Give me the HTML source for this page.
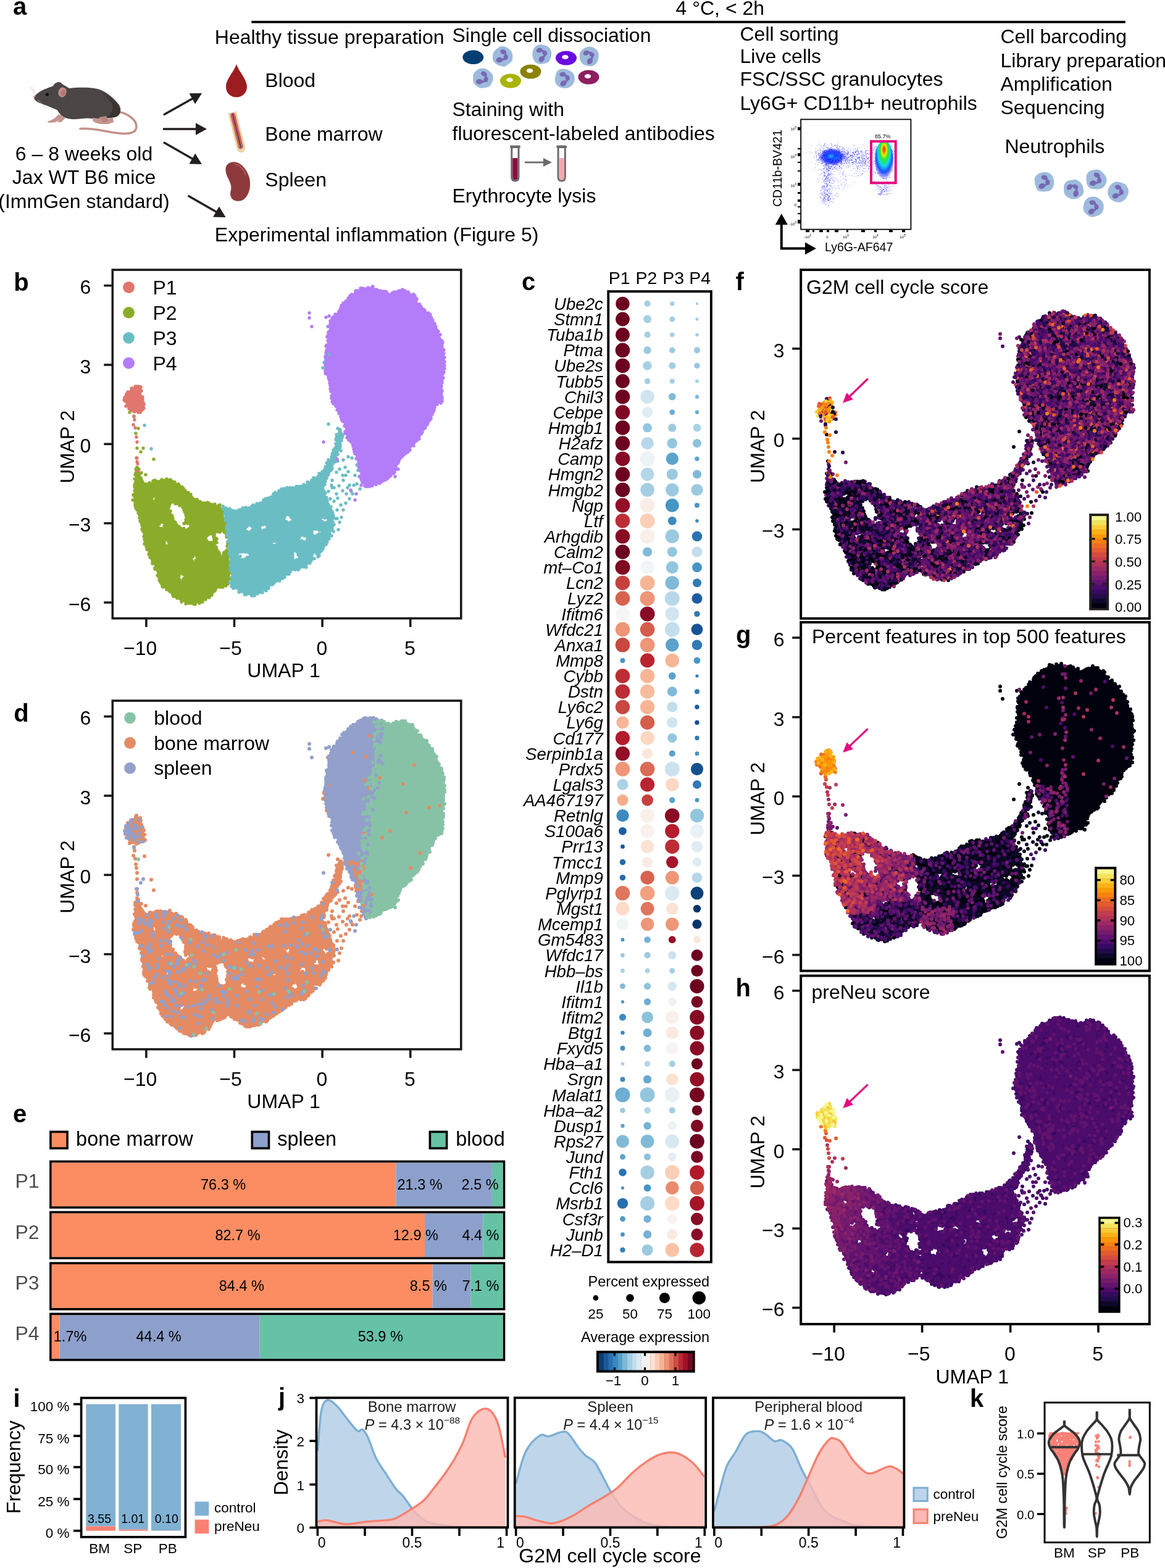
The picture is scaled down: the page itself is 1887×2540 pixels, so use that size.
<!DOCTYPE html><html><head><meta charset="utf-8"><title>Figure</title><style>html,body{margin:0;padding:0;background:#fff;width:1887px;height:2540px;overflow:hidden}svg{display:block}</style></head><body><svg xmlns="http://www.w3.org/2000/svg" width="1887" height="2540" viewBox="0 0 1887 2540" font-family="Liberation Sans, Helvetica, Arial, sans-serif"><rect width="1887" height="2540" fill="#fff"/><text x="21.0" y="23.6" font-size="40" font-weight="bold">a</text><path d="M407.3 35.7L1822.9 35.7" stroke="#000" stroke-width="3.8"/><text x="1094.5" y="23.6" font-size="32">4 °C, &lt; 2h</text><g><path d="M191 181 C205 183 221 193 221 205 C221 216 208 218 190 215.5 C170 213 150 207 130 208.5" stroke="#c4918b" stroke-width="3.6" fill="none" stroke-linecap="round"/><path d="M55.5 156.5 C60 150 70 145 80 141.5 L86 139.5 C88 134 95 132 99 135 L112 143 C125 141.5 145 141 158 144 C172 148 186 160 193 170 C197 177 196 185 189 189 C178 192 160 193 140 191.5 C128 192 118 195 108 191.5 C100 189 96 184 93 178.5 C84 174 72 170 62 166 C57 163 54 160 55.5 156.5Z" fill="#4b4545"/><path d="M165 150 C178 156 190 166 194 176 C196 184 192 188 186 190 C181 191 176 191.5 172 191 C180 186 184 178 182 170 C179 162 172 155 165 150Z" fill="#3a3332"/><path d="M89 137 C91 132 98 132 100 135 L98 141 L90 141Z" fill="#4b4545"/><ellipse cx="101" cy="149.5" rx="6.5" ry="8" fill="#c48e8a" transform="rotate(15 101 149.5)"/><ellipse cx="102.5" cy="150.5" rx="3.5" ry="5.5" fill="#b07872" transform="rotate(15 102.5 150.5)"/><circle cx="76.5" cy="153" r="2.6" fill="#111"/><circle cx="55.8" cy="156.5" r="1.8" fill="#c98c8c"/><path d="M95 185 L101 188 L97 194 L90 198 L80 199 L76 197 L82 195 L88 192Z" fill="#c69590"/><path d="M101 188 L106 191 L99 198 L93 198 L96 194Z" fill="#c69590"/><path d="M150 191 L160 192 L170 194 L183 190 L184 198 L175 201 L163 201 L155 199 L151 197Z" fill="#c69590"/><path d="M160 190 L172 188 L176 196 L168 199Z" fill="#b88580"/><path d="M56 152 L49 140 M57 151 L52 141 M60 161 L74 176 M62 162 L80 178" stroke="#b5b5b5" stroke-width="0.5" fill="none"/></g><text x="136.0" y="260.3" font-size="32" text-anchor="middle">6 – 8 weeks old</text><text x="136.0" y="297.8" font-size="32" text-anchor="middle">Jax WT B6 mice</text><text x="136.0" y="336.6" font-size="32" text-anchor="middle">(ImmGen standard)</text><path d="M265.0 186.0L313.1 158.9" stroke="#231f20" stroke-width="3.4"/><path d="M327.0 151.0L316.1 168.4L306.5 151.3Z" fill="#231f20"/><path d="M264.0 209.0L319.0 209.0" stroke="#231f20" stroke-width="3.4"/><path d="M335.0 209.0L317.0 218.8L317.0 199.2Z" fill="#231f20"/><path d="M265.0 230.5L313.1 258.0" stroke="#231f20" stroke-width="3.4"/><path d="M327.0 266.0L306.5 265.6L316.2 248.6Z" fill="#231f20"/><path d="M304.6 317.0L351.7 344.0" stroke="#231f20" stroke-width="3.4"/><path d="M365.6 352.0L345.1 351.5L354.9 334.5Z" fill="#231f20"/><text x="347.8" y="71.3" font-size="32">Healthy tissue preparation</text><path d="M383 103.5 C386 115 400 128 400 140.5 C400 150.5 392.5 157.5 383 157.5 C373.5 157.5 366 150.5 366 140.5 C366 128 380 115 383 103.5Z" fill="#9c1d20"/><text x="429.3" y="141.0" font-size="32">Blood</text><g transform="rotate(-14 384 214)"><rect x="377" y="181" width="14" height="67" rx="7" fill="#e8d6a7"/><rect x="377" y="181" width="14" height="4" fill="#e8d6a7"/><rect x="380" y="182" width="8" height="60" rx="4" fill="#d8604f"/><rect x="383.2" y="183" width="1.6" height="57" fill="#3d3a78"/></g><text x="429.3" y="227.7" font-size="32">Bone marrow</text><path d="M374 263 C385 259 398 270 403 285 C408 300 404 320 391 325 C380 328 370 322 374 308 C377 296 366 288 365.5 276 C365 269 368 265 374 263Z" fill="#8e3a3c"/><path d="M378 266 C386 265 395 273 398 284" stroke="#b86a6a" stroke-width="1.2" fill="none"/><text x="429.3" y="302.0" font-size="32">Spleen</text><text x="347.8" y="390.5" font-size="32">Experimental inflammation (Figure 5)</text><text x="732.5" y="67.7" font-size="32">Single cell dissociation</text><ellipse cx="766.3" cy="92.7" rx="16.9" ry="11.4" fill="#053e72"/><path d="M830.0 87.7Q830.5 91.4 830.2 95.2Q829.8 99.0 826.8 101.3Q823.8 103.7 820.8 106.1Q817.9 108.5 814.2 107.8Q810.4 107.1 807.1 105.6Q803.8 104.2 801.1 101.5Q798.5 98.9 798.1 95.1Q797.7 91.4 798.4 87.8Q799.0 84.2 801.7 81.8Q804.4 79.4 807.3 77.0Q810.2 74.7 813.9 75.0Q817.7 75.2 820.9 77.0Q824.0 78.8 826.8 81.4Q829.5 84.0 830.0 87.7Z" fill="#9dbadc"/><g transform="translate(814.0 91.4) rotate(10)" fill="#7769b3"><ellipse cx="0" cy="-7.5" rx="5.2" ry="3.8" transform="rotate(15 0 -7.5)"/><path d="M2 -6 Q7 -3 5 2 Q3 5 -1 6" stroke="#7769b3" stroke-width="3.2" fill="none" stroke-linecap="round"/><ellipse cx="5.2" cy="0.5" rx="3.6" ry="4.4"/><ellipse cx="-4" cy="6.5" rx="5.4" ry="4.3" transform="rotate(-20 -4 6.5)"/></g><path d="M893.1 84.3Q893.4 88.0 892.7 91.5Q891.9 95.0 890.1 98.2Q888.2 101.5 884.6 102.3Q881.0 103.2 877.4 103.7Q873.8 104.3 870.3 102.8Q866.9 101.3 865.1 98.1Q863.3 94.8 862.7 91.4Q862.0 88.0 862.6 84.5Q863.1 81.1 865.0 77.9Q867.0 74.8 870.4 73.3Q873.8 71.8 877.4 72.2Q881.0 72.7 884.3 74.0Q887.7 75.2 890.2 77.9Q892.7 80.7 893.1 84.3Z" fill="#9dbadc"/><g transform="translate(877.5 88.0) rotate(-30)" fill="#7769b3"><ellipse cx="0" cy="-7.5" rx="5.2" ry="3.8" transform="rotate(15 0 -7.5)"/><path d="M2 -6 Q7 -3 5 2 Q3 5 -1 6" stroke="#7769b3" stroke-width="3.2" fill="none" stroke-linecap="round"/><ellipse cx="5.2" cy="0.5" rx="3.6" ry="4.4"/><ellipse cx="-4" cy="6.5" rx="5.4" ry="4.3" transform="rotate(-20 -4 6.5)"/></g><ellipse cx="917" cy="94" rx="17" ry="11.5" fill="#6a0be0"/><ellipse cx="915.5" cy="92.5" rx="5.2" ry="3.6" fill="#fff"/><path d="M969.6 87.8Q969.8 91.4 969.2 94.8Q968.6 98.3 966.8 101.6Q965.0 104.8 961.5 106.3Q958.0 107.7 954.4 107.1Q950.8 106.6 947.5 105.4Q944.1 104.2 941.8 101.4Q939.5 98.5 939.0 95.0Q938.6 91.4 938.8 87.7Q938.9 84.0 941.8 81.6Q944.6 79.2 947.6 77.4Q950.7 75.6 954.3 75.4Q958.0 75.3 961.2 77.0Q964.5 78.6 966.9 81.4Q969.3 84.2 969.6 87.8Z" fill="#9dbadc"/><g transform="translate(954.3 91.4) rotate(-40)" fill="#7769b3"><ellipse cx="0" cy="-7.5" rx="5.2" ry="3.8" transform="rotate(15 0 -7.5)"/><path d="M2 -6 Q7 -3 5 2 Q3 5 -1 6" stroke="#7769b3" stroke-width="3.2" fill="none" stroke-linecap="round"/><ellipse cx="5.2" cy="0.5" rx="3.6" ry="4.4"/><ellipse cx="-4" cy="6.5" rx="5.4" ry="4.3" transform="rotate(-20 -4 6.5)"/></g><path d="M798.5 123.3Q799.5 127.0 798.2 130.6Q796.9 134.2 794.9 137.5Q793.0 140.8 789.2 141.5Q785.5 142.1 781.9 142.7Q778.3 143.3 775.1 141.5Q771.9 139.7 769.2 137.1Q766.5 134.5 766.4 130.7Q766.3 127.0 766.3 123.2Q766.4 119.5 769.0 116.7Q771.6 114.0 774.9 112.0Q778.1 110.0 781.9 110.5Q785.7 111.0 788.9 112.6Q792.2 114.2 794.8 116.9Q797.5 119.6 798.5 123.3Z" fill="#9dbadc"/><g transform="translate(782.0 127.0) rotate(15)" fill="#7769b3"><ellipse cx="0" cy="-7.5" rx="5.2" ry="3.8" transform="rotate(15 0 -7.5)"/><path d="M2 -6 Q7 -3 5 2 Q3 5 -1 6" stroke="#7769b3" stroke-width="3.2" fill="none" stroke-linecap="round"/><ellipse cx="5.2" cy="0.5" rx="3.6" ry="4.4"/><ellipse cx="-4" cy="6.5" rx="5.4" ry="4.3" transform="rotate(-20 -4 6.5)"/></g><ellipse cx="827" cy="131" rx="17" ry="11.5" fill="#a9b400"/><ellipse cx="825.5" cy="129.5" rx="5.2" ry="3.6" fill="#fff"/><ellipse cx="859.5" cy="116" rx="17" ry="11.5" fill="#8a8200"/><ellipse cx="858.0" cy="114.5" rx="5.2" ry="3.6" fill="#fff"/><path d="M930.5 123.8Q931.2 127.6 930.4 131.3Q929.5 135.1 926.9 137.8Q924.3 140.5 920.9 141.9Q917.6 143.2 914.1 142.9Q910.6 142.7 907.2 141.5Q903.9 140.3 901.6 137.5Q899.3 134.7 898.9 131.1Q898.6 127.6 899.3 124.2Q900.1 120.9 901.5 117.3Q903.0 113.8 906.6 112.5Q910.3 111.2 913.9 111.6Q917.5 112.1 920.9 113.5Q924.2 114.8 927.0 117.4Q929.9 120.0 930.5 123.8Z" fill="#9dbadc"/><g transform="translate(914.0 127.6) rotate(-20)" fill="#7769b3"><ellipse cx="0" cy="-7.5" rx="5.2" ry="3.8" transform="rotate(15 0 -7.5)"/><path d="M2 -6 Q7 -3 5 2 Q3 5 -1 6" stroke="#7769b3" stroke-width="3.2" fill="none" stroke-linecap="round"/><ellipse cx="5.2" cy="0.5" rx="3.6" ry="4.4"/><ellipse cx="-4" cy="6.5" rx="5.4" ry="4.3" transform="rotate(-20 -4 6.5)"/></g><ellipse cx="953.5" cy="125" rx="17" ry="11.5" fill="#8e1f5f"/><ellipse cx="952.0" cy="123.5" rx="5.2" ry="3.6" fill="#fff"/><text x="732.5" y="187.5" font-size="32">Staining with</text><text x="732.5" y="227.0" font-size="32">fluorescent-labeled antibodies</text><path d="M828.8 239 L828.8 287 Q828.8 293 834.4 293 Q840.0 293 840.0 287 L840.0 239" fill="#fff" stroke="#6b6b6b" stroke-width="3"/><path d="M830.3 256 L830.3 287 Q830.3 291.5 834.4 291.5 Q838.5 291.5 838.5 287 L838.5 256Z" fill="#8b0d42"/><rect x="825.9" y="235.5" width="17" height="4.5" rx="2" fill="#6b6b6b"/><path d="M904.1 239 L904.1 287 Q904.1 293 909.7 293 Q915.3 293 915.3 287 L915.3 239" fill="#fff" stroke="#6b6b6b" stroke-width="3"/><path d="M905.6 256 L905.6 287 Q905.6 291.5 909.7 291.5 Q913.8 291.5 913.8 287 L913.8 256Z" fill="#f6a7b4"/><rect x="901.2" y="235.5" width="17" height="4.5" rx="2" fill="#6b6b6b"/><path d="M850.0 263.0L882.0 263.0" stroke="#6b6b6b" stroke-width="2.8"/><path d="M894.0 263.0L880.0 270.0L880.0 256.0Z" fill="#6b6b6b"/><text x="732.5" y="327.8" font-size="32">Erythrocyte lysis</text><text x="1198.5" y="66.4" font-size="32">Cell sorting</text><text x="1198.5" y="101.5" font-size="32">Live cells</text><text x="1198.5" y="139.3" font-size="32">FSC/SSC granulocytes</text><text x="1198.5" y="178.3" font-size="32">Ly6G+ CD11b+ neutrophils</text><text x="1620.5" y="70.3" font-size="32">Cell barcoding</text><text x="1620.5" y="108.5" font-size="32">Library preparation</text><text x="1620.5" y="146.5" font-size="32">Amplification</text><text x="1620.5" y="184.5" font-size="32">Sequencing</text><text x="1627.5" y="248.4" font-size="32">Neutrophils</text><path d="M1706.9 291.5Q1707.5 295.0 1707.1 298.6Q1706.7 302.3 1704.5 305.3Q1702.2 308.3 1698.7 309.3Q1695.1 310.3 1691.6 310.4Q1688.0 310.6 1684.3 309.7Q1680.5 308.9 1678.9 305.4Q1677.4 301.9 1676.5 298.4Q1675.7 295.0 1675.6 291.1Q1675.5 287.3 1678.2 284.4Q1680.9 281.6 1684.4 280.3Q1687.9 278.9 1691.6 278.8Q1695.3 278.6 1698.8 280.1Q1702.3 281.6 1704.3 284.8Q1706.3 287.9 1706.9 291.5Z" fill="#9dbadc"/><g transform="translate(1691.6 295.0) rotate(0)" fill="#7769b3"><ellipse cx="0" cy="-7.5" rx="5.2" ry="3.8" transform="rotate(15 0 -7.5)"/><path d="M2 -6 Q7 -3 5 2 Q3 5 -1 6" stroke="#7769b3" stroke-width="3.2" fill="none" stroke-linecap="round"/><ellipse cx="5.2" cy="0.5" rx="3.6" ry="4.4"/><ellipse cx="-4" cy="6.5" rx="5.4" ry="4.3" transform="rotate(-20 -4 6.5)"/></g><path d="M1754.4 303.3Q1755.2 306.8 1755.1 310.7Q1755.1 314.5 1752.1 317.0Q1749.0 319.4 1745.8 320.9Q1742.6 322.4 1739.0 322.6Q1735.3 322.8 1732.1 321.1Q1728.9 319.4 1726.2 316.9Q1723.5 314.3 1723.3 310.5Q1723.1 306.8 1723.1 303.0Q1723.0 299.1 1725.5 296.1Q1728.0 293.0 1731.8 292.3Q1735.5 291.6 1739.1 290.9Q1742.8 290.3 1745.8 292.4Q1748.9 294.4 1751.3 297.1Q1753.6 299.8 1754.4 303.3Z" fill="#9dbadc"/><g transform="translate(1739.0 306.8) rotate(-60)" fill="#7769b3"><ellipse cx="0" cy="-7.5" rx="5.2" ry="3.8" transform="rotate(15 0 -7.5)"/><path d="M2 -6 Q7 -3 5 2 Q3 5 -1 6" stroke="#7769b3" stroke-width="3.2" fill="none" stroke-linecap="round"/><ellipse cx="5.2" cy="0.5" rx="3.6" ry="4.4"/><ellipse cx="-4" cy="6.5" rx="5.4" ry="4.3" transform="rotate(-20 -4 6.5)"/></g><path d="M1791.7 287.4Q1793.1 291.0 1792.2 294.8Q1791.3 298.7 1788.8 301.7Q1786.3 304.7 1782.7 305.8Q1779.0 306.8 1775.4 306.6Q1771.9 306.4 1768.1 305.7Q1764.3 305.0 1762.1 301.7Q1760.0 298.4 1759.9 294.7Q1759.8 291.0 1759.6 287.1Q1759.4 283.3 1761.8 280.1Q1764.2 277.0 1768.0 276.0Q1771.8 275.1 1775.5 274.5Q1779.3 273.9 1782.3 276.3Q1785.3 278.6 1787.8 281.2Q1790.4 283.8 1791.7 287.4Z" fill="#9dbadc"/><g transform="translate(1775.4 291.0) rotate(10)" fill="#7769b3"><ellipse cx="0" cy="-7.5" rx="5.2" ry="3.8" transform="rotate(15 0 -7.5)"/><path d="M2 -6 Q7 -3 5 2 Q3 5 -1 6" stroke="#7769b3" stroke-width="3.2" fill="none" stroke-linecap="round"/><ellipse cx="5.2" cy="0.5" rx="3.6" ry="4.4"/><ellipse cx="-4" cy="6.5" rx="5.4" ry="4.3" transform="rotate(-20 -4 6.5)"/></g><path d="M1827.6 307.0Q1828.6 310.8 1827.2 314.4Q1825.8 317.9 1823.8 321.1Q1821.8 324.3 1818.3 326.2Q1814.9 328.0 1811.1 327.8Q1807.2 327.5 1803.8 325.8Q1800.5 324.0 1797.9 321.2Q1795.3 318.4 1794.5 314.6Q1793.7 310.8 1794.8 307.2Q1795.9 303.5 1798.2 300.5Q1800.4 297.5 1803.8 295.7Q1807.1 293.9 1810.8 294.6Q1814.5 295.4 1818.1 296.4Q1821.7 297.4 1824.2 300.3Q1826.6 303.3 1827.6 307.0Z" fill="#9dbadc"/><g transform="translate(1811.0 310.8) rotate(0)" fill="#7769b3"><ellipse cx="0" cy="-7.5" rx="5.2" ry="3.8" transform="rotate(15 0 -7.5)"/><path d="M2 -6 Q7 -3 5 2 Q3 5 -1 6" stroke="#7769b3" stroke-width="3.2" fill="none" stroke-linecap="round"/><ellipse cx="5.2" cy="0.5" rx="3.6" ry="4.4"/><ellipse cx="-4" cy="6.5" rx="5.4" ry="4.3" transform="rotate(-20 -4 6.5)"/></g><path d="M1787.5 331.6Q1788.1 335.5 1787.3 339.3Q1786.6 343.1 1783.8 345.7Q1781.0 348.3 1777.7 349.6Q1774.3 350.8 1770.7 351.4Q1767.0 352.0 1763.9 350.0Q1760.8 348.0 1758.0 345.5Q1755.2 343.0 1754.8 339.3Q1754.4 335.5 1755.1 331.9Q1755.8 328.3 1757.7 324.9Q1759.6 321.5 1763.3 320.0Q1766.9 318.5 1770.8 318.4Q1774.7 318.3 1778.0 320.3Q1781.4 322.3 1784.1 325.0Q1786.9 327.8 1787.5 331.6Z" fill="#9dbadc"/><g transform="translate(1770.8 335.5) rotate(-10)" fill="#7769b3"><ellipse cx="0" cy="-7.5" rx="5.2" ry="3.8" transform="rotate(15 0 -7.5)"/><path d="M2 -6 Q7 -3 5 2 Q3 5 -1 6" stroke="#7769b3" stroke-width="3.2" fill="none" stroke-linecap="round"/><ellipse cx="5.2" cy="0.5" rx="3.6" ry="4.4"/><ellipse cx="-4" cy="6.5" rx="5.4" ry="4.3" transform="rotate(-20 -4 6.5)"/></g><rect x="1297.2" y="193.4" width="178.2" height="178.2" fill="#fff" stroke="#000" stroke-width="1.8"/><defs><radialGradient id="gL" cx="0.5" cy="0.5" r="0.5"><stop offset="0" stop-color="#1fd0ff"/><stop offset="0.35" stop-color="#1a8cff"/><stop offset="0.7" stop-color="#1c3cff" stop-opacity="0.8"/><stop offset="1" stop-color="#2020ff" stop-opacity="0"/></radialGradient><radialGradient id="gG" cx="0.5" cy="0.32" r="0.6" fx="0.5" fy="0.2"><stop offset="0" stop-color="#ff1a00"/><stop offset="0.12" stop-color="#ff7a00"/><stop offset="0.22" stop-color="#e8f000"/><stop offset="0.36" stop-color="#22e83a"/><stop offset="0.55" stop-color="#18d8e0"/><stop offset="0.75" stop-color="#1a50ff"/><stop offset="1" stop-color="#2020ff" stop-opacity="0"/></radialGradient></defs><ellipse cx="1348" cy="254" rx="22" ry="14" fill="url(#gL)"/><path transform="scale(0.5)" d="M2653 462h0m21 2h0m40 0h0m-23 1h0m-20 1h0m1 1h0m21 0h0m-23 1h0m25 0h0m18 1h0m83 0h0m-144 1h0m28 0h0m4 0h0m21 0h0m0 0h0m-77 1h0m41 0h0m2 0h0m24 0h0m9 0h0m6 0h0m54 0h0m4 0h0m-120 1h0m9 0h0m5 0h0m32 0h0m20 0h0m86 0h0m60 0h0m4 0h0m23 0h0m-220 1h0m38 0h0m132 0h0m10 0h0m0 0h0m7 0h0m0 0h0m5 0h0m5 0h0m1 0h0m5 0h0m3 0h0m3 0h0m8 0h0m5 0h0m-229 1h0m15 0h0m46 0h0m118 0h0m4 0h0m9 0h0m9 0h0m0 0h0m2 0h0m3 0h0m5 0h0m18 0h0m-190 1h0m15 0h0m7 0h0m91 0h0m27 0h0m7 0h0m1 0h0m4 0h0m5 0h0m6 0h0m1 0h0m3 0h0m4 0h0m4 0h0m2 0h0m6 0h0m18 0h0m-229 1h0m34 0h0m3 0h0m3 0h0m16 0h0m63 0h0m41 0h0m19 0h0m16 0h0m0 0h0m4 0h0m6 0h0m1 0h0m5 0h0m0 0h0m2 0h0m-218 1h0m10 0h0m8 0h0m10 0h0m142 0h0m15 0h0m12 0h0m2 0h0m2 0h0m0 0h0m0 0h0m7 0h0m6 0h0m-201 1h0m1 0h0m8 0h0m5 0h0m17 0h0m2 0h0m8 0h0m11 0h0m12 0h0m6 0h0m84 0h0m5 0h0m6 0h0m6 0h0m0 0h0m2 0h0m1 0h0m3 0h0m10 0h0m8 0h0m1 0h0m9 0h0m2 0h0m-222 1h0m26 0h0m42 0h0m47 0h0m60 0h0m3 0h0m2 0h0m1 0h0m5 0h0m14 0h0m1 0h0m3 0h0m8 0h0m0 0h0m3 0h0m-210 1h0m14 0h0m0 0h0m29 0h0m71 0h0m46 0h0m26 0h0m2 0h0m2 0h0m2 0h0m1 0h0m1 0h0m2 0h0m1 0h0m7 0h0m1 0h0m12 0h0m0 0h0m-228 1h0m30 0h0m28 0h0m15 0h0m40 0h0m6 0h0m66 0h0m0 0h0m12 0h0m0 0h0m3 0h0m2 0h0m6 0h0m5 0h0m3 0h0m2 0h0m6 0h0m-194 1h0m2 0h0m2 0h0m1 0h0m4 0h0m16 0h0m16 0h0m39 0h0m33 0h0m19 0h0m12 0h0m5 0h0m9 0h0m10 0h0m6 0h0m9 0h0m15 0h0m0 0h0m9 0h0m-253 1h0m39 0h0m5 0h0m0 0h0m1 0h0m7 0h0m8 0h0m4 0h0m10 0h0m0 0h0m3 0h0m3 0h0m13 0h0m13 0h0m7 0h0m83 0h0m7 0h0m12 0h0m1 0h0m3 0h0m4 0h0m3 0h0m3 0h0m1 0h0m3 0h0m1 0h0m-220 1h0m10 0h0m2 0h0m24 0h0m4 0h0m3 0h0m17 0h0m18 0h0m1 0h0m94 0h0m7 0h0m4 0h0m4 0h0m1 0h0m12 0h0m4 0h0m8 0h0m2 0h0m5 0h0m3 0h0m-221 1h0m17 0h0m4 0h0m4 0h0m0 0h0m4 0h0m3 0h0m2 0h0m2 0h0m0 0h0m1 0h0m7 0h0m4 0h0m15 0h0m6 0h0m50 0h0m63 0h0m19 0h0m2 0h0m1 0h0m3 0h0m1 0h0m1 0h0m3 0h0m1 0h0m3 0h0m-187 1h0m3 0h0m2 0h0m1 0h0m1 0h0m1 0h0m8 0h0m7 0h0m2 0h0m18 0h0m16 0h0m19 0h0m42 0h0m15 0h0m4 0h0m8 0h0m6 0h0m2 0h0m4 0h0m4 0h0m9 0h0m31 0h0m0 0h0m-237 1h0m4 0h0m4 0h0m13 0h0m2 0h0m10 0h0m3 0h0m5 0h0m7 0h0m12 0h0m5 0h0m1 0h0m4 0h0m20 0h0m30 0h0m6 0h0m26 0h0m6 0h0m18 0h0m0 0h0m18 0h0m0 0h0m12 0h0m2 0h0m2 0h0m5 0h0m1 0h0m1 0h0m1 0h0m-222 1h0m20 0h0m2 0h0m1 0h0m6 0h0m7 0h0m2 0h0m1 0h0m3 0h0m5 0h0m1 0h0m2 0h0m9 0h0m8 0h0m2 0h0m15 0h0m21 0h0m19 0h0m5 0h0m13 0h0m39 0h0m7 0h0m0 0h0m3 0h0m7 0h0m2 0h0m12 0h0m6 0h0m1 0h0m3 0h0m2 0h0m14 0h0m9 0h0m-252 1h0m24 0h0m2 0h0m2 0h0m5 0h0m2 0h0m3 0h0m0 0h0m0 0h0m3 0h0m13 0h0m5 0h0m6 0h0m9 0h0m11 0h0m18 0h0m7 0h0m38 0h0m13 0h0m4 0h0m35 0h0m8 0h0m4 0h0m2 0h0m2 0h0m2 0h0m5 0h0m2 0h0m2 0h0m1 0h0m7 0h0m4 0h0m7 0h0m1 0h0m-228 1h0m2 0h0m4 0h0m7 0h0m1 0h0m2 0h0m1 0h0m6 0h0m3 0h0m2 0h0m13 0h0m1 0h0m6 0h0m16 0h0m5 0h0m10 0h0m29 0h0m4 0h0m1 0h0m3 0h0m1 0h0m8 0h0m27 0h0m28 0h0m13 0h0m0 0h0m2 0h0m1 0h0m5 0h0m2 0h0m2 0h0m1 0h0m2 0h0m0 0h0m-248 1h0m41 0h0m1 0h0m6 0h0m2 0h0m11 0h0m1 0h0m4 0h0m1 0h0m7 0h0m1 0h0m1 0h0m1 0h0m5 0h0m1 0h0m0 0h0m2 0h0m1 0h0m1 0h0m4 0h0m1 0h0m2 0h0m2 0h0m2 0h0m6 0h0m1 0h0m7 0h0m1 0h0m11 0h0m26 0h0m15 0h0m1 0h0m15 0h0m32 0h0m4 0h0m4 0h0m7 0h0m24 0h0m3 0h0m4 0h0m0 0h0m5 0h0m3 0h0m1 0h0m6 0h0m-256 1h0m17 0h0m8 0h0m3 0h0m5 0h0m6 0h0m6 0h0m0 0h0m1 0h0m7 0h0m1 0h0m5 0h0m6 0h0m4 0h0m1 0h0m25 0h0m2 0h0m27 0h0m0 0h0m15 0h0m1 0h0m11 0h0m0 0h0m11 0h0m46 0h0m4 0h0m1 0h0m1 0h0m1 0h0m2 0h0m9 0h0m16 0h0m5 0h0m2 0h0m-247 1h0m2 0h0m12 0h0m1 0h0m10 0h0m3 0h0m4 0h0m5 0h0m0 0h0m12 0h0m4 0h0m1 0h0m5 0h0m3 0h0m4 0h0m4 0h0m3 0h0m3 0h0m3 0h0m10 0h0m3 0h0m0 0h0m13 0h0m0 0h0m23 0h0m1 0h0m1 0h0m21 0h0m8 0h0m24 0h0m20 0h0m6 0h0m6 0h0m3 0h0m2 0h0m6 0h0m5 0h0m10 0h0m-233 1h0m16 0h0m0 0h0m3 0h0m4 0h0m0 0h0m6 0h0m4 0h0m7 0h0m0 0h0m7 0h0m1 0h0m4 0h0m1 0h0m8 0h0m6 0h0m3 0h0m16 0h0m10 0h0m1 0h0m1 0h0m5 0h0m9 0h0m1 0h0m8 0h0m10 0h0m6 0h0m48 0h0m2 0h0m5 0h0m6 0h0m0 0h0m1 0h0m6 0h0m5 0h0m1 0h0m8 0h0m2 0h0m3 0h0m-251 1h0m7 0h0m39 0h0m0 0h0m2 0h0m2 0h0m0 0h0m2 0h0m1 0h0m4 0h0m3 0h0m1 0h0m1 0h0m2 0h0m3 0h0m1 0h0m8 0h0m1 0h0m1 0h0m2 0h0m3 0h0m2 0h0m0 0h0m2 0h0m3 0h0m0 0h0m3 0h0m0 0h0m1 0h0m3 0h0m0 0h0m18 0h0m5 0h0m17 0h0m3 0h0m6 0h0m2 0h0m22 0h0m11 0h0m22 0h0m13 0h0m15 0h0m1 0h0m5 0h0m5 0h0m8 0h0m18 0h0m21 0h0m-302 1h0m53 0h0m1 0h0m6 0h0m4 0h0m1 0h0m8 0h0m0 0h0m4 0h0m3 0h0m1 0h0m0 0h0m11 0h0m1 0h0m4 0h0m2 0h0m5 0h0m3 0h0m21 0h0m1 0h0m5 0h0m18 0h0m4 0h0m14 0h0m22 0h0m7 0h0m5 0h0m26 0h0m2 0h0m0 0h0m9 0h0m1 0h0m3 0h0m2 0h0m1 0h0m1 0h0m10 0h0m1 0h0m9 0h0m5 0h0m4 0h0m10 0h0m-247 1h0m4 0h0m8 0h0m2 0h0m16 0h0m0 0h0m6 0h0m5 0h0m0 0h0m5 0h0m32 0h0m5 0h0m6 0h0m0 0h0m3 0h0m4 0h0m16 0h0m46 0h0m24 0h0m5 0h0m16 0h0m3 0h0m5 0h0m4 0h0m0 0h0m2 0h0m2 0h0m14 0h0m9 0h0m-252 1h0m1 0h0m4 0h0m5 0h0m0 0h0m1 0h0m20 0h0m3 0h0m3 0h0m4 0h0m3 0h0m0 0h0m0 0h0m2 0h0m6 0h0m9 0h0m1 0h0m6 0h0m2 0h0m2 0h0m4 0h0m3 0h0m26 0h0m1 0h0m34 0h0m26 0h0m8 0h0m30 0h0m7 0h0m1 0h0m2 0h0m3 0h0m14 0h0m22 0h0m-239 1h0m25 0h0m2 0h0m5 0h0m3 0h0m2 0h0m3 0h0m4 0h0m1 0h0m5 0h0m3 0h0m1 0h0m4 0h0m0 0h0m2 0h0m8 0h0m8 0h0m5 0h0m7 0h0m1 0h0m4 0h0m17 0h0m9 0h0m3 0h0m3 0h0m1 0h0m1 0h0m1 0h0m12 0h0m6 0h0m9 0h0m31 0h0m1 0h0m12 0h0m4 0h0m3 0h0m3 0h0m24 0h0m-228 1h0m9 0h0m1 0h0m2 0h0m4 0h0m4 0h0m5 0h0m2 0h0m0 0h0m2 0h0m1 0h0m0 0h0m1 0h0m0 0h0m3 0h0m1 0h0m2 0h0m0 0h0m4 0h0m3 0h0m0 0h0m0 0h0m5 0h0m0 0h0m3 0h0m3 0h0m8 0h0m2 0h0m3 0h0m0 0h0m1 0h0m1 0h0m5 0h0m11 0h0m20 0h0m1 0h0m23 0h0m2 0h0m11 0h0m3 0h0m0 0h0m28 0h0m13 0h0m7 0h0m2 0h0m6 0h0m1 0h0m3 0h0m-216 1h0m1 0h0m16 0h0m1 0h0m2 0h0m1 0h0m2 0h0m4 0h0m2 0h0m1 0h0m5 0h0m4 0h0m3 0h0m1 0h0m9 0h0m4 0h0m0 0h0m1 0h0m3 0h0m2 0h0m2 0h0m1 0h0m1 0h0m12 0h0m8 0h0m7 0h0m1 0h0m9 0h0m7 0h0m6 0h0m3 0h0m5 0h0m4 0h0m36 0h0m25 0h0m7 0h0m4 0h0m6 0h0m21 0h0m13 0h0m-224 1h0m2 0h0m2 0h0m2 0h0m4 0h0m0 0h0m3 0h0m3 0h0m1 0h0m1 0h0m2 0h0m0 0h0m3 0h0m1 0h0m4 0h0m1 0h0m1 0h0m3 0h0m1 0h0m7 0h0m4 0h0m4 0h0m5 0h0m3 0h0m2 0h0m2 0h0m6 0h0m1 0h0m5 0h0m2 0h0m3 0h0m8 0h0m2 0h0m13 0h0m9 0h0m0 0h0m17 0h0m4 0h0m35 0h0m21 0h0m7 0h0m3 0h0m13 0h0m4 0h0m17 0h0m-241 1h0m9 0h0m4 0h0m1 0h0m2 0h0m2 0h0m1 0h0m0 0h0m3 0h0m0 0h0m3 0h0m9 0h0m2 0h0m1 0h0m1 0h0m0 0h0m2 0h0m4 0h0m2 0h0m1 0h0m4 0h0m1 0h0m5 0h0m5 0h0m4 0h0m17 0h0m5 0h0m13 0h0m1 0h0m1 0h0m2 0h0m1 0h0m34 0h0m49 0h0m1 0h0m19 0h0m28 0h0m-247 1h0m4 0h0m16 0h0m1 0h0m3 0h0m1 0h0m0 0h0m1 0h0m3 0h0m1 0h0m1 0h0m2 0h0m8 0h0m1 0h0m3 0h0m1 0h0m3 0h0m0 0h0m1 0h0m1 0h0m3 0h0m1 0h0m11 0h0m3 0h0m2 0h0m2 0h0m4 0h0m2 0h0m5 0h0m1 0h0m0 0h0m7 0h0m16 0h0m2 0h0m0 0h0m4 0h0m8 0h0m32 0h0m0 0h0m43 0h0m3 0h0m2 0h0m6 0h0m12 0h0m3 0h0m5 0h0m1 0h0m1 0h0m-232 1h0m8 0h0m2 0h0m7 0h0m4 0h0m1 0h0m4 0h0m8 0h0m3 0h0m1 0h0m3 0h0m3 0h0m3 0h0m0 0h0m1 0h0m1 0h0m5 0h0m6 0h0m4 0h0m0 0h0m4 0h0m0 0h0m0 0h0m6 0h0m3 0h0m1 0h0m0 0h0m3 0h0m0 0h0m1 0h0m0 0h0m1 0h0m3 0h0m0 0h0m23 0h0m24 0h0m9 0h0m3 0h0m1 0h0m12 0h0m50 0h0m2 0h0m12 0h0m1 0h0m16 0h0m-216 1h0m4 0h0m7 0h0m5 0h0m0 0h0m7 0h0m4 0h0m3 0h0m3 0h0m1 0h0m0 0h0m3 0h0m0 0h0m0 0h0m1 0h0m2 0h0m1 0h0m4 0h0m19 0h0m3 0h0m20 0h0m19 0h0m9 0h0m8 0h0m3 0h0m14 0h0m19 0h0m26 0h0m5 0h0m7 0h0m3 0h0m32 0h0m-243 1h0m4 0h0m19 0h0m6 0h0m0 0h0m10 0h0m0 0h0m0 0h0m3 0h0m0 0h0m2 0h0m2 0h0m3 0h0m1 0h0m3 0h0m3 0h0m1 0h0m3 0h0m0 0h0m2 0h0m5 0h0m2 0h0m3 0h0m2 0h0m4 0h0m1 0h0m4 0h0m11 0h0m2 0h0m5 0h0m4 0h0m1 0h0m2 0h0m7 0h0m25 0h0m10 0h0m18 0h0m15 0h0m8 0h0m3 0h0m4 0h0m6 0h0m3 0h0m3 0h0m3 0h0m1 0h0m3 0h0m12 0h0m-247 1h0m19 0h0m2 0h0m3 0h0m4 0h0m3 0h0m0 0h0m2 0h0m1 0h0m3 0h0m2 0h0m0 0h0m2 0h0m0 0h0m5 0h0m0 0h0m1 0h0m3 0h0m1 0h0m2 0h0m2 0h0m2 0h0m1 0h0m1 0h0m4 0h0m1 0h0m1 0h0m5 0h0m11 0h0m3 0h0m2 0h0m13 0h0m0 0h0m2 0h0m0 0h0m3 0h0m4 0h0m13 0h0m6 0h0m12 0h0m14 0h0m22 0h0m24 0h0m4 0h0m5 0h0m6 0h0m4 0h0m8 0h0m-220 1h0m27 0h0m1 0h0m0 0h0m6 0h0m2 0h0m7 0h0m3 0h0m3 0h0m0 0h0m0 0h0m1 0h0m3 0h0m1 0h0m2 0h0m5 0h0m0 0h0m2 0h0m1 0h0m1 0h0m12 0h0m11 0h0m1 0h0m4 0h0m4 0h0m6 0h0m1 0h0m9 0h0m4 0h0m0 0h0m18 0h0m5 0h0m14 0h0m6 0h0m1 0h0m27 0h0m11 0h0m7 0h0m13 0h0m2 0h0m7 0h0m1 0h0m5 0h0m-235 1h0m12 0h0m0 0h0m1 0h0m4 0h0m1 0h0m10 0h0m1 0h0m4 0h0m2 0h0m0 0h0m7 0h0m0 0h0m3 0h0m3 0h0m0 0h0m0 0h0m2 0h0m1 0h0m1 0h0m2 0h0m0 0h0m11 0h0m3 0h0m2 0h0m5 0h0m2 0h0m0 0h0m1 0h0m14 0h0m3 0h0m8 0h0m3 0h0m4 0h0m22 0h0m6 0h0m12 0h0m17 0h0m32 0h0m1 0h0m14 0h0m0 0h0m8 0h0m1 0h0m2 0h0m5 0h0m14 0h0m-252 1h0m17 0h0m3 0h0m7 0h0m1 0h0m9 0h0m1 0h0m11 0h0m0 0h0m9 0h0m1 0h0m0 0h0m7 0h0m4 0h0m7 0h0m1 0h0m3 0h0m4 0h0m2 0h0m1 0h0m1 0h0m3 0h0m8 0h0m7 0h0m5 0h0m12 0h0m19 0h0m4 0h0m1 0h0m1 0h0m0 0h0m6 0h0m2 0h0m20 0h0m2 0h0m34 0h0m10 0h0m13 0h0m3 0h0m-214 1h0m10 0h0m1 0h0m1 0h0m1 0h0m0 0h0m4 0h0m8 0h0m1 0h0m1 0h0m1 0h0m1 0h0m0 0h0m0 0h0m1 0h0m2 0h0m0 0h0m2 0h0m3 0h0m0 0h0m0 0h0m1 0h0m4 0h0m1 0h0m12 0h0m6 0h0m4 0h0m18 0h0m6 0h0m17 0h0m11 0h0m3 0h0m3 0h0m0 0h0m24 0h0m0 0h0m26 0h0m23 0h0m11 0h0m12 0h0m16 0h0m-244 1h0m3 0h0m7 0h0m6 0h0m3 0h0m3 0h0m5 0h0m1 0h0m5 0h0m6 0h0m2 0h0m0 0h0m4 0h0m2 0h0m2 0h0m0 0h0m0 0h0m2 0h0m1 0h0m15 0h0m1 0h0m3 0h0m1 0h0m0 0h0m1 0h0m7 0h0m1 0h0m2 0h0m3 0h0m4 0h0m2 0h0m1 0h0m12 0h0m10 0h0m12 0h0m4 0h0m1 0h0m9 0h0m4 0h0m1 0h0m1 0h0m2 0h0m12 0h0m30 0h0m4 0h0m11 0h0m4 0h0m12 0h0m6 0h0m-223 1h0m5 0h0m13 0h0m4 0h0m4 0h0m1 0h0m7 0h0m2 0h0m2 0h0m0 0h0m2 0h0m2 0h0m3 0h0m6 0h0m10 0h0m9 0h0m8 0h0m3 0h0m1 0h0m1 0h0m3 0h0m4 0h0m15 0h0m12 0h0m4 0h0m2 0h0m14 0h0m8 0h0m7 0h0m3 0h0m37 0h0m9 0h0m6 0h0m0 0h0m0 0h0m1 0h0m5 0h0m1 0h0m0 0h0m4 0h0m17 0h0m-236 1h0m8 0h0m2 0h0m1 0h0m11 0h0m4 0h0m5 0h0m1 0h0m3 0h0m1 0h0m3 0h0m11 0h0m1 0h0m2 0h0m2 0h0m2 0h0m0 0h0m1 0h0m11 0h0m4 0h0m25 0h0m17 0h0m1 0h0m29 0h0m9 0h0m46 0h0m20 0h0m0 0h0m-231 1h0m4 0h0m2 0h0m10 0h0m6 0h0m6 0h0m2 0h0m2 0h0m0 0h0m1 0h0m2 0h0m3 0h0m0 0h0m1 0h0m1 0h0m4 0h0m1 0h0m1 0h0m1 0h0m1 0h0m2 0h0m1 0h0m3 0h0m8 0h0m8 0h0m22 0h0m4 0h0m3 0h0m2 0h0m11 0h0m2 0h0m13 0h0m22 0h0m8 0h0m10 0h0m1 0h0m37 0h0m2 0h0m4 0h0m7 0h0m4 0h0m-200 1h0m4 0h0m1 0h0m1 0h0m1 0h0m1 0h0m6 0h0m0 0h0m1 0h0m1 0h0m0 0h0m1 0h0m3 0h0m0 0h0m1 0h0m2 0h0m8 0h0m6 0h0m8 0h0m1 0h0m0 0h0m12 0h0m0 0h0m2 0h0m17 0h0m7 0h0m9 0h0m10 0h0m13 0h0m1 0h0m11 0h0m53 0h0m12 0h0m3 0h0m1 0h0m3 0h0m10 0h0m6 0h0m-233 1h0m3 0h0m6 0h0m0 0h0m9 0h0m14 0h0m2 0h0m1 0h0m3 0h0m0 0h0m1 0h0m0 0h0m5 0h0m1 0h0m1 0h0m4 0h0m2 0h0m4 0h0m6 0h0m0 0h0m2 0h0m0 0h0m3 0h0m2 0h0m1 0h0m18 0h0m2 0h0m1 0h0m6 0h0m10 0h0m14 0h0m2 0h0m4 0h0m7 0h0m4 0h0m17 0h0m2 0h0m36 0h0m2 0h0m5 0h0m12 0h0m13 0h0m6 0h0m-234 1h0m5 0h0m3 0h0m16 0h0m6 0h0m2 0h0m3 0h0m8 0h0m0 0h0m1 0h0m6 0h0m0 0h0m2 0h0m6 0h0m1 0h0m3 0h0m0 0h0m1 0h0m2 0h0m3 0h0m10 0h0m5 0h0m3 0h0m10 0h0m9 0h0m1 0h0m4 0h0m2 0h0m2 0h0m13 0h0m11 0h0m8 0h0m4 0h0m1 0h0m3 0h0m7 0h0m46 0h0m4 0h0m4 0h0m5 0h0m-219 1h0m15 0h0m2 0h0m4 0h0m7 0h0m3 0h0m3 0h0m2 0h0m6 0h0m6 0h0m2 0h0m1 0h0m1 0h0m5 0h0m4 0h0m2 0h0m1 0h0m4 0h0m2 0h0m1 0h0m4 0h0m3 0h0m11 0h0m1 0h0m1 0h0m11 0h0m2 0h0m2 0h0m4 0h0m3 0h0m12 0h0m1 0h0m12 0h0m12 0h0m17 0h0m33 0h0m7 0h0m12 0h0m2 0h0m-197 1h0m3 0h0m1 0h0m1 0h0m1 0h0m1 0h0m4 0h0m6 0h0m6 0h0m2 0h0m1 0h0m3 0h0m1 0h0m1 0h0m4 0h0m7 0h0m1 0h0m4 0h0m0 0h0m1 0h0m20 0h0m6 0h0m44 0h0m14 0h0m12 0h0m28 0h0m1 0h0m3 0h0m9 0h0m0 0h0m4 0h0m0 0h0m2 0h0m1 0h0m6 0h0m3 0h0m3 0h0m3 0h0m3 0h0m-238 1h0m12 0h0m4 0h0m2 0h0m10 0h0m6 0h0m9 0h0m0 0h0m2 0h0m0 0h0m2 0h0m0 0h0m4 0h0m1 0h0m11 0h0m1 0h0m0 0h0m14 0h0m4 0h0m0 0h0m10 0h0m4 0h0m6 0h0m0 0h0m22 0h0m6 0h0m13 0h0m3 0h0m6 0h0m7 0h0m7 0h0m23 0h0m0 0h0m11 0h0m9 0h0m1 0h0m2 0h0m4 0h0m1 0h0m16 0h0m6 0h0m-212 1h0m9 0h0m3 0h0m1 0h0m1 0h0m2 0h0m1 0h0m6 0h0m1 0h0m1 0h0m1 0h0m3 0h0m4 0h0m2 0h0m1 0h0m0 0h0m0 0h0m10 0h0m3 0h0m4 0h0m2 0h0m8 0h0m13 0h0m18 0h0m5 0h0m11 0h0m13 0h0m10 0h0m0 0h0m10 0h0m39 0h0m3 0h0m24 0h0m1 0h0m7 0h0m4 0h0m-227 1h0m7 0h0m1 0h0m3 0h0m0 0h0m5 0h0m4 0h0m1 0h0m2 0h0m5 0h0m3 0h0m1 0h0m2 0h0m4 0h0m4 0h0m4 0h0m2 0h0m3 0h0m3 0h0m6 0h0m2 0h0m11 0h0m15 0h0m11 0h0m9 0h0m2 0h0m21 0h0m0 0h0m5 0h0m70 0h0m4 0h0m9 0h0m3 0h0m-237 1h0m6 0h0m13 0h0m4 0h0m0 0h0m3 0h0m3 0h0m2 0h0m0 0h0m10 0h0m0 0h0m1 0h0m1 0h0m1 0h0m0 0h0m1 0h0m0 0h0m3 0h0m4 0h0m2 0h0m4 0h0m0 0h0m2 0h0m3 0h0m6 0h0m5 0h0m17 0h0m21 0h0m3 0h0m5 0h0m2 0h0m22 0h0m4 0h0m16 0h0m32 0h0m7 0h0m7 0h0m29 0h0m-223 1h0m3 0h0m0 0h0m5 0h0m1 0h0m14 0h0m3 0h0m7 0h0m2 0h0m12 0h0m0 0h0m0 0h0m3 0h0m1 0h0m9 0h0m15 0h0m7 0h0m11 0h0m11 0h0m14 0h0m1 0h0m4 0h0m1 0h0m12 0h0m2 0h0m5 0h0m18 0h0m20 0h0m17 0h0m0 0h0m7 0h0m1 0h0m4 0h0m13 0h0m-259 1h0m24 0h0m8 0h0m3 0h0m19 0h0m3 0h0m6 0h0m1 0h0m1 0h0m0 0h0m9 0h0m5 0h0m2 0h0m0 0h0m11 0h0m3 0h0m0 0h0m5 0h0m8 0h0m22 0h0m1 0h0m2 0h0m11 0h0m5 0h0m25 0h0m9 0h0m31 0h0m4 0h0m8 0h0m14 0h0m41 0h0m-247 1h0m13 0h0m1 0h0m4 0h0m10 0h0m5 0h0m5 0h0m2 0h0m21 0h0m1 0h0m1 0h0m8 0h0m1 0h0m6 0h0m7 0h0m2 0h0m1 0h0m11 0h0m3 0h0m8 0h0m7 0h0m2 0h0m4 0h0m2 0h0m3 0h0m0 0h0m6 0h0m3 0h0m13 0h0m33 0h0m7 0h0m18 0h0m3 0h0m-214 1h0m2 0h0m25 0h0m3 0h0m0 0h0m2 0h0m4 0h0m0 0h0m3 0h0m5 0h0m5 0h0m6 0h0m7 0h0m20 0h0m20 0h0m22 0h0m11 0h0m5 0h0m3 0h0m40 0h0m20 0h0m2 0h0m8 0h0m2 0h0m2 0h0m0 0h0m7 0h0m-210 1h0m2 0h0m3 0h0m4 0h0m1 0h0m2 0h0m0 0h0m3 0h0m5 0h0m9 0h0m0 0h0m1 0h0m3 0h0m5 0h0m17 0h0m14 0h0m0 0h0m7 0h0m6 0h0m21 0h0m8 0h0m6 0h0m8 0h0m16 0h0m18 0h0m13 0h0m7 0h0m8 0h0m16 0h0m15 0h0m-252 1h0m18 0h0m3 0h0m6 0h0m0 0h0m5 0h0m4 0h0m2 0h0m1 0h0m3 0h0m5 0h0m12 0h0m2 0h0m0 0h0m1 0h0m6 0h0m14 0h0m4 0h0m4 0h0m4 0h0m32 0h0m11 0h0m17 0h0m8 0h0m5 0h0m27 0h0m28 0h0m7 0h0m5 0h0m24 0h0m-223 1h0m0 0h0m2 0h0m0 0h0m1 0h0m12 0h0m3 0h0m7 0h0m5 0h0m4 0h0m1 0h0m52 0h0m38 0h0m56 0h0m2 0h0m2 0h0m12 0h0m16 0h0m-240 1h0m22 0h0m5 0h0m8 0h0m14 0h0m4 0h0m4 0h0m0 0h0m3 0h0m4 0h0m12 0h0m38 0h0m9 0h0m16 0h0m17 0h0m23 0h0m19 0h0m15 0h0m8 0h0m4 0h0m-201 1h0m2 0h0m1 0h0m1 0h0m3 0h0m4 0h0m11 0h0m1 0h0m3 0h0m0 0h0m10 0h0m4 0h0m2 0h0m4 0h0m9 0h0m33 0h0m35 0h0m15 0h0m9 0h0m1 0h0m52 0h0m3 0h0m4 0h0m-197 1h0m21 0h0m4 0h0m1 0h0m7 0h0m8 0h0m8 0h0m20 0h0m49 0h0m7 0h0m38 0h0m12 0h0m13 0h0m4 0h0m-202 1h0m4 0h0m3 0h0m0 0h0m4 0h0m14 0h0m3 0h0m32 0h0m11 0h0m32 0h0m6 0h0m0 0h0m13 0h0m57 0h0m3 0h0m9 0h0m0 0h0m7 0h0m-205 1h0m2 0h0m6 0h0m12 0h0m0 0h0m26 0h0m7 0h0m54 0h0m14 0h0m2 0h0m4 0h0m5 0h0m14 0h0m4 0h0m27 0h0m7 0h0m5 0h0m5 0h0m1 0h0m0 0h0m20 0h0m-209 1h0m3 0h0m1 0h0m6 0h0m7 0h0m4 0h0m2 0h0m4 0h0m50 0h0m5 0h0m26 0h0m26 0h0m26 0h0m9 0h0m11 0h0m-183 1h0m12 0h0m4 0h0m1 0h0m4 0h0m5 0h0m12 0h0m12 0h0m1 0h0m28 0h0m14 0h0m28 0h0m25 0h0m24 0h0m27 0h0m-174 1h0m2 0h0m10 0h0m4 0h0m12 0h0m1 0h0m59 0h0m0 0h0m69 0h0m5 0h0m4 0h0m-181 1h0m6 0h0m12 0h0m0 0h0m9 0h0m90 0h0m12 0h0m8 0h0m34 0h0m3 0h0m12 0h0m-222 1h0m30 0h0m4 0h0m5 0h0m5 0h0m0 0h0m1 0h0m4 0h0m4 0h0m8 0h0m0 0h0m13 0h0m5 0h0m23 0h0m32 0h0m2 0h0m80 0h0m3 0h0m-176 1h0m20 0h0m5 0h0m16 0h0m23 0h0m38 0h0m57 0h0m4 0h0m34 0h0m-209 1h0m4 0h0m15 0h0m8 0h0m4 0h0m19 0h0m57 0h0m36 0h0m46 0h0m1 0h0m18 0h0m-212 1h0m18 0h0m1 0h0m1 0h0m2 0h0m1 0h0m0 0h0m35 0h0m4 0h0m35 0h0m17 0h0m15 0h0m3 0h0m0 0h0m53 0h0m-186 1h0m6 0h0m6 0h0m0 0h0m5 0h0m2 0h0m0 0h0m10 0h0m9 0h0m13 0h0m2 0h0m57 0h0m72 0h0m0 0h0m30 0h0m5 0h0m-213 1h0m6 0h0m8 0h0m13 0h0m12 0h0m1 0h0m1 0h0m57 0h0m36 0h0m8 0h0m0 0h0m1 0h0m40 0h0m3 0h0m10 0h0m1 0h0m8 0h0m-209 1h0m1 0h0m13 0h0m1 0h0m8 0h0m1 0h0m9 0h0m6 0h0m2 0h0m18 0h0m52 0h0m60 0h0m14 0h0m14 0h0m-229 1h0m18 0h0m23 0h0m2 0h0m15 0h0m3 0h0m81 0h0m6 0h0m64 0h0m8 0h0m5 0h0m4 0h0m12 0h0m-198 1h0m105 0h0m54 0h0m17 0h0m1 0h0m0 0h0m14 0h0m10 0h0m10 0h0m-239 1h0m8 0h0m2 0h0m13 0h0m1 0h0m7 0h0m2 0h0m28 0h0m4 0h0m138 0h0m27 0h0m12 0h0m-212 1h0m3 0h0m2 0h0m2 0h0m69 0h0m97 0h0m-192 1h0m20 0h0m113 0h0m52 0h0m7 0h0m12 0h0m6 0h0m5 0h0m11 0h0m-210 1h0m7 0h0m37 0h0m11 0h0m39 0h0m23 0h0m12 0h0m6 0h0m64 0h0m-209 1h0m14 0h0m18 0h0m77 0h0m79 0h0m27 0h0m-216 1h0m10 0h0m0 0h0m14 0h0m14 0h0m96 0h0m46 0h0m21 0h0m2 0h0m-139 1h0m53 0h0m51 0h0m28 0h0m15 0h0m-209 1h0m0 0h0m12 0h0m174 0h0m-186 1h0m0 0h0m4 0h0m47 0h0m113 0h0m1 0h0m34 0h0m0 0h0m-207 1h0m68 0h0m4 0h0m110 0h0m0 0h0m10 0h0m1 0h0m7 0h0m-196 1h0m5 0h0m19 0h0m85 0h0m62 0h0m7 0h0m4 0h0m8 0h0m2 0h0m2 0h0m-185 1h0m8 0h0m0 0h0m2 0h0m9 0h0m0 0h0m88 0h0m11 0h0m-105 1h0m41 0h0m40 0h0m27 0h0m29 0h0m24 0h0m-189 1h0m11 0h0m0 0h0m5 0h0m7 0h0m3 0h0m4 0h0m30 0h0m10 0h0m64 0h0m-112 1h0m5 0h0m4 0h0m7 0h0m92 0h0m0 0h0m38 0h0m46 0h0m-215 1h0m10 0h0m18 0h0m12 0h0m31 0h0m-50 1h0m1 0h0m5 0h0m1 0h0m6 0h0m44 0h0m-83 1h0m28 0h0m1 0h0m69 0h0m99 0h0m4 0h0m20 0h0m-206 1h0m2 0h0m3 0h0m7 0h0m4 0h0m75 0h0m20 0h0m7 0h0m82 0h0m4 0h0m-204 1h0m2 0h0m2 0h0m0 0h0m16 0h0m43 0h0m10 0h0m37 0h0m102 0h0m-205 1h0m24 0h0m157 0h0m-180 1h0m8 0h0m38 0h0m17 0h0m28 0h0m73 0h0m-164 1h0m1 0h0m0 0h0m3 0h0m-14 1h0m9 0h0m63 0h0m134 0h0m13 0h0m-207 1h0m7 0h0m10 0h0m186 0h0m-206 1h0m7 0h0m176 0h0m2 0h0m21 0h0m-228 1h0m20 0h0m31 0h0m-40 1h0m9 0h0m2 0h0m5 0h0m1 0h0m11 0h0m3 0h0m37 0h0m136 0h0m-193 1h0m2 0h0m0 0h0m4 0h0m8 0h0m172 0h0m0 0h0m2 0h0m8 0h0m-208 1h0m22 0h0m185 0h0m-198 1h0m2 0h0m2 0h0m4 0h0m19 0h0m10 0h0m29 0h0m-88 1h0m20 0h0m1 0h0m13 0h0m5 0h0m47 0h0m-50 1h0m1 0h0m28 0h0m27 0h0m111 0h0m18 0h0m-205 1h0m14 0h0m9 0h0m7 0h0m2 0h0m24 0h0m-53 1h0m8 0h0m2 0h0m23 0h0m-33 1h0m13 0h0m164 0h0m29 0h0m-206 1h0m17 0h0m3 0h0m21 0h0m-37 1h0m2 0h0m10 0h0m0 0h0m16 0h0m131 0h0m39 0h0m-210 1h0m11 0h0m7 0h0m57 0h0m-86 1h0m17 0h0m11 0h0m21 0h0m20 0h0m46 0h0m64 0h0m-143 1h0m0 0h0m3 0h0m-16 1h0m13 0h0m172 0h0m2 0h0m-183 1h0m16 0h0m160 0h0m-184 1h0m22 0h0m6 0h0m168 0h0m-193 1h0m1 0h0m4 0h0m1 0h0m6 0h0m14 0h0m42 0h0m91 0h0m9 0h0m13 0h0m15 0h0m5 0h0m-149 1h0m133 0h0m-180 1h0m1 0h0m1 1h0m3 0h0m43 0h0m112 0h0m0 0h0m23 0h0m-174 1h0m51 0h0m-60 1h0m1 0h0m1 0h0m56 0h0m105 0h0m3 0h0m21 0h0m2 0h0m4 0h0m8 0h0m-214 1h0m5 0h0m11 0h0m7 0h0m6 0h0m33 0h0m26 0h0m-83 1h0m20 0h0m26 0h0m1 0h0m-46 1h0m8 0h0m3 0h0m62 0h0m96 0h0m3 0h0m2 0h0m2 0h0m3 0h0m16 0h0m4 0h0m6 0h0m-214 1h0m4 0h0m2 0h0m2 0h0m8 0h0m1 0h0m12 0h0m192 0h0m6 0h0m9 0h0m-232 1h0m3 0h0m1 0h0m6 0h0m16 0h0m11 0h0m164 0h0m-202 1h0m4 0h0m11 0h0m54 0h0m117 0h0m3 0h0m-183 1h0m7 0h0m171 0h0m5 0h0m8 0h0m11 0h0m1 0h0m-214 1h0m4 0h0m7 0h0m27 0h0m168 0h0m0 0h0m9 0h0m5 0h0m-205 1h0m21 0h0m15 0h0m7 0h0m152 0h0m10 0h0m-217 1h0m2 0h0m24 0h0m5 0h0m41 0h0m107 0h0m9 0h0m5 0h0m11 0h0m3 0h0m-202 1h0m17 0h0m32 0h0m128 0h0m-176 1h0m8 0h0m30 0h0m149 0h0m2 0h0m4 0h0m12 0h0m-202 1h0m2 0h0m12 0h0m4 0h0m161 0h0m9 0h0m-197 1h0m5 0h0m6 0h0m7 0h0m3 0h0m45 0h0m106 0h0m15 0h0m13 0h0m2 0h0m5 0h0m1 0h0m17 0h0m-199 1h0m166 0h0m6 0h0m1 0h0m9 0h0m-175 1h0m166 0h0m10 0h0m12 0h0m-226 1h0m4 0h0m9 0h0m7 0h0m2 0h0m0 0h0m177 0h0m1 0h0m-187 1h0m0 0h0m4 0h0m4 0h0m8 0h0m163 0h0m9 0h0m8 0h0m14 0h0m-201 1h0m1 0h0m164 0h0m9 0h0m3 0h0m11 0h0m5 0h0m2 0h0m4 0h0m-219 1h0m34 0h0m169 0h0m3 0h0m4 0h0m-202 1h0m14 0h0m6 0h0m170 0h0m6 0h0m-194 1h0m7 0h0m177 0h0m5 0h0m6 0h0m-200 1h0m22 0h0m167 0h0m3 0h0m-186 1h0m187 0h0m14 0h0m-211 1h0m9 0h0m3 0h0m10 0h0m8 0h0m165 0h0m-196 1h0m13 0h0m24 0h0m13 0h0m135 0h0m8 0h0m1 0h0m1 0h0m21 0h0m5 0h0m-209 1h0m4 0h0m11 0h0m4 0h0m1 0h0m1 0h0m19 0h0m136 0h0m1 0h0m27 0h0m-214 1h0m3 0h0m4 0h0m7 0h0m9 0h0m168 0h0m27 0h0m7 0h0m-230 1h0m21 0h0m1 0h0m0 0h0m170 0h0m4 0h0m4 0h0m4 0h0m13 0h0m-210 1h0m9 0h0m8 0h0m164 0h0m4 0h0m3 0h0m0 0h0m18 0h0m1 0h0m-204 1h0m8 0h0m1 0h0m2 0h0m3 0h0m0 0h0m1 0h0m11 0h0m152 0h0m1 0h0m6 0h0m10 0h0m5 0h0m-206 1h0m30 0h0m17 0h0m146 0h0m-189 1h0m5 0h0m11 0h0m1 0h0m23 0h0m-35 1h0m3 0h0m3 0h0m5 0h0m5 0h0m11 0h0m-9 1h0m-16 1h0m4 0h0m9 0h0m0 0h0m0 0h0m1 0h0m27 0h0m0 0h0m-46 1h0m7 0h0m-15 1h0m13 0h0m13 0h0m2 0h0m-30 1h0m11 0h0m11 0h0m5 0h0m3 0h0m-15 1h0m-13 1h0m12 0h0m1 0h0m1 0h0m9 0h0m1 0h0m17 0h0m-29 1h0m10 0h0m10 0h0m7 0h0m-36 1h0m8 0h0m12 0h0m2 0h0m5 0h0m-21 1h0m1 0h0m4 0h0m-9 1h0m3 0h0m15 0h0m7 0h0m3 0h0m-25 1h0m7 0h0m0 0h0m4 0h0m6 0h0m15 0h0m-30 1h0m11 0h0m1 1h0m2 0h0m1 0h0m3 0h0m4 0h0m-22 1h0m5 0h0m5 0h0m4 0h0m4 0h0m-24 1h0m9 0h0m13 0h0m-22 1h0m4 0h0m2 0h0m14 0h0m-9 2h0m6 0h0m7 0h0m5 0h0m-25 1h0m7 0h0m21 0h0m2 0h0m-26 1h0m-13 1h0m13 0h0m16 0h0m-22 2h0m17 0h0m-13 2h0m10 0h0m-4 3h0m-1 1h0m10 1h0m-1 2h0" stroke="#1a1aff" stroke-width="1.8" stroke-linecap="round" stroke-opacity="0.75"/><ellipse cx="1346" cy="253" rx="10" ry="7" fill="url(#gL)" opacity="0.8"/><ellipse cx="1432" cy="262" rx="15" ry="35" fill="url(#gG)"/><rect x="1411" y="229" width="39.7" height="67.3" fill="none" stroke="#e4087f" stroke-width="4"/><text x="1429.8" y="223.5" font-size="9" text-anchor="middle">85.7%</text><rect x="1292" y="206" width="4.6" height="5" fill="#000"/><rect x="1292" y="240" width="4.6" height="2" fill="#000"/><rect x="1292" y="248" width="4.6" height="5" fill="#000"/><rect x="1292" y="262" width="4.6" height="2" fill="#000"/><rect x="1292" y="276" width="4.6" height="2" fill="#000"/><rect x="1292" y="296" width="4.6" height="5" fill="#000"/><rect x="1292" y="311" width="4.6" height="3" fill="#000"/><rect x="1292" y="323" width="4.6" height="4" fill="#000"/><rect x="1292" y="334" width="4.6" height="2" fill="#000"/><rect x="1292" y="345" width="4.6" height="2" fill="#000"/><rect x="1292" y="356" width="4.6" height="6" fill="#000"/><rect x="1305" y="372.5" width="6" height="3.6" fill="#000"/><rect x="1316" y="372.5" width="3" height="3.6" fill="#000"/><rect x="1327" y="372.5" width="6" height="3.6" fill="#000"/><rect x="1339" y="372.5" width="4" height="3.6" fill="#000"/><rect x="1352" y="372.5" width="6" height="3.6" fill="#000"/><rect x="1371" y="372.5" width="3" height="3.6" fill="#000"/><rect x="1395" y="372.5" width="6" height="3.6" fill="#000"/><rect x="1416" y="372.5" width="4" height="3.6" fill="#000"/><rect x="1440" y="372.5" width="6" height="3.6" fill="#000"/><rect x="1461" y="372.5" width="5" height="3.6" fill="#000"/><text x="1290.0" y="211.0" font-size="6" text-anchor="end">10<tspan dy="-3" font-size="5">5</tspan></text><text x="1290.0" y="256.0" font-size="6" text-anchor="end">10<tspan dy="-3" font-size="5">4</tspan></text><text x="1290.0" y="303.0" font-size="6" text-anchor="end">10<tspan dy="-3" font-size="5">3</tspan></text><text x="1290.0" y="334.0" font-size="6" text-anchor="end">0</text><text x="1290.0" y="365.0" font-size="6" text-anchor="end">-10<tspan dy="-3" font-size="5">3</tspan></text><text x="1308.0" y="386.0" font-size="6" text-anchor="middle">-10<tspan dy="-3" font-size="5">3</tspan></text><text x="1340.0" y="386.0" font-size="6" text-anchor="middle">0</text><text x="1370.0" y="386.0" font-size="6" text-anchor="middle">10<tspan dy="-3" font-size="5">3</tspan></text><text x="1418.0" y="386.0" font-size="6" text-anchor="middle">10<tspan dy="-3" font-size="5">4</tspan></text><text x="1462.0" y="386.0" font-size="6" text-anchor="middle">10<tspan dy="-3" font-size="5">5</tspan></text><text x="1266.0" y="272.6" font-size="19.6" text-anchor="middle" transform="rotate(-90 1266.0 272.6)">CD11b-BV421</text><path d="M1265.8 362 V402.5 H1307" stroke="#000" stroke-width="4" fill="none"/><path d="M1265.8 346 L1275.8 364 L1255.8 364Z M1322 402.5 L1304 392.5 L1304 412.5Z" fill="#000"/><text x="1336.0" y="407.3" font-size="19.6">Ly6G-AF647</text><text x="22.3" y="471.3" font-size="40" font-weight="bold">b</text><path d="M366.1 866.5L364.5 850.2L361.5 830.4L357.4 820.0L341.2 816.5L341.1 816.5L321.7 811.7L321.6 811.6L321.4 811.5L321.3 811.5L321.2 811.4L309.1 801.7L309.0 801.6L292.1 787.2L280.4 780.1L266.4 776.6L249.8 780.2L249.8 780.2L235.3 782.7L235.1 782.7L234.9 782.7L234.8 782.7L234.6 782.7L234.5 782.6L234.4 782.6L234.2 782.5L234.1 782.4L234.0 782.3L233.9 782.2L225.9 773.0L225.8 772.9L225.7 772.7L225.6 772.6L225.6 772.5L225.5 772.3L225.5 772.2L224.2 760.5L220.3 760.5L219.0 772.1L218.3 788.5L218.3 788.6L215.9 810.0L220.6 821.7L226.7 836.3L226.7 836.5L226.8 836.6L231.6 860.7L231.6 860.8L234.0 880.0L241.2 896.8L250.9 918.6L250.9 918.7L258.2 937.9L265.2 952.1L279.4 964.0L293.7 973.6L307.8 979.4L321.6 977.1L335.8 970.0L348.9 955.0L349.0 954.9L349.1 954.8L349.2 954.7L349.4 954.6L349.5 954.6L361.4 950.6L370.6 945.1L371.5 930.0L370.5 910.1L368.3 888.2L367.5 893.2L367.5 893.4L367.4 893.5L367.4 893.6L367.3 893.8L367.2 893.9L367.1 894.0L367.0 894.1L366.9 894.2L357.9 901.2L357.8 901.3L357.7 901.3L357.5 901.4L357.4 901.4L357.3 901.5L357.1 901.5L357.0 901.5L356.8 901.5L356.7 901.5L356.5 901.4L356.4 901.4L356.3 901.3L356.1 901.2L356.0 901.1L355.9 901.0L355.8 900.9L355.7 900.8L355.7 900.7L349.7 888.7L349.6 888.5L349.6 888.4L349.5 888.3L349.5 888.1L349.5 888.0L349.5 864.0L349.5 863.9L349.5 863.7L349.6 863.6L349.6 863.4L349.7 863.3L349.8 863.2L349.8 863.0L349.9 862.9L350.1 862.8L350.2 862.7L350.3 862.7L350.4 862.6L350.6 862.6L350.7 862.5L361.7 860.5L361.9 860.5L362.0 860.5L362.2 860.5L362.3 860.5L362.4 860.6L362.6 860.6L362.7 860.7L362.8 860.8L363.0 860.8L363.1 860.9L363.2 861.0L363.2 861.2L363.3 861.3ZM333.7 872.7L333.6 872.6L333.6 872.4L333.5 872.3L333.5 872.1L333.5 872.0L333.5 871.9L333.5 871.7L333.6 871.6L333.6 871.4L333.7 871.3L335.1 868.5L335.2 868.4L335.3 868.2L335.4 868.1L335.5 868.0L335.6 867.9L335.7 867.9L335.9 867.8L336.0 867.7L339.5 866.6L339.7 866.5L339.8 866.5L339.9 866.5L340.1 866.5L340.2 866.5L340.3 866.5L340.5 866.6L344.0 867.7L344.1 867.8L344.3 867.9L344.4 867.9L344.5 868.0L344.6 868.1L344.7 868.2L344.8 868.4L344.9 868.5L346.3 871.3L346.4 871.4L346.4 871.6L346.5 871.7L346.5 871.9L346.5 872.0L346.5 872.1L346.5 872.3L346.4 872.4L346.4 872.6L346.3 872.7L344.9 875.5L344.8 875.6L344.7 875.8L344.6 875.9L344.5 876.0L344.4 876.1L344.3 876.1L344.1 876.2L344.0 876.3L340.5 877.4L340.3 877.5L340.2 877.5L340.1 877.5L339.9 877.5L339.8 877.5L339.7 877.5L339.5 877.4L336.0 876.3L335.9 876.2L335.7 876.1L335.6 876.1L335.5 876.0L335.4 875.9L335.3 875.8L335.2 875.6L335.1 875.5ZM311.7 908.6L311.6 908.5L311.5 908.4L311.3 908.4L311.2 908.3L311.1 908.2L311.0 908.1L310.9 908.0L310.9 907.8L309.7 905.7L309.6 905.6L309.6 905.4L309.5 905.3L309.5 905.2L309.5 905.0L309.5 904.8L309.5 904.7L309.6 904.6L309.6 904.4L309.7 904.3L310.9 902.2L310.9 902.0L311.0 901.9L311.1 901.8L311.2 901.7L311.3 901.6L311.5 901.6L311.6 901.5L311.7 901.4L314.6 900.6L314.7 900.5L314.8 900.5L315.0 900.5L315.2 900.5L315.3 900.5L315.4 900.6L318.3 901.4L318.4 901.5L318.5 901.6L318.7 901.6L318.8 901.7L318.9 901.8L319.0 901.9L319.1 902.0L319.1 902.2L320.3 904.3L320.4 904.4L320.4 904.6L320.5 904.7L320.5 904.8L320.5 905.0L320.5 905.2L320.5 905.3L320.4 905.4L320.4 905.6L320.3 905.7L319.1 907.8L319.1 908.0L319.0 908.1L318.9 908.2L318.8 908.3L318.7 908.4L318.5 908.4L318.4 908.5L318.3 908.6L315.4 909.4L315.3 909.5L315.2 909.5L315.0 909.5L314.8 909.5L314.7 909.5L314.6 909.4ZM290.5 853.2L289.4 853.5L289.2 853.5L289.1 853.5L288.9 853.5L288.8 853.5L288.6 853.5L288.5 853.4L288.4 853.4L288.2 853.3L288.1 853.2L288.0 853.1L287.9 853.0L287.8 852.9L280.8 843.9L280.7 843.8L280.7 843.7L280.6 843.5L275.6 830.5L275.6 830.4L275.5 830.3L275.5 830.1L274.5 818.1L274.5 818.0L274.5 817.8L274.5 817.7L274.6 817.6L274.6 817.4L274.7 817.3L274.8 817.2L274.8 817.1L274.9 816.9L275.0 816.8L275.2 816.8L275.3 816.7L275.4 816.6L275.5 816.6L275.7 816.5L284.7 814.5L284.8 814.5L285.0 814.5L285.1 814.5L285.2 814.5L285.4 814.5L285.5 814.6L285.6 814.6L285.8 814.7L285.9 814.8L296.9 822.8L297.0 822.9L297.1 823.0L297.2 823.1L297.3 823.2L297.3 823.3L297.4 823.5L297.4 823.6L301.4 837.6L301.5 837.7L301.5 837.9L301.5 838.1L301.5 838.2L301.5 838.4L299.0 848.2L299.7 848.0L299.9 848.0L300.0 848.0L300.1 848.0L300.3 848.0L305.9 849.0L306.1 849.1L306.2 849.1L306.4 849.2L306.5 849.3L306.6 849.4L306.7 849.5L309.1 852.0L309.2 852.1L309.3 852.2L309.3 852.3L309.4 852.5L309.5 852.6L309.5 852.8L309.5 852.9L309.5 853.1L309.5 853.2L309.5 853.4L309.4 853.5L309.3 853.7L309.3 853.8L309.2 853.9L309.1 854.0L306.7 856.5L306.6 856.6L306.5 856.7L306.4 856.8L306.2 856.9L306.1 856.9L305.9 857.0L300.3 858.0L300.1 858.0L300.0 858.0L299.9 858.0L299.7 858.0L294.1 857.0L293.9 856.9L293.8 856.9L293.6 856.8L293.5 856.7L293.4 856.6L293.3 856.5L290.9 854.0L290.8 853.9L290.7 853.8L290.7 853.7L290.6 853.5L290.5 853.4L290.5 853.2ZM294.5 930.1L294.6 930.0L294.8 930.0L294.9 930.0L295.1 930.0L295.2 930.0L295.4 930.0L295.5 930.1L298.3 931.1L298.5 931.2L298.6 931.2L298.7 931.3L298.8 931.4L298.9 931.5L299.0 931.6L299.1 931.8L299.2 931.9L300.4 934.4L300.4 934.5L300.5 934.6L300.5 934.8L300.5 934.9L300.5 935.1L300.5 935.2L300.5 935.4L300.4 935.5L300.4 935.6L299.2 938.1L299.1 938.2L299.0 938.4L298.9 938.5L298.8 938.6L298.7 938.7L298.6 938.8L298.5 938.8L298.3 938.9L295.5 939.9L295.4 940.0L295.2 940.0L295.1 940.0L294.9 940.0L294.8 940.0L294.6 940.0L294.5 939.9L291.7 938.9L291.5 938.8L291.4 938.8L291.3 938.7L291.2 938.6L291.1 938.5L291.0 938.4L290.9 938.2L290.8 938.1L289.6 935.6L289.6 935.5L289.5 935.4L289.5 935.2L289.5 935.1L289.5 934.9L289.5 934.8L289.5 934.6L289.6 934.5L289.6 934.4L290.8 931.9L290.9 931.8L291.0 931.6L291.1 931.5L291.2 931.4L291.3 931.3L291.4 931.2L291.5 931.2L291.7 931.1ZM268.5 884.1L268.4 884.1L268.2 884.1L268.1 884.0L267.9 884.0L267.8 883.9L267.7 883.9L267.6 883.8L267.5 883.7L267.4 883.6L267.3 883.5L267.2 883.3L265.7 880.8L265.6 880.6L265.6 880.5L265.5 880.4L265.5 880.2L265.5 880.1L265.5 879.9L265.5 879.8L265.5 879.6L265.6 879.5L265.6 879.4L265.7 879.2L267.2 876.7L267.3 876.5L267.4 876.4L267.5 876.3L267.6 876.2L267.7 876.1L267.8 876.1L267.9 876.0L268.1 876.0L268.2 875.9L268.4 875.9L268.5 875.9L271.5 875.9L271.6 875.9L271.8 875.9L271.9 876.0L272.1 876.0L272.2 876.1L272.3 876.1L272.4 876.2L272.5 876.3L272.6 876.4L272.7 876.5L272.8 876.7L274.3 879.2L274.4 879.4L274.4 879.5L274.5 879.6L274.5 879.8L274.5 879.9L274.5 880.1L274.5 880.2L274.5 880.4L274.4 880.5L274.4 880.6L274.3 880.8L272.8 883.3L272.7 883.5L272.6 883.6L272.5 883.7L272.4 883.8L272.3 883.9L272.2 883.9L272.1 884.0L271.9 884.0L271.8 884.1L271.6 884.1L271.5 884.1ZM265.0 846.1L265.2 846.2L265.3 846.3L265.4 846.4L265.5 846.5L265.6 846.6L265.7 846.7L265.8 846.8L265.9 847.0L266.9 849.4L266.9 849.6L267.0 849.7L267.0 849.9L267.0 850.0L267.0 850.1L267.0 850.3L266.9 850.4L266.9 850.6L265.9 853.0L265.8 853.2L265.7 853.3L265.6 853.4L265.5 853.5L265.4 853.6L265.3 853.7L265.2 853.8L265.0 853.9L262.6 854.9L262.4 854.9L262.3 855.0L262.1 855.0L262.0 855.0L261.9 855.0L261.7 855.0L261.6 854.9L261.4 854.9L259.0 853.9L258.8 853.8L258.7 853.7L258.6 853.6L258.5 853.5L258.4 853.4L258.3 853.3L258.2 853.2L258.1 853.0L257.1 850.6L257.1 850.4L257.0 850.3L257.0 850.1L257.0 850.0L257.0 849.9L257.0 849.7L257.1 849.6L257.1 849.4L258.1 847.0L258.2 846.8L258.3 846.7L258.4 846.6L258.5 846.5L258.6 846.4L258.7 846.3L258.8 846.2L259.0 846.1L261.4 845.1L261.6 845.1L261.7 845.0L261.9 845.0L262.0 845.0L262.1 845.0L262.3 845.0L262.4 845.1L262.6 845.1ZM252.8 811.3L252.7 811.5L252.6 811.6L252.5 811.7L252.4 811.8L252.3 811.9L252.2 811.9L252.1 812.0L251.9 812.0L251.8 812.1L251.6 812.1L251.5 812.1L248.5 812.1L248.4 812.1L248.2 812.1L248.1 812.0L247.9 812.0L247.8 811.9L247.7 811.9L247.6 811.8L247.5 811.7L247.4 811.6L247.3 811.5L247.2 811.3L245.7 808.8L245.6 808.6L245.6 808.5L245.5 808.4L245.5 808.2L245.5 808.1L245.5 807.9L245.5 807.8L245.5 807.6L245.6 807.5L245.6 807.4L245.7 807.2L247.2 804.7L247.3 804.5L247.4 804.4L247.5 804.3L247.6 804.2L247.7 804.1L247.8 804.1L247.9 804.0L248.1 804.0L248.2 803.9L248.4 803.9L248.5 803.9L251.5 803.9L251.6 803.9L251.8 803.9L251.9 804.0L252.1 804.0L252.2 804.1L252.3 804.1L252.4 804.2L252.5 804.3L252.6 804.4L252.7 804.5L252.8 804.7L254.3 807.2L254.4 807.4L254.4 807.5L254.5 807.6L254.5 807.8L254.5 807.9L254.5 808.1L254.5 808.2L254.5 808.4L254.4 808.5L254.4 808.6L254.3 808.8Z" fill="#8aac2a" fill-rule="evenodd"/><path d="M495.4 918.7L503.9 909.0L504.0 908.9L504.1 908.8L509.9 904.2L508.0 903.5L507.9 903.5L507.8 903.4L507.6 903.3L507.5 903.2L507.4 903.1L507.3 903.0L507.2 902.9L507.2 902.8L506.1 900.7L506.1 900.5L506.0 900.4L506.0 900.2L506.0 900.1L506.0 899.9L506.0 899.8L506.0 899.6L506.1 899.5L506.1 899.3L507.2 897.2L507.2 897.1L507.3 897.0L507.4 896.9L507.5 896.8L507.6 896.7L507.8 896.6L507.9 896.5L508.0 896.5L510.5 895.6L510.6 895.5L510.8 895.5L510.9 895.5L511.1 895.5L511.2 895.5L511.4 895.5L511.5 895.6L514.0 896.5L514.1 896.5L514.2 896.6L514.4 896.7L514.5 896.8L514.6 896.9L514.7 897.0L514.8 897.1L514.8 897.2L515.9 899.3L515.9 899.5L520.5 895.8L529.6 879.4L536.5 859.6L540.5 840.1L532.6 815.5L522.6 790.6L522.6 790.4L522.5 790.3L522.5 790.1L522.5 790.0L522.5 789.9L522.5 789.7L522.6 789.6L522.6 789.4L531.6 767.4L531.7 767.3L531.7 767.2L541.6 751.3L547.6 734.6L554.4 700.6L551.3 698.2L546.4 705.6L542.5 722.3L542.4 722.4L537.4 738.4L537.4 738.6L537.3 738.7L529.3 752.7L529.2 752.9L521.6 763.2L521.5 763.4L511.9 773.1L511.8 773.2L511.6 773.2L497.0 782.9L496.9 783.0L496.8 783.1L484.7 788.4L484.6 788.4L484.5 788.5L484.3 788.5L472.2 790.5L472.2 790.5L455.6 792.4L443.9 801.1L443.7 801.2L429.1 809.6L429.0 809.7L404.8 820.6L404.7 820.6L380.5 829.1L380.3 829.2L380.2 829.2L380.0 829.2L379.9 829.2L379.7 829.2L379.6 829.1L379.4 829.1L361.2 821.5L364.4 829.4L364.4 829.6L364.5 829.8L367.5 849.8L367.5 849.9L369.5 869.9L369.8 873.4L370.3 874.3L370.4 874.4L370.4 874.5L370.5 874.7L370.5 874.8L370.5 875.0L370.5 875.1L370.5 875.2L370.2 876.9L373.5 909.9L373.5 909.9L374.5 929.9L374.5 930.1L373.5 945.6L377.1 950.9L385.8 956.7L399.7 964.2L415.9 963.0L427.6 957.2L444.5 945.1L444.6 945.0L459.1 935.5L476.0 923.4L476.2 923.3L476.3 923.2L476.4 923.2L476.6 923.1ZM522.2 838.8L522.3 838.6L522.3 838.5L522.4 838.4L522.5 838.3L522.7 838.3L522.8 838.2L522.9 838.1L523.0 838.1L526.6 837.1L526.7 837.0L526.9 837.0L527.0 837.0L527.1 837.0L527.3 837.0L527.4 837.1L531.0 838.1L531.1 838.1L531.2 838.2L531.3 838.3L531.5 838.3L531.6 838.4L531.7 838.5L531.7 838.6L531.8 838.8L533.3 841.2L533.4 841.4L533.4 841.5L533.5 841.6L533.5 841.8L533.5 841.9L533.5 842.1L533.5 842.2L533.5 842.4L533.4 842.5L533.4 842.6L533.3 842.8L531.8 845.2L531.7 845.4L531.7 845.5L531.6 845.6L531.5 845.7L531.3 845.7L531.2 845.8L531.1 845.9L531.0 845.9L527.4 846.9L527.3 847.0L527.1 847.0L527.0 847.0L526.9 847.0L526.7 847.0L526.6 846.9L523.0 845.9L522.9 845.9L522.8 845.8L522.7 845.7L522.5 845.7L522.4 845.6L522.3 845.5L522.3 845.4L522.2 845.2L520.7 842.8L520.6 842.6L520.6 842.5L520.5 842.4L520.5 842.2L520.5 842.1L520.5 841.9L520.5 841.8L520.5 841.6L520.6 841.5L520.6 841.4L520.7 841.2ZM512.6 857.0L512.8 857.0L512.9 857.0L513.1 857.0L513.2 857.0L513.4 857.0L517.6 858.1L517.7 858.1L517.9 858.2L518.0 858.2L518.1 858.3L518.3 858.4L518.4 858.5L518.5 858.7L520.2 861.1L520.3 861.3L520.4 861.4L520.4 861.5L520.5 861.6L520.5 861.8L520.5 861.9L520.5 862.1L520.5 862.2L520.5 862.4L520.4 862.5L520.4 862.6L520.3 862.7L520.2 862.9L518.5 865.3L518.4 865.5L518.3 865.6L518.1 865.7L518.0 865.8L517.9 865.8L517.7 865.9L517.6 865.9L513.4 867.0L513.2 867.0L513.1 867.0L512.9 867.0L512.8 867.0L512.6 867.0L508.4 865.9L508.3 865.9L508.1 865.8L508.0 865.8L507.9 865.7L507.7 865.6L507.6 865.5L507.5 865.3L505.8 862.9L505.7 862.7L505.6 862.6L505.6 862.5L505.5 862.4L505.5 862.2L505.5 862.1L505.5 861.9L505.5 861.8L505.5 861.6L505.6 861.5L505.6 861.4L505.7 861.3L505.8 861.1L507.5 858.7L507.6 858.5L507.7 858.4L507.9 858.3L508.0 858.2L508.1 858.2L508.3 858.1L508.4 858.1ZM495.9 868.4L496.0 868.5L496.2 868.5L496.3 868.6L496.5 868.7L496.6 868.8L496.7 868.9L496.8 869.0L498.2 871.1L498.3 871.3L498.4 871.4L498.4 871.6L498.5 871.7L498.5 871.8L498.5 872.0L498.5 872.2L498.5 872.3L498.4 872.4L498.4 872.6L498.3 872.7L498.2 872.9L496.8 875.0L496.7 875.1L496.6 875.2L496.5 875.3L496.3 875.4L496.2 875.5L496.0 875.5L495.9 875.6L492.4 876.5L492.2 876.5L492.1 876.5L491.9 876.5L491.8 876.5L491.6 876.5L490.4 876.1L489.4 876.4L489.3 876.5L489.2 876.5L489.0 876.5L488.8 876.5L488.7 876.5L488.6 876.4L485.7 875.6L485.6 875.5L485.5 875.4L485.3 875.4L485.2 875.3L485.1 875.2L485.0 875.1L484.9 875.0L484.9 874.8L483.7 872.7L483.6 872.6L483.6 872.4L483.5 872.3L483.5 872.2L483.5 872.0L483.5 871.8L483.5 871.7L483.6 871.6L483.6 871.4L483.7 871.3L484.9 869.2L484.9 869.0L485.0 868.9L485.1 868.8L485.2 868.7L485.3 868.6L485.5 868.6L485.6 868.5L485.7 868.4L488.6 867.6L488.7 867.5L488.8 867.5L489.0 867.5L489.2 867.5L489.3 867.5L489.4 867.6L490.4 867.9L491.6 867.5L491.8 867.5L491.9 867.5L492.1 867.5L492.2 867.5L492.4 867.5ZM482.1 895.1L482.2 895.1L482.4 895.2L482.5 895.3L482.6 895.4L482.7 895.5L482.8 895.6L482.9 895.8L482.9 895.9L484.4 899.4L484.4 899.6L484.5 899.7L484.5 899.9L484.5 900.0L484.5 900.1L484.5 900.3L484.4 900.4L484.4 900.6L482.9 904.1L482.9 904.2L482.8 904.4L482.7 904.5L482.6 904.6L482.5 904.7L482.4 904.8L482.2 904.9L482.1 904.9L478.6 906.4L478.4 906.4L478.3 906.5L478.1 906.5L478.0 906.5L477.9 906.5L477.7 906.5L477.6 906.4L477.4 906.4L473.9 904.9L473.8 904.9L473.6 904.8L473.5 904.7L473.4 904.6L473.3 904.5L473.2 904.4L473.1 904.2L473.1 904.1L471.6 900.6L471.6 900.4L471.5 900.3L471.5 900.1L471.5 900.0L471.5 899.9L471.5 899.7L471.6 899.6L471.6 899.4L473.1 895.9L473.1 895.8L473.2 895.6L473.3 895.5L473.4 895.4L473.5 895.3L473.6 895.2L473.8 895.1L473.9 895.1L477.4 893.6L477.6 893.6L477.7 893.5L477.9 893.5L478.0 893.5L478.1 893.5L478.3 893.5L478.4 893.6L478.6 893.6ZM470.8 844.2L470.7 844.4L470.7 844.5L470.6 844.6L470.5 844.7L470.3 844.7L470.2 844.8L470.1 844.9L470.0 844.9L466.4 845.9L466.3 846.0L466.1 846.0L466.0 846.0L465.9 846.0L465.7 846.0L465.6 845.9L462.0 844.9L461.9 844.9L461.8 844.8L461.7 844.7L461.5 844.7L461.4 844.6L461.3 844.5L461.3 844.4L461.2 844.2L459.7 841.8L459.6 841.6L459.6 841.5L459.5 841.4L459.5 841.2L459.5 841.1L459.5 840.9L459.5 840.8L459.5 840.6L459.6 840.5L459.6 840.4L459.7 840.2L461.2 837.8L461.3 837.6L461.3 837.5L461.4 837.4L461.5 837.3L461.7 837.3L461.8 837.2L461.9 837.1L462.0 837.1L465.6 836.1L465.7 836.0L465.9 836.0L466.0 836.0L466.1 836.0L466.3 836.0L466.4 836.1L470.0 837.1L470.1 837.1L470.2 837.2L470.3 837.3L470.5 837.3L470.6 837.4L470.7 837.5L470.7 837.6L470.8 837.8L472.3 840.2L472.4 840.4L472.4 840.5L472.5 840.6L472.5 840.8L472.5 840.9L472.5 841.1L472.5 841.2L472.5 841.4L472.4 841.5L472.4 841.6L472.3 841.8ZM448.0 883.4L447.9 883.6L447.8 883.7L447.7 883.8L447.6 883.8L447.5 883.9L447.3 884.0L447.2 884.0L447.0 884.1L446.9 884.1L446.8 884.1L443.2 884.1L443.1 884.1L443.0 884.1L442.8 884.0L442.7 884.0L442.5 883.9L442.4 883.8L442.3 883.8L442.2 883.7L442.1 883.6L442.0 883.4L440.3 880.8L440.2 880.7L440.1 880.6L440.1 880.4L440.0 880.3L440.0 880.1L440.0 880.0L440.0 879.9L440.0 879.7L440.1 879.6L440.1 879.4L440.2 879.3L440.3 879.2L442.0 876.6L442.1 876.4L442.2 876.3L442.3 876.2L442.4 876.2L442.5 876.1L442.7 876.0L442.8 876.0L443.0 875.9L443.1 875.9L443.2 875.9L446.7 875.9L446.9 875.9L447.0 875.9L447.2 876.0L447.3 876.0L447.5 876.1L447.6 876.2L447.7 876.2L447.8 876.3L447.9 876.4L448.0 876.6L449.7 879.2L449.8 879.3L449.9 879.4L449.9 879.6L450.0 879.7L450.0 879.9L450.0 880.0L450.0 880.1L450.0 880.3L449.9 880.4L449.9 880.6L449.8 880.7L449.7 880.8ZM428.4 859.5L428.2 859.5L428.1 859.5L427.9 859.5L427.8 859.5L427.6 859.5L424.1 858.6L424.0 858.5L423.8 858.5L423.7 858.4L423.5 858.3L423.4 858.2L423.3 858.1L423.2 858.0L421.8 855.9L421.7 855.7L421.6 855.6L421.6 855.4L421.5 855.3L421.5 855.2L421.5 855.0L421.5 854.8L421.5 854.7L421.6 854.6L421.6 854.4L421.7 854.3L421.8 854.1L423.2 852.0L423.3 851.9L423.4 851.8L423.5 851.7L423.7 851.6L423.8 851.5L424.0 851.5L424.1 851.4L427.6 850.5L427.8 850.5L427.9 850.5L428.1 850.5L428.2 850.5L428.4 850.5L431.9 851.4L432.0 851.5L432.2 851.5L432.3 851.6L432.5 851.7L432.6 851.8L432.7 851.9L432.8 852.0L434.2 854.1L434.3 854.3L434.4 854.4L434.4 854.6L434.5 854.7L434.5 854.8L434.5 855.0L434.5 855.2L434.5 855.3L434.4 855.4L434.4 855.6L434.3 855.7L434.2 855.9L432.8 858.0L432.7 858.1L432.6 858.2L432.5 858.3L432.3 858.4L432.2 858.5L432.0 858.5L431.9 858.6ZM400.4 860.3L400.2 860.2L400.1 860.2L400.0 860.1L399.9 860.0L399.8 859.9L399.7 859.8L399.6 859.7L399.5 859.6L397.7 856.8L397.7 856.7L397.6 856.5L397.5 856.4L397.5 856.2L397.5 856.1L397.5 855.9L397.5 855.8L397.5 855.6L397.6 855.5L397.7 855.3L397.7 855.2L399.5 852.4L399.6 852.3L399.7 852.2L399.8 852.1L399.9 852.0L400.0 851.9L400.1 851.8L400.2 851.8L400.4 851.7L404.6 850.6L404.8 850.5L404.9 850.5L405.1 850.5L405.2 850.5L405.4 850.6L409.6 851.7L409.8 851.8L409.9 851.8L410.0 851.9L410.1 852.0L410.2 852.1L410.3 852.2L410.4 852.3L410.5 852.4L412.3 855.2L412.3 855.3L412.4 855.5L412.5 855.6L412.5 855.8L412.5 855.9L412.5 856.1L412.5 856.2L412.5 856.4L412.4 856.5L412.3 856.7L412.3 856.8L410.5 859.6L410.4 859.7L410.3 859.8L410.2 859.9L410.1 860.0L410.0 860.1L409.9 860.2L409.8 860.2L409.6 860.3L405.4 861.4L405.2 861.5L405.1 861.5L404.9 861.5L404.8 861.5L404.6 861.4ZM395.0 904.9L394.8 905.0L394.7 905.0L394.5 905.0L394.4 905.0L394.2 904.9L389.3 903.6L389.1 903.6L389.0 903.5L388.9 903.5L388.8 903.4L388.7 903.3L388.6 903.2L388.5 903.1L388.4 903.0L386.3 899.8L386.3 899.7L386.2 899.6L386.2 899.4L386.1 899.3L386.1 899.1L386.1 899.0L386.1 898.9L386.1 898.7L386.2 898.6L386.2 898.4L386.3 898.3L386.3 898.2L388.4 895.0L388.5 894.9L388.6 894.8L388.7 894.7L388.8 894.6L388.9 894.5L389.0 894.5L389.1 894.4L389.3 894.4L394.2 893.1L394.4 893.0L394.5 893.0L394.7 893.0L394.8 893.0L395.0 893.1L399.9 894.4L400.1 894.4L400.2 894.5L400.3 894.5L400.4 894.6L400.5 894.7L400.6 894.8L400.7 894.9L400.8 895.0L402.9 898.2L402.9 898.3L403.0 898.4L403.0 898.6L403.1 898.7L403.1 898.9L403.1 899.0L403.1 899.1L403.1 899.3L403.0 899.4L403.0 899.6L402.9 899.7L402.9 899.8L400.8 903.0L400.7 903.1L400.6 903.2L400.5 903.3L400.4 903.4L400.3 903.5L400.2 903.5L400.1 903.6L399.9 903.6Z" fill="#6bbdc4" fill-rule="evenodd"/><path d="M221.6 623.8L214.0 629.1L206.3 637.8L202.6 647.1L204.4 656.3L211.0 663.8L218.4 667.9L227.6 667.5L233.4 664.9L232.5 655.2L230.9 645.3L227.5 632.4L227.5 632.3L226.3 626.7Z" fill="#e0766d" fill-rule="evenodd"/><path d="M603.3 465.1L584.5 467.4L570.5 476.9L558.5 488.8L546.5 505.6L546.5 505.6L537.0 517.6L533.5 529.3L531.0 546.1L529.8 560.5L529.8 560.6L526.0 589.5L529.8 613.3L537.0 632.6L537.1 632.7L537.1 632.9L539.4 651.9L546.6 663.8L546.6 663.8L553.8 675.9L553.9 676.1L553.9 676.3L558.4 690.8L558.5 690.9L560.6 703.7L572.6 727.7L572.7 727.8L572.7 727.9L580.4 752.1L580.5 752.3L584.8 771.6L591.6 789.6L607.1 785.1L621.3 778.0L635.7 768.5L642.5 759.3L644.8 747.5L644.9 747.4L644.9 747.2L645.0 747.1L645.0 747.0L645.1 746.9L654.8 734.8L654.9 734.7L655.0 734.6L655.1 734.5L664.6 727.3L674.2 715.4L681.4 705.8L691.0 689.0L696.4 678.4L706.1 656.7L706.2 656.6L706.3 656.4L706.4 656.3L706.5 656.2L706.6 656.1L706.7 656.0L718.0 649.2L715.7 633.3L715.7 633.1L715.7 633.0L718.1 608.8L719.3 589.5L718.1 565.5L714.6 551.2L708.6 534.3L702.6 520.0L696.6 510.5L688.2 501.0L677.4 491.3L677.3 491.2L677.2 491.1L677.1 491.0L677.1 490.9L670.1 478.0L660.9 473.5L651.7 470.0L640.3 472.2L633.2 476.9L633.1 477.0L633.0 477.1L632.8 477.1L632.7 477.2L632.6 477.2L632.4 477.2L632.3 477.2L632.1 477.2L632.0 477.1L631.9 477.1L631.7 477.0L622.2 472.2L610.2 467.4Z" fill="#b37cf8" fill-rule="evenodd"/><path d="M210 668h0m7 7h0m7 19h0m-4 8h0m2 24h0m10 0h0m-4 6h0m-7 10h0m28 2h0m-27 13h0m-2 3h0m5 0h0m-4 3h0m0 1h0m-1 2h0m4 0h0m5 0h0m-6 1h0m3 1h0m-7 1h0m4 0h0m13 0h0m-15 2h0m4 0h0m3 3h0m-7 1h0m0 0h0m-3 1h0m7 0h0m45 0h0m-49 1h0m8 0h0m33 0h0m9 0h0m5 0h0m-25 1h0m16 0h0m0 0h0m7 0h0m-46 1h0m2 0h0m18 0h0m13 0h0m2 0h0m14 0h0m-29 1h0m6 0h0m4 0h0m13 0h0m8 0h0m-59 1h0m11 0h0m25 0h0m27 0h0m-41 1h0m-23 1h0m2 0h0m9 0h0m17 0h0m-16 1h0m4 0h0m5 0h0m3 0h0m38 0h0m1 0h0m2 0h0m5 0h0m-67 1h0m15 0h0m1 0h0m-20 1h0m70 0h0m3 1h0m-71 1h0m-2 1h0m77 0h0m-2 1h0m0 1h0m4 0h0m-78 3h0m80 0h0m-81 1h0m79 0h0m3 0h0m-80 1h0m81 1h0m4 1h0m-85 2h0m-3 1h0m90 0h0m2 0h0m-93 1h0m33 0h0m1 0h0m-32 1h0m32 0h0m-5 1h0m9 0h0m55 0h0m-62 1h0m62 0h0m-90 1h0m91 0h0m1 0h0m-65 1h0m7 0h0m1 1h0m4 0h0m61 1h0m-104 1h0m30 0h0m10 0h0m-3 1h0m64 0h0m-69 1h0m2 0h0m3 0h0m27 0h0m3 0h0m39 0h0m-66 1h0m69 0h0m1 0h0m-106 1h0m57 0h0m7 0h0m3 0h0m33 0h0m17 0h0m-87 1h0m81 0h0m1 0h0m7 0h0m-54 1h0m4 0h0m3 0h0m3 0h0m31 0h0m3 0h0m6 0h0m-115 1h0m53 0h0m1 0h0m2 0h0m67 0h0m5 0h0m1 0h0m-74 1h0m63 0h0m19 0h0m-137 1h0m2 0h0m70 0h0m5 0h0m44 0h0m2 0h0m4 0h0m8 0h0m-80 1h0m75 0h0m6 0h0m-82 2h0m23 0h0m1 0h0m4 0h0m51 0h0m-132 1h0m3 1h0m2 0h0m130 0h0m-83 1h0m29 0h0m59 0h0m-138 1h0m76 0h0m60 1h0m-133 1h0m47 0h0m4 0h0m-1 1h0m24 0h0m3 0h0m56 0h0m2 0h0m2 0h0m-62 1h0m-76 1h0m2 0h0m47 0h0m1 2h0m86 0h0m-134 1h0m51 0h0m24 0h0m-72 1h0m1 1h0m49 0h0m81 0h0m-83 1h0m25 0h0m1 0h0m-77 2h0m76 0h0m58 0h0m-82 1h0m2 0h0m24 0h0m-75 1h0m135 0h0m-85 1h0m22 0h0m-72 1h0m134 0h0m0 0h0m-136 1h0m35 0h0m5 0h0m-9 1h0m24 0h0m19 0h0m-40 1h0m3 0h0m20 0h0m81 0h0m-136 1h0m37 0h0m13 0h0m24 0h0m3 0h0m3 0h0m-40 1h0m14 0h0m15 0h0m1 0h0m5 0h0m59 0h0m-132 1h0m27 0h0m26 0h0m-3 1h0m3 0h0m2 0h0m23 0h0m56 0h0m-135 1h0m2 0h0m23 1h0m11 0h0m43 0h0m-78 1h0m54 0h0m5 0h0m22 0h0m-56 1h0m33 0h0m20 0h0m-77 1h0m34 0h0m2 0h0m-7 1h0m32 0h0m5 0h0m9 0h0m55 0h0m2 0h0m-134 1h0m66 0h0m12 0h0m58 0h0m-101 1h0m25 0h0m3 0h0m11 0h0m-73 1h0m76 0h0m53 0h0m-62 1h0m3 0h0m6 0h0m50 0h0m5 0h0m5 0h0m-135 1h0m117 0h0m2 0h0m2 0h0m3 1h0m7 0h0m2 1h0m-130 1h0m107 0h0m2 0h0m-110 1h0m100 0h0m6 0h0m7 1h0m20 0h0m-31 1h0m-1 1h0m11 0h0m-113 1h0m113 0h0m-111 1h0m96 0h0m15 0h0m21 0h0m-34 2h0m15 0h0m2 0h0m-115 1h0m116 0h0m-117 1h0m32 0h0m4 0h0m77 0h0m-112 1h0m37 0h0m61 0h0m2 1h0m13 0h0m-82 1h0m83 0h0m-112 1h0m36 0h0m2 0h0m2 0h0m69 0h0m-111 1h0m31 0h0m71 0h0m2 0h0m3 0h0m9 0h0m-86 1h0m11 0h0m64 0h0m29 0h0m-135 1h0m41 0h0m72 0h0m-73 2h0m95 0h0m-100 1h0m5 0h0m73 0h0m-110 1h0m38 0h0m93 0h0m-103 1h0m84 0h0m1 0h0m-110 1h0m30 0h0m-32 2h0m0 1h0m113 0h0m-110 1h0m127 0h0m-125 1h0m123 1h0m2 0h0m-14 1h0m-112 1h0m109 0h0m12 0h0m-118 1h0m110 0h0m8 0h0m-12 1h0m11 0h0m4 0h0m-125 1h0m128 0h0m-125 1h0m1 0h0m70 0h0m1 0h0m40 0h0m11 0h0m-57 1h0m44 0h0m13 0h0m-123 1h0m118 0h0m1 0h0m8 0h0m-59 1h0m7 0h0m39 0h0m-115 1h0m77 0h0m2 0h0m37 0h0m-3 1h0m12 0h0m-122 1h0m62 0h0m12 0h0m2 0h0m-12 2h0m59 0h0m-122 1h0m64 0h0m6 0h0m-8 1h0m-62 1h0m74 0h0m50 0h0m-121 1h0m66 0h0m52 0h0m-55 1h0m-66 1h0m4 0h0m117 0h0m2 0h0m-2 3h0m4 3h0m-121 1h0m118 0h0m-114 1h0m-4 1h0m4 0h0m113 0h0m3 2h0m-115 2h0m39 2h0m78 0h0m-82 1h0m0 0h0m6 0h0m73 0h0m-74 1h0m74 0h0m-112 1h0m41 0h0m1 0h0m-45 1h0m115 0h0m-114 1h0m34 0h0m13 0h0m-45 1h0m30 0h0m82 0h0m-81 1h0m13 0h0m-44 1h0m41 0h0m4 0h0m68 1h0m-74 1h0m5 0h0m70 0h0m-84 1h0m3 0h0m-33 1h0m3 0h0m107 0h0m-71 1h0m0 1h0m1 0h0m-38 1h0m109 0h0m-108 1h0m104 1h0m5 0h0m-108 1h0m107 0h0m-11 2h0m4 0h0m-2 1h0m6 0h0m-103 1h0m1 1h0m92 0h0m3 0h0m2 0h0m-11 1h0m-80 3h0m1 0h0m74 0h0m4 0h0m-1 2h0m-73 1h0m0 0h0m67 1h0m3 0h0m-66 2h0m64 0h0m0 2h0m-63 1h0m63 0h0m-57 1h0m51 0h0m3 0h0m-59 1h0m2 0h0m2 0h0m3 0h0m1 1h0m44 0h0m1 1h0m5 0h0m-52 1h0m45 0h0m-40 1h0m38 1h0m3 0h0m-36 1h0m3 0h0m-4 1h0m0 0h0m30 0h0m-24 1h0m1 0h0m18 0h0m-27 1h0m21 0h0m11 0h0m2 0h0m-23 2h0m4 0h0m14 0h0m-22 1h0m12 0h0m2 0h0m1 0h0m0 1h0" stroke="#8aac2a" stroke-width="5.4" stroke-linecap="round" fill="none"/><path d="M531 529h0m2 45h0m-6 6h0m-2 7h0m-2 9h0m9 91h0m-298 2h0m313 5h0m4 2h0m-1 2h0m0 3h0m2 0h0m-3 2h0m-4 1h0m2 0h0m4 0h0m4 0h0m-9 1h0m3 0h0m6 1h0m-10 3h0m8 0h0m1 0h0m-7 2h0m3 0h0m2 0h0m-8 1h0m1 1h0m4 0h0m4 1h0m-3 2h0m-3 1h0m-3 2h0m2 1h0m2 0h0m3 0h0m-3 3h0m3 1h0m-8 2h0m1 0h0m6 0h0m-305 1h0m304 0h0m-9 2h0m12 1h0m-6 1h0m-5 1h0m-2 2h0m-1 2h0m2 0h0m5 0h0m2 0h0m-3 1h0m-5 1h0m-2 2h0m0 0h0m3 0h0m24 0h0m-20 2h0m26 0h0m-29 2h0m2 0h0m-11 1h0m4 0h0m20 0h0m-24 1h0m4 0h0m5 1h0m6 0h0m-6 1h0m2 0h0m-11 1h0m-3 1h0m10 1h0m-8 2h0m47 0h0m-47 2h0m-4 1h0m10 0h0m22 1h0m-25 2h0m4 0h0m-11 1h0m23 0h0m-24 1h0m6 0h0m-6 1h0m10 0h0m44 0h0m-58 2h0m11 0h0m31 0h0m-42 1h0m8 0h0m15 0h0m-28 2h0m3 1h0m12 0h0m-1 2h0m24 0h0m5 0h0m15 0h0m-49 1h0m-11 1h0m2 0h0m-1 1h0m12 0h0m-20 1h0m2 1h0m2 0h0m17 0h0m-4 2h0m-20 1h0m19 0h0m14 0h0m18 0h0m30 0h0m-80 1h0m18 0h0m-18 1h0m21 0h0m-29 1h0m27 0h0m-25 1h0m1 1h0m-2 1h0m23 0h0m56 0h0m-86 1h0m34 0h0m-34 1h0m45 0h0m29 0h0m7 0h0m-24 1h0m-69 1h0m3 0h0m4 0h0m1 0h0m4 0h0m2 0h0m29 0h0m-3 1h0m-55 1h0m5 0h0m4 0h0m64 0h0m3 0h0m22 0h0m-86 1h0m4 0h0m6 0h0m33 0h0m-64 1h0m3 0h0m2 0h0m1 0h0m6 0h0m5 0h0m10 0h0m100 0h0m-121 1h0m12 0h0m5 0h0m44 0h0m-66 1h0m9 0h0m-14 1h0m14 0h0m55 0h0m0 0h0m1 0h0m33 0h0m-30 1h0m7 0h0m37 0h0m-116 1h0m-7 1h0m4 1h0m77 0h0m-84 1h0m5 0h0m3 0h0m94 0h0m16 0h0m10 0h0m-128 1h0m4 1h0m78 1h0m-85 2h0m1 0h0m85 0h0m-88 1h0m91 0h0m-95 1h0m113 0h0m-117 1h0m3 0h0m0 0h0m95 0h0m7 0h0m31 0h0m-130 1h0m-9 1h0m4 0h0m-4 1h0m103 0h0m-2 1h0m13 0h0m-120 3h0m2 0h0m137 0h0m-144 1h0m5 0h0m108 0h0m2 0h0m-1 1h0m-120 1h0m122 0h0m20 0h0m-21 1h0m-170 1h0m172 0h0m-126 1h0m129 0h0m-138 1h0m10 0h0m-44 1h0m2 0h0m27 0h0m10 0h0m128 0h0m-159 1h0m30 0h0m-40 1h0m6 0h0m4 0h0m25 0h0m138 0h0m-148 1h0m2 0h0m5 0h0m0 0h0m142 0h0m10 0h0m10 0h0m-180 1h0m-11 1h0m15 0h0m3 0h0m11 0h0m-22 1h0m5 0h0m13 0h0m148 0h0m-154 1h0m3 0h0m147 0h0m-170 2h0m14 0h0m3 0h0m158 0h0m-74 1h0m-99 1h0m1 0h0m93 1h0m13 0h0m54 0h0m13 0h0m-172 1h0m91 0h0m12 0h0m51 0h0m7 0h0m8 0h0m-171 1h0m105 0h0m59 0h0m-71 1h0m2 0h0m61 0h0m31 0h0m-185 1h0m105 0h0m1 0h0m44 0h0m8 0h0m4 0h0m1 0h0m8 0h0m1 0h0m-174 1h0m178 0h0m2 0h0m-177 1h0m106 1h0m58 0h0m-168 1h0m92 0h0m3 0h0m-91 1h0m151 0h0m12 0h0m6 0h0m-74 1h0m58 0h0m14 0h0m-66 1h0m50 0h0m10 0h0m9 0h0m11 0h0m-180 1h0m89 0h0m11 0h0m3 0h0m52 0h0m3 0h0m4 0h0m-125 1h0m19 0h0m34 0h0m78 0h0m-108 1h0m36 0h0m0 0h0m56 0h0m15 0h0m-133 1h0m1 0h0m17 0h0m4 0h0m6 0h0m109 0h0m-172 1h0m30 0h0m11 0h0m3 0h0m9 0h0m-15 1h0m14 0h0m-54 1h0m4 0h0m25 0h0m4 0h0m14 0h0m19 0h0m-23 1h0m103 0h0m1 0h0m24 0h0m-171 1h0m54 0h0m13 0h0m3 0h0m101 0h0m-141 1h0m0 0h0m110 0h0m6 0h0m-146 1h0m48 0h0m94 0h0m3 0h0m25 0h0m-126 1h0m1 0h0m18 0h0m7 0h0m67 0h0m34 0h0m10 0h0m-140 1h0m14 0h0m0 0h0m5 0h0m90 0h0m3 0h0m-94 1h0m6 0h0m-32 1h0m23 0h0m6 0h0m76 0h0m29 0h0m6 0h0m-170 1h0m2 0h0m33 0h0m6 0h0m94 0h0m17 0h0m-154 1h0m2 1h0m119 1h0m16 0h0m12 0h0m17 0h0m-50 1h0m9 0h0m26 0h0m-151 1h0m120 0h0m6 0h0m4 0h0m16 0h0m-142 1h0m121 0h0m15 0h0m9 0h0m16 0h0m1 0h0m3 0h0m-26 1h0m1 0h0m-28 1h0m16 0h0m-130 1h0m2 0h0m113 0h0m13 0h0m32 0h0m-158 2h0m76 0h0m50 0h0m35 0h0m-88 1h0m4 0h0m32 0h0m2 0h0m15 0h0m-9 2h0m39 0h0m-159 1h0m73 0h0m3 0h0m41 0h0m10 0h0m4 0h0m-49 1h0m2 0h0m31 0h0m8 0h0m2 0h0m4 0h0m32 0h0m-158 1h0m78 0h0m-11 1h0m87 0h0m-75 1h0m-78 1h0m155 0h0m-87 1h0m6 0h0m-3 1h0m1 0h0m5 0h0m73 0h0m-152 1h0m70 1h0m83 0h0m-82 1h0m-71 2h0m152 0h0m-149 1h0m20 0h0m-19 1h0m17 0h0m6 0h0m76 0h0m4 0h0m-91 1h0m93 0h0m3 0h0m38 0h0m-49 1h0m3 0h0m5 0h0m-93 1h0m2 0h0m3 0h0m5 0h0m3 0h0m4 0h0m80 0h0m25 0h0m3 0h0m6 0h0m-146 1h0m31 0h0m81 0h0m-13 1h0m16 0h0m18 0h0m-134 1h0m35 0h0m77 0h0m23 0h0m7 0h0m-138 1h0m9 0h0m90 0h0m42 0h0m-33 1h0m22 0h0m-132 1h0m10 0h0m85 0h0m49 0h0m-128 1h0m96 0h0m18 0h0m-127 1h0m29 0h0m69 0h0m13 0h0m28 0h0m-115 1h0m2 0h0m103 0h0m-131 1h0m30 0h0m102 0h0m-131 1h0m95 0h0m4 0h0m11 0h0m21 0h0m3 0h0m-122 1h0m9 0h0m0 0h0m76 0h0m-80 1h0m7 0h0m81 0h0m2 0h0m-2 1h0m24 0h0m-129 1h0m126 1h0m-127 1h0m127 1h0m1 0h0m-129 4h0m1 2h0m3 0h0m113 0h0m3 0h0m-15 1h0m8 0h0m0 0h0m10 0h0m-120 1h0m100 0h0m2 2h0m6 0h0m-111 1h0m105 0h0m5 0h0m-108 1h0m1 2h0m94 0h0m-4 2h0m-89 1h0m87 1h0m3 0h0m1 0h0m-9 2h0m2 3h0m-86 1h0m2 0h0m77 0h0m-78 1h0m78 0h0m4 0h0m-8 2h0m-3 2h0m1 0h0m5 0h0m-81 3h0m72 0h0m-69 1h0m68 0h0m-5 2h0m3 0h0m-65 2h0m1 0h0m-2 1h0m8 1h0m-3 1h0m5 0h0m-7 1h0m8 0h0m47 0h0m2 0h0m-10 2h0m2 0h0m2 0h0m1 1h0m1 1h0m-43 1h0m3 0h0m3 0h0m-7 1h0m1 0h0m29 0h0m4 0h0m-2 1h0m6 0h0m-22 1h0m10 0h0m-7 1h0m4 0h0m7 0h0m-21 1h0m3 0h0m8 1h0m1 1h0m4 0h0" stroke="#6bbdc4" stroke-width="5.4" stroke-linecap="round" fill="none"/><path d="M219 626h0m3 0h0m3 0h0m-1 1h0m4 0h0m-15 2h0m1 0h0m3 1h0m8 0h0m2 0h0m-10 1h0m-4 2h0m12 0h0m4 0h0m-16 1h0m15 0h0m-21 1h0m3 0h0m-5 3h0m21 0h0m-17 1h0m-5 2h0m23 0h0m-20 1h0m24 1h0m-29 1h0m3 0h0m1 1h0m23 2h0m2 0h0m-30 1h0m1 0h0m4 1h0m22 0h0m-25 1h0m28 2h0m1 0h0m-26 3h0m23 0h0m4 0h0m-2 2h0m1 0h0m-28 1h0m5 0h0m24 3h0m-24 1h0m22 1h0m-19 1h0m5 0h0m-3 1h0m7 0h0m8 0h0m-6 1h0m-5 1h0m6 1h0m3 0h0m-10 6h0m1 6h0m-2 8h0m3 5h0m2 15h0m1 8h0m0 26h0m0 6h0m1 3h0m1 12h0" stroke="#e0766d" stroke-width="5.4" stroke-linecap="round" fill="none"/><path d="M604 464h0m-1 1h0m-7 1h0m-12 1h0m3 0h0m14 0h0m-10 1h0m4 0h0m-1 1h0m9 0h0m7 0h0m42 0h0m-66 1h0m23 0h0m2 0h0m-35 1h0m4 0h0m4 0h0m32 0h0m30 0h0m3 0h0m5 0h0m2 0h0m-75 1h0m33 0h0m6 0h0m4 0h0m-43 1h0m33 0h0m2 0h0m6 0h0m4 0h0m12 0h0m4 0h0m4 0h0m6 0h0m4 0h0m5 0h0m-85 1h0m1 0h0m81 0h0m-36 1h0m13 0h0m26 0h0m-86 1h0m51 0h0m2 0h0m12 0h0m23 0h0m-93 1h0m63 0h0m28 0h0m8 0h0m1 0h0m-103 2h0m61 0h0m2 0h0m4 0h0m37 0h0m1 0h0m-101 2h0m-3 1h0m-4 1h0m106 0h0m4 0h0m-109 1h0m2 1h0m104 0h0m4 0h0m-112 2h0m110 0h0m-113 1h0m114 2h0m-118 1h0m3 1h0m-1 1h0m119 0h0m3 0h0m-121 1h0m-6 1h0m2 1h0m2 0h0m125 1h0m-129 1h0m-1 1h0m1 1h0m131 1h0m2 0h0m-135 1h0m136 0h0m1 1h0m-139 1h0m0 1h0m-48 2h0m189 0h0m4 0h0m-151 2h0m148 0h0m5 0h0m-150 1h0m151 0h0m-153 1h0m149 0h0m-160 1h0m8 1h0m-13 1h0m11 0h0m4 0h0m-42 1h0m198 0h0m-161 1h0m158 0h0m-156 1h0m157 0h0m4 2h0m0 0h0m-166 1h0m0 4h0m1 0h0m167 0h0m1 0h0m-168 3h0m1 0h0m167 1h0m-199 1h0m27 0h0m1 0h0m1 0h0m172 0h0m0 0h0m0 4h0m-171 2h0m173 0h0m2 2h0m-178 1h0m2 2h0m-2 1h0m176 0h0m5 1h0m-183 3h0m2 0h0m-2 1h0m3 2h0m179 0h0m-179 2h0m177 0h0m-179 2h0m182 0h0m3 0h0m-184 1h0m183 1h0m2 1h0m-4 1h0m-184 3h0m186 0h0m-184 1h0m185 0h0m-188 1h0m5 0h0m182 1h0m-182 2h0m182 0h0m2 1h0m-188 2h0m190 0h0m-3 1h0m0 2h0m-188 1h0m190 1h0m-189 1h0m190 0h0m-192 4h0m2 0h0m189 1h0m2 1h0m-190 1h0m-1 2h0m189 0h0m-188 1h0m-2 1h0m188 2h0m4 0h0m-1 2h0m-192 1h0m2 0h0m189 1h0m-191 2h0m193 0h0m-191 3h0m0 0h0m0 1h0m-1 1h0m192 0h0m-4 1h0m-189 2h0m189 0h0m-185 1h0m187 0h0m-191 1h0m189 1h0m3 0h0m-191 1h0m-1 1h0m3 1h0m187 0h0m-186 1h0m184 2h0m3 3h0m-185 2h0m1 1h0m182 1h0m-1 2h0m-180 1h0m181 1h0m-182 1h0m181 0h0m-180 4h0m180 1h0m-179 1h0m178 0h0m-176 2h0m176 0h0m-179 1h0m5 3h0m174 0h0m2 0h0m-180 1h0m1 0h0m179 0h0m-177 4h0m176 1h0m-178 2h0m178 1h0m-173 1h0m174 1h0m-179 1h0m2 0h0m0 2h0m177 0h0m-175 1h0m169 2h0m1 0h0m1 0h0m4 0h0m-178 1h0m5 2h0m171 0h0m-174 1h0m167 0h0m1 1h0m-162 1h0m159 0h0m-1 1h0m-160 1h0m3 0h0m155 2h0m2 0h0m-3 2h0m-151 1h0m-4 1h0m4 0h0m153 0h0m-155 1h0m153 0h0m1 2h0m-4 1h0m-148 1h0m-1 1h0m3 0h0m3 1h0m142 0h0m3 0h0m-4 2h0m-144 2h0m144 1h0m2 0h0m-142 1h0m-3 1h0m3 0h0m137 0h0m5 0h0m-144 3h0m142 0h0m0 0h0m0 0h0m-139 1h0m-1 1h0m134 2h0m3 0h0m-133 1h0m132 2h0m-133 1h0m128 0h0m-129 1h0m3 2h0m128 1h0m-127 1h0m125 0h0m-125 2h0m123 0h0m-2 1h0m-124 2h0m125 1h0m-121 1h0m-4 1h0m4 1h0m119 0h0m-119 2h0m2 1h0m114 0h0m-117 3h0m5 1h0m112 1h0m-111 1h0m104 0h0m4 0h0m-111 1h0m2 0h0m108 0h0m0 1h0m-107 1h0m-44 1h0m45 0h0m102 1h0m0 0h0m-2 2h0m1 3h0m-98 1h0m92 0h0m1 0h0m-92 5h0m86 0h0m4 0h0m-89 1h0m83 0h0m7 0h0m-4 1h0m-6 1h0m-80 1h0m87 0h0m-84 1h0m82 0h0m-84 2h0m4 0h0m77 0h0m-2 2h0m-5 3h0m2 0h0m-71 2h0m66 0h0m-69 1h0m4 0h0m64 0h0m3 0h0m-102 1h0m34 0h0m63 1h0m3 2h0m-65 1h0m61 0h0m-61 2h0m64 0h0m-62 1h0m60 0h0m-60 1h0m59 0h0m-61 1h0m0 1h0m60 2h0m-60 1h0m60 1h0m-56 1h0m57 1h0m1 0h0m2 0h0m-62 1h0m1 2h0m1 0h0m54 0h0m-3 1h0m3 1h0m-2 2h0m-51 1h0m45 1h0m-46 1h0m48 0h0m-47 1h0m40 0h0m-44 1h0m49 0h0m0 0h0m9 0h0m-55 1h0m39 0h0m-37 2h0m2 0h0m32 0h0m7 0h0m-43 1h0m40 0h0m-35 1h0m27 0h0m8 0h0m-7 1h0m4 0h0m-34 1h0m32 0h0m-10 1h0m4 0h0m-27 1h0m30 0h0m-25 1h0m21 0h0m-23 1h0m16 0h0m9 0h0m-6 1h0m-18 1h0m8 0h0m2 0h0m8 0h0m-24 1h0m8 0h0m-2 1h0m12 0h0m-11 1h0m3 0h0m4 0h0m-31 6h0m9 6h0m-2 10h0" stroke="#b37cf8" stroke-width="5.4" stroke-linecap="round" fill="none"/><rect x="182.3" y="437.1" width="564.5" height="564.6" fill="none" stroke="#1a1a1a" stroke-width="3.6"/><path d="M168.3 462.6L182.3 462.6" stroke="#1a1a1a" stroke-width="3.6"/><text x="147.4" y="476.4" font-size="32" text-anchor="end">6</text><path d="M168.3 591.0L182.3 591.0" stroke="#1a1a1a" stroke-width="3.6"/><text x="147.4" y="604.8" font-size="32" text-anchor="end">3</text><path d="M168.3 719.3L182.3 719.3" stroke="#1a1a1a" stroke-width="3.6"/><text x="147.4" y="733.1" font-size="32" text-anchor="end">0</text><path d="M168.3 847.6L182.3 847.6" stroke="#1a1a1a" stroke-width="3.6"/><text x="147.4" y="861.4" font-size="32" text-anchor="end">−3</text><path d="M168.3 976.0L182.3 976.0" stroke="#1a1a1a" stroke-width="3.6"/><text x="147.4" y="989.8" font-size="32" text-anchor="end">−6</text><path d="M236.9 1001.7L236.9 1015.7" stroke="#1a1a1a" stroke-width="3.6"/><path d="M379.5 1001.7L379.5 1015.7" stroke="#1a1a1a" stroke-width="3.6"/><path d="M522.1 1001.7L522.1 1015.7" stroke="#1a1a1a" stroke-width="3.6"/><path d="M664.7 1001.7L664.7 1015.7" stroke="#1a1a1a" stroke-width="3.6"/><text x="120.0" y="723.8" font-size="32" text-anchor="middle" transform="rotate(-90 120.0 723.8)">UMAP 2</text><text x="227.2" y="1061.4" font-size="32" text-anchor="middle">−10</text><text x="373.6" y="1061.4" font-size="32" text-anchor="middle">−5</text><text x="521.5" y="1061.4" font-size="32" text-anchor="middle">0</text><text x="663.8" y="1061.4" font-size="32" text-anchor="middle">5</text><text x="459.6" y="1097.0" font-size="32" text-anchor="middle">UMAP 1</text><circle cx="208.5" cy="465.5" r="9.4" fill="#e0766d"/><text x="247.5" y="477.4" font-size="32">P1</text><circle cx="208.5" cy="506.4" r="9.4" fill="#8aac2a"/><text x="247.5" y="518.3" font-size="32">P2</text><circle cx="208.5" cy="547.3" r="9.4" fill="#6bbdc4"/><text x="247.5" y="559.2" font-size="32">P3</text><circle cx="208.5" cy="588.2" r="9.4" fill="#b37cf8"/><text x="247.5" y="600.1" font-size="32">P4</text><text x="22.3" y="1168.5" font-size="40" font-weight="bold">d</text><path d="M366.1 1564.5L364.5 1548.2L361.5 1528.4L357.4 1518.0L341.2 1514.5L341.1 1514.5L321.7 1509.7L321.6 1509.6L321.4 1509.5L321.3 1509.5L321.2 1509.4L309.1 1499.7L309.0 1499.6L292.1 1485.2L280.4 1478.1L266.4 1474.6L249.8 1478.2L249.8 1478.2L235.3 1480.7L235.1 1480.7L234.9 1480.7L234.8 1480.7L234.6 1480.7L234.5 1480.6L234.4 1480.6L234.2 1480.5L234.1 1480.4L234.0 1480.3L233.9 1480.2L225.9 1471.0L225.8 1470.9L225.7 1470.7L225.6 1470.6L225.6 1470.5L225.5 1470.3L225.5 1470.2L224.2 1458.5L220.3 1458.5L219.0 1470.1L218.3 1486.5L218.3 1486.6L215.9 1508.0L220.6 1519.7L226.7 1534.3L226.7 1534.5L226.8 1534.6L231.6 1558.7L231.6 1558.8L234.0 1578.0L241.2 1594.8L250.9 1616.6L250.9 1616.7L258.2 1635.9L265.2 1650.1L279.4 1662.0L293.7 1671.6L307.8 1677.4L321.6 1675.1L335.8 1668.0L348.9 1653.0L349.0 1652.9L349.1 1652.8L349.2 1652.7L349.4 1652.6L349.5 1652.6L361.4 1648.6L370.6 1643.1L371.5 1628.0L370.5 1608.1L368.3 1586.2L367.5 1591.2L367.5 1591.4L367.4 1591.5L367.4 1591.6L367.3 1591.8L367.2 1591.9L367.1 1592.0L367.0 1592.1L366.9 1592.2L357.9 1599.2L357.8 1599.3L357.7 1599.3L357.5 1599.4L357.4 1599.4L357.3 1599.5L357.1 1599.5L357.0 1599.5L356.8 1599.5L356.7 1599.5L356.5 1599.4L356.4 1599.4L356.3 1599.3L356.1 1599.2L356.0 1599.1L355.9 1599.0L355.8 1598.9L355.7 1598.8L355.7 1598.7L349.7 1586.7L349.6 1586.5L349.6 1586.4L349.5 1586.3L349.5 1586.1L349.5 1586.0L349.5 1562.0L349.5 1561.9L349.5 1561.7L349.6 1561.6L349.6 1561.4L349.7 1561.3L349.8 1561.2L349.8 1561.0L349.9 1560.9L350.1 1560.8L350.2 1560.7L350.3 1560.7L350.4 1560.6L350.6 1560.6L350.7 1560.5L361.7 1558.5L361.9 1558.5L362.0 1558.5L362.2 1558.5L362.3 1558.5L362.4 1558.6L362.6 1558.6L362.7 1558.7L362.8 1558.8L363.0 1558.8L363.1 1558.9L363.2 1559.0L363.2 1559.2L363.3 1559.3ZM333.7 1570.7L333.6 1570.6L333.6 1570.4L333.5 1570.3L333.5 1570.1L333.5 1570.0L333.5 1569.9L333.5 1569.7L333.6 1569.6L333.6 1569.4L333.7 1569.3L335.1 1566.5L335.2 1566.4L335.3 1566.2L335.4 1566.1L335.5 1566.0L335.6 1565.9L335.7 1565.9L335.9 1565.8L336.0 1565.7L339.5 1564.6L339.7 1564.5L339.8 1564.5L339.9 1564.5L340.1 1564.5L340.2 1564.5L340.3 1564.5L340.5 1564.6L344.0 1565.7L344.1 1565.8L344.3 1565.9L344.4 1565.9L344.5 1566.0L344.6 1566.1L344.7 1566.2L344.8 1566.4L344.9 1566.5L346.3 1569.3L346.4 1569.4L346.4 1569.6L346.5 1569.7L346.5 1569.9L346.5 1570.0L346.5 1570.1L346.5 1570.3L346.4 1570.4L346.4 1570.6L346.3 1570.7L344.9 1573.5L344.8 1573.6L344.7 1573.8L344.6 1573.9L344.5 1574.0L344.4 1574.1L344.3 1574.1L344.1 1574.2L344.0 1574.3L340.5 1575.4L340.3 1575.5L340.2 1575.5L340.1 1575.5L339.9 1575.5L339.8 1575.5L339.7 1575.5L339.5 1575.4L336.0 1574.3L335.9 1574.2L335.7 1574.1L335.6 1574.1L335.5 1574.0L335.4 1573.9L335.3 1573.8L335.2 1573.6L335.1 1573.5ZM311.7 1606.6L311.6 1606.5L311.5 1606.4L311.3 1606.4L311.2 1606.3L311.1 1606.2L311.0 1606.1L310.9 1606.0L310.9 1605.8L309.7 1603.7L309.6 1603.6L309.6 1603.4L309.5 1603.3L309.5 1603.2L309.5 1603.0L309.5 1602.8L309.5 1602.7L309.6 1602.6L309.6 1602.4L309.7 1602.3L310.9 1600.2L310.9 1600.0L311.0 1599.9L311.1 1599.8L311.2 1599.7L311.3 1599.6L311.5 1599.6L311.6 1599.5L311.7 1599.4L314.6 1598.6L314.7 1598.5L314.8 1598.5L315.0 1598.5L315.2 1598.5L315.3 1598.5L315.4 1598.6L318.3 1599.4L318.4 1599.5L318.5 1599.6L318.7 1599.6L318.8 1599.7L318.9 1599.8L319.0 1599.9L319.1 1600.0L319.1 1600.2L320.3 1602.3L320.4 1602.4L320.4 1602.6L320.5 1602.7L320.5 1602.8L320.5 1603.0L320.5 1603.2L320.5 1603.3L320.4 1603.4L320.4 1603.6L320.3 1603.7L319.1 1605.8L319.1 1606.0L319.0 1606.1L318.9 1606.2L318.8 1606.3L318.7 1606.4L318.5 1606.4L318.4 1606.5L318.3 1606.6L315.4 1607.4L315.3 1607.5L315.2 1607.5L315.0 1607.5L314.8 1607.5L314.7 1607.5L314.6 1607.4ZM290.5 1551.2L289.4 1551.5L289.2 1551.5L289.1 1551.5L288.9 1551.5L288.8 1551.5L288.6 1551.5L288.5 1551.4L288.4 1551.4L288.2 1551.3L288.1 1551.2L288.0 1551.1L287.9 1551.0L287.8 1550.9L280.8 1541.9L280.7 1541.8L280.7 1541.7L280.6 1541.5L275.6 1528.5L275.6 1528.4L275.5 1528.3L275.5 1528.1L274.5 1516.1L274.5 1516.0L274.5 1515.8L274.5 1515.7L274.6 1515.6L274.6 1515.4L274.7 1515.3L274.8 1515.2L274.8 1515.1L274.9 1514.9L275.0 1514.8L275.2 1514.8L275.3 1514.7L275.4 1514.6L275.5 1514.6L275.7 1514.5L284.7 1512.5L284.8 1512.5L285.0 1512.5L285.1 1512.5L285.2 1512.5L285.4 1512.5L285.5 1512.6L285.6 1512.6L285.8 1512.7L285.9 1512.8L296.9 1520.8L297.0 1520.9L297.1 1521.0L297.2 1521.1L297.3 1521.2L297.3 1521.3L297.4 1521.5L297.4 1521.6L301.4 1535.6L301.5 1535.7L301.5 1535.9L301.5 1536.1L301.5 1536.2L301.5 1536.4L299.0 1546.2L299.7 1546.0L299.9 1546.0L300.0 1546.0L300.1 1546.0L300.3 1546.0L305.9 1547.0L306.1 1547.1L306.2 1547.1L306.4 1547.2L306.5 1547.3L306.6 1547.4L306.7 1547.5L309.1 1550.0L309.2 1550.1L309.3 1550.2L309.3 1550.3L309.4 1550.5L309.5 1550.6L309.5 1550.8L309.5 1550.9L309.5 1551.1L309.5 1551.2L309.5 1551.4L309.4 1551.5L309.3 1551.7L309.3 1551.8L309.2 1551.9L309.1 1552.0L306.7 1554.5L306.6 1554.6L306.5 1554.7L306.4 1554.8L306.2 1554.9L306.1 1554.9L305.9 1555.0L300.3 1556.0L300.1 1556.0L300.0 1556.0L299.9 1556.0L299.7 1556.0L294.1 1555.0L293.9 1554.9L293.8 1554.9L293.6 1554.8L293.5 1554.7L293.4 1554.6L293.3 1554.5L290.9 1552.0L290.8 1551.9L290.7 1551.8L290.7 1551.7L290.6 1551.5L290.5 1551.4L290.5 1551.2ZM294.5 1628.1L294.6 1628.0L294.8 1628.0L294.9 1628.0L295.1 1628.0L295.2 1628.0L295.4 1628.0L295.5 1628.1L298.3 1629.1L298.5 1629.2L298.6 1629.2L298.7 1629.3L298.8 1629.4L298.9 1629.5L299.0 1629.6L299.1 1629.8L299.2 1629.9L300.4 1632.4L300.4 1632.5L300.5 1632.6L300.5 1632.8L300.5 1632.9L300.5 1633.1L300.5 1633.2L300.5 1633.4L300.4 1633.5L300.4 1633.6L299.2 1636.1L299.1 1636.2L299.0 1636.4L298.9 1636.5L298.8 1636.6L298.7 1636.7L298.6 1636.8L298.5 1636.8L298.3 1636.9L295.5 1637.9L295.4 1638.0L295.2 1638.0L295.1 1638.0L294.9 1638.0L294.8 1638.0L294.6 1638.0L294.5 1637.9L291.7 1636.9L291.5 1636.8L291.4 1636.8L291.3 1636.7L291.2 1636.6L291.1 1636.5L291.0 1636.4L290.9 1636.2L290.8 1636.1L289.6 1633.6L289.6 1633.5L289.5 1633.4L289.5 1633.2L289.5 1633.1L289.5 1632.9L289.5 1632.8L289.5 1632.6L289.6 1632.5L289.6 1632.4L290.8 1629.9L290.9 1629.8L291.0 1629.6L291.1 1629.5L291.2 1629.4L291.3 1629.3L291.4 1629.2L291.5 1629.2L291.7 1629.1ZM268.5 1582.1L268.4 1582.1L268.2 1582.1L268.1 1582.0L267.9 1582.0L267.8 1581.9L267.7 1581.9L267.6 1581.8L267.5 1581.7L267.4 1581.6L267.3 1581.5L267.2 1581.3L265.7 1578.8L265.6 1578.6L265.6 1578.5L265.5 1578.4L265.5 1578.2L265.5 1578.1L265.5 1577.9L265.5 1577.8L265.5 1577.6L265.6 1577.5L265.6 1577.4L265.7 1577.2L267.2 1574.7L267.3 1574.5L267.4 1574.4L267.5 1574.3L267.6 1574.2L267.7 1574.1L267.8 1574.1L267.9 1574.0L268.1 1574.0L268.2 1573.9L268.4 1573.9L268.5 1573.9L271.5 1573.9L271.6 1573.9L271.8 1573.9L271.9 1574.0L272.1 1574.0L272.2 1574.1L272.3 1574.1L272.4 1574.2L272.5 1574.3L272.6 1574.4L272.7 1574.5L272.8 1574.7L274.3 1577.2L274.4 1577.4L274.4 1577.5L274.5 1577.6L274.5 1577.8L274.5 1577.9L274.5 1578.1L274.5 1578.2L274.5 1578.4L274.4 1578.5L274.4 1578.6L274.3 1578.8L272.8 1581.3L272.7 1581.5L272.6 1581.6L272.5 1581.7L272.4 1581.8L272.3 1581.9L272.2 1581.9L272.1 1582.0L271.9 1582.0L271.8 1582.1L271.6 1582.1L271.5 1582.1ZM265.0 1544.1L265.2 1544.2L265.3 1544.3L265.4 1544.4L265.5 1544.5L265.6 1544.6L265.7 1544.7L265.8 1544.8L265.9 1545.0L266.9 1547.4L266.9 1547.6L267.0 1547.7L267.0 1547.9L267.0 1548.0L267.0 1548.1L267.0 1548.3L266.9 1548.4L266.9 1548.6L265.9 1551.0L265.8 1551.2L265.7 1551.3L265.6 1551.4L265.5 1551.5L265.4 1551.6L265.3 1551.7L265.2 1551.8L265.0 1551.9L262.6 1552.9L262.4 1552.9L262.3 1553.0L262.1 1553.0L262.0 1553.0L261.9 1553.0L261.7 1553.0L261.6 1552.9L261.4 1552.9L259.0 1551.9L258.8 1551.8L258.7 1551.7L258.6 1551.6L258.5 1551.5L258.4 1551.4L258.3 1551.3L258.2 1551.2L258.1 1551.0L257.1 1548.6L257.1 1548.4L257.0 1548.3L257.0 1548.1L257.0 1548.0L257.0 1547.9L257.0 1547.7L257.1 1547.6L257.1 1547.4L258.1 1545.0L258.2 1544.8L258.3 1544.7L258.4 1544.6L258.5 1544.5L258.6 1544.4L258.7 1544.3L258.8 1544.2L259.0 1544.1L261.4 1543.1L261.6 1543.1L261.7 1543.0L261.9 1543.0L262.0 1543.0L262.1 1543.0L262.3 1543.0L262.4 1543.1L262.6 1543.1ZM252.8 1509.3L252.7 1509.5L252.6 1509.6L252.5 1509.7L252.4 1509.8L252.3 1509.9L252.2 1509.9L252.1 1510.0L251.9 1510.0L251.8 1510.1L251.6 1510.1L251.5 1510.1L248.5 1510.1L248.4 1510.1L248.2 1510.1L248.1 1510.0L247.9 1510.0L247.8 1509.9L247.7 1509.9L247.6 1509.8L247.5 1509.7L247.4 1509.6L247.3 1509.5L247.2 1509.3L245.7 1506.8L245.6 1506.6L245.6 1506.5L245.5 1506.4L245.5 1506.2L245.5 1506.1L245.5 1505.9L245.5 1505.8L245.5 1505.6L245.6 1505.5L245.6 1505.4L245.7 1505.2L247.2 1502.7L247.3 1502.5L247.4 1502.4L247.5 1502.3L247.6 1502.2L247.7 1502.1L247.8 1502.1L247.9 1502.0L248.1 1502.0L248.2 1501.9L248.4 1501.9L248.5 1501.9L251.5 1501.9L251.6 1501.9L251.8 1501.9L251.9 1502.0L252.1 1502.0L252.2 1502.1L252.3 1502.1L252.4 1502.2L252.5 1502.3L252.6 1502.4L252.7 1502.5L252.8 1502.7L254.3 1505.2L254.4 1505.4L254.4 1505.5L254.5 1505.6L254.5 1505.8L254.5 1505.9L254.5 1506.1L254.5 1506.2L254.5 1506.4L254.4 1506.5L254.4 1506.6L254.3 1506.8Z" fill="#e48b64" fill-rule="evenodd"/><path d="M495.4 1616.7L503.9 1607.0L504.0 1606.9L504.1 1606.8L509.9 1602.2L508.0 1601.5L507.9 1601.5L507.8 1601.4L507.6 1601.3L507.5 1601.2L507.4 1601.1L507.3 1601.0L507.2 1600.9L507.2 1600.8L506.1 1598.7L506.1 1598.5L506.0 1598.4L506.0 1598.2L506.0 1598.1L506.0 1597.9L506.0 1597.8L506.0 1597.6L506.1 1597.5L506.1 1597.3L507.2 1595.2L507.2 1595.1L507.3 1595.0L507.4 1594.9L507.5 1594.8L507.6 1594.7L507.8 1594.6L507.9 1594.5L508.0 1594.5L510.5 1593.6L510.6 1593.5L510.8 1593.5L510.9 1593.5L511.1 1593.5L511.2 1593.5L511.4 1593.5L511.5 1593.6L514.0 1594.5L514.1 1594.5L514.2 1594.6L514.4 1594.7L514.5 1594.8L514.6 1594.9L514.7 1595.0L514.8 1595.1L514.8 1595.2L515.9 1597.3L515.9 1597.5L520.5 1593.8L529.6 1577.4L536.5 1557.6L540.5 1538.1L532.6 1513.5L522.6 1488.6L522.6 1488.4L522.5 1488.3L522.5 1488.1L522.5 1488.0L522.5 1487.9L522.5 1487.7L522.6 1487.6L522.6 1487.4L531.6 1465.4L531.7 1465.3L531.7 1465.2L541.6 1449.3L547.6 1432.6L554.4 1398.6L551.3 1396.2L546.4 1403.6L542.5 1420.3L542.4 1420.4L537.4 1436.4L537.4 1436.6L537.3 1436.7L529.3 1450.7L529.2 1450.9L521.6 1461.2L521.5 1461.4L511.9 1471.1L511.8 1471.2L511.6 1471.2L497.0 1480.9L496.9 1481.0L496.8 1481.1L484.7 1486.4L484.6 1486.4L484.5 1486.5L484.3 1486.5L472.2 1488.5L472.2 1488.5L455.6 1490.4L443.9 1499.1L443.7 1499.2L429.1 1507.6L429.0 1507.7L404.8 1518.6L404.7 1518.6L380.5 1527.1L380.3 1527.2L380.2 1527.2L380.0 1527.2L379.9 1527.2L379.7 1527.2L379.6 1527.1L379.4 1527.1L361.2 1519.5L364.4 1527.4L364.4 1527.6L364.5 1527.8L367.5 1547.8L367.5 1547.9L369.5 1567.9L369.8 1571.4L370.3 1572.3L370.4 1572.4L370.4 1572.5L370.5 1572.7L370.5 1572.8L370.5 1573.0L370.5 1573.1L370.5 1573.2L370.2 1574.9L373.5 1607.9L373.5 1607.9L374.5 1627.9L374.5 1628.1L373.5 1643.6L377.1 1648.9L385.8 1654.7L399.7 1662.2L415.9 1661.0L427.6 1655.2L444.5 1643.1L444.6 1643.0L459.1 1633.5L476.0 1621.4L476.2 1621.3L476.3 1621.2L476.4 1621.2L476.6 1621.1ZM522.2 1536.8L522.3 1536.6L522.3 1536.5L522.4 1536.4L522.5 1536.3L522.7 1536.3L522.8 1536.2L522.9 1536.1L523.0 1536.1L526.6 1535.1L526.7 1535.0L526.9 1535.0L527.0 1535.0L527.1 1535.0L527.3 1535.0L527.4 1535.1L531.0 1536.1L531.1 1536.1L531.2 1536.2L531.3 1536.3L531.5 1536.3L531.6 1536.4L531.7 1536.5L531.7 1536.6L531.8 1536.8L533.3 1539.2L533.4 1539.4L533.4 1539.5L533.5 1539.6L533.5 1539.8L533.5 1539.9L533.5 1540.1L533.5 1540.2L533.5 1540.4L533.4 1540.5L533.4 1540.6L533.3 1540.8L531.8 1543.2L531.7 1543.4L531.7 1543.5L531.6 1543.6L531.5 1543.7L531.3 1543.7L531.2 1543.8L531.1 1543.9L531.0 1543.9L527.4 1544.9L527.3 1545.0L527.1 1545.0L527.0 1545.0L526.9 1545.0L526.7 1545.0L526.6 1544.9L523.0 1543.9L522.9 1543.9L522.8 1543.8L522.7 1543.7L522.5 1543.7L522.4 1543.6L522.3 1543.5L522.3 1543.4L522.2 1543.2L520.7 1540.8L520.6 1540.6L520.6 1540.5L520.5 1540.4L520.5 1540.2L520.5 1540.1L520.5 1539.9L520.5 1539.8L520.5 1539.6L520.6 1539.5L520.6 1539.4L520.7 1539.2ZM512.6 1555.0L512.8 1555.0L512.9 1555.0L513.1 1555.0L513.2 1555.0L513.4 1555.0L517.6 1556.1L517.7 1556.1L517.9 1556.2L518.0 1556.2L518.1 1556.3L518.3 1556.4L518.4 1556.5L518.5 1556.7L520.2 1559.1L520.3 1559.3L520.4 1559.4L520.4 1559.5L520.5 1559.6L520.5 1559.8L520.5 1559.9L520.5 1560.1L520.5 1560.2L520.5 1560.4L520.4 1560.5L520.4 1560.6L520.3 1560.7L520.2 1560.9L518.5 1563.3L518.4 1563.5L518.3 1563.6L518.1 1563.7L518.0 1563.8L517.9 1563.8L517.7 1563.9L517.6 1563.9L513.4 1565.0L513.2 1565.0L513.1 1565.0L512.9 1565.0L512.8 1565.0L512.6 1565.0L508.4 1563.9L508.3 1563.9L508.1 1563.8L508.0 1563.8L507.9 1563.7L507.7 1563.6L507.6 1563.5L507.5 1563.3L505.8 1560.9L505.7 1560.7L505.6 1560.6L505.6 1560.5L505.5 1560.4L505.5 1560.2L505.5 1560.1L505.5 1559.9L505.5 1559.8L505.5 1559.6L505.6 1559.5L505.6 1559.4L505.7 1559.3L505.8 1559.1L507.5 1556.7L507.6 1556.5L507.7 1556.4L507.9 1556.3L508.0 1556.2L508.1 1556.2L508.3 1556.1L508.4 1556.1ZM495.9 1566.4L496.0 1566.5L496.2 1566.5L496.3 1566.6L496.5 1566.7L496.6 1566.8L496.7 1566.9L496.8 1567.0L498.2 1569.1L498.3 1569.3L498.4 1569.4L498.4 1569.6L498.5 1569.7L498.5 1569.8L498.5 1570.0L498.5 1570.2L498.5 1570.3L498.4 1570.4L498.4 1570.6L498.3 1570.7L498.2 1570.9L496.8 1573.0L496.7 1573.1L496.6 1573.2L496.5 1573.3L496.3 1573.4L496.2 1573.5L496.0 1573.5L495.9 1573.6L492.4 1574.5L492.2 1574.5L492.1 1574.5L491.9 1574.5L491.8 1574.5L491.6 1574.5L490.4 1574.1L489.4 1574.4L489.3 1574.5L489.2 1574.5L489.0 1574.5L488.8 1574.5L488.7 1574.5L488.6 1574.4L485.7 1573.6L485.6 1573.5L485.5 1573.4L485.3 1573.4L485.2 1573.3L485.1 1573.2L485.0 1573.1L484.9 1573.0L484.9 1572.8L483.7 1570.7L483.6 1570.6L483.6 1570.4L483.5 1570.3L483.5 1570.2L483.5 1570.0L483.5 1569.8L483.5 1569.7L483.6 1569.6L483.6 1569.4L483.7 1569.3L484.9 1567.2L484.9 1567.0L485.0 1566.9L485.1 1566.8L485.2 1566.7L485.3 1566.6L485.5 1566.6L485.6 1566.5L485.7 1566.4L488.6 1565.6L488.7 1565.5L488.8 1565.5L489.0 1565.5L489.2 1565.5L489.3 1565.5L489.4 1565.6L490.4 1565.9L491.6 1565.5L491.8 1565.5L491.9 1565.5L492.1 1565.5L492.2 1565.5L492.4 1565.5ZM482.1 1593.1L482.2 1593.1L482.4 1593.2L482.5 1593.3L482.6 1593.4L482.7 1593.5L482.8 1593.6L482.9 1593.8L482.9 1593.9L484.4 1597.4L484.4 1597.6L484.5 1597.7L484.5 1597.9L484.5 1598.0L484.5 1598.1L484.5 1598.3L484.4 1598.4L484.4 1598.6L482.9 1602.1L482.9 1602.2L482.8 1602.4L482.7 1602.5L482.6 1602.6L482.5 1602.7L482.4 1602.8L482.2 1602.9L482.1 1602.9L478.6 1604.4L478.4 1604.4L478.3 1604.5L478.1 1604.5L478.0 1604.5L477.9 1604.5L477.7 1604.5L477.6 1604.4L477.4 1604.4L473.9 1602.9L473.8 1602.9L473.6 1602.8L473.5 1602.7L473.4 1602.6L473.3 1602.5L473.2 1602.4L473.1 1602.2L473.1 1602.1L471.6 1598.6L471.6 1598.4L471.5 1598.3L471.5 1598.1L471.5 1598.0L471.5 1597.9L471.5 1597.7L471.6 1597.6L471.6 1597.4L473.1 1593.9L473.1 1593.8L473.2 1593.6L473.3 1593.5L473.4 1593.4L473.5 1593.3L473.6 1593.2L473.8 1593.1L473.9 1593.1L477.4 1591.6L477.6 1591.6L477.7 1591.5L477.9 1591.5L478.0 1591.5L478.1 1591.5L478.3 1591.5L478.4 1591.6L478.6 1591.6ZM470.8 1542.2L470.7 1542.4L470.7 1542.5L470.6 1542.6L470.5 1542.7L470.3 1542.7L470.2 1542.8L470.1 1542.9L470.0 1542.9L466.4 1543.9L466.3 1544.0L466.1 1544.0L466.0 1544.0L465.9 1544.0L465.7 1544.0L465.6 1543.9L462.0 1542.9L461.9 1542.9L461.8 1542.8L461.7 1542.7L461.5 1542.7L461.4 1542.6L461.3 1542.5L461.3 1542.4L461.2 1542.2L459.7 1539.8L459.6 1539.6L459.6 1539.5L459.5 1539.4L459.5 1539.2L459.5 1539.1L459.5 1538.9L459.5 1538.8L459.5 1538.6L459.6 1538.5L459.6 1538.4L459.7 1538.2L461.2 1535.8L461.3 1535.6L461.3 1535.5L461.4 1535.4L461.5 1535.3L461.7 1535.3L461.8 1535.2L461.9 1535.1L462.0 1535.1L465.6 1534.1L465.7 1534.0L465.9 1534.0L466.0 1534.0L466.1 1534.0L466.3 1534.0L466.4 1534.1L470.0 1535.1L470.1 1535.1L470.2 1535.2L470.3 1535.3L470.5 1535.3L470.6 1535.4L470.7 1535.5L470.7 1535.6L470.8 1535.8L472.3 1538.2L472.4 1538.4L472.4 1538.5L472.5 1538.6L472.5 1538.8L472.5 1538.9L472.5 1539.1L472.5 1539.2L472.5 1539.4L472.4 1539.5L472.4 1539.6L472.3 1539.8ZM448.0 1581.4L447.9 1581.6L447.8 1581.7L447.7 1581.8L447.6 1581.8L447.5 1581.9L447.3 1582.0L447.2 1582.0L447.0 1582.1L446.9 1582.1L446.8 1582.1L443.2 1582.1L443.1 1582.1L443.0 1582.1L442.8 1582.0L442.7 1582.0L442.5 1581.9L442.4 1581.8L442.3 1581.8L442.2 1581.7L442.1 1581.6L442.0 1581.4L440.3 1578.8L440.2 1578.7L440.1 1578.6L440.1 1578.4L440.0 1578.3L440.0 1578.1L440.0 1578.0L440.0 1577.9L440.0 1577.7L440.1 1577.6L440.1 1577.4L440.2 1577.3L440.3 1577.2L442.0 1574.6L442.1 1574.4L442.2 1574.3L442.3 1574.2L442.4 1574.2L442.5 1574.1L442.7 1574.0L442.8 1574.0L443.0 1573.9L443.1 1573.9L443.2 1573.9L446.7 1573.9L446.9 1573.9L447.0 1573.9L447.2 1574.0L447.3 1574.0L447.5 1574.1L447.6 1574.2L447.7 1574.2L447.8 1574.3L447.9 1574.4L448.0 1574.6L449.7 1577.2L449.8 1577.3L449.9 1577.4L449.9 1577.6L450.0 1577.7L450.0 1577.9L450.0 1578.0L450.0 1578.1L450.0 1578.3L449.9 1578.4L449.9 1578.6L449.8 1578.7L449.7 1578.8ZM428.4 1557.5L428.2 1557.5L428.1 1557.5L427.9 1557.5L427.8 1557.5L427.6 1557.5L424.1 1556.6L424.0 1556.5L423.8 1556.5L423.7 1556.4L423.5 1556.3L423.4 1556.2L423.3 1556.1L423.2 1556.0L421.8 1553.9L421.7 1553.7L421.6 1553.6L421.6 1553.4L421.5 1553.3L421.5 1553.2L421.5 1553.0L421.5 1552.8L421.5 1552.7L421.6 1552.6L421.6 1552.4L421.7 1552.3L421.8 1552.1L423.2 1550.0L423.3 1549.9L423.4 1549.8L423.5 1549.7L423.7 1549.6L423.8 1549.5L424.0 1549.5L424.1 1549.4L427.6 1548.5L427.8 1548.5L427.9 1548.5L428.1 1548.5L428.2 1548.5L428.4 1548.5L431.9 1549.4L432.0 1549.5L432.2 1549.5L432.3 1549.6L432.5 1549.7L432.6 1549.8L432.7 1549.9L432.8 1550.0L434.2 1552.1L434.3 1552.3L434.4 1552.4L434.4 1552.6L434.5 1552.7L434.5 1552.8L434.5 1553.0L434.5 1553.2L434.5 1553.3L434.4 1553.4L434.4 1553.6L434.3 1553.7L434.2 1553.9L432.8 1556.0L432.7 1556.1L432.6 1556.2L432.5 1556.3L432.3 1556.4L432.2 1556.5L432.0 1556.5L431.9 1556.6ZM400.4 1558.3L400.2 1558.2L400.1 1558.2L400.0 1558.1L399.9 1558.0L399.8 1557.9L399.7 1557.8L399.6 1557.7L399.5 1557.6L397.7 1554.8L397.7 1554.7L397.6 1554.5L397.5 1554.4L397.5 1554.2L397.5 1554.1L397.5 1553.9L397.5 1553.8L397.5 1553.6L397.6 1553.5L397.7 1553.3L397.7 1553.2L399.5 1550.4L399.6 1550.3L399.7 1550.2L399.8 1550.1L399.9 1550.0L400.0 1549.9L400.1 1549.8L400.2 1549.8L400.4 1549.7L404.6 1548.6L404.8 1548.5L404.9 1548.5L405.1 1548.5L405.2 1548.5L405.4 1548.6L409.6 1549.7L409.8 1549.8L409.9 1549.8L410.0 1549.9L410.1 1550.0L410.2 1550.1L410.3 1550.2L410.4 1550.3L410.5 1550.4L412.3 1553.2L412.3 1553.3L412.4 1553.5L412.5 1553.6L412.5 1553.8L412.5 1553.9L412.5 1554.1L412.5 1554.2L412.5 1554.4L412.4 1554.5L412.3 1554.7L412.3 1554.8L410.5 1557.6L410.4 1557.7L410.3 1557.8L410.2 1557.9L410.1 1558.0L410.0 1558.1L409.9 1558.2L409.8 1558.2L409.6 1558.3L405.4 1559.4L405.2 1559.5L405.1 1559.5L404.9 1559.5L404.8 1559.5L404.6 1559.4ZM395.0 1602.9L394.8 1603.0L394.7 1603.0L394.5 1603.0L394.4 1603.0L394.2 1602.9L389.3 1601.6L389.1 1601.6L389.0 1601.5L388.9 1601.5L388.8 1601.4L388.7 1601.3L388.6 1601.2L388.5 1601.1L388.4 1601.0L386.3 1597.8L386.3 1597.7L386.2 1597.6L386.2 1597.4L386.1 1597.3L386.1 1597.1L386.1 1597.0L386.1 1596.9L386.1 1596.7L386.2 1596.6L386.2 1596.4L386.3 1596.3L386.3 1596.2L388.4 1593.0L388.5 1592.9L388.6 1592.8L388.7 1592.7L388.8 1592.6L388.9 1592.5L389.0 1592.5L389.1 1592.4L389.3 1592.4L394.2 1591.1L394.4 1591.0L394.5 1591.0L394.7 1591.0L394.8 1591.0L395.0 1591.1L399.9 1592.4L400.1 1592.4L400.2 1592.5L400.3 1592.5L400.4 1592.6L400.5 1592.7L400.6 1592.8L400.7 1592.9L400.8 1593.0L402.9 1596.2L402.9 1596.3L403.0 1596.4L403.0 1596.6L403.1 1596.7L403.1 1596.9L403.1 1597.0L403.1 1597.1L403.1 1597.3L403.0 1597.4L403.0 1597.6L402.9 1597.7L402.9 1597.8L400.8 1601.0L400.7 1601.1L400.6 1601.2L400.5 1601.3L400.4 1601.4L400.3 1601.5L400.2 1601.5L400.1 1601.6L399.9 1601.6Z" fill="#e48b64" fill-rule="evenodd"/><path d="M221.6 1321.8L214.0 1327.1L206.3 1335.8L202.6 1345.1L204.4 1354.3L211.0 1361.8L218.4 1365.9L227.6 1365.5L233.4 1362.9L232.5 1353.2L230.9 1343.3L227.5 1330.4L227.5 1330.3L226.3 1324.7Z" fill="#e48b64" fill-rule="evenodd"/><path d="M584.5 1165.4L570.5 1174.9L558.5 1186.8L546.5 1203.6L546.5 1203.6L537.0 1215.6L533.5 1227.3L531.0 1244.1L529.8 1258.5L529.8 1258.6L526.0 1287.5L529.8 1311.3L537.0 1330.6L537.1 1330.7L537.1 1330.9L539.4 1349.9L546.6 1361.8L546.6 1361.8L553.8 1373.9L553.9 1374.1L553.9 1374.3L558.4 1388.8L558.5 1388.9L560.6 1401.7L572.6 1425.7L572.7 1425.8L572.7 1425.9L580.4 1450.1L580.5 1450.3L584.8 1469.6L591.6 1487.6L598.7 1485.5L598.1 1480.3L597.2 1471.5L596.2 1462.6L595.3 1453.8L593.4 1444.9L591.2 1436.1L589.0 1427.2L586.8 1418.4L585.8 1409.5L586.6 1400.7L587.4 1391.8L588.2 1383.0L589.1 1374.2L589.9 1365.3L591.0 1356.5L592.3 1347.6L593.7 1338.8L595.0 1329.9L596.4 1321.1L597.8 1312.2L599.1 1303.4L600.4 1294.5L601.5 1285.7L602.7 1276.8L603.9 1268.0L605.0 1259.2L606.2 1250.3L607.4 1241.5L608.6 1232.6L609.5 1223.8L610.2 1214.9L611.0 1206.1L611.7 1197.2L612.5 1188.4L613.2 1179.5L614.0 1170.7L614.3 1167.0L610.2 1165.4L603.3 1163.1Z" fill="#92a0cb" fill-rule="evenodd"/><path d="M607.1 1483.1L621.3 1476.0L635.7 1466.5L642.5 1457.3L644.8 1445.5L644.9 1445.4L644.9 1445.2L645.0 1445.1L645.0 1445.0L645.1 1444.9L654.8 1432.8L654.9 1432.7L655.0 1432.6L655.1 1432.5L664.6 1425.3L674.2 1413.4L681.4 1403.8L691.0 1387.0L696.4 1376.4L706.1 1354.7L706.2 1354.6L706.3 1354.4L706.4 1354.3L706.5 1354.2L706.6 1354.1L706.7 1354.0L718.0 1347.2L715.7 1331.3L715.7 1331.1L715.7 1331.0L718.1 1306.8L719.3 1287.5L718.1 1263.5L714.6 1249.2L708.6 1232.3L702.6 1218.0L696.6 1208.5L688.2 1199.0L677.4 1189.3L677.3 1189.2L677.2 1189.1L677.1 1189.0L677.1 1188.9L670.1 1176.0L660.9 1171.5L651.7 1168.0L640.3 1170.2L633.2 1174.9L633.1 1175.0L633.0 1175.1L632.8 1175.1L632.7 1175.2L632.6 1175.2L632.4 1175.2L632.3 1175.2L632.1 1175.2L632.0 1175.1L631.9 1175.1L631.7 1175.0L622.2 1170.2L614.3 1167.0L614.0 1170.7L613.2 1179.5L612.5 1188.4L611.7 1197.2L611.0 1206.1L610.2 1214.9L609.5 1223.8L608.6 1232.6L607.4 1241.5L606.2 1250.3L605.0 1259.2L603.9 1268.0L602.7 1276.8L601.5 1285.7L600.4 1294.5L599.1 1303.4L597.8 1312.2L596.4 1321.1L595.0 1329.9L593.7 1338.8L592.3 1347.6L591.0 1356.5L589.9 1365.3L589.1 1374.2L588.2 1383.0L587.4 1391.8L586.6 1400.7L585.8 1409.5L586.8 1418.4L589.0 1427.2L591.2 1436.1L593.4 1444.9L595.3 1453.8L596.2 1462.6L597.2 1471.5L598.1 1480.3L598.7 1485.5Z" fill="#88c2a6" fill-rule="evenodd"/><path d="M574 1175h0m25 17h0m-28 27h0m22 7h0m-62 1h0m140 12h0m-139 15h0m83 6h0m-25 4h0m63 6h0m-120 2h0m65 5h0m-71 1h0m-2 5h0m0 2h0m-2 9h0m190 11h0m-18 3h0m-166 5h0m129 3h0m-437 5h0m-1 3h0m7 1h0m-4 1h0m-5 2h0m0 0h0m-6 1h0m12 0h0m4 0h0m-3 2h0m-18 2h0m20 0h0m-19 2h0m20 1h0m1 0h0m-22 4h0m24 0h0m-27 1h0m25 1h0m-25 2h0m28 1h0m1 0h0m-30 1h0m429 0h0m-403 3h0m0 1h0m2 0h0m358 0h0m-386 1h0m31 1h0m-27 2h0m2 0h0m410 3h0m-387 1h0m1 1h0m-23 1h0m20 0h0m-16 1h0m3 0h0m18 0h0m-24 1h0m5 1h0m13 0h0m0 0h0m-15 1h0m5 0h0m0 1h0m4 0h0m2 0h0m-15 1h0m11 1h0m-4 5h0m1 6h0m462 4h0m-148 3h0m-316 1h0m18 1h0m-15 4h0m328 1h0m5 3h0m34 0h0m-25 1h0m9 0h0m19 1h0m-39 1h0m5 0h0m18 0h0m6 1h0m-359 1h0m329 0h0m4 0h0m13 0h0m21 1h0m-42 1h0m2 0h0m30 0h0m-30 1h0m7 0h0m-4 2h0m-329 1h0m366 0h0m2 0h0m76 0h0m-115 1h0m4 0h0m-8 1h0m4 0h0m1 0h0m2 1h0m20 0h0m-24 1h0m-4 1h0m37 0h0m1 1h0m-35 1h0m4 0h0m-330 1h0m355 0h0m-26 1h0m-6 1h0m29 0h0m-30 1h0m35 0h0m-33 1h0m25 0h0m12 0h0m-41 1h0m7 0h0m2 0h0m-7 1h0m4 0h0m3 2h0m27 0h0m10 1h0m-366 1h0m322 0h0m5 0h0m30 0h0m-334 1h0m332 0h0m-37 1h0m3 0h0m-2 1h0m9 0h0m29 0h0m10 0h0m-43 1h0m6 0h0m-10 1h0m39 0h0m1 0h0m7 2h0m-44 1h0m4 0h0m35 0h0m-5 1h0m-40 1h0m7 0h0m30 0h0m-38 1h0m47 0h0m-39 1h0m30 1h0m-39 1h0m27 0h0m-24 1h0m3 0h0m34 0h0m2 0h0m-358 1h0m316 0h0m33 0h0m13 0h0m-45 1h0m-289 1h0m286 0h0m46 0h0m-39 1h0m2 0h0m12 0h0m21 0h0m-42 1h0m8 0h0m4 1h0m-325 1h0m309 2h0m2 0h0m10 1h0m59 0h0m-73 1h0m3 0h0m9 1h0m-11 1h0m7 0h0m-10 1h0m2 0h0m9 1h0m51 0h0m-367 1h0m308 0h0m29 0h0m-35 1h0m11 0h0m-311 1h0m309 1h0m17 0h0m31 0h0m6 0h0m-61 1h0m9 0h0m1 0h0m-314 1h0m358 0h0m-356 1h0m308 0h0m-313 1h0m2 0h0m300 0h0m0 0h0m43 0h0m-343 1h0m309 0h0m15 0h0m-321 1h0m5 0h0m-7 1h0m300 0h0m8 0h0m-311 1h0m370 0h0m-366 1h0m13 0h0m294 0h0m-304 1h0m290 0h0m2 0h0m9 0h0m28 0h0m5 0h0m15 0h0m-354 1h0m3 0h0m291 0h0m72 0h0m-361 2h0m1 0h0m299 0h0m3 0h0m-18 1h0m-292 1h0m3 0h0m7 0h0m280 0h0m80 0h0m-84 1h0m7 0h0m15 0h0m2 0h0m-308 1h0m5 0h0m49 0h0m-44 1h0m24 0h0m5 0h0m245 0h0m33 0h0m18 0h0m30 0h0m-366 1h0m32 0h0m16 0h0m241 0h0m-279 1h0m13 0h0m10 0h0m11 0h0m3 0h0m6 0h0m227 0h0m-267 1h0m14 0h0m4 0h0m5 0h0m18 0h0m231 0h0m19 0h0m0 0h0m-282 1h0m17 0h0m20 0h0m6 0h0m218 0h0m-285 1h0m17 0h0m41 0h0m223 0h0m-217 1h0m211 0h0m85 0h0m-357 1h0m0 0h0m11 0h0m257 0h0m9 0h0m27 0h0m-305 1h0m64 0h0m3 0h0m203 0h0m47 0h0m29 0h0m19 0h0m-295 1h0m3 0h0m201 0h0m31 0h0m24 0h0m-254 1h0m191 0h0m7 0h0m31 0h0m-232 1h0m189 0h0m2 0h0m7 0h0m31 0h0m-300 1h0m252 0h0m65 0h0m3 0h0m22 0h0m-267 1h0m160 0h0m3 0h0m5 0h0m5 0h0m1 0h0m17 0h0m-186 1h0m166 0h0m6 0h0m5 0h0m8 0h0m97 0h0m-364 2h0m78 0h0m166 0h0m-161 1h0m150 0h0m103 0h0m-254 1h0m149 0h0m5 0h0m1 0h0m67 0h0m9 0h0m37 0h0m-269 1h0m147 0h0m6 0h0m69 0h0m4 0h0m-309 1h0m85 0h0m149 1h0m-231 1h0m86 0h0m138 0h0m5 0h0m75 0h0m3 0h0m18 0h0m16 0h0m10 0h0m-354 1h0m3 0h0m29 0h0m2 0h0m58 0h0m-92 1h0m221 1h0m5 0h0m84 0h0m-274 1h0m59 0h0m128 0h0m-195 1h0m11 0h0m183 0h0m3 0h0m-196 1h0m63 0h0m219 0h0m-309 1h0m93 0h0m123 0h0m112 0h0m-331 1h0m216 0h0m134 0h0m-312 1h0m64 0h0m210 0h0m3 0h0m-312 1h0m24 0h0m188 0h0m-184 1h0m1 0h0m7 0h0m66 0h0m106 0h0m4 0h0m-144 1h0m139 0h0m115 0h0m-258 1h0m5 0h0m31 0h0m3 0h0m206 0h0m1 0h0m-308 1h0m31 0h0m3 0h0m74 0h0m3 0h0m6 0h0m88 0h0m1 0h0m-152 1h0m4 0h0m0 0h0m1 0h0m6 0h0m6 0h0m32 0h0m208 0h0m28 0h0m-232 1h0m6 0h0m78 0h0m9 0h0m2 0h0m-148 1h0m57 0h0m13 0h0m3 0h0m-71 1h0m62 0h0m4 0h0m72 0h0m4 0h0m0 0h0m115 0h0m18 0h0m-332 1h0m53 0h0m2 0h0m137 0h0m-119 1h0m56 0h0m3 0h0m3 0h0m50 0h0m127 0h0m-258 1h0m72 0h0m16 0h0m48 0h0m-190 1h0m1 0h0m76 0h0m70 1h0m26 0h0m9 0h0m6 0h0m-112 1h0m101 0h0m7 0h0m131 0h0m-263 1h0m84 0h0m8 0h0m10 0h0m15 0h0m5 0h0m2 0h0m2 0h0m-173 1h0m74 0h0m62 0h0m1 0h0m2 0h0m4 0h0m4 0h0m13 0h0m150 0h0m11 0h0m10 0h0m-334 1h0m0 0h0m51 0h0m102 0h0m159 0h0m-308 1h0m50 0h0m22 0h0m3 0h0m58 0h0m12 0h0m7 0h0m2 0h0m-155 1h0m133 0h0m4 0h0m12 0h0m-73 1h0m65 0h0m13 0h0m6 0h0m4 0h0m148 0h0m-234 1h0m58 0h0m2 0h0m-135 1h0m45 0h0m105 0h0m-104 1h0m2 0h0m27 0h0m59 0h0m4 0h0m98 0h0m76 0h0m-4 1h0m-309 1h0m74 0h0m66 0h0m97 0h0m66 0h0m7 0h0m3 0h0m-265 1h0m87 0h0m105 0h0m57 0h0m1 0h0m7 0h0m-305 1h0m243 0h0m62 0h0m-306 1h0m5 0h0m133 0h0m1 0h0m99 0h0m11 0h0m46 0h0m17 0h0m15 0h0m-325 1h0m49 0h0m24 0h0m60 0h0m6 0h0m90 0h0m64 0h0m8 0h0m-249 1h0m176 0h0m15 0h0m47 0h0m26 0h0m-264 1h0m22 0h0m67 0h0m89 0h0m78 0h0m-176 1h0m97 0h0m78 0h0m6 0h0m-278 1h0m3 0h0m34 0h0m64 0h0m97 0h0m-204 1h0m0 0h0m217 0h0m48 0h0m15 0h0m-305 1h0m31 0h0m5 0h0m32 0h0m4 0h0m59 0h0m107 0h0m-241 1h0m32 0h0m5 0h0m13 0h0m5 0h0m24 0h0m163 0h0m52 0h0m1 0h0m14 0h0m12 0h0m-290 1h0m1 0h0m41 0h0m68 0h0m94 0h0m67 0h0m1 0h0m8 0h0m-285 1h0m27 0h0m3 0h0m82 0h0m98 0h0m5 0h0m-204 1h0m2 0h0m33 0h0m7 0h0m3 0h0m52 0h0m45 0h0m14 0h0m11 0h0m33 0h0m-233 1h0m36 0h0m18 0h0m25 0h0m51 0h0m6 0h0m29 0h0m5 0h0m23 0h0m4 0h0m105 0h0m6 0h0m-283 1h0m26 0h0m79 0h0m42 0h0m7 0h0m126 0h0m-279 1h0m31 0h0m19 0h0m58 0h0m35 0h0m28 0h0m-22 1h0m3 0h0m125 0h0m-277 1h0m3 0h0m23 0h0m2 0h0m25 0h0m51 0h0m3 0h0m5 0h0m27 0h0m23 0h0m14 0h0m76 0h0m-281 1h0m34 0h0m2 0h0m2 0h0m38 0h0m63 0h0m143 0h0m3 0h0m2 0h0m-285 1h0m78 0h0m85 0h0m4 0h0m15 0h0m5 0h0m4 0h0m85 0h0m-242 1h0m29 0h0m9 0h0m5 0h0m61 0h0m45 0h0m17 0h0m103 0h0m1 0h0m-306 1h0m62 0h0m5 0h0m101 0h0m37 0h0m1 0h0m70 0h0m42 0h0m-314 1h0m61 0h0m60 0h0m12 0h0m33 0h0m21 0h0m7 0h0m5 0h0m76 0h0m27 0h0m-243 1h0m10 0h0m5 0h0m48 0h0m5 0h0m4 0h0m48 0h0m10 0h0m95 0h0m0 0h0m-216 1h0m3 0h0m44 0h0m0 0h0m19 0h0m135 0h0m37 0h0m-307 1h0m119 0h0m53 0h0m114 0h0m14 0h0m3 0h0m-169 1h0m35 0h0m7 0h0m97 0h0m17 0h0m-182 1h0m67 0h0m128 0h0m-301 1h0m130 0h0m6 0h0m122 0h0m40 0h0m-197 1h0m0 0h0m150 0h0m9 0h0m24 0h0m-287 1h0m106 0h0m1 0h0m4 0h0m5 0h0m0 0h0m140 0h0m3 0h0m6 0h0m10 0h0m3 0h0m4 0h0m4 0h0m-286 1h0m134 0h0m129 0h0m1 0h0m38 0h0m3 0h0m-192 1h0m27 0h0m112 0h0m-137 1h0m2 0h0m20 0h0m4 0h0m125 0h0m-128 1h0m115 0h0m46 0h0m-198 1h0m14 0h0m134 0h0m48 0h0m-295 1h0m97 0h0m166 0h0m4 0h0m31 0h0m-266 1h0m8 0h0m71 0h0m5 0h0m23 0h0m-137 1h0m209 0h0m1 0h0m-213 1h0m2 0h0m102 0h0m0 0h0m32 0h0m113 0h0m8 0h0m7 0h0m32 0h0m-261 1h0m76 0h0m5 0h0m24 0h0m70 0h0m4 0h0m38 0h0m-250 1h0m105 0h0m110 0h0m2 0h0m-189 1h0m83 0h0m138 0h0m7 0h0m5 0h0m-263 1h0m106 0h0m2 0h0m6 0h0m92 0h0m13 0h0m-214 1h0m29 0h0m80 0h0m1 0h0m24 0h0m66 0h0m87 0h0m3 0h0m-265 1h0m14 0h0m92 0h0m79 0h0m3 0h0m-216 1h0m115 0h0m91 0h0m-177 1h0m3 0h0m6 0h0m1 0h0m251 0h0m-287 1h0m32 0h0m5 0h0m94 0h0m75 0h0m3 0h0m79 0h0m-260 1h0m8 0h0m73 0h0m25 0h0m78 0h0m77 0h0m-181 1h0m27 0h0m-22 1h0m172 0h0m-177 1h0m21 0h0m157 1h0m-285 1h0m112 0h0m20 0h0m29 0h0m2 0h0m-160 1h0m127 0h0m4 0h0m19 0h0m3 0h0m126 0h0m-172 1h0m37 0h0m5 0h0m123 0h0m6 0h0m-170 1h0m21 0h0m101 0h0m4 0h0m9 0h0m-242 1h0m125 0h0m19 0h0m10 0h0m3 0h0m3 0h0m79 0h0m24 0h0m4 0h0m7 0h0m-164 1h0m20 0h0m15 0h0m16 0h0m108 0h0m3 0h0m-163 1h0m51 0h0m80 0h0m22 0h0m2 0h0m11 0h0m-275 1h0m69 0h0m3 0h0m3 0h0m51 0h0m15 0h0m17 0h0m70 0h0m16 0h0m19 0h0m-187 1h0m40 0h0m5 0h0m9 0h0m-63 1h0m51 0h0m23 0h0m3 0h0m83 0h0m-153 1h0m36 0h0m5 0h0m5 0h0m4 0h0m3 0h0m34 0h0m80 0h0m20 0h0m-262 1h0m117 0h0m2 0h0m24 0h0m4 0h0m-143 1h0m0 0h0m63 0h0m2 0h0m11 0h0m77 0h0m110 0h0m-266 1h0m124 0h0m2 0h0m24 0h0m8 0h0m71 0h0m2 0h0m0 0h0m30 0h0m-194 1h0m63 0h0m0 0h0m15 0h0m7 0h0m6 0h0m2 0h0m78 0h0m3 0h0m23 0h0m-138 1h0m21 0h0m89 0h0m-172 1h0m90 0h0m74 0h0m4 0h0m6 0h0m4 0h0m22 0h0m-258 1h0m71 0h0m3 0h0m48 0h0m5 0h0m-66 1h0m171 0h0m19 0h0m4 0h0m-254 1h0m62 0h0m2 0h0m2 0h0m52 0h0m4 0h0m2 1h0m-3 1h0m-122 1h0m2 0h0m117 0h0m132 0h0m-3 1h0m-129 1h0m131 0h0m-125 1h0m119 1h0m-244 1h0m1 0h0m122 0h0m3 0h0m0 0h0m-121 1h0m235 0h0m6 0h0m-242 1h0m124 0h0m-122 1h0m118 0h0m102 0h0m3 0h0m3 0h0m6 0h0m5 0h0m-240 1h0m121 0h0m99 1h0m3 0h0m4 0h0m-104 1h0m-122 1h0m122 0h0m96 1h0m-215 1h0m37 0h0m1 0h0m82 0h0m90 0h0m-169 1h0m71 0h0m104 0h0m-171 1h0m72 0h0m4 0h0m88 0h0m-170 1h0m173 0h0m-180 1h0m1 0h0m80 0h0m92 0h0m-203 1h0m43 0h0m0 0h0m1 0h0m75 0h0m-8 1h0m4 0h0m90 0h0m-207 1h0m34 0h0m82 1h0m89 0h0m-162 1h0m72 0h0m5 0h0m80 0h0m-197 1h0m30 0h0m13 0h0m66 0h0m-108 1h0m38 0h0m77 0h0m82 0h0m-87 1h0m84 0h0m-164 1h0m4 0h0m5 0h0m77 0h0m72 0h0m-185 1h0m189 0h0m-191 1h0m187 0h0m-152 1h0m78 0h0m1 0h0m-114 1h0m110 0h0m2 0h0m71 0h0m4 0h0m-185 1h0m107 0h0m-7 1h0m81 0h0m-181 1h0m110 0h0m65 0h0m-171 1h0m93 0h0m5 0h0m12 0h0m65 0h0m-67 1h0m64 0h0m-173 1h0m87 0h0m2 0h0m9 0h0m14 0h0m3 0h0m52 0h0m-72 1h0m76 0h0m-83 1h0m-86 1h0m3 0h0m86 0h0m23 0h0m4 0h0m3 0h0m-33 1h0m31 0h0m-33 1h0m80 0h0m1 0h0m-10 1h0m3 0h0m-155 1h0m1 0h0m72 0h0m87 0h0m-89 1h0m81 0h0m-146 1h0m112 0h0m5 0h0m22 0h0m-140 1h0m3 0h0m113 0h0m6 0h0m-56 1h0m53 0h0m8 0h0m8 0h0m10 0h0m-143 1h0m63 0h0m67 0h0m7 0h0m4 0h0m-79 1h0m69 0h0m3 0h0m-129 1h0m114 0h0m8 0h0m2 0h0m-67 1h0m60 0h0m4 0h0m-118 2h0m50 0h0m-49 1h0m5 1h0m46 0h0m-11 2h0m5 0h0m-41 1h0m2 0h0m4 1h0m2 0h0m30 0h0m-28 1h0m24 0h0m6 0h0m-34 1h0m16 0h0m7 0h0m1 0h0m-22 1h0m5 0h0m24 0h0m-24 1h0m6 0h0m8 1h0m-11 1h0m9 0h0m-6 1h0m0 0h0" stroke="#e48b64" stroke-width="6.0" stroke-linecap="round" fill="none"/><path d="M591 1163h0m9 0h0m5 0h0m-16 1h0m2 0h0m4 0h0m15 1h0m-14 1h0m6 0h0m2 0h0m-20 1h0m2 0h0m25 0h0m7 0h0m-10 1h0m-28 1h0m2 0h0m-2 2h0m36 1h0m-39 1h0m-5 1h0m-4 3h0m4 0h0m-3 1h0m-1 2h0m52 0h0m-56 1h0m51 0h0m-51 1h0m-3 4h0m-4 1h0m56 1h0m-55 1h0m1 0h0m60 0h0m-65 1h0m4 3h0m59 0h0m0 1h0m-60 1h0m-6 1h0m64 0h0m-64 2h0m64 0h0m-3 1h0m0 1h0m-65 1h0m69 2h0m-70 1h0m1 0h0m-46 1h0m45 2h0m-5 2h0m-8 1h0m13 0h0m-6 1h0m-12 1h0m15 0h0m-42 1h0m36 2h0m-1 5h0m2 0h0m0 2h0m-2 1h0m74 1h0m7 0h0m-84 1h0m-28 2h0m31 1h0m-3 2h0m81 0h0m-78 1h0m76 0h0m-79 1h0m83 1h0m-82 1h0m79 0h0m-80 3h0m87 0h0m-85 1h0m0 0h0m-2 3h0m1 4h0m-3 2h0m76 0h0m-78 1h0m4 2h0m-3 1h0m1 3h0m75 0h0m-76 2h0m1 0h0m78 0h0m-76 1h0m-5 3h0m4 0h0m-4 1h0m0 4h0m86 3h0m-85 1h0m-1 1h0m2 4h0m-3 1h0m85 1h0m-86 4h0m80 0h0m-77 1h0m1 0h0m73 3h0m-75 1h0m1 4h0m72 0h0m-74 1h0m0 0h0m3 0h0m73 1h0m4 2h0m-77 2h0m-3 1h0m3 1h0m-1 1h0m-1 4h0m1 6h0m4 0h0m-2 3h0m1 1h0m72 0h0m-70 3h0m-2 3h0m1 4h0m2 0h0m62 1h0m-59 3h0m58 0h0m-382 2h0m11 0h0m314 2h0m-328 2h0m327 0h0m60 0h0m0 0h0m-58 3h0m56 0h0m1 0h0m-389 1h0m11 0h0m318 1h0m62 0h0m-395 1h0m13 1h0m323 0h0m1 0h0m-336 1h0m25 0h0m-12 1h0m-9 1h0m13 0h0m320 1h0m-330 1h0m326 1h0m2 0h0m58 0h0m-396 1h0m339 0h0m52 0h0m-387 1h0m3 0h0m333 0h0m-334 2h0m6 0h0m11 0h0m315 0h0m-337 1h0m11 1h0m2 0h0m325 0h0m57 1h0m-382 1h0m-3 1h0m330 0h0m1 0h0m1 0h0m-335 1h0m10 0h0m6 1h0m316 0h0m-337 1h0m3 1h0m384 0h0m-376 2h0m2 0h0m331 0h0m-317 3h0m319 0h0m-326 1h0m322 0h0m3 0h0m0 4h0m2 0h0m44 0h0m-41 2h0m0 1h0m-338 2h0m335 0h0m3 0h0m-1 3h0m0 0h0m3 0h0m2 4h0m35 0h0m-38 1h0m35 1h0m-34 1h0m38 0h0m-35 2h0m-1 2h0m1 1h0m-2 2h0m1 0h0m3 1h0m30 0h0m-33 2h0m30 2h0m0 1h0m1 2h0m-31 1h0m2 2h0m2 4h0m-1 2h0m5 1h0m1 2h0m-2 1h0m0 1h0m-42 2h0m44 0h0m2 2h0m-1 3h0m0 2h0m19 0h0m-16 1h0m-340 2h0m339 1h0m1 0h0m4 1h0m15 0h0m4 2h0m-367 2h0m310 0h0m39 0h0m18 0h0m-16 6h0m20 2h0m-7 1h0m-370 1h0m324 2h0m47 0h0m-14 4h0m3 0h0m16 0h0m-2 2h0m-373 1h0m359 1h0m-4 1h0m4 1h0m2 1h0m13 1h0m-16 3h0m17 0h0m4 0h0m-378 3h0m359 0h0m-60 4h0m78 1h0m0 3h0m-19 2h0m4 1h0m4 3h0m8 1h0m-333 2h0m5 1h0m320 0h0m9 0h0m-332 2h0m-15 1h0m337 0h0m-350 1h0m26 0h0m23 1h0m308 0h0m-74 1h0m51 0h0m-308 1h0m327 0h0m2 0h0m-340 1h0m222 0h0m29 0h0m87 0h0m-367 2h0m57 0h0m311 0h0m-72 1h0m-289 1h0m61 0h0m-51 1h0m4 1h0m322 0h0m-341 1h0m48 0h0m-10 1h0m226 0h0m-16 1h0m-250 1h0m10 0h0m9 0h0m-5 1h0m224 0h0m-176 1h0m290 0h0m-305 1h0m182 0h0m-156 1h0m167 0h0m-222 1h0m48 0h0m228 0h0m-253 3h0m223 0h0m-187 2h0m233 0h0m-306 2h0m346 0h0m-302 1h0m188 0h0m-242 1h0m108 0h0m-103 1h0m23 1h0m276 0h0m-305 1h0m198 1h0m78 0h0m-162 2h0m11 0h0m-95 1h0m282 0h0m-4 1h0m-192 1h0m-39 1h0m-26 3h0m215 0h0m-224 1h0m16 1h0m52 1h0m-21 1h0m80 0h0m-113 1h0m138 0h0m77 1h0m-246 1h0m93 1h0m135 0h0m-242 1h0m32 0h0m199 0h0m38 0h0m-178 1h0m115 0h0m6 0h0m40 0h0m-134 1h0m134 0h0m-243 1h0m4 2h0m268 0h0m-1 1h0m37 0h0m-149 1h0m21 0h0m116 0h0m-289 1h0m163 0h0m-78 1h0m186 0h0m-274 1h0m245 0h0m-119 1h0m135 1h0m-9 1h0m-224 1h0m7 0h0m82 0h0m47 0h0m5 0h0m-65 1h0m-115 1h0m282 1h0m-161 1h0m2 0h0m109 0h0m-171 1h0m-35 2h0m214 0h0m-182 1h0m25 2h0m48 0h0m84 1h0m-159 1h0m236 0h0m-205 2h0m82 0h0m-127 1h0m-35 1h0m50 0h0m19 0h0m183 0h0m-235 1h0m164 1h0m47 0h0m-60 1h0m-125 1h0m23 0h0m67 0h0m-130 1h0m134 0h0m80 0h0m-200 1h0m127 0h0m50 0h0m73 0h0m-209 1h0m-53 1h0m55 0h0m165 0h0m-73 1h0m-120 2h0m24 0h0m229 0h0m-83 1h0m-165 1h0m12 0h0m238 0h0m-17 1h0m-173 1h0m37 0h0m94 0h0m29 0h0m-103 1h0m-138 1h0m181 0h0m-162 1h0m247 0h0m-135 2h0m-121 1h0m118 0h0m-132 1h0m127 1h0m6 1h0m32 0h0m-83 1h0m89 0h0m-149 1h0m56 0h0m138 0h0m-158 1h0m-31 1h0m40 0h0m-69 1h0m36 0h0m-39 2h0m30 1h0m17 0h0m199 2h0m-191 1h0m25 0h0m30 0h0m-64 1h0m125 0h0m46 3h0m50 0h0m-229 2h0m143 1h0m68 0h0m-208 1h0m-18 1h0m91 0h0m41 0h0m-39 1h0m129 0h0m-125 1h0m-67 1h0m172 0h0m-173 1h0m173 0h0m18 0h0m-219 1h0m16 0h0m156 0h0m-5 1h0m-163 1h0m65 0h0m45 0h0m89 0h0m-181 1h0m71 0h0m103 2h0m-186 2h0m70 0h0m-9 1h0m28 0h0m37 0h0m20 0h0m-96 1h0m-46 1h0m-22 1h0m18 0h0m-14 1h0m90 0h0m-22 1h0m15 0h0m21 0h0m72 1h0m-121 2h0m7 0h0m-61 1h0m19 1h0m7 0h0m21 0h0m55 0h0m16 0h0m29 0h0m-109 2h0m141 0h0m-173 2h0m53 1h0m133 1h0m-115 1h0m-62 2h0m122 0h0m-115 2h0m155 0h0m-39 1h0m28 2h0m-117 1h0m-47 2h0m54 0h0m0 0h0m-45 1h0m17 0h0m31 0h0m-27 2h0m46 1h0m67 0h0m11 0h0m2 1h0m2 1h0m-34 1h0m4 1h0m14 0h0m-88 4h0m-31 8h0m20 11h0" stroke="#92a0cb" stroke-width="6.0" stroke-linecap="round" fill="none"/><path d="M612 1168h0m3 0h0m2 0h0m34 0h0m5 0h0m-34 1h0m20 0h0m8 0h0m6 0h0m-50 1h0m42 0h0m-35 1h0m27 0h0m4 0h0m-23 1h0m3 0h0m5 0h0m8 0h0m16 0h0m5 0h0m2 1h0m-34 1h0m2 0h0m4 0h0m8 0h0m23 0h0m5 0h0m-32 1h0m32 1h0m-58 1h0m21 0h0m3 0h0m-21 1h0m57 2h0m3 3h0m3 1h0m-64 1h0m0 1h0m61 1h0m-66 1h0m67 2h0m-67 1h0m71 0h0m3 0h0m1 2h0m-1 3h0m-75 2h0m79 0h0m3 2h0m0 0h0m3 0h0m-4 1h0m4 1h0m-83 3h0m84 1h0m-82 1h0m85 1h0m-89 1h0m89 1h0m1 3h0m1 0h0m3 0h0m0 2h0m-90 1h0m-1 3h0m92 0h0m0 1h0m-92 2h0m95 1h0m3 3h0m-3 1h0m-95 1h0m96 0h0m1 3h0m1 2h0m-103 2h0m103 1h0m2 0h0m-1 1h0m3 1h0m0 6h0m2 0h0m-108 1h0m110 0h0m-110 3h0m107 0h0m3 1h0m0 0h0m-3 1h0m-107 1h0m112 2h0m-113 2h0m110 0h0m0 2h0m-112 1h0m2 0h0m110 0h0m4 1h0m1 0h0m-121 1h0m7 0h0m111 1h0m-112 2h0m115 0h0m0 0h0m-116 3h0m-6 1h0m118 0h0m2 0h0m1 0h0m-120 3h0m118 0h0m-123 1h0m125 0h0m2 2h0m-4 1h0m-115 3h0m1 0h0m114 0h0m3 1h0m-3 2h0m4 0h0m0 3h0m-4 2h0m2 3h0m-1 2h0m-120 1h0m121 0h0m-2 1h0m1 1h0m-128 1h0m129 2h0m-1 1h0m0 1h0m-1 2h0m4 2h0m-125 1h0m123 1h0m-123 3h0m122 1h0m-119 1h0m-3 1h0m3 0h0m120 0h0m0 0h0m-123 3h0m2 1h0m117 0h0m1 0h0m-126 2h0m4 2h0m124 0h0m1 0h0m-130 1h0m127 0h0m-1 3h0m4 0h0m-5 3h0m4 0h0m-123 3h0m123 3h0m-4 1h0m1 3h0m3 1h0m-3 4h0m-121 2h0m124 0h0m-1 2h0m-126 1h0m125 1h0m0 3h0m0 1h0m-5 2h0m0 0h0m-3 1h0m-119 1h0m116 3h0m1 1h0m-119 4h0m4 0h0m112 0h0m-113 2h0m110 1h0m2 1h0m-5 2h0m-109 1h0m110 0h0m3 0h0m-5 2h0m0 2h0m-107 1h0m107 2h0m-2 2h0m3 2h0m-115 3h0m110 0h0m-2 1h0m2 2h0m-5 3h0m4 0h0m-103 1h0m-363 2h0m461 0h0m4 0h0m-5 3h0m-1 1h0m-97 3h0m99 0h0m-4 3h0m-3 1h0m2 1h0m-95 2h0m93 0h0m-2 2h0m2 1h0m-2 3h0m-5 1h0m-1 2h0m2 0h0m-3 3h0m-87 1h0m82 2h0m-81 1h0m3 0h0m79 0h0m1 3h0m-7 2h0m4 0h0m-7 1h0m-1 2h0m4 0h0m-71 2h0m69 1h0m-4 1h0m-4 1h0m5 0h0m-3 1h0m-60 1h0m58 0h0m0 1h0m-60 1h0m59 1h0m0 2h0m-2 1h0m1 1h0m-4 1h0m-50 1h0m-3 1h0m56 0h0m-57 3h0m2 0h0m49 1h0m4 0h0m-3 2h0m-52 3h0m52 1h0m-2 1h0m3 0h0m3 0h0m-4 3h0m-54 1h0m51 1h0m-2 1h0m3 0h0m-9 2h0m4 0h0m2 2h0m-41 1h0m34 0h0m-3 1h0m6 0h0m8 0h0m-16 1h0m3 1h0m-3 1h0m-4 1h0m-6 3h0m0 1h0m3 0h0m-22 2h0m12 0h0m9 0h0m-23 1h0m19 0h0m-9 1h0m7 0h0m-1 1h0m-8 1h0m-6 1h0m10 0h0m-6 1h0m-325 16h0m249 4h0m-25 6h0m-189 10h0m73 17h0m-20 7h0m-52 1h0m-33 14h0m25 2h0m12 3h0m65 2h0m12 2h0m-67 7h0m173 14h0m-125 11h0m-45 1h0m141 3h0m25 0h0m-73 1h0m-126 2h0m150 1h0m-98 30h0m70 2h0m6 16h0m-88 8h0m-20 10h0" stroke="#88c2a6" stroke-width="6.0" stroke-linecap="round" fill="none"/><rect x="182.3" y="1135.1" width="564.5" height="564.6" fill="none" stroke="#1a1a1a" stroke-width="3.6"/><path d="M168.3 1160.6L182.3 1160.6" stroke="#1a1a1a" stroke-width="3.6"/><text x="147.4" y="1174.4" font-size="32" text-anchor="end">6</text><path d="M168.3 1289.0L182.3 1289.0" stroke="#1a1a1a" stroke-width="3.6"/><text x="147.4" y="1302.8" font-size="32" text-anchor="end">3</text><path d="M168.3 1417.3L182.3 1417.3" stroke="#1a1a1a" stroke-width="3.6"/><text x="147.4" y="1431.1" font-size="32" text-anchor="end">0</text><path d="M168.3 1545.7L182.3 1545.7" stroke="#1a1a1a" stroke-width="3.6"/><text x="147.4" y="1559.5" font-size="32" text-anchor="end">−3</text><path d="M168.3 1674.0L182.3 1674.0" stroke="#1a1a1a" stroke-width="3.6"/><text x="147.4" y="1687.8" font-size="32" text-anchor="end">−6</text><path d="M236.9 1699.7L236.9 1713.7" stroke="#1a1a1a" stroke-width="3.6"/><path d="M379.5 1699.7L379.5 1713.7" stroke="#1a1a1a" stroke-width="3.6"/><path d="M522.1 1699.7L522.1 1713.7" stroke="#1a1a1a" stroke-width="3.6"/><path d="M664.7 1699.7L664.7 1713.7" stroke="#1a1a1a" stroke-width="3.6"/><text x="120.0" y="1420.4" font-size="32" text-anchor="middle" transform="rotate(-90 120.0 1420.4)">UMAP 2</text><text x="227.2" y="1759.4" font-size="32" text-anchor="middle">−10</text><text x="373.6" y="1759.4" font-size="32" text-anchor="middle">−5</text><text x="521.5" y="1759.4" font-size="32" text-anchor="middle">0</text><text x="663.8" y="1759.4" font-size="32" text-anchor="middle">5</text><text x="459.6" y="1795.0" font-size="32" text-anchor="middle">UMAP 1</text><circle cx="210.5" cy="1162.8" r="9.4" fill="#88c2a6"/><text x="249.3" y="1173.8" font-size="32">blood</text><circle cx="210.5" cy="1203.5" r="9.4" fill="#e48b64"/><text x="249.3" y="1214.5" font-size="32">bone marrow</text><circle cx="210.5" cy="1244.3" r="9.4" fill="#92a0cb"/><text x="249.3" y="1255.3" font-size="32">spleen</text><text x="21.0" y="1818.1" font-size="40" font-weight="bold">e</text><rect x="81.9" y="1833.4" width="27.2" height="26.7" fill="#fc8d62" stroke="#000" stroke-width="3.6"/><text x="123.1" y="1856.3" font-size="32.5">bone marrow</text><rect x="408.3" y="1833.4" width="27.2" height="26.7" fill="#8da0cb" stroke="#000" stroke-width="3.6"/><text x="449.3" y="1856.3" font-size="32.5">spleen</text><rect x="696.4" y="1833.4" width="27.2" height="26.7" fill="#66c2a5" stroke="#000" stroke-width="3.6"/><text x="738.2" y="1856.3" font-size="32.5">blood</text><rect x="84.0" y="1883.3" width="557.3" height="70.9" fill="#fc8d62"/><rect x="641.3" y="1883.3" width="155.6" height="70.9" fill="#8da0cb"/><rect x="796.9" y="1883.3" width="17.5" height="70.9" fill="#66c2a5"/><rect x="81.9" y="1881.5" width="734.6" height="74.5" fill="none" stroke="#000" stroke-width="3.6"/><text x="24.5" y="1924.4" font-size="32" fill="#4d4d4d">P1</text><rect x="84.0" y="1965.4" width="604.0" height="70.9" fill="#fc8d62"/><rect x="688.0" y="1965.4" width="94.2" height="70.9" fill="#8da0cb"/><rect x="782.3" y="1965.4" width="32.1" height="70.9" fill="#66c2a5"/><rect x="81.9" y="1963.6" width="734.6" height="74.5" fill="none" stroke="#000" stroke-width="3.6"/><text x="24.5" y="2006.6" font-size="32" fill="#4d4d4d">P2</text><rect x="84.0" y="2048.0" width="616.5" height="70.9" fill="#fc8d62"/><rect x="700.5" y="2048.0" width="62.1" height="70.9" fill="#8da0cb"/><rect x="762.5" y="2048.0" width="51.9" height="70.9" fill="#66c2a5"/><rect x="81.9" y="2046.2" width="734.6" height="74.5" fill="none" stroke="#000" stroke-width="3.6"/><text x="24.5" y="2088.8" font-size="32" fill="#4d4d4d">P3</text><rect x="84.0" y="2130.2" width="12.4" height="70.9" fill="#fc8d62"/><rect x="96.4" y="2130.2" width="324.3" height="70.9" fill="#8da0cb"/><rect x="420.7" y="2130.2" width="393.7" height="70.9" fill="#66c2a5"/><rect x="81.9" y="2128.4" width="734.6" height="74.5" fill="none" stroke="#000" stroke-width="3.6"/><text x="24.5" y="2171.0" font-size="32" fill="#4d4d4d">P4</text><text x="325.0" y="1927.0" font-size="23.5">76.3 %</text><text x="643.5" y="1927.0" font-size="23.5">21.3 %</text><text x="747.6" y="1927.0" font-size="23.5">2.5 %</text><text x="348.4" y="2009.0" font-size="23.5">82.7 %</text><text x="636.8" y="2009.0" font-size="23.5">12.9 %</text><text x="748.4" y="2009.0" font-size="23.5">4.4 %</text><text x="354.8" y="2091.0" font-size="23.5">84.4 %</text><text x="663.8" y="2091.0" font-size="23.5">8.5 %</text><text x="748.4" y="2091.0" font-size="23.5">7.1 %</text><text x="86.8" y="2173.0" font-size="23.5">1.7%</text><text x="220.5" y="2173.0" font-size="23.5">44.4 %</text><text x="579.7" y="2173.0" font-size="23.5">53.9 %</text><text x="845.0" y="470.0" font-size="40" font-weight="bold">c</text><text x="1003.2" y="459.6" font-size="28.5" text-anchor="middle">P1</text><text x="1047.0" y="459.6" font-size="28.5" text-anchor="middle">P2</text><text x="1090.7" y="459.6" font-size="28.5" text-anchor="middle">P3</text><text x="1133.8" y="459.6" font-size="28.5" text-anchor="middle">P4</text><rect x="985.3" y="472.1" width="166.6" height="1572.3" fill="none" stroke="#000" stroke-width="3.9"/><text x="976.8" y="501.9" font-size="27.6" text-anchor="end" font-style="italic">Ube2c</text><circle cx="1008.5" cy="491.9" r="11.2" fill="#6d0220"/><circle cx="1048.6" cy="491.9" r="5.1" fill="#a5cee3"/><circle cx="1088.8" cy="491.9" r="3.7" fill="#a5cee3"/><circle cx="1129.0" cy="491.9" r="2.2" fill="#a5cee3"/><text x="976.8" y="527.0" font-size="27.6" text-anchor="end" font-style="italic">Stmn1</text><circle cx="1008.5" cy="517.0" r="11.4" fill="#6d0220"/><circle cx="1048.6" cy="517.0" r="6.4" fill="#a5cee3"/><circle cx="1088.8" cy="517.0" r="4.5" fill="#a5cee3"/><circle cx="1129.0" cy="517.0" r="2.6" fill="#a5cee3"/><text x="976.8" y="552.2" font-size="27.6" text-anchor="end" font-style="italic">Tuba1b</text><circle cx="1008.5" cy="542.2" r="11.4" fill="#6d0220"/><circle cx="1048.6" cy="542.2" r="5.1" fill="#a5cee3"/><circle cx="1088.8" cy="542.2" r="3.7" fill="#a5cee3"/><circle cx="1129.0" cy="542.2" r="2.8" fill="#a5cee3"/><text x="976.8" y="577.3" font-size="27.6" text-anchor="end" font-style="italic">Ptma</text><circle cx="1008.5" cy="567.3" r="11.8" fill="#6d0220"/><circle cx="1048.6" cy="567.3" r="6.2" fill="#9bc9e0"/><circle cx="1088.8" cy="567.3" r="4.8" fill="#9bc9e0"/><circle cx="1129.0" cy="567.3" r="5.1" fill="#9bc9e0"/><text x="976.8" y="602.4" font-size="27.6" text-anchor="end" font-style="italic">Ube2s</text><circle cx="1008.5" cy="592.4" r="11.8" fill="#6d0220"/><circle cx="1048.6" cy="592.4" r="7.3" fill="#a9d1e5"/><circle cx="1088.8" cy="592.4" r="5.6" fill="#a5cee3"/><circle cx="1129.0" cy="592.4" r="4.8" fill="#9bc9e0"/><text x="976.8" y="627.5" font-size="27.6" text-anchor="end" font-style="italic">Tubb5</text><circle cx="1008.5" cy="617.5" r="11.4" fill="#6d0220"/><circle cx="1048.6" cy="617.5" r="4.8" fill="#a5cee3"/><circle cx="1088.8" cy="617.5" r="4.0" fill="#a5cee3"/><circle cx="1129.0" cy="617.5" r="3.0" fill="#a9d1e5"/><text x="976.8" y="652.7" font-size="27.6" text-anchor="end" font-style="italic">Chil3</text><circle cx="1008.5" cy="642.7" r="11.8" fill="#6d0220"/><circle cx="1048.6" cy="642.7" r="11.2" fill="#d1e5f0"/><circle cx="1088.8" cy="642.7" r="5.9" fill="#81bad8"/><circle cx="1129.0" cy="642.7" r="3.2" fill="#81bad8"/><text x="976.8" y="677.8" font-size="27.6" text-anchor="end" font-style="italic">Cebpe</text><circle cx="1008.5" cy="667.8" r="11.8" fill="#7f0823"/><circle cx="1048.6" cy="667.8" r="8.7" fill="#e0ecf3"/><circle cx="1088.8" cy="667.8" r="4.5" fill="#6eaed2"/><circle cx="1129.0" cy="667.8" r="3.2" fill="#6eaed2"/><text x="976.8" y="702.9" font-size="27.6" text-anchor="end" font-style="italic">Hmgb1</text><circle cx="1008.5" cy="692.9" r="11.8" fill="#6d0220"/><circle cx="1048.6" cy="692.9" r="7.4" fill="#93c6de"/><circle cx="1088.8" cy="692.9" r="6.7" fill="#9bc9e0"/><circle cx="1129.0" cy="692.9" r="6.4" fill="#a9d1e5"/><text x="976.8" y="728.1" font-size="27.6" text-anchor="end" font-style="italic">H2afz</text><circle cx="1008.5" cy="718.1" r="11.8" fill="#6d0220"/><circle cx="1048.6" cy="718.1" r="10.1" fill="#b8d8e9"/><circle cx="1088.8" cy="718.1" r="8.3" fill="#93c6de"/><circle cx="1129.0" cy="718.1" r="7.0" fill="#8dc2dc"/><text x="976.8" y="753.2" font-size="27.6" text-anchor="end" font-style="italic">Camp</text><circle cx="1008.5" cy="743.2" r="11.8" fill="#870a24"/><circle cx="1048.6" cy="743.2" r="12.0" fill="#edf2f5"/><circle cx="1088.8" cy="743.2" r="10.1" fill="#5ca3cb"/><circle cx="1129.0" cy="743.2" r="3.7" fill="#5ca3cb"/><text x="976.8" y="778.3" font-size="27.6" text-anchor="end" font-style="italic">Hmgn2</text><circle cx="1008.5" cy="768.3" r="11.8" fill="#6d0220"/><circle cx="1048.6" cy="768.3" r="10.7" fill="#b3d6e8"/><circle cx="1088.8" cy="768.3" r="9.1" fill="#9bc9e0"/><circle cx="1129.0" cy="768.3" r="7.0" fill="#81bad8"/><text x="976.8" y="803.5" font-size="27.6" text-anchor="end" font-style="italic">Hmgb2</text><circle cx="1008.5" cy="793.5" r="11.8" fill="#6d0220"/><circle cx="1048.6" cy="793.5" r="11.2" fill="#a5cee3"/><circle cx="1088.8" cy="793.5" r="10.7" fill="#9bc9e0"/><circle cx="1129.0" cy="793.5" r="9.6" fill="#9bc9e0"/><text x="976.8" y="828.6" font-size="27.6" text-anchor="end" font-style="italic">Ngp</text><circle cx="1008.5" cy="818.6" r="11.8" fill="#930e26"/><circle cx="1048.6" cy="818.6" r="12.0" fill="#f9eee7"/><circle cx="1088.8" cy="818.6" r="10.9" fill="#4695c4"/><circle cx="1129.0" cy="818.6" r="4.0" fill="#4695c4"/><text x="976.8" y="853.7" font-size="27.6" text-anchor="end" font-style="italic">Ltf</text><circle cx="1008.5" cy="843.7" r="11.8" fill="#bd2d35"/><circle cx="1048.6" cy="843.7" r="12.0" fill="#fbceb7"/><circle cx="1088.8" cy="843.7" r="7.0" fill="#3c8abe"/><circle cx="1129.0" cy="843.7" r="2.8" fill="#3c8abe"/><text x="976.8" y="878.8" font-size="27.6" text-anchor="end" font-style="italic">Arhgdib</text><circle cx="1008.5" cy="868.8" r="11.8" fill="#8a0b25"/><circle cx="1048.6" cy="868.8" r="12.0" fill="#f9f0eb"/><circle cx="1088.8" cy="868.8" r="11.2" fill="#9bc9e0"/><circle cx="1129.0" cy="868.8" r="8.3" fill="#2b73b3"/><text x="976.8" y="904.0" font-size="27.6" text-anchor="end" font-style="italic">Calm2</text><circle cx="1008.5" cy="894.0" r="11.8" fill="#6d0220"/><circle cx="1048.6" cy="894.0" r="7.6" fill="#81bad8"/><circle cx="1088.8" cy="894.0" r="8.0" fill="#93c6de"/><circle cx="1129.0" cy="894.0" r="8.5" fill="#c2ddec"/><text x="976.8" y="929.1" font-size="27.6" text-anchor="end" font-style="italic">mt–Co1</text><circle cx="1008.5" cy="919.1" r="12.0" fill="#7f0823"/><circle cx="1048.6" cy="919.1" r="11.2" fill="#f2f5f6"/><circle cx="1088.8" cy="919.1" r="10.1" fill="#93c6de"/><circle cx="1129.0" cy="919.1" r="8.0" fill="#4695c4"/><text x="976.8" y="954.2" font-size="27.6" text-anchor="end" font-style="italic">Lcn2</text><circle cx="1008.5" cy="944.2" r="11.8" fill="#c6413e"/><circle cx="1048.6" cy="944.2" r="12.0" fill="#f7b596"/><circle cx="1088.8" cy="944.2" r="11.2" fill="#81bad8"/><circle cx="1129.0" cy="944.2" r="7.0" fill="#307ab6"/><text x="976.8" y="979.4" font-size="27.6" text-anchor="end" font-style="italic">Lyz2</text><circle cx="1008.5" cy="969.4" r="11.8" fill="#d7634f"/><circle cx="1048.6" cy="969.4" r="12.0" fill="#ee9677"/><circle cx="1088.8" cy="969.4" r="12.0" fill="#b8d8e9"/><circle cx="1129.0" cy="969.4" r="8.5" fill="#1c5c9f"/><text x="976.8" y="1004.5" font-size="27.6" text-anchor="end" font-style="italic">Ifitm6</text><circle cx="1008.5" cy="994.5" r="11.6" fill="#f7f6f6"/><circle cx="1048.6" cy="994.5" r="12.0" fill="#8a0b25"/><circle cx="1088.8" cy="994.5" r="11.2" fill="#d1e5f0"/><circle cx="1129.0" cy="994.5" r="4.8" fill="#307ab6"/><text x="976.8" y="1029.6" font-size="27.6" text-anchor="end" font-style="italic">Wfdc21</text><circle cx="1008.5" cy="1019.6" r="11.8" fill="#ee9677"/><circle cx="1048.6" cy="1019.6" r="11.8" fill="#d55d4c"/><circle cx="1088.8" cy="1019.6" r="12.0" fill="#c2ddec"/><circle cx="1129.0" cy="1019.6" r="9.4" fill="#185493"/><text x="976.8" y="1054.8" font-size="27.6" text-anchor="end" font-style="italic">Anxa1</text><circle cx="1008.5" cy="1044.8" r="11.8" fill="#c94741"/><circle cx="1048.6" cy="1044.8" r="11.8" fill="#ee9677"/><circle cx="1088.8" cy="1044.8" r="10.7" fill="#5ca3cb"/><circle cx="1129.0" cy="1044.8" r="8.3" fill="#307ab6"/><text x="976.8" y="1079.9" font-size="27.6" text-anchor="end" font-style="italic">Mmp8</text><circle cx="1008.5" cy="1069.9" r="4.0" fill="#4695c4"/><circle cx="1048.6" cy="1069.9" r="11.6" fill="#b82531"/><circle cx="1088.8" cy="1069.9" r="11.2" fill="#f7b596"/><circle cx="1129.0" cy="1069.9" r="5.3" fill="#4695c4"/><text x="976.8" y="1105.0" font-size="27.6" text-anchor="end" font-style="italic">Cybb</text><circle cx="1008.5" cy="1095.0" r="11.8" fill="#bd2d35"/><circle cx="1048.6" cy="1095.0" r="11.6" fill="#f7b596"/><circle cx="1088.8" cy="1095.0" r="5.9" fill="#5ca3cb"/><circle cx="1129.0" cy="1095.0" r="2.6" fill="#3480b9"/><text x="976.8" y="1130.2" font-size="27.6" text-anchor="end" font-style="italic">Dstn</text><circle cx="1008.5" cy="1120.2" r="11.8" fill="#bd2d35"/><circle cx="1048.6" cy="1120.2" r="11.6" fill="#f8bb9e"/><circle cx="1088.8" cy="1120.2" r="8.0" fill="#81bad8"/><circle cx="1129.0" cy="1120.2" r="4.0" fill="#307ab6"/><text x="976.8" y="1155.3" font-size="27.6" text-anchor="end" font-style="italic">Ly6c2</text><circle cx="1008.5" cy="1145.3" r="11.6" fill="#c94741"/><circle cx="1048.6" cy="1145.3" r="11.6" fill="#f7b596"/><circle cx="1088.8" cy="1145.3" r="8.5" fill="#c2ddec"/><circle cx="1129.0" cy="1145.3" r="3.7" fill="#1c5c9f"/><text x="976.8" y="1180.4" font-size="27.6" text-anchor="end" font-style="italic">Ly6g</text><circle cx="1008.5" cy="1170.4" r="10.1" fill="#f7b596"/><circle cx="1048.6" cy="1170.4" r="11.6" fill="#d55d4c"/><circle cx="1088.8" cy="1170.4" r="8.7" fill="#d1e5f0"/><circle cx="1129.0" cy="1170.4" r="3.7" fill="#15508d"/><text x="976.8" y="1205.5" font-size="27.6" text-anchor="end" font-style="italic">Cd177</text><circle cx="1008.5" cy="1195.5" r="11.6" fill="#b41c2d"/><circle cx="1048.6" cy="1195.5" r="11.2" fill="#fcd7c2"/><circle cx="1088.8" cy="1195.5" r="7.6" fill="#93c6de"/><circle cx="1129.0" cy="1195.5" r="3.7" fill="#307ab6"/><text x="976.8" y="1230.7" font-size="27.6" text-anchor="end" font-style="italic">Serpinb1a</text><circle cx="1008.5" cy="1220.7" r="11.6" fill="#930e26"/><circle cx="1048.6" cy="1220.7" r="8.7" fill="#fbe6da"/><circle cx="1088.8" cy="1220.7" r="5.1" fill="#5ca3cb"/><circle cx="1129.0" cy="1220.7" r="3.4" fill="#4695c4"/><text x="976.8" y="1255.8" font-size="27.6" text-anchor="end" font-style="italic">Prdx5</text><circle cx="1008.5" cy="1245.8" r="11.8" fill="#ee9677"/><circle cx="1048.6" cy="1245.8" r="11.8" fill="#db6b55"/><circle cx="1088.8" cy="1245.8" r="12.0" fill="#cce2ef"/><circle cx="1129.0" cy="1245.8" r="10.1" fill="#15508d"/><text x="976.8" y="1280.9" font-size="27.6" text-anchor="end" font-style="italic">Lgals3</text><circle cx="1008.5" cy="1270.9" r="9.1" fill="#acd2e5"/><circle cx="1048.6" cy="1270.9" r="11.6" fill="#b82531"/><circle cx="1088.8" cy="1270.9" r="10.7" fill="#fcd7c2"/><circle cx="1129.0" cy="1270.9" r="7.0" fill="#307ab6"/><text x="976.8" y="1306.1" font-size="27.6" text-anchor="end" font-style="italic">AA467197</text><circle cx="1008.5" cy="1296.1" r="9.1" fill="#f5ac8b"/><circle cx="1048.6" cy="1296.1" r="9.4" fill="#c6413e"/><circle cx="1088.8" cy="1296.1" r="4.8" fill="#5ca3cb"/><circle cx="1129.0" cy="1296.1" r="3.4" fill="#4695c4"/><text x="976.8" y="1331.2" font-size="27.6" text-anchor="end" font-style="italic">Retnlg</text><circle cx="1008.5" cy="1321.2" r="10.1" fill="#3c8abe"/><circle cx="1048.6" cy="1321.2" r="11.6" fill="#f9f0eb"/><circle cx="1088.8" cy="1321.2" r="11.8" fill="#8a0b25"/><circle cx="1129.0" cy="1321.2" r="11.2" fill="#93c6de"/><text x="976.8" y="1356.3" font-size="27.6" text-anchor="end" font-style="italic">S100a6</text><circle cx="1008.5" cy="1346.3" r="6.4" fill="#1c5c9f"/><circle cx="1048.6" cy="1346.3" r="11.2" fill="#f8f1ed"/><circle cx="1088.8" cy="1346.3" r="11.6" fill="#b41c2d"/><circle cx="1129.0" cy="1346.3" r="11.2" fill="#eaf1f5"/><text x="976.8" y="1381.4" font-size="27.6" text-anchor="end" font-style="italic">Prr13</text><circle cx="1008.5" cy="1371.4" r="3.4" fill="#185493"/><circle cx="1048.6" cy="1371.4" r="10.7" fill="#fbe3d4"/><circle cx="1088.8" cy="1371.4" r="11.6" fill="#bd2d35"/><circle cx="1129.0" cy="1371.4" r="9.4" fill="#e0ecf3"/><text x="976.8" y="1406.6" font-size="27.6" text-anchor="end" font-style="italic">Tmcc1</text><circle cx="1008.5" cy="1396.6" r="4.8" fill="#2369ad"/><circle cx="1048.6" cy="1396.6" r="8.7" fill="#f9ebe3"/><circle cx="1088.8" cy="1396.6" r="9.8" fill="#a51429"/><circle cx="1129.0" cy="1396.6" r="7.3" fill="#e0ecf3"/><text x="976.8" y="1431.7" font-size="27.6" text-anchor="end" font-style="italic">Mmp9</text><circle cx="1008.5" cy="1421.7" r="4.8" fill="#2369ad"/><circle cx="1048.6" cy="1421.7" r="11.2" fill="#d7634f"/><circle cx="1088.8" cy="1421.7" r="10.9" fill="#ee9677"/><circle cx="1129.0" cy="1421.7" r="8.3" fill="#b3d6e8"/><text x="976.8" y="1456.8" font-size="27.6" text-anchor="end" font-style="italic">Pglyrp1</text><circle cx="1008.5" cy="1446.8" r="11.8" fill="#df765e"/><circle cx="1048.6" cy="1446.8" r="11.8" fill="#f2a17f"/><circle cx="1088.8" cy="1446.8" r="11.8" fill="#dbeaf2"/><circle cx="1129.0" cy="1446.8" r="10.5" fill="#0e4179"/><text x="976.8" y="1482.0" font-size="27.6" text-anchor="end" font-style="italic">Mgst1</text><circle cx="1008.5" cy="1472.0" r="10.9" fill="#fddbc7"/><circle cx="1048.6" cy="1472.0" r="10.9" fill="#df765e"/><circle cx="1088.8" cy="1472.0" r="9.8" fill="#fbe3d4"/><circle cx="1129.0" cy="1472.0" r="6.2" fill="#073467"/><text x="976.8" y="1507.1" font-size="27.6" text-anchor="end" font-style="italic">Mcemp1</text><circle cx="1008.5" cy="1497.1" r="9.8" fill="#f2f5f6"/><circle cx="1048.6" cy="1497.1" r="10.7" fill="#ee9677"/><circle cx="1088.8" cy="1497.1" r="10.7" fill="#ee9677"/><circle cx="1129.0" cy="1497.1" r="7.6" fill="#073467"/><text x="976.8" y="1532.2" font-size="27.6" text-anchor="end" font-style="italic">Gm5483</text><circle cx="1008.5" cy="1522.2" r="2.9" fill="#4695c4"/><circle cx="1048.6" cy="1522.2" r="5.3" fill="#75b2d4"/><circle cx="1088.8" cy="1522.2" r="5.9" fill="#930e26"/><circle cx="1129.0" cy="1522.2" r="5.9" fill="#fbe6da"/><text x="976.8" y="1557.4" font-size="27.6" text-anchor="end" font-style="italic">Wfdc17</text><circle cx="1008.5" cy="1547.4" r="3.4" fill="#9bc9e0"/><circle cx="1048.6" cy="1547.4" r="5.1" fill="#9bc9e0"/><circle cx="1088.8" cy="1547.4" r="6.7" fill="#cce2ef"/><circle cx="1129.0" cy="1547.4" r="9.4" fill="#6d0220"/><text x="976.8" y="1582.5" font-size="27.6" text-anchor="end" font-style="italic">Hbb–bs</text><circle cx="1008.5" cy="1572.5" r="3.4" fill="#a9d1e5"/><circle cx="1048.6" cy="1572.5" r="4.0" fill="#acd2e5"/><circle cx="1088.8" cy="1572.5" r="4.5" fill="#a5cee3"/><circle cx="1129.0" cy="1572.5" r="9.6" fill="#6d0220"/><text x="976.8" y="1607.6" font-size="27.6" text-anchor="end" font-style="italic">Il1b</text><circle cx="1008.5" cy="1597.6" r="4.5" fill="#81bad8"/><circle cx="1048.6" cy="1597.6" r="5.6" fill="#8dc2dc"/><circle cx="1088.8" cy="1597.6" r="7.3" fill="#d5e7f1"/><circle cx="1129.0" cy="1597.6" r="11.6" fill="#6d0220"/><text x="976.8" y="1632.8" font-size="27.6" text-anchor="end" font-style="italic">Ifitm1</text><circle cx="1008.5" cy="1622.8" r="2.6" fill="#4695c4"/><circle cx="1048.6" cy="1622.8" r="5.6" fill="#6eaed2"/><circle cx="1088.8" cy="1622.8" r="7.0" fill="#ecf2f5"/><circle cx="1129.0" cy="1622.8" r="9.4" fill="#790622"/><text x="976.8" y="1657.9" font-size="27.6" text-anchor="end" font-style="italic">Ifitm2</text><circle cx="1008.5" cy="1647.9" r="5.6" fill="#3c8abe"/><circle cx="1048.6" cy="1647.9" r="9.4" fill="#8dc2dc"/><circle cx="1088.8" cy="1647.9" r="10.7" fill="#f9f0eb"/><circle cx="1129.0" cy="1647.9" r="11.8" fill="#870a24"/><text x="976.8" y="1683.0" font-size="27.6" text-anchor="end" font-style="italic">Btg1</text><circle cx="1008.5" cy="1673.0" r="3.2" fill="#3c8abe"/><circle cx="1048.6" cy="1673.0" r="7.0" fill="#6eaed2"/><circle cx="1088.8" cy="1673.0" r="10.1" fill="#fae9df"/><circle cx="1129.0" cy="1673.0" r="11.6" fill="#8a0b25"/><text x="976.8" y="1708.1" font-size="27.6" text-anchor="end" font-style="italic">Fxyd5</text><circle cx="1008.5" cy="1698.1" r="4.0" fill="#4291c2"/><circle cx="1048.6" cy="1698.1" r="5.9" fill="#81bad8"/><circle cx="1088.8" cy="1698.1" r="9.8" fill="#f8f3f0"/><circle cx="1129.0" cy="1698.1" r="11.6" fill="#8a0b25"/><text x="976.8" y="1733.3" font-size="27.6" text-anchor="end" font-style="italic">Hba–a1</text><circle cx="1008.5" cy="1723.3" r="2.9" fill="#a9d1e5"/><circle cx="1048.6" cy="1723.3" r="4.8" fill="#b3d6e8"/><circle cx="1088.8" cy="1723.3" r="5.1" fill="#a5cee3"/><circle cx="1129.0" cy="1723.3" r="9.1" fill="#6d0220"/><text x="976.8" y="1758.4" font-size="27.6" text-anchor="end" font-style="italic">Srgn</text><circle cx="1008.5" cy="1748.4" r="4.0" fill="#3c8abe"/><circle cx="1048.6" cy="1748.4" r="6.7" fill="#65a9cf"/><circle cx="1088.8" cy="1748.4" r="9.8" fill="#fbe3d4"/><circle cx="1129.0" cy="1748.4" r="11.6" fill="#930e26"/><text x="976.8" y="1783.5" font-size="27.6" text-anchor="end" font-style="italic">Malat1</text><circle cx="1008.5" cy="1773.5" r="12.0" fill="#6eaed2"/><circle cx="1048.6" cy="1773.5" r="12.0" fill="#93c6de"/><circle cx="1088.8" cy="1773.5" r="12.0" fill="#eaf1f5"/><circle cx="1129.0" cy="1773.5" r="12.0" fill="#760521"/><text x="976.8" y="1808.7" font-size="27.6" text-anchor="end" font-style="italic">Hba–a2</text><circle cx="1008.5" cy="1798.7" r="4.3" fill="#9bc9e0"/><circle cx="1048.6" cy="1798.7" r="5.3" fill="#b3d6e8"/><circle cx="1088.8" cy="1798.7" r="5.1" fill="#a5cee3"/><circle cx="1129.0" cy="1798.7" r="8.3" fill="#6d0220"/><text x="976.8" y="1833.8" font-size="27.6" text-anchor="end" font-style="italic">Dusp1</text><circle cx="1008.5" cy="1823.8" r="3.2" fill="#5ca3cb"/><circle cx="1048.6" cy="1823.8" r="6.2" fill="#75b2d4"/><circle cx="1088.8" cy="1823.8" r="7.6" fill="#edf2f5"/><circle cx="1129.0" cy="1823.8" r="10.1" fill="#7f0823"/><text x="976.8" y="1858.9" font-size="27.6" text-anchor="end" font-style="italic">Rps27</text><circle cx="1008.5" cy="1848.9" r="10.5" fill="#81bad8"/><circle cx="1048.6" cy="1848.9" r="10.9" fill="#81bad8"/><circle cx="1088.8" cy="1848.9" r="11.2" fill="#d7e8f1"/><circle cx="1129.0" cy="1848.9" r="11.8" fill="#6d0220"/><text x="976.8" y="1884.0" font-size="27.6" text-anchor="end" font-style="italic">Jund</text><circle cx="1008.5" cy="1874.0" r="4.5" fill="#5ca3cb"/><circle cx="1048.6" cy="1874.0" r="5.6" fill="#8dc2dc"/><circle cx="1088.8" cy="1874.0" r="7.0" fill="#e4eef4"/><circle cx="1129.0" cy="1874.0" r="9.8" fill="#790622"/><text x="976.8" y="1909.2" font-size="27.6" text-anchor="end" font-style="italic">Fth1</text><circle cx="1008.5" cy="1899.2" r="6.2" fill="#2b73b3"/><circle cx="1048.6" cy="1899.2" r="11.2" fill="#a5cee3"/><circle cx="1088.8" cy="1899.2" r="11.8" fill="#fbceb7"/><circle cx="1129.0" cy="1899.2" r="11.8" fill="#b1182b"/><text x="976.8" y="1934.3" font-size="27.6" text-anchor="end" font-style="italic">Ccl6</text><circle cx="1008.5" cy="1924.3" r="2.6" fill="#4695c4"/><circle cx="1048.6" cy="1924.3" r="5.9" fill="#4695c4"/><circle cx="1088.8" cy="1924.3" r="10.7" fill="#e98b6e"/><circle cx="1129.0" cy="1924.3" r="11.2" fill="#d55d4c"/><text x="976.8" y="1959.4" font-size="27.6" text-anchor="end" font-style="italic">Msrb1</text><circle cx="1008.5" cy="1949.4" r="8.7" fill="#276eb0"/><circle cx="1048.6" cy="1949.4" r="11.6" fill="#a5cee3"/><circle cx="1088.8" cy="1949.4" r="11.8" fill="#fddbc7"/><circle cx="1129.0" cy="1949.4" r="11.8" fill="#a51429"/><text x="976.8" y="1984.6" font-size="27.6" text-anchor="end" font-style="italic">Csf3r</text><circle cx="1008.5" cy="1974.6" r="4.5" fill="#4f9bc7"/><circle cx="1048.6" cy="1974.6" r="6.2" fill="#75b2d4"/><circle cx="1088.8" cy="1974.6" r="8.0" fill="#f8f3f0"/><circle cx="1129.0" cy="1974.6" r="10.1" fill="#8a0b25"/><text x="976.8" y="2009.7" font-size="27.6" text-anchor="end" font-style="italic">Junb</text><circle cx="1008.5" cy="1999.7" r="3.4" fill="#4695c4"/><circle cx="1048.6" cy="1999.7" r="6.7" fill="#75b2d4"/><circle cx="1088.8" cy="1999.7" r="8.5" fill="#fae9df"/><circle cx="1129.0" cy="1999.7" r="9.6" fill="#8a0b25"/><text x="976.8" y="2034.8" font-size="27.6" text-anchor="end" font-style="italic">H2–D1</text><circle cx="1008.5" cy="2024.8" r="4.3" fill="#3480b9"/><circle cx="1048.6" cy="2024.8" r="9.1" fill="#9bc9e0"/><circle cx="1088.8" cy="2024.8" r="11.2" fill="#f9c2a7"/><circle cx="1129.0" cy="2024.8" r="11.6" fill="#b82531"/><text x="952.5" y="2084.0" font-size="23.6">Percent expressed</text><circle cx="964.9" cy="2102.5" r="4.4" fill="#000"/><text x="964.9" y="2136.3" font-size="22.5" text-anchor="middle">25</text><circle cx="1020.5" cy="2102.5" r="6.3" fill="#000"/><text x="1020.5" y="2136.3" font-size="22.5" text-anchor="middle">50</text><circle cx="1076.5" cy="2102.5" r="8.5" fill="#000"/><text x="1076.5" y="2136.3" font-size="22.5" text-anchor="middle">75</text><circle cx="1132.3" cy="2102.5" r="10.7" fill="#000"/><text x="1132.3" y="2136.3" font-size="22.5" text-anchor="middle">100</text><text x="941.0" y="2174.4" font-size="23.6">Average expression</text><rect x="966" y="2188" width="159.7" height="35.5" fill="#000"/><rect x="970.00" y="2192" width="7.89" height="27.5" fill="#0c3d73"/><rect x="977.59" y="2192" width="7.89" height="27.5" fill="#1a5899"/><rect x="985.17" y="2192" width="7.89" height="27.5" fill="#2a71b2"/><rect x="992.75" y="2192" width="7.89" height="27.5" fill="#3a87bd"/><rect x="1000.34" y="2192" width="7.89" height="27.5" fill="#569fc9"/><rect x="1007.92" y="2192" width="7.89" height="27.5" fill="#7eb8d7"/><rect x="1015.51" y="2192" width="7.89" height="27.5" fill="#a2cde3"/><rect x="1023.10" y="2192" width="7.89" height="27.5" fill="#c2ddec"/><rect x="1030.68" y="2192" width="7.89" height="27.5" fill="#dae9f2"/><rect x="1038.27" y="2192" width="7.89" height="27.5" fill="#edf2f5"/><rect x="1045.85" y="2192" width="7.89" height="27.5" fill="#f9f0eb"/><rect x="1053.43" y="2192" width="7.89" height="27.5" fill="#fce2d2"/><rect x="1061.02" y="2192" width="7.89" height="27.5" fill="#fbccb4"/><rect x="1068.61" y="2192" width="7.89" height="27.5" fill="#f6b394"/><rect x="1076.19" y="2192" width="7.89" height="27.5" fill="#ec9374"/><rect x="1083.78" y="2192" width="7.89" height="27.5" fill="#dd7059"/><rect x="1091.36" y="2192" width="7.89" height="27.5" fill="#cc4c44"/><rect x="1098.95" y="2192" width="7.89" height="27.5" fill="#ba2832"/><rect x="1106.53" y="2192" width="7.89" height="27.5" fill="#9f1228"/><rect x="1114.12" y="2192" width="7.89" height="27.5" fill="#790622"/><rect x="993.8" y="2192" width="3.2" height="4.5" fill="#000"/><rect x="993.8" y="2215.0" width="3.2" height="4.5" fill="#000"/><rect x="1043.0" y="2192" width="3.2" height="4.5" fill="#000"/><rect x="1043.0" y="2215.0" width="3.2" height="4.5" fill="#000"/><rect x="1092.5" y="2192" width="3.2" height="4.5" fill="#000"/><rect x="1092.5" y="2215.0" width="3.2" height="4.5" fill="#000"/><text x="993.5" y="2244.2" font-size="22.5" text-anchor="middle">−1</text><text x="1044.6" y="2244.2" font-size="22.5" text-anchor="middle">0</text><text x="1094.1" y="2244.2" font-size="22.5" text-anchor="middle">1</text><path d="M1484.7 853.5L1483.4 841.4L1480.4 824.2L1476.4 815.3L1460.6 812.3L1460.5 812.3L1441.3 808.1L1441.1 808.0L1440.9 808.0L1440.7 807.9L1440.5 807.8L1428.5 799.3L1428.4 799.2L1411.7 786.7L1400.2 780.5L1386.4 777.5L1370.1 780.6L1370.0 780.6L1355.6 782.8L1355.4 782.8L1355.2 782.8L1355.0 782.8L1354.8 782.7L1354.6 782.7L1354.4 782.6L1354.2 782.5L1354.1 782.4L1353.9 782.3L1353.8 782.2L1345.8 774.1L1345.7 774.0L1345.6 773.9L1345.5 773.7L1345.4 773.5L1345.4 773.4L1345.3 773.2L1344.1 763.4L1341.1 763.4L1339.9 773.1L1339.2 787.4L1339.2 787.5L1336.8 806.2L1341.4 816.3L1347.5 829.1L1347.5 829.2L1347.6 829.4L1352.3 850.5L1352.4 850.6L1354.7 867.3L1361.8 882.0L1371.5 901.0L1371.5 901.1L1378.7 917.9L1385.7 930.2L1399.7 940.5L1413.8 948.9L1427.6 954.0L1441.1 951.9L1455.0 945.8L1468.0 932.8L1468.1 932.6L1468.3 932.5L1468.4 932.4L1468.6 932.3L1468.8 932.2L1480.5 928.8L1489.4 924.1L1490.3 911.2L1489.3 893.8L1487.5 877.9L1487.3 879.1L1487.3 879.3L1487.2 879.4L1487.1 879.6L1487.0 879.7L1486.9 879.8L1486.8 880.0L1486.7 880.1L1486.6 880.2L1477.6 886.3L1477.5 886.4L1477.3 886.5L1477.1 886.6L1476.9 886.6L1476.7 886.7L1476.5 886.7L1476.4 886.7L1476.2 886.7L1476.0 886.6L1475.8 886.6L1475.6 886.5L1475.4 886.5L1475.3 886.4L1475.1 886.3L1475.0 886.1L1474.8 886.0L1474.7 885.9L1474.6 885.7L1468.7 875.2L1468.6 875.1L1468.5 874.9L1468.5 874.8L1468.5 874.6L1468.5 874.4L1468.5 853.4L1468.5 853.3L1468.5 853.1L1468.5 852.9L1468.6 852.8L1468.7 852.6L1468.8 852.5L1468.9 852.3L1469.1 852.2L1469.2 852.1L1469.4 852.0L1469.5 851.9L1469.7 851.8L1469.9 851.8L1470.1 851.7L1481.0 850.0L1481.2 850.0L1481.4 850.0L1481.6 850.0L1481.8 850.0L1482.0 850.0L1482.1 850.1L1482.3 850.2L1482.5 850.3L1482.6 850.4L1482.8 850.5L1482.9 850.6L1483.0 850.7L1483.1 850.9ZM1452.8 861.2L1452.7 861.1L1452.7 860.9L1452.6 860.8L1452.6 860.6L1452.6 860.4L1452.6 860.3L1452.6 860.1L1452.7 860.0L1452.7 859.8L1452.8 859.6L1454.3 857.2L1454.3 857.0L1454.5 856.9L1454.6 856.8L1454.7 856.6L1454.9 856.5L1455.0 856.4L1455.2 856.4L1455.4 856.3L1458.9 855.3L1459.1 855.2L1459.3 855.2L1459.4 855.2L1459.6 855.2L1459.8 855.2L1460.0 855.2L1460.1 855.3L1463.7 856.3L1463.8 856.4L1464.0 856.4L1464.2 856.5L1464.3 856.6L1464.5 856.8L1464.6 856.9L1464.7 857.0L1464.8 857.2L1466.3 859.6L1466.3 859.8L1466.4 860.0L1466.4 860.1L1466.5 860.3L1466.5 860.4L1466.5 860.6L1466.4 860.8L1466.4 860.9L1466.3 861.1L1466.3 861.2L1464.8 863.7L1464.7 863.9L1464.6 864.0L1464.5 864.1L1464.3 864.2L1464.2 864.4L1464.0 864.4L1463.8 864.5L1463.7 864.6L1460.1 865.6L1460.0 865.6L1459.8 865.7L1459.6 865.7L1459.4 865.7L1459.3 865.7L1459.1 865.6L1458.9 865.6L1455.4 864.6L1455.2 864.5L1455.0 864.4L1454.9 864.4L1454.7 864.2L1454.6 864.1L1454.5 864.0L1454.3 863.9L1454.3 863.7ZM1431.3 892.8L1431.1 892.8L1431.0 892.7L1430.8 892.6L1430.6 892.5L1430.5 892.4L1430.4 892.3L1430.3 892.1L1430.2 892.0L1429.0 890.1L1428.9 890.0L1428.8 889.8L1428.8 889.7L1428.8 889.5L1428.7 889.3L1428.8 889.1L1428.8 889.0L1428.8 888.8L1428.9 888.6L1429.0 888.5L1430.2 886.6L1430.3 886.5L1430.4 886.3L1430.5 886.2L1430.6 886.1L1430.8 886.0L1431.0 885.9L1431.1 885.8L1431.3 885.8L1434.1 885.0L1434.3 885.0L1434.5 884.9L1434.7 884.9L1434.9 884.9L1435.1 885.0L1435.3 885.0L1438.1 885.8L1438.3 885.8L1438.4 885.9L1438.6 886.0L1438.8 886.1L1438.9 886.2L1439.0 886.3L1439.1 886.5L1439.2 886.6L1440.4 888.5L1440.5 888.6L1440.6 888.8L1440.6 889.0L1440.6 889.1L1440.7 889.3L1440.6 889.5L1440.6 889.7L1440.6 889.8L1440.5 890.0L1440.4 890.1L1439.2 892.0L1439.1 892.1L1439.0 892.3L1438.9 892.4L1438.8 892.5L1438.6 892.6L1438.4 892.7L1438.3 892.8L1438.1 892.8L1435.3 893.6L1435.1 893.6L1434.9 893.7L1434.7 893.7L1434.5 893.7L1434.3 893.6L1434.1 893.6ZM1410.0 844.5L1409.4 844.7L1409.2 844.7L1409.0 844.7L1408.8 844.7L1408.6 844.7L1408.4 844.7L1408.2 844.6L1408.1 844.5L1407.9 844.5L1407.7 844.4L1407.6 844.3L1407.4 844.2L1407.3 844.0L1400.4 836.2L1400.3 836.0L1400.2 835.9L1400.1 835.7L1395.1 824.3L1395.1 824.2L1395.0 824.0L1395.0 823.9L1394.0 813.4L1394.0 813.2L1394.0 813.0L1394.0 812.9L1394.1 812.7L1394.1 812.5L1394.2 812.4L1394.3 812.3L1394.4 812.1L1394.6 812.0L1394.7 811.9L1394.8 811.8L1395.0 811.7L1395.2 811.6L1395.4 811.6L1395.5 811.5L1404.5 809.8L1404.7 809.7L1404.8 809.7L1405.0 809.7L1405.2 809.7L1405.4 809.8L1405.6 809.8L1405.8 809.9L1405.9 810.0L1406.1 810.1L1417.0 817.1L1417.1 817.2L1417.3 817.3L1417.4 817.4L1417.5 817.5L1417.6 817.7L1417.7 817.8L1417.7 818.0L1421.7 830.2L1421.8 830.4L1421.8 830.6L1421.8 830.8L1421.8 831.0L1421.7 831.1L1419.5 839.0L1419.6 839.0L1419.8 839.0L1420.0 839.0L1420.2 839.0L1425.8 839.9L1426.0 840.0L1426.2 840.0L1426.4 840.1L1426.5 840.2L1426.7 840.3L1426.9 840.5L1429.2 842.6L1429.3 842.8L1429.4 842.9L1429.5 843.1L1429.6 843.2L1429.7 843.4L1429.7 843.6L1429.7 843.7L1429.7 843.9L1429.7 844.1L1429.7 844.3L1429.6 844.4L1429.5 844.6L1429.4 844.8L1429.3 844.9L1429.2 845.0L1426.9 847.2L1426.7 847.3L1426.5 847.4L1426.4 847.5L1426.2 847.6L1426.0 847.7L1425.8 847.7L1420.2 848.6L1420.0 848.6L1419.8 848.6L1419.6 848.6L1419.5 848.6L1413.8 847.7L1413.6 847.7L1413.4 847.6L1413.2 847.5L1413.1 847.4L1412.9 847.3L1412.7 847.2L1410.4 845.0L1410.3 844.9L1410.2 844.8L1410.1 844.6ZM1414.2 910.8L1414.4 910.8L1414.5 910.7L1414.7 910.7L1414.9 910.7L1415.1 910.7L1415.3 910.8L1415.5 910.8L1418.3 911.7L1418.5 911.8L1418.7 911.9L1418.8 912.0L1419.0 912.1L1419.1 912.2L1419.2 912.3L1419.4 912.5L1419.4 912.6L1420.6 914.8L1420.7 914.9L1420.7 915.1L1420.8 915.3L1420.8 915.5L1420.8 915.6L1420.8 915.8L1420.7 916.0L1420.7 916.1L1420.6 916.3L1419.4 918.5L1419.4 918.6L1419.2 918.7L1419.1 918.9L1419.0 919.0L1418.8 919.1L1418.7 919.2L1418.5 919.3L1418.3 919.3L1415.5 920.2L1415.3 920.3L1415.1 920.3L1414.9 920.3L1414.7 920.3L1414.5 920.3L1414.4 920.3L1414.2 920.2L1411.4 919.3L1411.2 919.3L1411.0 919.2L1410.8 919.1L1410.7 919.0L1410.6 918.9L1410.4 918.7L1410.3 918.6L1410.2 918.5L1409.1 916.3L1409.0 916.1L1408.9 916.0L1408.9 915.8L1408.9 915.6L1408.9 915.5L1408.9 915.3L1408.9 915.1L1409.0 914.9L1409.1 914.8L1410.2 912.6L1410.3 912.5L1410.4 912.3L1410.6 912.2L1410.7 912.1L1410.8 912.0L1411.0 911.9L1411.2 911.8L1411.4 911.7ZM1388.5 871.5L1388.3 871.5L1388.1 871.4L1388.0 871.4L1387.8 871.3L1387.6 871.3L1387.5 871.2L1387.3 871.1L1387.2 871.0L1387.0 870.9L1386.9 870.7L1386.8 870.6L1385.3 868.3L1385.2 868.2L1385.2 868.0L1385.1 867.9L1385.1 867.7L1385.1 867.5L1385.1 867.4L1385.1 867.2L1385.1 867.0L1385.2 866.9L1385.2 866.7L1385.3 866.6L1386.8 864.3L1386.9 864.2L1387.0 864.0L1387.2 863.9L1387.3 863.8L1387.5 863.7L1387.6 863.6L1387.8 863.5L1388.0 863.5L1388.1 863.5L1388.3 863.4L1388.5 863.4L1391.5 863.4L1391.7 863.4L1391.9 863.5L1392.1 863.5L1392.2 863.5L1392.4 863.6L1392.6 863.7L1392.7 863.8L1392.9 863.9L1393.0 864.0L1393.1 864.2L1393.2 864.3L1394.7 866.6L1394.8 866.7L1394.9 866.9L1394.9 867.0L1395.0 867.2L1395.0 867.4L1395.0 867.5L1395.0 867.7L1394.9 867.9L1394.9 868.0L1394.8 868.2L1394.7 868.3L1393.2 870.6L1393.1 870.7L1393.0 870.9L1392.9 871.0L1392.7 871.1L1392.6 871.2L1392.4 871.3L1392.2 871.3L1392.1 871.4L1391.9 871.4L1391.7 871.5L1391.5 871.5ZM1385.3 837.4L1385.5 837.5L1385.6 837.6L1385.8 837.7L1385.9 837.8L1386.1 837.9L1386.2 838.1L1386.3 838.2L1386.4 838.4L1387.4 840.5L1387.4 840.7L1387.5 840.9L1387.5 841.0L1387.5 841.2L1387.5 841.4L1387.5 841.5L1387.4 841.7L1387.4 841.9L1386.4 844.0L1386.3 844.2L1386.2 844.3L1386.1 844.5L1385.9 844.6L1385.8 844.7L1385.6 844.8L1385.5 844.9L1385.3 845.0L1382.8 845.9L1382.6 845.9L1382.5 846.0L1382.3 846.0L1382.1 846.0L1381.9 846.0L1381.7 846.0L1381.5 845.9L1381.3 845.9L1378.9 845.0L1378.7 844.9L1378.5 844.8L1378.4 844.7L1378.2 844.6L1378.1 844.5L1378.0 844.3L1377.9 844.2L1377.8 844.0L1376.8 841.9L1376.7 841.7L1376.6 841.5L1376.6 841.4L1376.6 841.2L1376.6 841.0L1376.6 840.9L1376.7 840.7L1376.8 840.5L1377.8 838.4L1377.9 838.2L1378.0 838.1L1378.1 837.9L1378.2 837.8L1378.4 837.7L1378.5 837.6L1378.7 837.5L1378.9 837.4L1381.3 836.5L1381.5 836.5L1381.7 836.4L1381.9 836.4L1382.1 836.4L1382.3 836.4L1382.5 836.4L1382.6 836.5L1382.8 836.5ZM1373.4 807.6L1373.3 807.8L1373.1 807.9L1373.0 808.0L1372.9 808.1L1372.7 808.2L1372.6 808.3L1372.4 808.4L1372.2 808.4L1372.0 808.5L1371.8 808.5L1371.6 808.5L1368.7 808.5L1368.5 808.5L1368.3 808.5L1368.1 808.4L1367.9 808.4L1367.8 808.3L1367.6 808.2L1367.4 808.1L1367.3 808.0L1367.2 807.9L1367.0 807.8L1366.9 807.6L1365.5 805.4L1365.4 805.2L1365.3 805.0L1365.2 804.9L1365.2 804.7L1365.2 804.6L1365.2 804.4L1365.2 804.2L1365.2 804.1L1365.3 803.9L1365.4 803.8L1365.5 803.6L1366.9 801.3L1367.0 801.2L1367.2 801.1L1367.3 800.9L1367.4 800.8L1367.6 800.7L1367.8 800.7L1367.9 800.6L1368.1 800.5L1368.3 800.5L1368.5 800.5L1368.7 800.5L1371.6 800.5L1371.8 800.5L1372.0 800.5L1372.2 800.5L1372.4 800.6L1372.6 800.7L1372.7 800.7L1372.9 800.8L1373.0 800.9L1373.1 801.1L1373.3 801.2L1373.4 801.3L1374.9 803.6L1374.9 803.8L1375.0 803.9L1375.1 804.1L1375.1 804.2L1375.1 804.4L1375.1 804.6L1375.1 804.7L1375.1 804.9L1375.0 805.0L1374.9 805.2L1374.9 805.4Z" fill="#210c4a" fill-rule="evenodd"/><path d="M1613.6 900.8L1621.9 892.5L1622.0 892.4L1622.1 892.3L1627.2 888.8L1626.2 888.4L1626.0 888.4L1625.9 888.3L1625.7 888.2L1625.5 888.1L1625.4 888.0L1625.3 887.8L1625.2 887.7L1625.1 887.5L1624.1 885.7L1624.0 885.5L1623.9 885.4L1623.9 885.2L1623.9 885.0L1623.9 884.8L1623.9 884.7L1623.9 884.5L1624.0 884.3L1624.1 884.2L1625.1 882.3L1625.2 882.2L1625.3 882.0L1625.4 881.9L1625.5 881.8L1625.7 881.7L1625.9 881.6L1626.0 881.5L1626.2 881.4L1628.7 880.7L1628.8 880.6L1629.0 880.6L1629.2 880.6L1629.4 880.6L1629.6 880.6L1629.8 880.6L1630.0 880.7L1632.4 881.4L1632.6 881.5L1632.8 881.6L1633.0 881.7L1633.1 881.8L1633.2 881.9L1633.4 882.0L1633.5 882.2L1633.6 882.3L1634.4 883.8L1638.4 881.0L1647.4 866.7L1654.2 849.5L1658.1 832.6L1650.3 811.2L1640.4 789.4L1640.3 789.2L1640.3 789.1L1640.3 788.9L1640.3 788.7L1640.3 788.6L1640.3 788.4L1640.3 788.2L1640.4 788.1L1649.3 768.8L1649.4 768.7L1649.5 768.6L1659.3 754.7L1665.1 740.2L1671.8 710.7L1669.5 709.1L1664.9 715.1L1661.1 729.7L1661.0 729.8L1656.0 743.8L1656.0 744.0L1655.9 744.1L1647.9 756.4L1647.8 756.5L1640.3 765.6L1640.1 765.7L1630.5 774.2L1630.4 774.3L1630.2 774.5L1615.7 782.9L1615.6 783.0L1615.4 783.1L1603.4 787.7L1603.3 787.8L1603.1 787.8L1602.9 787.8L1590.9 789.6L1590.8 789.6L1574.5 791.3L1563.0 798.8L1562.8 798.9L1548.3 806.3L1548.1 806.3L1524.1 815.9L1523.9 815.9L1499.9 823.4L1499.7 823.4L1499.5 823.4L1499.3 823.5L1499.1 823.4L1498.9 823.4L1498.7 823.4L1498.5 823.3L1481.5 817.1L1484.2 823.1L1484.3 823.3L1484.3 823.5L1487.3 840.9L1487.3 841.0L1489.3 858.5L1489.6 861.6L1490.1 862.2L1490.2 862.4L1490.2 862.5L1490.3 862.7L1490.3 862.9L1490.3 863.0L1490.3 863.2L1490.3 863.4L1490.0 864.8L1493.3 893.5L1493.3 893.6L1494.3 911.1L1494.3 911.3L1493.3 924.7L1496.7 929.1L1505.2 934.2L1518.9 940.6L1534.8 939.6L1546.3 934.6L1563.0 924.0L1563.1 924.0L1577.5 915.6L1594.3 905.0L1594.5 904.9L1594.6 904.9L1594.8 904.8L1595.0 904.7ZM1640.0 831.2L1640.1 831.0L1640.2 830.9L1640.3 830.8L1640.5 830.7L1640.6 830.6L1640.8 830.5L1641.0 830.4L1641.2 830.4L1644.7 829.5L1644.8 829.4L1645.0 829.4L1645.2 829.4L1645.4 829.4L1645.6 829.4L1645.8 829.5L1649.3 830.4L1649.5 830.4L1649.6 830.5L1649.8 830.6L1649.9 830.7L1650.1 830.8L1650.2 830.9L1650.3 831.0L1650.4 831.2L1651.9 833.3L1652.0 833.5L1652.1 833.6L1652.1 833.8L1652.1 834.0L1652.2 834.1L1652.2 834.3L1652.1 834.5L1652.1 834.6L1652.1 834.8L1652.0 835.0L1651.9 835.1L1650.4 837.3L1650.3 837.4L1650.2 837.5L1650.1 837.7L1649.9 837.8L1649.8 837.9L1649.6 837.9L1649.5 838.0L1649.3 838.1L1645.8 839.0L1645.6 839.0L1645.4 839.0L1645.2 839.0L1645.0 839.0L1644.8 839.0L1644.7 839.0L1641.2 838.1L1641.0 838.0L1640.8 837.9L1640.6 837.9L1640.5 837.8L1640.3 837.7L1640.2 837.5L1640.1 837.4L1640.0 837.3L1638.5 835.1L1638.5 835.0L1638.4 834.8L1638.3 834.6L1638.3 834.5L1638.3 834.3L1638.3 834.1L1638.3 834.0L1638.3 833.8L1638.4 833.6L1638.5 833.5L1638.5 833.3ZM1630.8 846.9L1631.0 846.9L1631.2 846.9L1631.4 846.9L1631.6 846.9L1631.8 846.9L1636.0 847.8L1636.2 847.9L1636.4 848.0L1636.6 848.0L1636.7 848.1L1636.9 848.3L1637.0 848.4L1637.1 848.5L1638.9 850.7L1639.0 850.8L1639.1 851.0L1639.1 851.1L1639.2 851.3L1639.2 851.5L1639.3 851.6L1639.3 851.8L1639.2 851.9L1639.2 852.1L1639.1 852.3L1639.1 852.4L1639.0 852.6L1638.9 852.7L1637.1 854.9L1637.0 855.0L1636.9 855.1L1636.7 855.3L1636.6 855.4L1636.4 855.4L1636.2 855.5L1636.0 855.6L1631.8 856.5L1631.6 856.5L1631.4 856.5L1631.2 856.5L1631.0 856.5L1630.8 856.5L1626.6 855.6L1626.4 855.5L1626.3 855.4L1626.1 855.4L1625.9 855.3L1625.7 855.1L1625.6 855.0L1625.5 854.9L1623.7 852.7L1623.6 852.6L1623.5 852.4L1623.5 852.3L1623.4 852.1L1623.4 851.9L1623.4 851.8L1623.4 851.6L1623.4 851.5L1623.4 851.3L1623.5 851.1L1623.5 851.0L1623.6 850.8L1623.7 850.7L1625.5 848.5L1625.6 848.4L1625.7 848.3L1625.9 848.1L1626.1 848.0L1626.3 848.0L1626.4 847.9L1626.6 847.8ZM1614.5 856.9L1614.6 856.9L1614.8 857.0L1615.0 857.1L1615.2 857.2L1615.3 857.3L1615.5 857.5L1615.6 857.6L1617.1 859.5L1617.2 859.6L1617.3 859.8L1617.3 859.9L1617.4 860.1L1617.4 860.3L1617.4 860.4L1617.4 860.6L1617.4 860.8L1617.3 861.0L1617.3 861.1L1617.2 861.3L1617.1 861.4L1615.6 863.3L1615.5 863.4L1615.3 863.6L1615.2 863.7L1615.0 863.8L1614.8 863.9L1614.6 863.9L1614.5 864.0L1610.9 864.8L1610.8 864.8L1610.6 864.8L1610.4 864.8L1610.2 864.8L1610.0 864.8L1608.9 864.5L1608.1 864.7L1607.9 864.8L1607.7 864.8L1607.5 864.8L1607.3 864.8L1607.1 864.8L1606.9 864.7L1604.1 864.0L1603.9 863.9L1603.7 863.8L1603.6 863.8L1603.4 863.7L1603.3 863.5L1603.1 863.4L1603.0 863.3L1602.9 863.1L1601.8 861.3L1601.7 861.1L1601.6 861.0L1601.6 860.8L1601.5 860.6L1601.5 860.4L1601.5 860.3L1601.6 860.1L1601.6 859.9L1601.7 859.8L1601.8 859.6L1602.9 857.7L1603.0 857.6L1603.1 857.5L1603.3 857.3L1603.4 857.2L1603.6 857.1L1603.7 857.0L1603.9 857.0L1604.1 856.9L1606.9 856.2L1607.1 856.1L1607.3 856.1L1607.5 856.1L1607.7 856.1L1607.9 856.1L1608.1 856.2L1608.9 856.4L1610.0 856.1L1610.2 856.1L1610.4 856.1L1610.6 856.1L1610.8 856.1L1610.9 856.1ZM1600.8 880.2L1601.0 880.3L1601.2 880.4L1601.3 880.5L1601.5 880.6L1601.6 880.7L1601.7 880.9L1601.8 881.0L1601.9 881.2L1603.4 884.3L1603.4 884.4L1603.5 884.6L1603.5 884.8L1603.5 884.9L1603.5 885.1L1603.5 885.3L1603.4 885.4L1603.4 885.6L1601.9 888.7L1601.8 888.8L1601.7 889.0L1601.6 889.1L1601.5 889.3L1601.3 889.4L1601.2 889.5L1601.0 889.6L1600.8 889.6L1597.3 890.9L1597.1 891.0L1596.9 891.0L1596.8 891.0L1596.6 891.1L1596.4 891.0L1596.2 891.0L1596.0 891.0L1595.8 890.9L1592.3 889.6L1592.1 889.6L1591.9 889.5L1591.8 889.4L1591.6 889.3L1591.5 889.1L1591.4 889.0L1591.3 888.8L1591.2 888.7L1589.8 885.6L1589.7 885.4L1589.6 885.3L1589.6 885.1L1589.6 884.9L1589.6 884.8L1589.6 884.6L1589.7 884.4L1589.8 884.3L1591.2 881.2L1591.3 881.0L1591.4 880.9L1591.5 880.7L1591.6 880.6L1591.8 880.5L1591.9 880.4L1592.1 880.3L1592.3 880.2L1595.8 878.9L1596.0 878.9L1596.2 878.8L1596.4 878.8L1596.6 878.8L1596.8 878.8L1596.9 878.8L1597.1 878.9L1597.3 878.9ZM1589.9 836.4L1589.8 836.5L1589.6 836.7L1589.5 836.8L1589.4 836.9L1589.2 837.0L1589.1 837.1L1588.9 837.1L1588.7 837.2L1585.2 838.1L1585.0 838.1L1584.8 838.1L1584.6 838.1L1584.5 838.1L1584.3 838.1L1584.1 838.1L1580.6 837.2L1580.4 837.1L1580.2 837.1L1580.1 837.0L1579.9 836.9L1579.8 836.8L1579.6 836.7L1579.5 836.5L1579.4 836.4L1578.0 834.2L1577.9 834.1L1577.8 833.9L1577.8 833.8L1577.7 833.6L1577.7 833.4L1577.7 833.3L1577.7 833.1L1577.8 832.9L1577.8 832.8L1577.9 832.6L1578.0 832.4L1579.4 830.3L1579.5 830.1L1579.6 830.0L1579.8 829.9L1579.9 829.8L1580.1 829.7L1580.2 829.6L1580.4 829.5L1580.6 829.5L1584.1 828.6L1584.3 828.6L1584.5 828.5L1584.6 828.5L1584.8 828.5L1585.0 828.6L1585.2 828.6L1588.7 829.5L1588.9 829.5L1589.1 829.6L1589.2 829.7L1589.4 829.8L1589.5 829.9L1589.6 830.0L1589.8 830.1L1589.9 830.3L1591.3 832.4L1591.4 832.6L1591.5 832.8L1591.5 832.9L1591.6 833.1L1591.6 833.3L1591.6 833.4L1591.6 833.6L1591.5 833.8L1591.5 833.9L1591.4 834.1L1591.3 834.2ZM1567.2 870.7L1567.1 870.8L1566.9 871.0L1566.8 871.1L1566.6 871.2L1566.5 871.3L1566.3 871.3L1566.1 871.4L1565.9 871.4L1565.7 871.5L1565.5 871.5L1562.1 871.5L1561.9 871.5L1561.7 871.4L1561.5 871.4L1561.3 871.3L1561.1 871.3L1561.0 871.2L1560.8 871.1L1560.7 871.0L1560.5 870.8L1560.4 870.7L1558.7 868.4L1558.6 868.3L1558.5 868.1L1558.4 868.0L1558.4 867.8L1558.3 867.6L1558.3 867.4L1558.3 867.3L1558.4 867.1L1558.4 866.9L1558.5 866.8L1558.6 866.6L1558.7 866.5L1560.4 864.2L1560.5 864.1L1560.7 863.9L1560.8 863.8L1561.0 863.7L1561.1 863.6L1561.3 863.6L1561.5 863.5L1561.7 863.5L1561.9 863.4L1562.1 863.4L1565.5 863.4L1565.7 863.4L1565.9 863.5L1566.1 863.5L1566.3 863.6L1566.5 863.6L1566.6 863.7L1566.8 863.8L1566.9 863.9L1567.1 864.1L1567.2 864.2L1568.9 866.5L1569.0 866.6L1569.1 866.8L1569.2 866.9L1569.2 867.1L1569.2 867.3L1569.3 867.4L1569.2 867.6L1569.2 867.8L1569.2 868.0L1569.1 868.1L1569.0 868.3L1568.9 868.4ZM1547.4 849.9L1547.2 849.9L1547.0 849.9L1546.8 849.9L1546.6 849.9L1546.4 849.9L1542.9 849.1L1542.7 849.1L1542.5 849.0L1542.4 848.9L1542.2 848.8L1542.0 848.7L1541.9 848.6L1541.8 848.4L1540.3 846.6L1540.2 846.4L1540.1 846.3L1540.0 846.1L1540.0 845.9L1540.0 845.8L1540.0 845.6L1540.0 845.4L1540.0 845.2L1540.0 845.1L1540.1 844.9L1540.2 844.7L1540.3 844.6L1541.8 842.7L1541.9 842.6L1542.0 842.5L1542.2 842.3L1542.4 842.2L1542.5 842.1L1542.7 842.1L1542.9 842.0L1546.4 841.3L1546.6 841.2L1546.8 841.2L1547.0 841.2L1547.2 841.2L1547.4 841.3L1550.9 842.0L1551.1 842.1L1551.3 842.1L1551.5 842.2L1551.6 842.3L1551.8 842.5L1551.9 842.6L1552.1 842.7L1553.5 844.6L1553.6 844.7L1553.7 844.9L1553.8 845.1L1553.8 845.2L1553.8 845.4L1553.9 845.6L1553.8 845.8L1553.8 845.9L1553.8 846.1L1553.7 846.3L1553.6 846.4L1553.5 846.6L1552.1 848.4L1551.9 848.6L1551.8 848.7L1551.6 848.8L1551.5 848.9L1551.3 849.0L1551.1 849.1L1550.9 849.1ZM1519.3 850.6L1519.2 850.6L1519.0 850.5L1518.8 850.4L1518.7 850.3L1518.5 850.2L1518.4 850.1L1518.3 850.0L1518.2 849.9L1516.4 847.4L1516.3 847.2L1516.2 847.1L1516.2 846.9L1516.1 846.7L1516.1 846.5L1516.1 846.4L1516.1 846.2L1516.2 846.0L1516.2 845.8L1516.3 845.7L1516.4 845.5L1518.2 843.1L1518.3 842.9L1518.4 842.8L1518.5 842.7L1518.7 842.6L1518.8 842.5L1519.0 842.4L1519.2 842.3L1519.3 842.3L1523.5 841.3L1523.8 841.2L1524.0 841.2L1524.2 841.2L1524.4 841.2L1524.6 841.3L1528.8 842.3L1529.0 842.3L1529.2 842.4L1529.3 842.5L1529.5 842.6L1529.6 842.7L1529.7 842.8L1529.9 842.9L1530.0 843.1L1531.7 845.5L1531.8 845.7L1531.9 845.8L1532.0 846.0L1532.0 846.2L1532.0 846.4L1532.0 846.5L1532.0 846.7L1532.0 846.9L1531.9 847.1L1531.8 847.2L1531.7 847.4L1530.0 849.9L1529.9 850.0L1529.7 850.1L1529.6 850.2L1529.5 850.3L1529.3 850.4L1529.2 850.5L1529.0 850.6L1528.8 850.6L1524.6 851.6L1524.4 851.7L1524.2 851.7L1524.0 851.7L1523.8 851.7L1523.5 851.6ZM1514.3 889.7L1514.1 889.7L1513.8 889.7L1513.6 889.7L1513.4 889.7L1513.2 889.7L1508.3 888.5L1508.1 888.5L1508.0 888.4L1507.8 888.3L1507.7 888.3L1507.5 888.2L1507.4 888.0L1507.3 887.9L1507.2 887.8L1505.1 885.0L1505.0 884.9L1504.9 884.7L1504.9 884.6L1504.8 884.4L1504.8 884.2L1504.8 884.1L1504.8 883.9L1504.8 883.7L1504.9 883.6L1504.9 883.4L1505.0 883.3L1505.1 883.1L1507.2 880.3L1507.3 880.2L1507.4 880.1L1507.5 880.0L1507.7 879.9L1507.8 879.8L1508.0 879.7L1508.1 879.6L1508.3 879.6L1513.2 878.4L1513.4 878.4L1513.6 878.4L1513.8 878.4L1514.1 878.4L1514.3 878.4L1519.2 879.6L1519.3 879.6L1519.5 879.7L1519.7 879.8L1519.8 879.9L1520.0 880.0L1520.1 880.1L1520.2 880.2L1520.3 880.3L1522.4 883.1L1522.5 883.3L1522.5 883.4L1522.6 883.6L1522.6 883.7L1522.7 883.9L1522.7 884.1L1522.7 884.2L1522.6 884.4L1522.6 884.6L1522.5 884.7L1522.5 884.9L1522.4 885.0L1520.3 887.8L1520.2 887.9L1520.1 888.0L1520.0 888.2L1519.8 888.3L1519.7 888.3L1519.5 888.4L1519.3 888.5L1519.2 888.5Z" fill="#61136e" fill-rule="evenodd"/><path d="M1341.9 643.9L1334.7 648.4L1327.2 655.9L1323.6 663.9L1325.3 671.6L1331.7 678.0L1338.9 681.5L1347.8 681.2L1353.2 679.0L1352.3 670.9L1350.7 662.3L1347.4 651.0L1347.4 651.0L1346.2 646.2Z" fill="#fcb216" fill-rule="evenodd"/><path d="M1720.9 505.1L1702.5 507.1L1688.7 515.2L1676.9 525.6L1665.0 540.3L1664.9 540.3L1655.5 550.7L1652.1 560.9L1649.7 575.5L1648.5 588.1L1648.5 588.2L1644.7 613.4L1648.4 634.1L1655.6 650.9L1655.7 651.1L1655.7 651.3L1658.1 667.8L1665.1 678.2L1665.1 678.2L1672.2 688.8L1672.4 688.9L1672.4 689.1L1676.9 701.8L1677.0 702.0L1679.1 713.2L1691.0 734.1L1691.0 734.2L1691.1 734.3L1698.7 755.5L1698.8 755.6L1703.1 772.5L1709.7 787.8L1724.5 784.0L1738.7 777.9L1752.8 769.6L1759.4 761.7L1761.7 751.5L1761.8 751.3L1761.8 751.2L1761.9 751.0L1762.0 750.9L1762.1 750.7L1771.8 740.2L1771.9 740.0L1772.0 739.9L1772.1 739.9L1781.6 733.6L1791.0 723.2L1798.2 714.8L1807.6 700.2L1813.0 690.9L1822.6 672.0L1822.7 671.8L1822.8 671.7L1823.0 671.5L1823.1 671.4L1823.3 671.3L1823.4 671.2L1834.3 665.4L1832.1 651.8L1832.1 651.6L1832.1 651.4L1834.5 630.2L1835.7 613.4L1834.5 592.5L1831.0 580.1L1825.1 565.3L1819.1 552.8L1813.2 544.6L1805.0 536.3L1794.2 527.9L1794.1 527.8L1794.0 527.6L1793.9 527.5L1793.8 527.4L1787.0 516.3L1778.0 512.3L1769.0 509.3L1757.9 511.2L1751.0 515.3L1750.8 515.4L1750.6 515.5L1750.5 515.6L1750.3 515.6L1750.1 515.6L1749.9 515.6L1749.7 515.6L1749.5 515.6L1749.3 515.6L1749.2 515.5L1749.0 515.4L1739.5 511.2L1727.7 507.0Z" fill="#751b6e" fill-rule="evenodd"/><path d="M1753 523h0m-67 6h0m108 6h0m-4 11h0m8 0h0m-92 11h0m76 0h0m-17 23h0m-6 1h0m-99 9h0m65 4h0m-50 5h0m95 3h0m24 2h0m-141 1h0m145 2h0m-122 1h0m50 0h0m-13 5h0m-16 1h0m61 0h0m28 0h0m-5 1h0m48 7h0m-63 1h0m-100 9h0m8 11h0m8 0h0m103 5h0m-32 1h0m16 11h0m30 1h0m20 0h0m11 2h0m-141 8h0m81 0h0m13 2h0m-86 15h0m12 0h0m11 0h0m-34 9h0m-2 9h0m44 7h0m-58 2h0m-2 3h0m26 2h0m52 0h0m-36 21h0m-49 1h0m104 0h0m-102 2h0m37 8h0m44 6h0m-34 20h0m3 3h0m-364 2h0m38 1h0m4 0h0m324 2h0m-313 5h0m-17 1h0m-30 1h0m269 1h0m-201 3h0m180 0h0m86 0h0m-36 7h0m-300 5h0m8 2h0m49 0h0m-13 1h0m77 4h0m-101 1h0m-9 4h0m233 1h0m-178 3h0m11 2h0m11 1h0m110 2h0m11 0h0m-195 1h0m126 0h0m178 0h0m-190 1h0m-27 1h0m15 0h0m-100 2h0m-6 1h0m165 0h0m8 1h0m-63 1h0m74 0h0m-197 1h0m97 0h0m109 1h0m-155 1h0m143 0h0m115 0h0m-22 1h0m-60 3h0m-206 1h0m99 2h0m-86 1h0m19 0h0m10 0h0m122 0h0m-150 1h0m273 1h0m-168 5h0m-134 1h0m61 0h0m238 0h0m-262 1h0m93 0h0m129 0h0m-168 2h0m-34 1h0m-43 1h0m80 0h0m152 0h0m-247 1h0m-1 5h0m38 2h0m-10 1h0m35 1h0m87 1h0m-72 1h0m-51 1h0m219 1h0m-61 1h0m-129 1h0m30 2h0m50 3h0m-4 2h0m-87 2h0m38 0h0m82 1h0m85 1h0m-141 2h0m-14 2h0m26 0h0m43 1h0m56 0h0m-71 1h0m-85 2h0m55 2h0m115 2h0m-100 1h0m43 1h0m-52 1h0m-65 5h0m77 1h0m18 0h0m51 1h0m-26 2h0m-157 2h0m86 1h0m-71 3h0m88 0h0m-56 1h0m31 0h0m54 4h0m-36 2h0m-90 3h0m32 0h0m19 0h0m-37 3h0m55 4h0m73 1h0m-108 13h0m24 1h0m-12 4h0" stroke="#02020e" stroke-width="6.0" stroke-linecap="round" fill="none"/><path d="M1700 507h0m76 19h0m15 1h0m-17 5h0m-5 3h0m19 3h0m-69 1h0m-45 2h0m69 0h0m43 0h0m-116 3h0m90 3h0m53 0h0m-57 7h0m-71 2h0m75 3h0m-88 1h0m136 8h0m-87 1h0m61 2h0m-52 4h0m21 2h0m-84 11h0m46 1h0m95 1h0m-121 1h0m47 1h0m-70 2h0m6 3h0m22 4h0m32 11h0m-46 3h0m136 2h0m-113 2h0m48 0h0m-66 3h0m36 6h0m-32 1h0m-39 4h0m124 3h0m-58 2h0m97 3h0m-40 1h0m-8 3h0m-80 1h0m94 2h0m22 2h0m-95 2h0m33 3h0m-77 2h0m135 1h0m-119 3h0m88 1h0m5 1h0m-97 4h0m-324 2h0m406 3h0m-2 2h0m-16 7h0m59 3h0m-118 11h0m126 1h0m-464 8h0m415 0h0m11 0h0m-4 2h0m-63 10h0m90 3h0m-89 3h0m-4 10h0m-33 5h0m-7 8h0m45 1h0m-359 1h0m316 0h0m47 3h0m40 7h0m-5 4h0m9 0h0m-24 2h0m-88 6h0m101 0h0m-391 1h0m296 15h0m-299 5h0m33 0h0m220 3h0m-29 2h0m-231 2h0m44 2h0m-13 1h0m244 0h0m-177 6h0m-97 2h0m48 2h0m235 0h0m-69 2h0m-109 1h0m139 2h0m10 0h0m-114 1h0m89 0h0m-136 1h0m195 2h0m-11 1h0m-246 1h0m276 0h0m-94 1h0m8 0h0m47 0h0m-75 1h0m-80 1h0m58 1h0m15 4h0m-66 2h0m3 1h0m91 1h0m21 0h0m-58 1h0m-130 1h0m194 0h0m71 1h0m-92 1h0m74 0h0m-213 2h0m60 1h0m-120 2h0m15 0h0m205 0h0m18 0h0m-120 4h0m-9 1h0m163 1h0m-228 3h0m124 0h0m-59 1h0m-29 4h0m70 0h0m-130 2h0m19 2h0m137 2h0m-165 2h0m97 0h0m88 1h0m-130 1h0m-15 1h0m236 0h0m-209 4h0m2 4h0m155 0h0m-7 2h0m-56 1h0m100 0h0m-129 1h0m-86 1h0m36 0h0m-40 1h0m226 0h0m-265 3h0m134 1h0m23 0h0m5 1h0m-103 1h0m161 0h0m-148 1h0m79 0h0m-148 1h0m18 2h0m234 0h0m-202 2h0m32 2h0m-65 1h0m16 0h0m153 0h0m50 1h0m-226 2h0m16 0h0m156 0h0m-143 4h0m104 1h0m-119 1h0m60 2h0m-55 1h0m-21 1h0m96 1h0m-70 3h0m-12 1h0m45 0h0m15 2h0m80 1h0m-22 1h0m-85 1h0m122 1h0m18 2h0m-15 1h0m-172 2h0m10 5h0m103 0h0m-68 1h0m28 5h0m74 0h0m-129 1h0m44 1h0m81 1h0m-128 1h0m138 0h0m-87 5h0m-19 2h0m15 0h0m-8 6h0" stroke="#0e092b" stroke-width="6.0" stroke-linecap="round" fill="none"/><path d="M1715 507h0m54 7h0m-80 1h0m10 2h0m63 5h0m3 0h0m-98 18h0m104 4h0m36 4h0m-83 9h0m-14 3h0m77 6h0m-52 1h0m39 14h0m-125 1h0m92 0h0m52 0h0m-84 4h0m23 15h0m57 3h0m-71 21h0m34 0h0m57 0h0m-133 3h0m128 4h0m-62 1h0m92 12h0m-180 3h0m69 3h0m70 0h0m-12 4h0m-16 3h0m-27 4h0m38 3h0m-438 4h0m340 3h0m134 1h0m-483 2h0m476 12h0m-104 10h0m-13 26h0m31 0h0m-16 4h0m40 3h0m-378 3h0m353 22h0m-14 1h0m18 0h0m19 3h0m-402 8h0m375 18h0m-116 30h0m46 1h0m-92 1h0m84 0h0m-38 2h0m-31 3h0m10 4h0m-1 5h0m-67 5h0m116 26h0m-24 9h0m-46 6h0m-13 16h0m-10 16h0m-17 2h0m52 3h0m-41 19h0" stroke="#210c4a" stroke-width="6.0" stroke-linecap="round" fill="none"/><path d="M1725 505h0m29 11h0m-46 1h0m82 5h0m-106 7h0m15 1h0m25 8h0m79 5h0m-76 1h0m-32 3h0m83 6h0m-102 18h0m89 4h0m25 1h0m-136 8h0m159 1h0m-126 4h0m75 1h0m46 3h0m-89 3h0m-18 7h0m1 9h0m8 17h0m-30 2h0m-20 2h0m73 1h0m-40 3h0m80 3h0m-119 2h0m158 2h0m-90 1h0m6 3h0m-42 2h0m110 1h0m-132 2h0m155 1h0m-75 5h0m29 6h0m-66 3h0m-7 1h0m99 0h0m-14 10h0m-2 10h0m-88 5h0m82 4h0m-53 2h0m64 8h0m-32 7h0m29 6h0m-80 10h0m-40 1h0m73 14h0m-26 14h0m-2 5h0m-340 19h0m11 1h0m234 2h0m-243 2h0m-8 1h0m44 2h0m-23 3h0m31 4h0m-54 5h0m23 0h0m-18 4h0m41 0h0m227 2h0m-251 1h0m4 0h0m35 2h0m145 2h0m-126 5h0m-14 4h0m47 1h0m1 4h0m-116 1h0m280 2h0m-74 4h0m-185 1h0m253 3h0m-201 1h0m8 1h0m80 1h0m22 1h0m-77 2h0m-20 2h0m-7 1h0m162 0h0m-21 6h0m-227 1h0m56 1h0m185 4h0m-213 3h0m47 1h0m126 2h0m-49 1h0m141 0h0m-199 4h0m-83 2h0m91 2h0m-12 1h0m172 0h0m-219 1h0m71 3h0m-81 5h0m30 4h0m69 0h0m-63 2h0m35 0h0m-83 3h0m160 1h0m63 2h0m-152 2h0m160 3h0m-26 1h0m-48 2h0m-96 5h0m145 0h0m-75 2h0m-15 2h0m-54 2h0m42 0h0m-70 6h0m-19 6h0m55 12h0m3 3h0" stroke="#360961" stroke-width="6.0" stroke-linecap="round" fill="none"/><path d="M1725 507h0m1 0h0m21 8h0m35 1h0m-13 5h0m-83 1h0m105 12h0m-102 2h0m77 0h0m-6 3h0m-15 6h0m24 1h0m-31 1h0m6 7h0m1 2h0m67 1h0m6 0h0m-16 3h0m-140 3h0m118 5h0m-100 4h0m33 2h0m-38 2h0m66 1h0m83 0h0m-54 7h0m47 5h0m-63 1h0m-102 4h0m2 3h0m142 0h0m-51 6h0m-83 1h0m136 0h0m-83 4h0m-8 3h0m127 0h0m-177 2h0m59 3h0m22 0h0m-97 3h0m39 0h0m109 1h0m-69 2h0m11 1h0m-34 3h0m47 1h0m52 3h0m21 0h0m-19 8h0m9 0h0m12 1h0m-20 6h0m17 2h0m-157 1h0m73 3h0m91 3h0m8 2h0m-6 2h0m-101 4h0m6 0h0m59 2h0m-106 3h0m104 1h0m30 4h0m-140 2h0m141 0h0m-107 1h0m22 0h0m24 4h0m-2 1h0m-34 2h0m-28 2h0m30 5h0m75 1h0m-83 3h0m-27 3h0m-7 1h0m53 1h0m25 0h0m-51 4h0m28 0h0m-52 7h0m71 1h0m-22 1h0m-10 7h0m-21 5h0m60 0h0m-66 4h0m31 1h0m29 11h0m-36 2h0m-16 3h0m23 8h0m-24 7h0m-40 8h0m70 2h0m-85 1h0m100 2h0m-102 4h0m87 3h0m-369 3h0m243 2h0m-221 4h0m-42 1h0m29 5h0m262 2h0m-248 3h0m220 8h0m11 1h0m-48 1h0m78 1h0m-110 1h0m-198 2h0m192 2h0m77 0h0m2 5h0m19 1h0m-277 2h0m11 1h0m19 1h0m203 1h0m22 1h0m-12 1h0m-151 1h0m79 1h0m135 0h0m-141 2h0m-18 2h0m122 0h0m9 1h0m28 0h0m-3 1h0m-11 2h0m-191 1h0m167 1h0m-157 1h0m-50 6h0m154 2h0m13 3h0m64 0h0m-78 1h0m51 0h0m-213 1h0m147 0h0m-164 3h0m236 1h0m-69 1h0m-130 1h0m61 0h0m-108 1h0m164 0h0m92 0h0m4 2h0m-130 1h0m22 0h0m-154 1h0m170 0h0m-130 2h0m223 4h0m-36 3h0m-65 1h0m-104 5h0m64 0h0m-70 3h0m149 0h0m41 1h0m-249 1h0m36 0h0m212 4h0m-41 1h0m-110 1h0m38 0h0m55 0h0m12 0h0m32 0h0m-139 2h0m-46 1h0m26 1h0m115 1h0m-59 1h0m81 1h0m-131 1h0m99 0h0m-19 1h0m39 1h0m-125 1h0m26 1h0m79 3h0m29 0h0m13 0h0m-53 2h0m0 1h0m46 1h0m-19 6h0m10 3h0m-99 1h0m54 0h0m-38 1h0m21 9h0m-92 4h0m1 8h0m18 0h0" stroke="#4c0c6b" stroke-width="6.0" stroke-linecap="round" fill="none"/><path d="M1714 511h0m28 7h0m17 1h0m-12 7h0m15 1h0m3 4h0m-91 5h0m82 0h0m-20 4h0m-39 4h0m14 0h0m63 6h0m-43 3h0m-4 1h0m-52 1h0m86 0h0m4 0h0m18 4h0m-54 1h0m-7 2h0m-71 2h0m85 0h0m-40 10h0m40 2h0m37 1h0m-20 3h0m-4 3h0m-67 1h0m16 0h0m117 1h0m-143 5h0m154 2h0m-6 2h0m3 2h0m-47 5h0m-25 8h0m12 3h0m-66 1h0m96 1h0m-133 2h0m64 0h0m-76 1h0m146 3h0m-140 2h0m23 1h0m93 5h0m-33 2h0m-23 1h0m46 1h0m-90 3h0m7 1h0m105 1h0m-100 3h0m38 6h0m56 5h0m-79 1h0m113 3h0m-39 2h0m-51 1h0m-7 1h0m-50 3h0m96 0h0m-71 1h0m107 2h0m-129 1h0m81 5h0m-39 3h0m-10 3h0m101 1h0m6 0h0m-124 2h0m67 4h0m9 0h0m-12 17h0m26 0h0m-30 3h0m66 0h0m-69 7h0m-2 5h0m-67 5h0m125 1h0m-127 2h0m108 1h0m-79 1h0m55 3h0m-63 3h0m80 3h0m-64 13h0m39 6h0m6 2h0m-95 2h0m23 2h0m-20 1h0m50 1h0m24 1h0m-22 12h0m-67 1h0m72 11h0m-337 6h0m21 0h0m-24 7h0m58 1h0m176 0h0m0 1h0m30 0h0m-26 2h0m-194 5h0m153 2h0m-204 1h0m181 0h0m96 0h0m-101 1h0m-190 1h0m225 1h0m48 1h0m-102 3h0m-81 3h0m203 0h0m-273 2h0m166 0h0m-105 2h0m110 1h0m-165 1h0m246 2h0m-161 1h0m9 2h0m60 1h0m16 0h0m60 1h0m-50 2h0m78 1h0m-199 3h0m8 0h0m25 1h0m18 0h0m48 0h0m-161 3h0m204 0h0m8 0h0m0 1h0m58 0h0m-27 1h0m-160 1h0m72 0h0m-121 2h0m-12 1h0m164 0h0m-68 1h0m-134 2h0m67 0h0m70 1h0m30 1h0m-33 1h0m94 0h0m-132 1h0m131 2h0m-225 1h0m140 1h0m26 0h0m-31 1h0m126 2h0m14 0h0m9 1h0m-188 1h0m171 1h0m-102 1h0m-23 1h0m85 2h0m-62 3h0m29 0h0m84 0h0m-92 1h0m15 1h0m0 0h0m-117 2h0m17 3h0m-61 2h0m99 1h0m23 0h0m-3 1h0m-23 2h0m116 1h0m-49 1h0m18 1h0m-36 2h0m39 2h0m-161 1h0m161 0h0m7 1h0m-36 1h0m4 1h0m39 1h0m-126 2h0m-92 2h0m176 0h0m-109 2h0m44 2h0m20 2h0m-49 1h0m18 0h0m-11 1h0m104 2h0m-196 1h0m73 0h0m-64 1h0m131 2h0m48 1h0m-132 2h0m131 1h0m-120 3h0m13 2h0m-1 7h0m1 4h0m-34 9h0" stroke="#61136e" stroke-width="6.0" stroke-linecap="round" fill="none"/><path d="M1755 518h0m-50 15h0m43 0h0m-36 1h0m71 2h0m24 2h0m-15 2h0m-97 8h0m21 1h0m-52 2h0m127 9h0m18 3h0m-120 2h0m66 0h0m-12 2h0m-29 2h0m115 6h0m-73 10h0m41 4h0m-127 4h0m105 2h0m22 0h0m39 7h0m-11 1h0m-102 3h0m106 1h0m-183 2h0m121 1h0m-93 2h0m16 9h0m1 3h0m100 2h0m-110 11h0m18 0h0m6 2h0m-35 8h0m-4 5h0m15 3h0m4 4h0m18 1h0m-35 6h0m79 2h0m12 0h0m-23 1h0m-36 4h0m67 7h0m-437 2h0m368 1h0m44 3h0m-16 9h0m78 0h0m-100 4h0m5 4h0m-44 2h0m73 0h0m-34 1h0m28 1h0m28 2h0m9 3h0m-10 4h0m-43 1h0m24 6h0m-75 2h0m114 0h0m-42 7h0m-20 9h0m49 4h0m-54 1h0m-53 5h0m74 12h0m-389 2h0m400 1h0m0 1h0m-395 1h0m-6 2h0m284 6h0m-8 29h0m-40 5h0m44 4h0m11 6h0m21 0h0m-185 6h0m58 2h0m127 1h0m-219 1h0m52 8h0m15 0h0m-23 2h0m149 0h0m-64 2h0m-52 3h0m95 3h0m-18 1h0m-60 1h0m-73 1h0m101 2h0m-18 2h0m-30 1h0m38 3h0m-103 2h0m109 0h0m-35 7h0m-109 2h0m146 7h0m20 4h0m-112 2h0m147 1h0m-212 6h0m30 1h0m19 0h0m17 12h0m11 0h0m-87 2h0m109 4h0m-4 1h0m75 2h0m-47 6h0m47 0h0m-34 15h0m-109 8h0" stroke="#751b6e" stroke-width="6.0" stroke-linecap="round" fill="none"/><path d="M1762 510h0m-50 2h0m11 2h0m64 8h0m-66 1h0m-15 1h0m10 2h0m56 0h0m-12 11h0m17 0h0m-39 4h0m26 0h0m49 2h0m-35 5h0m38 0h0m-134 3h0m1 2h0m102 0h0m24 0h0m14 13h0m-71 4h0m-53 11h0m87 0h0m11 6h0m-145 3h0m88 1h0m29 0h0m-49 5h0m-32 3h0m-7 1h0m152 0h0m-165 3h0m115 0h0m-61 1h0m12 0h0m5 0h0m-94 1h0m110 3h0m-24 1h0m-47 3h0m143 3h0m-82 5h0m-97 2h0m156 0h0m-41 7h0m6 0h0m48 2h0m-84 9h0m-15 1h0m30 0h0m-52 3h0m63 2h0m43 3h0m25 1h0m-93 1h0m-72 12h0m119 4h0m-86 2h0m-28 5h0m107 0h0m-59 8h0m87 10h0m-55 3h0m-33 5h0m88 0h0m-66 2h0m-55 3h0m49 13h0m36 2h0m-76 6h0m97 2h0m-67 2h0m53 0h0m-105 2h0m59 1h0m8 1h0m-42 12h0m23 13h0m2 3h0m34 0h0m-44 3h0m-59 3h0m76 14h0m-351 4h0m200 6h0m56 1h0m-292 9h0m275 0h0m-53 4h0m3 5h0m-119 2h0m209 8h0m-145 2h0m145 4h0m-220 1h0m67 4h0m100 4h0m-99 5h0m11 0h0m-155 1h0m239 1h0m50 4h0m-183 2h0m60 3h0m-18 2h0m28 1h0m-125 2h0m-10 8h0m39 3h0m149 0h0m36 0h0m10 7h0m-119 3h0m65 6h0m-200 9h0m173 3h0m42 7h0m-204 8h0m16 2h0m168 3h0m-107 13h0m65 1h0m-83 20h0" stroke="#8a226a" stroke-width="6.0" stroke-linecap="round" fill="none"/><path d="M1656 551h0m47 1h0m118 1h0m-120 3h0m-35 5h0m23 1h0m78 1h0m-48 15h0m34 11h0m-27 1h0m6 6h0m33 5h0m52 5h0m-59 2h0m31 1h0m-54 2h0m102 7h0m-150 11h0m141 2h0m-23 11h0m-152 1h0m83 2h0m56 2h0m-105 2h0m26 3h0m23 4h0m-52 7h0m63 2h0m71 4h0m-105 2h0m59 0h0m7 3h0m43 1h0m-41 4h0m23 1h0m-90 4h0m58 1h0m-59 4h0m94 12h0m-102 6h0m64 2h0m20 1h0m-98 6h0m77 5h0m-25 1h0m-83 17h0m107 0h0m-7 20h0m-115 1h0m-8 14h0m-9 4h0m14 2h0m-26 8h0m17 0h0m-276 1h0m277 0h0m47 0h0m-94 1h0m-17 6h0m60 4h0m-49 1h0m0 10h0m-56 4h0m50 5h0m78 0h0m-178 3h0m101 5h0m-67 3h0m65 2h0m-36 3h0m94 3h0m-179 6h0m105 5h0m-24 7h0m-37 8h0m13 3h0m79 0h0m-63 3h0m103 0h0m-137 9h0m90 1h0m-60 2h0m-104 4h0m69 5h0m-48 8h0m122 7h0m-143 6h0m-28 11h0m29 1h0m1 0h0m89 8h0m-83 13h0" stroke="#9d2964" stroke-width="6.0" stroke-linecap="round" fill="none"/><path d="M1703 523h0m24 11h0m10 9h0m-58 18h0m68 18h0m34 11h0m-64 11h0m16 4h0m89 10h0m-83 4h0m-66 3h0m75 1h0m77 7h0m-172 17h0m21 4h0m-4 9h0m105 4h0m-97 1h0m24 22h0m52 31h0m-66 10h0m27 12h0m-162 64h0m-128 6h0m175 6h0m-77 6h0m-34 6h0m112 0h0m54 15h0m-210 32h0m57 18h0m-108 2h0m91 17h0m16 7h0m-15 4h0m-82 3h0m29 7h0m22 7h0" stroke="#b1325a" stroke-width="6.0" stroke-linecap="round" fill="none"/><path d="M1719 512h0m46 32h0m-101 64h0m66 0h0m-60 5h0m134 0h0m-18 25h0m32 2h0m-38 5h0m-32 8h0m-88 7h0m21 1h0" stroke="#c43c4e" stroke-width="6.0" stroke-linecap="round" fill="none"/><path d="M1728 510h0m79 32h0m-103 27h0m20 5h0m56 4h0m-108 27h0m161 14h0m-13 13h0m-275 204h0m78 41h0m-101 30h0" stroke="#d54a41" stroke-width="6.0" stroke-linecap="round" fill="none"/><path d="M1722 510h0m53 68h0m-62 47h0m-383 30h0m441 28h0m-16 20h0m-70 24h0m86 7h0m-169 100h0m0 33h0" stroke="#e45a31" stroke-width="6.0" stroke-linecap="round" fill="none"/><path d="M1762 571h0m-76 14h0m-26 13h0m-316 56h0m2 1h0m410 8h0m-425 1h0m369 19h0m68 4h0m-60 74h0m-154 75h0" stroke="#ef6c23" stroke-width="6.0" stroke-linecap="round" fill="none"/><path d="M1649 613h0m118 22h0m-2 15h0m-435 19h0m466 18h0m-460 13h0m372 45h0m-366 28h0m178 61h0" stroke="#f78212" stroke-width="6.0" stroke-linecap="round" fill="none"/><path d="M1340 674h0" stroke="#fb9906" stroke-width="6.0" stroke-linecap="round" fill="none"/><path d="M1337 650h0" stroke="#f9cb35" stroke-width="6.0" stroke-linecap="round" fill="none"/><path d="M1325 674h0" stroke="#f3e35a" stroke-width="6.0" stroke-linecap="round" fill="none"/><path d="M1734 511h0m37 1h0m-22 5h0m-58 7h0m65 0h0m-60 1h0m75 5h0m-97 2h0m33 6h0m53 2h0m-98 3h0m14 5h0m33 6h0m105 0h0m-148 9h0m10 3h0m83 0h0m-60 1h0m95 3h0m-70 1h0m27 1h0m33 2h0m-135 28h0m71 1h0m110 22h0m-124 3h0m38 9h0m36 4h0m49 0h0m-43 5h0m-112 14h0m107 14h0m30 0h0m7 7h0m-103 6h0m98 0h0m4 0h0m-101 9h0m74 1h0m-38 2h0m-64 4h0m118 3h0m-48 19h0m16 3h0m-64 5h0m-45 18h0m61 17h0m23 0h0m-398 9h0m38 3h0m-10 1h0m39 11h0m189 2h0m-268 2h0m40 0h0m32 0h0m-62 1h0m13 0h0m39 0h0m208 0h0m-217 1h0m-17 1h0m16 4h0m7 0h0m-25 3h0m250 0h0m-269 2h0m63 3h0m224 0h0m-266 3h0m-6 1h0m-15 3h0m102 1h0m-18 1h0m-91 1h0m8 0h0m20 0h0m180 0h0m59 2h0m-224 4h0m81 1h0m-26 2h0m-69 1h0m85 4h0m45 1h0m-158 2h0m81 0h0m-2 2h0m166 0h0m-206 1h0m97 0h0m-135 3h0m153 4h0m-11 3h0m-16 1h0m-29 1h0m142 0h0m-132 1h0m3 0h0m-83 2h0m31 1h0m173 1h0m-90 1h0m-133 4h0m233 1h0m-225 2h0m45 2h0m129 0h0m95 3h0m-164 1h0m-114 1h0m100 0h0m41 1h0m68 0h0m65 0h0m-209 4h0m-27 2h0m28 1h0m118 0h0m-179 1h0m143 0h0m-90 1h0m31 0h0m6 0h0m-15 1h0m99 1h0m-62 1h0m-87 1h0m5 0h0m-19 2h0m22 1h0m22 1h0m26 3h0m4 0h0m107 0h0m-75 2h0m-81 1h0m89 0h0m-82 1h0m11 0h0m137 1h0m-143 1h0m16 2h0m59 1h0m-45 1h0m-37 1h0m9 0h0m122 0h0m-134 3h0m-7 1h0m24 0h0m-15 5h0m7 0h0m45 1h0m-30 2h0m48 0h0m0 3h0m9 3h0m-2 2h0m83 1h0m-128 1h0m17 4h0m62 1h0m30 0h0m-114 3h0m12 4h0m-5 7h0m-7 2h0m-13 1h0" stroke="#02020e" stroke-width="6.0" stroke-linecap="round" fill="none"/><path d="M1740 515h0m-43 1h0m-1 7h0m17 0h0m-11 2h0m32 2h0m7 0h0m48 3h0m-7 1h0m-93 2h0m105 3h0m12 4h0m-100 1h0m-28 6h0m81 0h0m14 1h0m-116 4h0m136 5h0m-96 5h0m-34 17h0m147 8h0m-161 5h0m107 0h0m-82 2h0m16 0h0m117 0h0m-115 3h0m107 0h0m-9 3h0m-79 1h0m-51 2h0m79 0h0m81 0h0m-42 2h0m-93 4h0m60 1h0m-59 4h0m59 2h0m53 1h0m-40 2h0m30 8h0m-8 2h0m18 4h0m-81 1h0m21 7h0m81 0h0m-159 2h0m11 0h0m42 2h0m27 3h0m28 5h0m-90 1h0m119 0h0m-454 1h0m342 1h0m-345 4h0m355 4h0m50 2h0m-7 3h0m39 1h0m-60 1h0m-50 3h0m155 0h0m-70 5h0m-53 3h0m101 5h0m-29 4h0m-65 2h0m33 8h0m37 0h0m-85 8h0m22 0h0m-48 5h0m108 3h0m-22 2h0m11 2h0m-39 1h0m58 0h0m-139 2h0m146 3h0m-77 6h0m-2 7h0m35 4h0m-91 4h0m113 0h0m-56 5h0m-58 7h0m-307 7h0m377 5h0m-22 1h0m19 3h0m-91 4h0m-256 2h0m267 0h0m-277 2h0m47 0h0m-9 2h0m182 3h0m-204 3h0m25 0h0m179 1h0m7 0h0m-182 4h0m-67 1h0m256 0h0m-2 2h0m-180 3h0m-69 2h0m54 0h0m8 1h0m11 1h0m-77 1h0m52 0h0m-1 2h0m-21 2h0m23 1h0m221 0h0m-184 3h0m-73 2h0m39 5h0m123 0h0m33 0h0m-181 1h0m16 0h0m184 2h0m-149 1h0m-58 1h0m150 0h0m94 1h0m-71 3h0m-69 1h0m37 0h0m-59 2h0m-90 1h0m45 1h0m-5 1h0m-32 1h0m91 0h0m-104 1h0m39 1h0m7 3h0m33 1h0m-64 2h0m145 2h0m84 1h0m-226 3h0m95 1h0m-44 1h0m-37 1h0m82 2h0m-81 3h0m-14 2h0m-6 1h0m51 0h0m19 0h0m-63 3h0m7 0h0m198 0h0m-209 5h0m3 0h0m-8 1h0m173 0h0m-133 1h0m16 1h0m127 2h0m-36 1h0m132 0h0m-258 1h0m-2 1h0m64 0h0m-56 2h0m171 0h0m-181 1h0m33 2h0m210 2h0m-33 3h0m9 1h0m-231 1h0m203 2h0m27 1h0m-63 2h0m-129 3h0m7 0h0m184 0h0m-105 1h0m-73 2h0m29 2h0m57 0h0m12 0h0m-32 1h0m-19 2h0m-48 1h0m35 1h0m28 2h0m-51 1h0m111 2h0m-136 1h0m62 1h0m95 0h0m-178 4h0m40 1h0m62 0h0m38 1h0m-67 1h0m43 7h0m-95 4h0m128 0h0m-85 2h0m-29 4h0m6 12h0" stroke="#0e092b" stroke-width="6.0" stroke-linecap="round" fill="none"/><path d="M1703 520h0m74 1h0m8 7h0m-96 8h0m68 10h0m-47 3h0m-40 18h0m-16 2h0m108 9h0m59 0h0m-166 2h0m173 0h0m-109 1h0m85 0h0m-20 1h0m-130 7h0m26 6h0m71 4h0m-68 6h0m12 10h0m31 3h0m-41 1h0m-21 4h0m126 0h0m-128 16h0m-4 5h0m1 0h0m99 8h0m-91 5h0m38 2h0m81 2h0m-452 5h0m361 4h0m-346 8h0m364 0h0m26 0h0m-9 7h0m-25 6h0m97 12h0m-26 2h0m20 2h0m-73 4h0m79 0h0m-49 2h0m-88 5h0m28 2h0m15 4h0m-6 1h0m-350 7h0m393 1h0m2 10h0m-22 16h0m-87 9h0m4 1h0m86 7h0m-116 19h0m29 23h0m-58 4h0m-81 4h0m4 3h0m127 1h0m-79 1h0m15 1h0m-1 12h0m-26 13h0m39 5h0m50 5h0m-110 6h0m102 3h0m-42 1h0m-68 14h0m43 17h0m-9 12h0m8 6h0m-39 11h0" stroke="#210c4a" stroke-width="6.0" stroke-linecap="round" fill="none"/><path d="M1708 514h0m64 2h0m-81 6h0m54 2h0m0 4h0m-15 3h0m35 1h0m-18 7h0m-7 5h0m-6 7h0m64 2h0m-140 4h0m46 3h0m99 0h0m-150 1h0m93 0h0m-29 1h0m102 3h0m-129 5h0m89 1h0m-54 6h0m-6 3h0m-29 14h0m39 2h0m-29 2h0m69 15h0m-36 8h0m52 5h0m-61 3h0m7 0h0m-75 3h0m149 0h0m-155 3h0m25 7h0m33 1h0m-16 3h0m-6 5h0m14 1h0m17 8h0m-25 5h0m53 0h0m-25 1h0m-383 7h0m348 0h0m90 7h0m-102 1h0m55 7h0m-2 8h0m62 4h0m-64 2h0m62 11h0m-74 1h0m69 3h0m-119 10h0m101 12h0m-19 7h0m-5 6h0m-93 13h0m-6 7h0m-16 10h0m-217 2h0m-1 1h0m-33 2h0m-3 1h0m231 3h0m-208 1h0m-41 3h0m239 2h0m35 3h0m-189 9h0m-5 1h0m-20 1h0m224 0h0m-164 2h0m62 1h0m118 0h0m-258 4h0m-12 1h0m144 5h0m-70 2h0m24 2h0m-100 1h0m59 2h0m39 7h0m-37 1h0m215 0h0m-238 2h0m68 1h0m-98 1h0m59 2h0m-90 1h0m91 0h0m14 0h0m94 2h0m-142 1h0m165 0h0m-95 1h0m93 5h0m66 0h0m-69 1h0m-133 1h0m-26 5h0m-24 1h0m-3 1h0m29 1h0m141 0h0m-108 3h0m-86 2h0m174 1h0m-50 1h0m-112 5h0m200 0h0m-212 2h0m246 0h0m-141 2h0m134 2h0m-163 2h0m-51 3h0m9 4h0m-19 5h0m85 0h0m13 5h0m-19 1h0m108 5h0m-8 4h0m-129 2h0m-34 2h0m50 13h0m22 1h0m58 3h0m-112 5h0m40 4h0m-18 7h0" stroke="#360961" stroke-width="6.0" stroke-linecap="round" fill="none"/><path d="M1756 513h0m18 3h0m-84 2h0m-8 2h0m45 6h0m-38 6h0m14 0h0m34 0h0m1 4h0m-62 5h0m50 0h0m16 4h0m-91 1h0m131 6h0m-111 2h0m142 6h0m-189 1h0m92 0h0m58 0h0m8 2h0m-103 1h0m30 1h0m22 1h0m-33 1h0m115 1h0m-130 3h0m73 2h0m44 0h0m15 0h0m-9 3h0m-91 2h0m60 0h0m-83 2h0m62 0h0m-22 3h0m58 5h0m-103 1h0m-4 1h0m26 2h0m108 3h0m20 1h0m-156 2h0m111 0h0m37 2h0m-91 1h0m37 1h0m46 4h0m-49 4h0m-94 3h0m-13 1h0m169 0h0m-181 3h0m170 1h0m-150 1h0m58 0h0m42 1h0m-126 6h0m50 1h0m37 0h0m10 1h0m91 0h0m-84 4h0m-32 3h0m94 4h0m-156 1h0m140 7h0m5 1h0m-102 1h0m1 0h0m80 2h0m-87 1h0m45 0h0m-45 1h0m-21 1h0m33 2h0m128 0h0m-115 2h0m35 4h0m53 0h0m-121 1h0m72 0h0m54 0h0m-123 5h0m94 2h0m15 1h0m-58 1h0m46 1h0m-11 3h0m-67 2h0m0 0h0m90 5h0m9 0h0m-84 6h0m-24 1h0m56 1h0m-46 1h0m55 0h0m31 0h0m-96 1h0m68 1h0m-19 9h0m-20 1h0m12 0h0m27 1h0m11 2h0m-77 2h0m74 3h0m-106 8h0m69 2h0m15 3h0m-41 2h0m-19 3h0m55 4h0m-21 1h0m-69 1h0m65 1h0m45 0h0m-40 1h0m-8 7h0m-32 2h0m59 3h0m-45 6h0m-57 4h0m5 2h0m4 0h0m73 3h0m-15 6h0m-9 2h0m-72 2h0m-271 18h0m-6 2h0m62 0h0m-63 2h0m342 0h0m-77 1h0m-22 2h0m-215 1h0m254 0h0m-239 1h0m227 0h0m-58 2h0m-187 1h0m315 1h0m-344 5h0m73 1h0m135 0h0m-109 1h0m81 0h0m5 0h0m-183 3h0m265 0h0m17 0h0m-180 1h0m20 1h0m-131 1h0m4 0h0m112 0h0m132 2h0m-80 1h0m-55 1h0m163 2h0m3 1h0m-20 1h0m43 2h0m-294 2h0m186 0h0m-101 3h0m-38 2h0m92 0h0m112 1h0m-49 3h0m97 0h0m-87 3h0m92 0h0m-124 1h0m107 1h0m-260 1h0m131 0h0m83 0h0m35 0h0m-20 1h0m-136 1h0m196 0h0m-103 1h0m18 0h0m59 1h0m-281 1h0m187 1h0m-157 1h0m209 1h0m-178 1h0m217 0h0m-120 1h0m-157 3h0m141 0h0m10 0h0m86 3h0m-150 1h0m8 0h0m113 0h0m-48 1h0m54 0h0m32 0h0m21 0h0m-133 1h0m38 0h0m75 0h0m-150 5h0m157 2h0m-44 1h0m-19 2h0m-154 1h0m-33 1h0m165 3h0m-109 1h0m76 0h0m-99 1h0m8 3h0m56 1h0m65 1h0m-61 1h0m17 3h0m75 4h0m25 0h0m-141 3h0m174 0h0m-199 3h0m108 1h0m89 0h0m-74 1h0m-104 1h0m144 1h0m-35 2h0m-5 3h0m-131 1h0m19 0h0m56 2h0m-75 5h0m136 1h0m-97 1h0m7 3h0m44 1h0m47 5h0m-140 1h0m133 0h0m-130 9h0m23 1h0" stroke="#4c0c6b" stroke-width="6.0" stroke-linecap="round" fill="none"/><path d="M1693 512h0m47 1h0m20 6h0m-27 2h0m49 3h0m-86 3h0m58 0h0m-44 3h0m-5 2h0m47 3h0m-17 1h0m-26 3h0m-13 2h0m35 2h0m-44 1h0m85 0h0m-65 3h0m97 1h0m-104 2h0m35 3h0m-55 1h0m72 0h0m-71 1h0m85 1h0m-11 2h0m-75 8h0m12 1h0m83 0h0m-11 2h0m-16 2h0m38 1h0m-37 1h0m-50 2h0m-13 1h0m113 1h0m13 0h0m-53 1h0m-25 2h0m32 2h0m-42 2h0m96 0h0m-45 6h0m-72 1h0m13 0h0m120 0h0m-97 1h0m-82 3h0m28 2h0m21 5h0m-49 5h0m4 2h0m145 2h0m-119 1h0m131 1h0m-164 9h0m123 0h0m-16 3h0m2 0h0m-54 2h0m17 4h0m25 0h0m-82 1h0m33 1h0m-39 3h0m55 1h0m-9 2h0m17 1h0m30 3h0m-4 10h0m-62 5h0m30 7h0m69 0h0m-48 2h0m93 0h0m-13 2h0m-90 3h0m58 4h0m21 1h0m-127 1h0m71 0h0m-72 1h0m47 2h0m70 1h0m-21 4h0m3 6h0m27 2h0m1 0h0m-111 2h0m98 2h0m3 0h0m-86 1h0m41 0h0m41 3h0m-10 1h0m-105 4h0m90 2h0m-23 1h0m44 2h0m-103 1h0m98 0h0m-82 1h0m47 2h0m-69 3h0m19 3h0m78 0h0m-73 4h0m10 3h0m55 10h0m-117 4h0m42 0h0m19 3h0m-6 10h0m-41 7h0m35 1h0m49 5h0m-20 4h0m-17 5h0m-314 2h0m-2 1h0m229 5h0m31 3h0m-45 7h0m-49 5h0m7 1h0m21 1h0m44 1h0m-24 2h0m-204 1h0m143 0h0m10 2h0m27 2h0m42 5h0m-163 1h0m178 0h0m-169 1h0m-129 6h0m98 2h0m38 1h0m86 0h0m-58 3h0m-18 2h0m68 0h0m7 6h0m6 0h0m-116 1h0m51 1h0m78 0h0m15 0h0m-203 5h0m231 1h0m-136 1h0m-137 1h0m193 1h0m98 0h0m-197 1h0m60 1h0m23 1h0m114 1h0m-102 1h0m74 1h0m-170 1h0m97 5h0m85 0h0m-191 5h0m108 0h0m-14 1h0m-131 2h0m220 0h0m-105 1h0m-61 9h0m93 0h0m75 2h0m7 0h0m-15 3h0m-164 2h0m93 0h0m60 0h0m-148 1h0m151 1h0m-202 1h0m127 3h0m-126 2h0m114 2h0m-124 2h0m146 0h0m-171 3h0m145 0h0m31 3h0m2 2h0m-85 6h0m75 0h0m-100 1h0m64 3h0m-59 2h0m61 3h0m11 0h0m-26 2h0m-96 3h0m122 0h0m37 1h0m-14 4h0m8 1h0m-111 1h0m0 15h0" stroke="#61136e" stroke-width="6.0" stroke-linecap="round" fill="none"/><path d="M1739 522h0m-30 3h0m5 3h0m58 0h0m-49 17h0m25 2h0m-15 3h0m28 0h0m20 1h0m-47 4h0m64 3h0m-16 4h0m42 3h0m-85 5h0m-34 6h0m104 1h0m-8 6h0m28 3h0m-147 1h0m26 2h0m73 2h0m-47 5h0m-19 1h0m2 2h0m87 1h0m-131 3h0m64 9h0m13 1h0m-29 1h0m85 0h0m-98 1h0m15 3h0m41 0h0m-37 3h0m108 3h0m-148 1h0m114 4h0m-147 2h0m133 0h0m44 2h0m-135 1h0m61 3h0m-17 1h0m-66 2h0m118 2h0m-29 4h0m-99 2h0m82 0h0m-10 1h0m-10 6h0m-26 2h0m67 3h0m-96 3h0m109 1h0m40 2h0m-10 2h0m1 4h0m-135 5h0m-339 12h0m448 4h0m-51 2h0m22 0h0m3 6h0m40 1h0m-58 10h0m43 5h0m-47 2h0m-73 30h0m88 0h0m-17 1h0m-393 2h0m380 6h0m-18 10h0m32 4h0m-397 3h0m9 1h0m384 4h0m-110 5h0m10 2h0m-29 2h0m-245 10h0m264 0h0m-232 9h0m222 6h0m-66 4h0m42 1h0m-59 3h0m64 6h0m-211 3h0m214 3h0m-117 1h0m90 0h0m-82 3h0m27 3h0m87 5h0m-50 1h0m-36 1h0m99 4h0m30 8h0m-61 8h0m-1 2h0m18 5h0m6 0h0m31 1h0m-82 5h0m-189 3h0m228 5h0m-45 2h0m18 9h0m-137 1h0m68 7h0m78 1h0m-29 14h0m-120 3h0m67 0h0m34 0h0m-25 4h0m48 0h0m-114 2h0m88 3h0" stroke="#751b6e" stroke-width="6.0" stroke-linecap="round" fill="none"/><path d="M1704 519h0m51 2h0m-38 1h0m58 1h0m-100 2h0m102 10h0m-96 3h0m-12 1h0m122 4h0m0 1h0m-5 4h0m-119 2h0m130 1h0m-79 5h0m-42 5h0m131 2h0m-63 1h0m80 9h0m-50 1h0m-125 3h0m47 2h0m9 0h0m91 5h0m-9 5h0m-120 4h0m53 0h0m96 0h0m-104 3h0m83 3h0m13 0h0m-129 1h0m-23 1h0m131 1h0m-70 5h0m-19 1h0m11 1h0m-58 6h0m56 7h0m-13 1h0m-35 1h0m144 0h0m-77 1h0m68 1h0m10 1h0m-99 3h0m28 2h0m92 10h0m-37 3h0m-108 2h0m83 0h0m63 0h0m-130 1h0m80 10h0m37 3h0m-82 2h0m-20 1h0m14 3h0m-63 3h0m40 0h0m21 1h0m60 0h0m-18 1h0m-104 2h0m94 0h0m-5 3h0m10 1h0m-77 5h0m94 7h0m-47 2h0m25 0h0m32 1h0m-48 2h0m-47 2h0m99 7h0m10 2h0m-121 2h0m69 0h0m-36 6h0m9 2h0m33 12h0m-54 1h0m37 0h0m-30 1h0m40 0h0m10 4h0m-7 8h0m-24 4h0m27 0h0m-48 27h0m-2 5h0m-79 6h0m3 5h0m28 0h0m-120 21h0m93 2h0m-50 11h0m52 3h0m-113 1h0m102 5h0m-236 6h0m57 8h0m75 5h0m69 0h0m-50 3h0m31 7h0m-163 1h0m50 1h0m51 1h0m-145 2h0m91 1h0m118 1h0m3 9h0m47 1h0m21 3h0m-151 3h0m8 4h0m-34 2h0m62 1h0m-30 2h0m-52 11h0m83 8h0m-130 10h0m141 2h0m-27 2h0m-92 4h0m101 9h0m-64 4h0" stroke="#8a226a" stroke-width="6.0" stroke-linecap="round" fill="none"/><path d="M1720 505h0m-12 7h0m6 2h0m48 1h0m20 3h0m-73 4h0m-22 7h0m36 0h0m-16 5h0m92 0h0m-14 9h0m22 1h0m-116 9h0m26 2h0m30 0h0m-77 8h0m49 4h0m47 4h0m33 2h0m-104 2h0m39 4h0m93 13h0m-78 5h0m24 2h0m-21 8h0m5 4h0m-51 13h0m64 8h0m42 2h0m-85 1h0m50 3h0m-79 19h0m33 1h0m45 2h0m-21 6h0m46 6h0m-111 2h0m-15 16h0m98 2h0m-28 1h0m-55 8h0m37 1h0m46 9h0m-101 7h0m26 3h0m69 5h0m-26 6h0m-80 2h0m62 0h0m15 1h0m-39 6h0m55 0h0m-29 6h0m7 13h0m-85 9h0m71 0h0m-14 7h0m16 8h0m-321 2h0m198 3h0m-12 3h0m43 0h0m-30 4h0m50 10h0m-235 9h0m59 5h0m148 1h0m3 0h0m-269 3h0m236 1h0m-167 1h0m205 7h0m-253 5h0m164 3h0m83 3h0m-46 23h0m-175 2h0m53 2h0m41 0h0m114 0h0m-182 2h0m148 0h0m-143 11h0m15 5h0m97 2h0m-14 2h0m48 0h0m-91 8h0m-60 3h0m117 0h0m-17 11h0m-56 8h0m73 3h0m-17 5h0" stroke="#9d2964" stroke-width="6.0" stroke-linecap="round" fill="none"/><path d="M1799 531h0m-110 20h0m-21 5h0m60 2h0m22 10h0m-87 23h0m131 14h0m-48 10h0m28 10h0m44 20h0m16 4h0m-18 10h0m19 5h0m-148 14h0m65 11h0m-13 4h0m-8 10h0m41 13h0m-125 38h0m-14 26h0m-222 19h0m164 23h0m-60 3h0m73 0h0m-84 7h0m127 0h0m31 0h0m-103 26h0m-6 10h0m-105 28h0m92 23h0m-91 2h0m5 13h0m82 2h0m-24 2h0m17 2h0" stroke="#b1325a" stroke-width="6.0" stroke-linecap="round" fill="none"/><path d="M1707 506h0m35 8h0m-7 21h0m68 0h0m-56 15h0m-71 6h0m126 10h0m-15 2h0m20 5h0m-19 8h0m-88 11h0m84 1h0m-110 4h0m94 20h0m-123 6h0m101 3h0m61 6h0m15 15h0m-67 12h0m67 7h0m-45 22h0m-2 4h0m-78 36h0m66 5h0m-65 17h0" stroke="#c43c4e" stroke-width="6.0" stroke-linecap="round" fill="none"/><path d="M1714 585h0m50 4h0m60 10h0m-50 10h0m-15 26h0m-99 21h0m85 18h0m20 13h0m-24 2h0m-6 38h0m-145 97h0m-63 70h0m-31 22h0" stroke="#d54a41" stroke-width="6.0" stroke-linecap="round" fill="none"/><path d="M1764 528h0m-9 13h0m-82 41h0m7 27h0m13 10h0m52 22h0m-408 18h0m-5 4h0m432 32h0m10 37h0m-13 15h0m-44 40h0m-38 10h0m-145 80h0" stroke="#e45a31" stroke-width="6.0" stroke-linecap="round" fill="none"/><path d="M1733 510h0m25 1h0m-15 18h0m51 58h0m-140 50h0m-328 21h0m440 9h0m-413 1h0m397 18h0m59 1h0m-88 39h0m22 1h0m-7 16h0m-88 59h0m-7 50h0" stroke="#ef6c23" stroke-width="6.0" stroke-linecap="round" fill="none"/><path d="M1722 529h0m64 5h0m-444 119h0m-7 13h0m18 6h0m-15 21h0m6 12h0m383 4h0m-384 38h0m-2 19h0m2 4h0m387 8h0m-111 84h0" stroke="#f78212" stroke-width="6.0" stroke-linecap="round" fill="none"/><path d="M1337 682h0" stroke="#fcb216" stroke-width="6.0" stroke-linecap="round" fill="none"/><path d="M1345 665h0m-11 10h0" stroke="#f9cb35" stroke-width="6.0" stroke-linecap="round" fill="none"/><path d="M1343 648h0" stroke="#f3e35a" stroke-width="6.0" stroke-linecap="round" fill="none"/><path d="M1725 518h0m23 6h0m-24 8h0m38 1h0m10 0h0m1 8h0m-57 3h0m79 3h0m-34 15h0m66 7h0m-104 13h0m-74 1h0m23 0h0m-9 5h0m152 2h0m-71 3h0m17 2h0m-98 17h0m85 0h0m84 4h0m-166 4h0m65 1h0m-47 5h0m67 8h0m69 2h0m-24 3h0m-117 2h0m59 2h0m64 0h0m18 1h0m-94 1h0m41 2h0m-58 3h0m105 0h0m-27 7h0m-60 7h0m-45 4h0m78 5h0m-32 6h0m-15 2h0m-46 1h0m19 12h0m15 25h0m85 7h0m-43 12h0m7 2h0m-49 9h0m38 0h0m3 9h0m-86 20h0m61 1h0m-323 1h0m227 3h0m-236 8h0m11 0h0m216 1h0m-243 2h0m-25 2h0m44 0h0m234 0h0m-284 1h0m46 1h0m39 2h0m224 0h0m-269 3h0m-19 1h0m26 0h0m-43 2h0m11 2h0m-10 1h0m22 0h0m16 2h0m-42 1h0m331 1h0m-236 2h0m186 0h0m-263 1h0m122 1h0m-86 2h0m68 0h0m-101 4h0m34 2h0m72 1h0m-16 3h0m-25 2h0m-25 2h0m29 0h0m-33 8h0m110 0h0m139 2h0m-279 1h0m19 0h0m90 0h0m7 0h0m-58 3h0m-35 1h0m-22 1h0m25 2h0m11 2h0m65 2h0m-113 1h0m230 1h0m65 2h0m-298 1h0m246 5h0m-224 3h0m58 3h0m28 0h0m-49 2h0m57 0h0m-16 1h0m14 2h0m-52 1h0m-41 1h0m17 2h0m-13 1h0m106 0h0m11 3h0m-93 7h0m194 0h0m-210 1h0m108 0h0m-110 3h0m55 0h0m21 0h0m-78 4h0m14 0h0m35 1h0m29 0h0m68 0h0m-93 1h0m-53 1h0m15 1h0m15 2h0m-3 1h0m29 1h0m89 0h0m-130 2h0m164 1h0m-153 1h0m-25 2h0m49 5h0m-18 2h0m-10 3h0m-11 1h0m36 0h0m32 0h0m-19 1h0m-33 1h0m2 1h0m71 1h0m36 0h0m-86 3h0m29 8h0m-8 5h0m-41 2h0m21 7h0" stroke="#02020e" stroke-width="6.0" stroke-linecap="round" fill="none"/><path d="M1735 514h0m-49 5h0m96 4h0m11 9h0m-72 5h0m-57 2h0m43 4h0m44 0h0m-50 1h0m10 3h0m27 7h0m-18 4h0m-62 2h0m-1 1h0m146 8h0m-68 3h0m75 0h0m9 1h0m-137 3h0m25 0h0m122 1h0m-61 3h0m39 3h0m-108 4h0m-32 3h0m105 2h0m-76 6h0m91 8h0m29 4h0m-168 8h0m61 2h0m49 1h0m33 0h0m-7 2h0m-116 1h0m113 1h0m42 1h0m-114 6h0m34 10h0m35 2h0m-436 2h0m444 8h0m-127 1h0m85 1h0m46 3h0m-100 2h0m-17 2h0m45 1h0m-367 6h0m340 5h0m79 0h0m-69 3h0m50 0h0m62 2h0m-87 3h0m-38 2h0m-1 4h0m4 1h0m11 6h0m61 3h0m31 11h0m-109 9h0m0 3h0m68 2h0m-84 3h0m91 2h0m-70 7h0m76 0h0m4 1h0m-103 2h0m28 0h0m39 18h0m-17 18h0m-377 7h0m60 0h0m-55 3h0m46 0h0m221 1h0m-251 8h0m52 0h0m274 0h0m-281 2h0m-36 2h0m51 4h0m20 4h0m-25 2h0m227 0h0m-241 1h0m52 1h0m103 0h0m87 1h0m-182 4h0m-15 1h0m-67 2h0m4 0h0m107 3h0m24 0h0m-48 1h0m103 1h0m-224 1h0m215 0h0m89 1h0m-276 2h0m-6 1h0m-20 1h0m270 0h0m-247 1h0m-18 1h0m167 0h0m12 0h0m78 1h0m43 0h0m-20 1h0m-19 1h0m-90 2h0m83 2h0m-141 1h0m-77 1h0m18 2h0m174 0h0m58 2h0m-66 1h0m-198 2h0m116 2h0m122 0h0m-23 2h0m-180 2h0m-46 1h0m70 1h0m137 0h0m80 0h0m-257 1h0m204 1h0m-225 1h0m57 0h0m93 0h0m104 0h0m4 1h0m-221 1h0m-29 1h0m57 0h0m-17 1h0m228 4h0m-219 1h0m113 1h0m-147 1h0m126 0h0m-3 1h0m24 0h0m-99 1h0m154 0h0m-55 2h0m-50 2h0m-65 1h0m-36 1h0m72 1h0m12 6h0m-100 3h0m100 1h0m-58 2h0m118 1h0m-164 1h0m174 0h0m-158 2h0m32 3h0m81 2h0m-33 1h0m55 1h0m-137 2h0m178 0h0m-66 2h0m-104 1h0m86 0h0m-45 1h0m78 0h0m35 1h0m6 2h0m-163 1h0m193 2h0m-134 1h0m130 0h0m-37 2h0m-149 1h0m93 0h0m70 2h0m-82 3h0m-43 1h0m33 1h0m13 0h0m38 1h0m-104 4h0m37 0h0m-53 6h0m-1 3h0m52 6h0m-41 2h0" stroke="#0e092b" stroke-width="6.0" stroke-linecap="round" fill="none"/><path d="M1774 511h0m-42 23h0m-28 4h0m18 3h0m-37 13h0m12 3h0m45 3h0m67 7h0m-152 6h0m46 1h0m-13 2h0m30 2h0m12 2h0m-20 4h0m0 3h0m-35 1h0m24 12h0m68 0h0m-83 4h0m23 0h0m52 1h0m-96 1h0m-10 3h0m50 10h0m35 7h0m-80 4h0m56 0h0m5 3h0m-34 4h0m15 4h0m85 11h0m-25 6h0m28 12h0m-54 7h0m-382 2h0m-17 8h0m443 6h0m-7 1h0m40 0h0m-34 10h0m-72 9h0m-25 1h0m3 2h0m114 1h0m-40 18h0m-26 3h0m-13 14h0m11 1h0m-388 2h0m-2 15h0m4 3h0m291 22h0m-54 5h0m-24 2h0m37 8h0m50 10h0m-126 5h0m62 0h0m16 0h0m-104 1h0m99 6h0m-70 6h0m-20 20h0m104 13h0m20 15h0m-61 9h0m43 4h0m-29 1h0m-48 10h0m-10 5h0" stroke="#210c4a" stroke-width="6.0" stroke-linecap="round" fill="none"/><path d="M1729 507h0m-18 2h0m-10 3h0m16 2h0m12 5h0m16 4h0m-68 12h0m8 13h0m122 2h0m-52 3h0m-91 4h0m-8 1h0m80 1h0m-9 9h0m28 0h0m-44 8h0m41 0h0m-58 6h0m-19 1h0m130 4h0m-60 2h0m42 7h0m18 1h0m-60 3h0m-93 5h0m136 1h0m-67 2h0m84 3h0m-27 2h0m-46 2h0m-28 7h0m34 0h0m-9 3h0m-71 1h0m9 0h0m28 1h0m131 1h0m-81 7h0m46 1h0m-142 2h0m184 0h0m-143 3h0m64 1h0m-415 4h0m388 5h0m-14 3h0m26 4h0m-73 7h0m-327 2h0m335 8h0m17 4h0m-12 5h0m38 5h0m72 0h0m-71 21h0m-29 2h0m108 1h0m-54 3h0m-34 1h0m83 3h0m-66 8h0m7 18h0m-13 8h0m-12 1h0m-7 7h0m12 1h0m30 6h0m-33 9h0m-81 4h0m-273 1h0m328 2h0m19 0h0m-304 4h0m-60 1h0m71 0h0m15 6h0m-75 2h0m283 0h0m-31 2h0m-261 2h0m73 1h0m171 3h0m-202 1h0m10 0h0m35 3h0m147 0h0m-117 2h0m-6 1h0m154 0h0m-1 2h0m-176 1h0m151 0h0m-159 2h0m2 4h0m5 3h0m-34 1h0m250 0h0m-112 3h0m-30 1h0m157 0h0m-217 6h0m1 0h0m193 2h0m-260 1h0m270 1h0m-54 2h0m-23 1h0m-140 3h0m48 2h0m97 0h0m-85 1h0m51 0h0m-77 2h0m37 0h0m7 0h0m5 4h0m24 0h0m-164 1h0m-14 1h0m14 1h0m-14 1h0m70 2h0m78 1h0m-76 1h0m121 0h0m-131 4h0m47 3h0m157 3h0m-117 2h0m-48 1h0m35 3h0m-68 1h0m31 3h0m152 0h0m-155 3h0m-21 1h0m-51 3h0m25 1h0m183 4h0m-139 5h0m-13 9h0m12 1h0m56 0h0m-6 7h0m59 6h0m-145 1h0m42 0h0m-33 4h0m16 1h0m23 3h0m46 3h0m-97 6h0m15 2h0m10 3h0m-8 7h0" stroke="#360961" stroke-width="6.0" stroke-linecap="round" fill="none"/><path d="M1691 516h0m41 1h0m11 3h0m-22 1h0m59 3h0m13 1h0m-92 3h0m62 2h0m-44 5h0m-26 2h0m85 0h0m19 1h0m-83 1h0m-22 1h0m116 3h0m-24 4h0m24 3h0m1 7h0m-30 2h0m-88 2h0m89 1h0m-73 2h0m30 1h0m-14 1h0m73 0h0m-133 2h0m70 5h0m64 1h0m-124 1h0m9 0h0m61 5h0m-73 3h0m156 0h0m-56 2h0m-75 1h0m108 1h0m-130 1h0m-2 1h0m95 1h0m-24 6h0m29 1h0m41 0h0m8 0h0m-99 2h0m-39 3h0m54 0h0m68 0h0m19 3h0m12 1h0m-87 1h0m-105 4h0m80 1h0m36 0h0m16 3h0m4 0h0m-109 4h0m131 2h0m-147 3h0m60 4h0m-45 1h0m-20 1h0m42 1h0m9 1h0m-17 1h0m99 1h0m-43 1h0m17 8h0m38 1h0m-129 2h0m39 0h0m12 0h0m-8 3h0m42 0h0m58 1h0m-130 1h0m142 0h0m-78 4h0m1 5h0m54 1h0m27 0h0m-74 1h0m-3 1h0m72 3h0m11 1h0m-132 6h0m19 0h0m-50 3h0m54 0h0m53 1h0m-7 2h0m-50 1h0m-7 3h0m28 0h0m-67 1h0m71 0h0m-37 9h0m77 4h0m-15 4h0m-65 1h0m-10 1h0m98 0h0m-96 3h0m20 2h0m68 7h0m-95 2h0m90 0h0m-36 2h0m46 5h0m-22 1h0m-12 7h0m-38 4h0m-48 1h0m91 15h0m-103 2h0m41 2h0m19 0h0m35 2h0m-100 3h0m-6 2h0m110 1h0m2 0h0m-47 4h0m39 4h0m-6 3h0m-7 1h0m-394 2h0m28 1h0m250 0h0m-269 2h0m24 0h0m4 5h0m11 1h0m-37 3h0m29 0h0m232 0h0m-20 2h0m35 3h0m-202 3h0m-21 1h0m168 0h0m-212 2h0m265 0h0m-222 1h0m183 1h0m-12 1h0m-228 3h0m251 0h0m61 1h0m-33 2h0m-76 1h0m70 0h0m30 0h0m-50 1h0m-69 1h0m27 4h0m-118 2h0m42 0h0m-63 2h0m169 1h0m-106 2h0m52 1h0m-151 3h0m47 0h0m130 0h0m-2 1h0m-15 2h0m40 0h0m38 0h0m2 0h0m-84 2h0m-156 2h0m110 1h0m-67 2h0m-2 1h0m-63 1h0m162 1h0m-26 1h0m23 0h0m-165 5h0m205 1h0m-81 1h0m-90 1h0m42 1h0m73 0h0m38 0h0m69 1h0m-188 2h0m-56 1h0m126 0h0m30 0h0m86 0h0m-19 1h0m-6 4h0m-28 2h0m-111 1h0m68 1h0m107 1h0m19 1h0m-125 1h0m-73 1h0m92 2h0m97 1h0m-51 4h0m-91 3h0m98 2h0m18 1h0m-212 2h0m164 0h0m5 4h0m-69 1h0m38 0h0m-13 2h0m108 2h0m-116 1h0m109 0h0m-209 1h0m-6 2h0m119 1h0m-81 2h0m45 0h0m83 0h0m34 0h0m-146 1h0m130 2h0m-39 2h0m-123 3h0m-5 1h0m152 1h0m15 0h0m-112 2h0m78 1h0m-83 3h0m33 3h0m22 0h0m10 1h0m-68 1h0m38 1h0m-2 1h0m39 1h0m-156 3h0m137 1h0m-2 2h0m-47 3h0m-57 2h0m-24 3h0m70 0h0m-31 2h0m-19 1h0m16 8h0" stroke="#4c0c6b" stroke-width="6.0" stroke-linecap="round" fill="none"/><path d="M1694 517h0m70 2h0m13 1h0m-67 8h0m48 2h0m-62 3h0m98 8h0m-100 2h0m58 1h0m-132 4h0m103 0h0m77 0h0m-11 3h0m22 0h0m7 0h0m-155 3h0m152 0h0m-133 5h0m76 2h0m42 0h0m-127 2h0m78 0h0m43 1h0m5 3h0m-92 1h0m36 2h0m-54 2h0m9 2h0m-34 2h0m84 5h0m-95 6h0m41 3h0m30 0h0m61 5h0m45 0h0m-165 5h0m144 6h0m25 0h0m-162 1h0m128 3h0m14 0h0m-60 2h0m36 1h0m18 1h0m-127 2h0m149 0h0m-166 3h0m143 1h0m-105 8h0m50 0h0m79 1h0m-169 2h0m118 0h0m-90 4h0m-23 1h0m86 2h0m3 0h0m13 1h0m-26 5h0m62 2h0m-18 1h0m-78 1h0m101 1h0m-85 5h0m46 2h0m-62 2h0m45 2h0m-21 3h0m69 4h0m21 4h0m-25 2h0m-93 5h0m113 0h0m-46 6h0m-36 2h0m-54 6h0m113 1h0m-72 3h0m10 3h0m-21 3h0m46 5h0m-5 3h0m5 2h0m-63 1h0m20 0h0m-10 3h0m29 0h0m-32 4h0m3 0h0m12 3h0m31 4h0m32 6h0m-81 6h0m-44 6h0m47 1h0m46 1h0m15 0h0m-2 8h0m-28 4h0m22 4h0m-43 4h0m45 6h0m-381 10h0m-22 1h0m301 1h0m36 0h0m-341 1h0m58 2h0m293 2h0m-79 1h0m51 2h0m-23 1h0m-67 7h0m-153 1h0m7 4h0m203 0h0m-99 1h0m54 0h0m14 2h0m-54 8h0m3 3h0m-19 1h0m98 0h0m-76 1h0m-85 4h0m133 0h0m-173 1h0m-51 1h0m154 0h0m28 2h0m14 1h0m-117 2h0m-12 3h0m19 1h0m187 0h0m-86 3h0m-15 1h0m16 0h0m-168 4h0m201 0h0m-20 3h0m-147 2h0m40 0h0m118 2h0m-2 2h0m38 1h0m-93 1h0m-21 4h0m-8 1h0m-43 1h0m-59 2h0m144 3h0m-177 4h0m26 0h0m38 2h0m71 1h0m107 0h0m-211 1h0m7 0h0m94 0h0m-137 4h0m36 0h0m28 1h0m134 2h0m3 1h0m-33 2h0m24 0h0m27 0h0m-225 1h0m58 1h0m72 3h0m34 0h0m52 1h0m-102 3h0m140 0h0m-236 1h0m230 0h0m-48 2h0m-54 2h0m31 0h0m25 9h0m-73 1h0m9 3h0m48 3h0m-111 5h0m10 2h0m-9 2h0m-46 2h0m64 4h0m20 0h0m29 0h0m-9 1h0m53 0h0m-107 5h0m76 0h0m20 1h0" stroke="#61136e" stroke-width="6.0" stroke-linecap="round" fill="none"/><path d="M1708 507h0m9 10h0m-7 1h0m21 6h0m43 13h0m-110 8h0m-17 3h0m60 1h0m-46 4h0m113 2h0m-83 2h0m91 9h0m-130 10h0m13 7h0m156 6h0m-170 11h0m54 0h0m43 1h0m4 1h0m-37 4h0m-25 2h0m73 1h0m-95 4h0m131 1h0m-136 1h0m153 0h0m-104 5h0m9 4h0m52 5h0m-116 5h0m35 1h0m111 1h0m-133 3h0m95 2h0m-30 6h0m-58 3h0m-20 1h0m102 3h0m67 0h0m-51 1h0m5 0h0m-32 4h0m78 2h0m-32 13h0m-124 3h0m61 0h0m75 1h0m-84 4h0m0 2h0m5 7h0m-46 4h0m49 24h0m26 3h0m-21 3h0m-75 14h0m22 6h0m-312 4h0m385 7h0m-57 8h0m-356 2h0m389 3h0m-38 2h0m20 3h0m8 1h0m2 7h0m-12 7h0m-71 4h0m23 4h0m-87 5h0m28 0h0m61 2h0m-122 11h0m-77 3h0m88 1h0m64 0h0m6 0h0m-135 3h0m-5 1h0m59 0h0m-105 3h0m122 7h0m21 5h0m87 0h0m-40 2h0m-261 2h0m136 1h0m71 17h0m-84 4h0m27 0h0m96 5h0m-82 2h0m40 0h0m3 3h0m-123 6h0m142 10h0m-110 7h0m55 7h0m-109 1h0m159 4h0m-199 23h0" stroke="#751b6e" stroke-width="6.0" stroke-linecap="round" fill="none"/><path d="M1772 519h0m-5 5h0m-42 3h0m17 1h0m-49 2h0m86 0h0m-43 6h0m-58 2h0m9 4h0m92 0h0m-19 3h0m-40 1h0m32 0h0m-49 5h0m-4 5h0m88 0h0m-115 1h0m80 4h0m13 0h0m-104 2h0m94 0h0m-54 1h0m40 0h0m-38 3h0m33 3h0m-71 9h0m10 0h0m140 0h0m-74 5h0m47 3h0m-98 3h0m144 0h0m-31 3h0m-39 1h0m56 3h0m-26 5h0m-143 1h0m57 2h0m59 1h0m37 0h0m-135 4h0m114 1h0m-129 2h0m31 4h0m141 6h0m-92 2h0m-74 1h0m9 0h0m-13 3h0m118 4h0m-108 4h0m162 7h0m-105 1h0m46 0h0m62 4h0m-171 2h0m163 0h0m-159 1h0m142 3h0m0 1h0m24 2h0m-42 2h0m-110 4h0m35 1h0m-51 2h0m14 3h0m104 0h0m15 2h0m10 1h0m-121 2h0m81 8h0m-62 1h0m32 0h0m48 5h0m-94 6h0m121 2h0m-24 1h0m-104 2h0m17 0h0m23 7h0m-8 3h0m47 3h0m36 5h0m-72 4h0m-12 8h0m8 3h0m-54 2h0m69 23h0m-8 12h0m-32 13h0m-54 15h0m-245 1h0m3 1h0m170 7h0m-134 4h0m-82 6h0m131 0h0m127 23h0m-84 1h0m32 9h0m-111 2h0m83 8h0m65 13h0m-80 5h0m58 1h0m-55 3h0m66 0h0m-113 1h0m34 5h0m-117 11h0m107 4h0m87 5h0m-123 1h0m8 0h0m45 3h0m-52 1h0m107 9h0m-51 10h0m28 3h0m-126 2h0" stroke="#8a226a" stroke-width="6.0" stroke-linecap="round" fill="none"/><path d="M1681 525h0m33 19h0m11 3h0m2 2h0m-32 6h0m18 3h0m89 11h0m15 12h0m15 4h0m-82 1h0m-44 1h0m86 5h0m-69 3h0m80 0h0m23 13h0m-90 2h0m11 2h0m86 3h0m-117 4h0m99 6h0m-140 5h0m65 1h0m-47 11h0m-7 1h0m-8 14h0m84 10h0m2 9h0m-12 13h0m-73 1h0m83 4h0m-45 9h0m-48 10h0m60 18h0m-30 1h0m7 2h0m40 3h0m-16 5h0m-17 7h0m-31 17h0m33 5h0m-74 17h0m-45 10h0m-38 2h0m40 3h0m-222 15h0m259 5h0m-263 2h0m282 1h0m-16 3h0m-215 2h0m-31 1h0m154 0h0m48 2h0m-222 4h0m281 0h0m-160 3h0m123 2h0m-114 1h0m114 0h0m-46 3h0m-64 1h0m-126 6h0m184 2h0m77 4h0m-142 9h0m-94 2h0m-20 4h0m101 13h0m76 2h0m-21 9h0m-48 1h0m12 3h0m51 0h0m56 0h0m-149 3h0m-43 8h0m134 2h0m6 4h0m-133 2h0m49 2h0m38 4h0m-16 3h0" stroke="#9d2964" stroke-width="6.0" stroke-linecap="round" fill="none"/><path d="M1705 509h0m23 12h0m1 42h0m22 28h0m44 21h0m-67 3h0m19 24h0m-17 6h0m42 3h0m-73 20h0m1 21h0m-34 38h0m-59 61h0m36 15h0m-217 11h0m16 1h0m171 2h0m-8 2h0m-114 14h0m134 14h0m9 2h0m9 6h0m-183 1h0m132 2h0m-159 17h0m109 8h0m-93 2h0m97 25h0m-25 1h0m-20 13h0m30 4h0m-122 3h0" stroke="#b1325a" stroke-width="6.0" stroke-linecap="round" fill="none"/><path d="M1701 525h0m-27 24h0m65 37h0m-11 16h0m105 60h0m-133 2h0m67 12h0m28 2h0m4 4h0m-68 33h0m27 4h0" stroke="#c43c4e" stroke-width="6.0" stroke-linecap="round" fill="none"/><path d="M1732 520h0m-6 9h0m97 31h0m-108 2h0m48 73h0m-90 51h0m4 1h0m-167 141h0m18 89h0" stroke="#d54a41" stroke-width="6.0" stroke-linecap="round" fill="none"/><path d="M1673 543h0m87 22h0m-92 8h0m-6 4h0m62 20h0m-76 1h0m61 12h0m120 3h0m-100 25h0m-385 7h0m-17 9h0m9 15h0m1 10h0m479 11h0m-120 47h0m14 1h0m-54 16h0m-69 74h0m36 14h0" stroke="#e45a31" stroke-width="6.0" stroke-linecap="round" fill="none"/><path d="M1715 531h0m49 56h0m-1 35h0m39 37h0m-473 1h0m487 8h0m-123 56h0m46 32h0" stroke="#ef6c23" stroke-width="6.0" stroke-linecap="round" fill="none"/><path d="M1769 566h0m51 56h0m-485 31h0m10 7h0m-5 4h0m-13 2h0m15 1h0m453 29h0m-455 16h0m3 20h0m427 12h0m-414 26h0m205 91h0m46 29h0m-69 33h0" stroke="#f78212" stroke-width="6.0" stroke-linecap="round" fill="none"/><path d="M1339 656h0m-7 16h0m16 1h0" stroke="#fb9906" stroke-width="6.0" stroke-linecap="round" fill="none"/><path d="M1348 652h0m-3 21h0m-5 2h0" stroke="#fcb216" stroke-width="6.0" stroke-linecap="round" fill="none"/><path d="M1346 680h0" stroke="#f9cb35" stroke-width="6.0" stroke-linecap="round" fill="none"/><path d="M1348 665h0" stroke="#f3e35a" stroke-width="6.0" stroke-linecap="round" fill="none"/><path d="M1734 515h0m-34 19h0m-46 16h0m74 20h0m16 4h0m1 12h0m55 15h0m-110 13h0m63 8h0m30 4h0m-13 9h0m-53 8h0m104 0h0m-118 1h0m123 0h0m-53 12h0m33 11h0m18 1h0m-73 3h0m-35 3h0m-54 2h0m32 2h0m67 5h0m-14 8h0m11 2h0m-79 1h0m118 1h0m-50 19h0m4 39h0m2 1h0m-32 1h0m41 8h0m-129 12h0m-280 5h0m282 1h0m87 0h0m-331 1h0m-48 1h0m19 2h0m59 8h0m-49 3h0m40 3h0m-36 6h0m251 1h0m-255 1h0m69 2h0m147 0h0m-228 1h0m251 0h0m-243 3h0m98 0h0m94 0h0m67 0h0m-238 1h0m-44 1h0m113 0h0m-97 1h0m16 0h0m198 1h0m-42 1h0m-96 1h0m126 3h0m-20 2h0m4 0h0m92 0h0m-240 4h0m65 1h0m121 0h0m-198 2h0m100 0h0m112 0h0m41 1h0m-280 1h0m-9 1h0m2 0h0m96 0h0m-92 1h0m31 3h0m130 1h0m131 5h0m-206 1h0m-62 1h0m106 0h0m47 1h0m-101 1h0m21 0h0m-91 1h0m-11 1h0m2 0h0m299 1h0m-274 1h0m6 0h0m87 0h0m182 2h0m-131 1h0m-138 1h0m30 0h0m194 0h0m-210 5h0m126 2h0m88 1h0m-217 5h0m-39 1h0m135 0h0m-118 3h0m146 0h0m43 0h0m-170 1h0m34 2h0m-20 1h0m31 1h0m32 0h0m-102 1h0m225 0h0m-232 3h0m65 1h0m50 5h0m-46 2h0m49 0h0m32 3h0m-141 2h0m118 0h0m3 2h0m-112 2h0m46 0h0m49 0h0m-52 1h0m40 0h0m0 3h0m60 1h0m-129 2h0m204 0h0m-222 1h0m5 0h0m90 0h0m-85 1h0m-11 1h0m49 1h0m20 0h0m-20 2h0m87 1h0m-53 1h0m57 2h0m-78 2h0m-37 1h0m22 0h0m-42 1h0m9 0h0m9 0h0m16 1h0m77 3h0m-90 4h0m147 1h0m-95 1h0m-27 3h0m-15 2h0m11 11h0m21 0h0m-25 6h0m16 3h0" stroke="#02020e" stroke-width="6.0" stroke-linecap="round" fill="none"/><path d="M1720 516h0m2 8h0m-37 10h0m85 5h0m-100 1h0m62 7h0m19 4h0m2 0h0m46 0h0m-86 2h0m-47 1h0m139 0h0m-33 5h0m0 11h0m-104 7h0m118 1h0m-34 1h0m57 1h0m-5 5h0m28 4h0m-148 2h0m13 2h0m68 8h0m-72 4h0m32 4h0m52 7h0m35 0h0m-10 2h0m18 2h0m-75 2h0m31 4h0m17 0h0m-142 2h0m138 3h0m-116 1h0m13 0h0m38 2h0m-23 7h0m14 7h0m46 3h0m6 4h0m46 2h0m-122 1h0m-342 2h0m388 5h0m-388 2h0m323 4h0m88 1h0m25 9h0m-111 1h0m112 0h0m-8 1h0m-73 4h0m88 4h0m18 1h0m-43 3h0m-55 2h0m-62 2h0m124 13h0m-78 1h0m-25 1h0m10 0h0m34 7h0m46 0h0m28 3h0m-15 10h0m-34 12h0m-67 3h0m72 0h0m17 3h0m-2 4h0m-112 1h0m99 8h0m-16 4h0m-91 1h0m37 1h0m-280 8h0m-49 4h0m9 3h0m281 1h0m-299 3h0m26 0h0m6 2h0m231 1h0m-251 1h0m290 1h0m-59 1h0m-239 2h0m82 4h0m-2 3h0m4 0h0m150 1h0m-207 3h0m-14 3h0m234 0h0m7 0h0m-34 1h0m-216 2h0m104 0h0m-64 1h0m172 0h0m-132 1h0m112 0h0m-175 1h0m52 0h0m70 1h0m41 0h0m-183 1h0m45 0h0m-26 4h0m175 0h0m-92 1h0m11 0h0m-105 2h0m5 1h0m126 0h0m-64 1h0m49 0h0m178 0h0m-32 4h0m-241 2h0m51 0h0m77 0h0m95 2h0m-233 4h0m40 0h0m47 0h0m16 0h0m49 4h0m106 1h0m-224 1h0m-46 1h0m302 0h0m-31 1h0m-244 2h0m39 1h0m18 0h0m-38 2h0m6 3h0m232 0h0m-238 2h0m-40 2h0m89 0h0m199 2h0m-147 3h0m-74 1h0m-43 1h0m238 2h0m5 1h0m-266 4h0m183 1h0m-143 1h0m91 0h0m131 0h0m-222 2h0m189 0h0m-114 3h0m82 2h0m-77 3h0m-40 1h0m34 7h0m66 1h0m-71 1h0m40 0h0m4 0h0m-137 1h0m61 0h0m138 1h0m-77 2h0m18 1h0m-69 5h0m8 0h0m33 2h0m-108 1h0m7 0h0m88 3h0m43 4h0m-114 2h0m32 1h0m24 0h0m92 2h0m-172 1h0m36 4h0m124 0h0m-40 2h0m-96 3h0m12 0h0m23 9h0m-22 4h0" stroke="#0e092b" stroke-width="6.0" stroke-linecap="round" fill="none"/><path d="M1707 514h0m-15 13h0m8 11h0m32 3h0m-49 1h0m35 8h0m2 5h0m23 3h0m63 0h0m-71 1h0m-13 1h0m17 0h0m-79 1h0m67 0h0m-3 3h0m-17 3h0m-56 2h0m169 2h0m-30 11h0m-18 6h0m-14 7h0m-9 6h0m58 5h0m-130 2h0m64 7h0m60 2h0m-46 9h0m-56 1h0m115 0h0m-76 10h0m64 2h0m-103 2h0m12 1h0m73 0h0m-120 1h0m139 2h0m-130 3h0m98 3h0m-100 6h0m40 5h0m5 4h0m10 5h0m90 13h0m-84 4h0m-52 1h0m-326 11h0m364 1h0m24 1h0m-36 3h0m76 0h0m-119 9h0m73 0h0m-11 3h0m14 28h0m-397 15h0m303 20h0m-133 40h0m91 11h0m61 1h0m-43 10h0m-93 37h0m70 0h0m12 4h0m-59 1h0m29 2h0m-51 10h0m35 14h0m-35 17h0" stroke="#210c4a" stroke-width="6.0" stroke-linecap="round" fill="none"/><path d="M1690 513h0m92 3h0m0 2h0m-17 1h0m-9 9h0m-66 18h0m32 0h0m67 8h0m-91 5h0m96 0h0m-19 4h0m-116 3h0m104 1h0m-90 3h0m18 3h0m-16 1h0m88 9h0m-106 5h0m73 5h0m14 1h0m-86 8h0m101 1h0m-107 6h0m146 6h0m-125 2h0m35 2h0m66 1h0m62 3h0m-153 1h0m64 8h0m-11 5h0m32 5h0m-81 5h0m-15 5h0m46 1h0m98 0h0m-17 4h0m-6 12h0m-464 4h0m364 1h0m94 6h0m-40 25h0m38 4h0m-21 1h0m-86 3h0m60 11h0m-21 12h0m13 1h0m1 19h0m3 11h0m-60 11h0m-335 7h0m51 4h0m-27 1h0m4 2h0m-21 1h0m18 3h0m265 0h0m-66 3h0m-131 4h0m213 1h0m-248 1h0m252 0h0m-250 3h0m206 2h0m24 5h0m-242 7h0m125 1h0m-153 2h0m212 2h0m-210 2h0m239 1h0m-162 6h0m149 0h0m-223 2h0m170 2h0m-101 4h0m170 13h0m-169 3h0m89 0h0m61 4h0m-183 1h0m233 1h0m-243 4h0m218 0h0m-175 2h0m100 0h0m-152 2h0m5 0h0m235 6h0m-9 1h0m-130 2h0m-22 2h0m110 5h0m-111 3h0m-89 9h0m5 1h0m28 1h0m198 0h0m-113 2h0m83 2h0m-140 1h0m26 1h0m-82 2h0m193 5h0m-132 2h0m-7 14h0m21 7h0m-15 2h0m-16 9h0" stroke="#360961" stroke-width="6.0" stroke-linecap="round" fill="none"/><path d="M1762 513h0m-1 1h0m-39 4h0m26 0h0m-68 3h0m5 3h0m-5 2h0m2 3h0m3 7h0m66 0h0m-64 6h0m95 0h0m-83 6h0m84 2h0m10 0h0m-43 7h0m23 0h0m-10 1h0m-67 1h0m73 1h0m49 0h0m-2 1h0m-128 2h0m45 0h0m-31 2h0m113 3h0m-40 1h0m-28 2h0m-28 2h0m-63 3h0m161 2h0m-92 2h0m74 0h0m-120 1h0m8 0h0m144 1h0m-141 3h0m73 0h0m-91 1h0m61 1h0m63 1h0m-101 8h0m9 0h0m-45 1h0m38 0h0m58 1h0m3 0h0m-47 1h0m22 0h0m85 2h0m-7 2h0m-118 1h0m36 2h0m54 1h0m-82 2h0m124 0h0m-180 2h0m74 0h0m13 0h0m78 1h0m-117 1h0m116 8h0m-162 6h0m111 1h0m-17 2h0m15 2h0m-71 1h0m19 2h0m71 0h0m-48 3h0m99 1h0m-137 5h0m-20 3h0m111 2h0m-64 3h0m-17 3h0m56 0h0m56 4h0m-153 5h0m47 0h0m60 1h0m-37 2h0m72 7h0m-64 5h0m9 2h0m67 3h0m-50 3h0m-16 2h0m-50 4h0m31 7h0m-32 2h0m74 0h0m-90 2h0m93 0h0m27 6h0m-106 1h0m96 6h0m-127 5h0m9 1h0m56 7h0m-57 6h0m32 0h0m19 0h0m-19 4h0m53 1h0m-39 3h0m-7 3h0m9 1h0m5 5h0m-9 1h0m39 3h0m-39 8h0m-62 2h0m67 6h0m19 2h0m-356 10h0m-13 2h0m250 5h0m18 3h0m-246 2h0m243 3h0m-227 1h0m9 1h0m173 0h0m-234 2h0m329 0h0m-335 1h0m240 1h0m9 0h0m-187 2h0m159 1h0m-26 1h0m31 0h0m64 0h0m-294 1h0m333 0h0m-87 1h0m-176 3h0m5 0h0m27 2h0m145 1h0m-205 2h0m74 2h0m145 2h0m-227 1h0m109 1h0m61 1h0m59 5h0m-228 3h0m234 2h0m-222 1h0m104 0h0m119 0h0m-83 2h0m81 2h0m-248 2h0m44 0h0m48 0h0m37 0h0m92 0h0m24 0h0m-139 1h0m-30 1h0m-20 2h0m201 0h0m-200 3h0m180 0h0m-25 1h0m-24 1h0m-99 1h0m115 0h0m-153 1h0m197 0h0m2 0h0m-129 1h0m43 1h0m116 0h0m-77 2h0m-77 3h0m-31 3h0m42 0h0m99 1h0m-165 3h0m19 0h0m-34 1h0m6 1h0m140 1h0m18 2h0m-143 1h0m78 1h0m-104 1h0m109 0h0m-155 4h0m260 0h0m-220 3h0m177 2h0m-31 1h0m18 0h0m56 1h0m-12 1h0m-249 1h0m254 1h0m-107 3h0m-19 1h0m-66 1h0m59 0h0m25 0h0m88 0h0m6 0h0m-37 1h0m18 1h0m-108 3h0m-29 1h0m120 1h0m-62 2h0m78 0h0m-198 2h0m13 4h0m133 2h0m-94 3h0m103 0h0m-101 7h0m4 1h0m-50 3h0m86 0h0m70 2h0m-166 2h0m45 4h0m-14 2h0m-16 5h0" stroke="#4c0c6b" stroke-width="6.0" stroke-linecap="round" fill="none"/><path d="M1722 504h0m-4 3h0m13 8h0m20 6h0m-34 1h0m20 2h0m51 1h0m-61 3h0m-52 4h0m74 1h0m-83 5h0m49 1h0m37 1h0m-74 2h0m3 3h0m-21 1h0m32 1h0m71 0h0m-23 2h0m31 0h0m25 3h0m-27 2h0m-104 11h0m129 1h0m25 0h0m-108 1h0m-12 3h0m-41 1h0m27 1h0m28 0h0m-63 2h0m15 0h0m45 1h0m57 3h0m-64 4h0m71 2h0m-96 3h0m18 0h0m36 1h0m-11 1h0m79 1h0m-153 5h0m12 1h0m85 0h0m24 0h0m39 0h0m-99 1h0m108 3h0m-51 4h0m-120 1h0m98 2h0m36 1h0m31 0h0m-101 2h0m108 2h0m-53 1h0m-108 4h0m115 1h0m14 0h0m-27 1h0m23 1h0m16 2h0m37 0h0m-64 2h0m39 1h0m0 3h0m-30 1h0m17 6h0m34 0h0m-4 1h0m-43 1h0m10 0h0m-115 3h0m50 3h0m-48 3h0m29 2h0m107 0h0m-110 5h0m43 1h0m-19 1h0m72 1h0m-64 4h0m41 0h0m14 0h0m36 0h0m-57 6h0m-28 5h0m-39 2h0m59 0h0m-82 1h0m61 3h0m-66 2h0m114 0h0m-107 7h0m76 0h0m34 2h0m-48 2h0m-5 4h0m-68 2h0m1 0h0m86 9h0m26 1h0m-103 1h0m5 3h0m15 0h0m41 0h0m39 0h0m-33 2h0m-13 3h0m42 4h0m-56 2h0m18 4h0m-54 2h0m83 0h0m13 1h0m-21 2h0m-9 5h0m-17 3h0m27 3h0m-43 3h0m-58 3h0m96 0h0m-27 3h0m11 0h0m-91 1h0m54 10h0m19 5h0m11 0h0m-17 2h0m-80 10h0m-14 1h0m87 5h0m15 1h0m-59 1h0m-53 7h0m-35 2h0m34 2h0m-265 3h0m2 1h0m226 1h0m-147 11h0m30 0h0m129 1h0m18 2h0m-28 1h0m-57 1h0m43 0h0m-22 2h0m-110 2h0m15 1h0m58 1h0m97 0h0m-139 2h0m96 0h0m-64 1h0m134 1h0m-134 1h0m-133 2h0m115 0h0m-30 2h0m-15 2h0m94 0h0m39 1h0m18 0h0m7 0h0m-152 1h0m61 2h0m-26 2h0m136 0h0m-58 3h0m12 0h0m-72 1h0m106 3h0m-188 2h0m110 0h0m87 1h0m-166 3h0m-69 1h0m56 2h0m149 1h0m-131 1h0m8 1h0m14 0h0m21 0h0m-98 1h0m226 1h0m-121 1h0m-91 1h0m-21 1h0m198 1h0m15 0h0m-132 1h0m140 0h0m-223 2h0m32 0h0m92 0h0m138 4h0m-77 1h0m-105 1h0m70 0h0m-152 1h0m9 2h0m162 1h0m-111 3h0m51 1h0m13 4h0m51 0h0m-137 1h0m130 0h0m18 0h0m43 1h0m-154 2h0m102 0h0m-35 1h0m27 0h0m-167 2h0m85 0h0m139 0h0m-214 1h0m175 2h0m9 0h0m-71 2h0m84 1h0m-7 1h0m-8 5h0m-73 1h0m22 3h0m27 3h0m-116 1h0m62 0h0m3 0h0m48 0h0m-63 2h0m49 0h0m-146 1h0m1 6h0m127 0h0m-120 8h0m52 1h0m19 1h0m67 0h0m-94 3h0m-7 1h0m-17 1h0m-12 2h0m11 2h0m21 0h0" stroke="#61136e" stroke-width="6.0" stroke-linecap="round" fill="none"/><path d="M1700 511h0m22 1h0m20 20h0m5 7h0m-127 2h0m116 5h0m-73 1h0m132 9h0m13 6h0m-114 7h0m99 5h0m9 2h0m-90 2h0m26 5h0m42 0h0m27 0h0m-148 1h0m113 1h0m-14 4h0m-21 1h0m54 0h0m-89 1h0m72 4h0m-97 1h0m82 5h0m-61 1h0m-37 2h0m16 1h0m97 0h0m14 5h0m-16 6h0m-18 3h0m-98 2h0m153 1h0m-128 5h0m143 2h0m-34 7h0m-95 1h0m69 0h0m-13 8h0m-32 9h0m13 12h0m-20 2h0m-53 4h0m76 3h0m28 7h0m-43 2h0m15 4h0m73 2h0m-63 9h0m35 2h0m-30 1h0m29 8h0m-28 12h0m-34 6h0m31 5h0m9 3h0m0 13h0m-413 13h0m416 2h0m-87 7h0m67 2h0m-4 6h0m-390 1h0m38 0h0m258 2h0m-5 6h0m-245 6h0m174 11h0m-16 1h0m17 1h0m3 10h0m-1 1h0m72 5h0m-181 5h0m77 2h0m-146 4h0m233 2h0m-81 3h0m107 1h0m-49 1h0m17 0h0m-191 6h0m145 5h0m-30 1h0m7 5h0m93 0h0m-72 2h0m-33 6h0m-172 2h0m148 1h0m34 1h0m98 0h0m-81 2h0m56 1h0m-36 1h0m-130 3h0m172 0h0m-20 2h0m-62 2h0m-139 1h0m-28 3h0m54 8h0m69 1h0m25 2h0m79 2h0m-96 4h0m-70 15h0m94 7h0m-64 2h0m-4 1h0m-51 5h0m133 0h0m-143 12h0" stroke="#751b6e" stroke-width="6.0" stroke-linecap="round" fill="none"/><path d="M1780 516h0m-43 1h0m34 9h0m-96 1h0m119 0h0m-117 2h0m80 1h0m24 3h0m-58 2h0m17 2h0m-12 2h0m40 3h0m-103 5h0m97 14h0m-78 2h0m105 0h0m-17 1h0m39 4h0m-17 1h0m-64 4h0m40 1h0m21 1h0m-133 5h0m122 0h0m34 3h0m5 0h0m-88 1h0m51 0h0m-131 2h0m83 4h0m55 1h0m-93 1h0m20 1h0m110 0h0m-44 6h0m48 4h0m-155 2h0m13 1h0m51 2h0m86 3h0m-113 4h0m-14 2h0m54 0h0m39 1h0m-20 2h0m-92 1h0m62 0h0m-63 1h0m36 0h0m84 0h0m22 3h0m-70 2h0m59 5h0m-78 1h0m-22 1h0m56 1h0m70 1h0m-7 4h0m-41 3h0m-41 2h0m-3 6h0m36 5h0m-26 2h0m-36 2h0m-61 1h0m149 0h0m-131 2h0m162 1h0m-40 3h0m-70 6h0m-26 5h0m69 3h0m41 0h0m-20 5h0m-61 5h0m-19 4h0m-3 2h0m84 2h0m-113 1h0m18 4h0m57 2h0m-54 1h0m19 0h0m11 2h0m-22 2h0m69 8h0m-66 2h0m21 1h0m37 8h0m-43 14h0m-31 3h0m35 2h0m-8 15h0m1 1h0m-94 9h0m9 7h0m-227 9h0m276 2h0m-123 10h0m53 2h0m14 3h0m-173 8h0m-78 1h0m138 1h0m-152 2h0m246 5h0m-62 5h0m-18 10h0m30 0h0m-24 5h0m-35 12h0m16 3h0m20 0h0m-69 1h0m23 7h0m19 6h0m101 0h0m-76 9h0m11 3h0m-12 2h0m-153 1h0m160 0h0m-44 30h0m-9 1h0m38 0h0m-21 8h0m-30 2h0" stroke="#8a226a" stroke-width="6.0" stroke-linecap="round" fill="none"/><path d="M1743 534h0m-32 5h0m-11 4h0m-23 6h0m-28 11h0m138 0h0m-94 4h0m-9 3h0m-24 5h0m1 1h0m24 8h0m21 3h0m12 0h0m102 1h0m-98 1h0m-68 13h0m125 2h0m36 1h0m14 4h0m-35 2h0m-99 2h0m5 3h0m85 21h0m39 0h0m-62 20h0m32 0h0m28 4h0m-124 4h0m109 2h0m8 1h0m-8 5h0m-79 3h0m90 4h0m-131 3h0m64 3h0m63 0h0m-34 2h0m-88 2h0m27 7h0m12 2h0m-41 10h0m-20 3h0m51 4h0m44 3h0m-18 1h0m-32 16h0m-7 7h0m26 0h0m-86 17h0m-7 9h0m-23 15h0m-16 6h0m-12 2h0m38 1h0m-53 7h0m1 1h0m27 7h0m-224 2h0m206 6h0m-210 1h0m264 2h0m-158 1h0m121 2h0m6 3h0m-211 11h0m80 1h0m75 3h0m-97 4h0m4 0h0m-45 5h0m-18 1h0m241 1h0m-252 1h0m-19 2h0m193 3h0m-122 2h0m79 5h0m55 1h0m-28 1h0m50 3h0m-8 3h0m-35 3h0m-162 2h0m205 3h0m-41 4h0m71 5h0m-194 7h0m81 14h0m-106 17h0m132 1h0m-82 5h0" stroke="#9d2964" stroke-width="6.0" stroke-linecap="round" fill="none"/><path d="M1756 533h0m-86 2h0m49 10h0m51 4h0m-76 3h0m64 17h0m29 0h0m-64 5h0m100 12h0m4 9h0m-55 18h0m-72 8h0m110 15h0m-77 17h0m-37 10h0m10 0h0m70 66h0m-118 12h0m78 37h0m-148 18h0m86 24h0m-142 5h0m96 0h0m-174 2h0m-9 24h0m173 6h0m-24 12h0m-177 15h0m166 2h0m-175 2h0m46 5h0m51 1h0m92 11h0m-79 7h0m-53 6h0m-27 8h0m70 9h0" stroke="#b1325a" stroke-width="6.0" stroke-linecap="round" fill="none"/><path d="M1699 514h0m101 25h0m2 0h0m20 30h0m-114 9h0m68 8h0m-16 17h0m-62 2h0m121 14h0m-22 8h0m-132 4h0m142 5h0m-118 20h0m-20 14h0m71 11h0m45 19h0m-44 40h0m9 16h0" stroke="#c43c4e" stroke-width="6.0" stroke-linecap="round" fill="none"/><path d="M1781 529h0m-107 18h0m-19 20h0m8 0h0m99 9h0m33 4h0m17 42h0m-40 24h0m-106 8h0m75 20h0m-18 38h0m61 21h0m-199 106h0" stroke="#d54a41" stroke-width="6.0" stroke-linecap="round" fill="none"/><path d="M1767 511h0m-62 15h0m-27 37h0m99 2h0m-107 34h0m52 39h0m83 27h0m-98 7h0m-358 4h0m421 47h0m-234 99h0m102 12h0m-69 50h0" stroke="#e45a31" stroke-width="6.0" stroke-linecap="round" fill="none"/><path d="M1718 583h0m30 0h0m-2 3h0m33 9h0m-442 59h0m-10 15h0m480 28h0m-203 157h0" stroke="#ef6c23" stroke-width="6.0" stroke-linecap="round" fill="none"/><path d="M1805 648h0m-470 7h0m361 15h0m54 23h0m23 5h0m-432 19h0m1 7h0m6 14h0m-3 35h0m205 43h0m114 4h0" stroke="#f78212" stroke-width="6.0" stroke-linecap="round" fill="none"/><path d="M1332 660h0m11 2h0m0 21h0" stroke="#fb9906" stroke-width="6.0" stroke-linecap="round" fill="none"/><path d="M1345 649h0m-17 15h0" stroke="#fcb216" stroke-width="6.0" stroke-linecap="round" fill="none"/><path d="M1338 650h0m-15 17h0m20 6h0m-3 7h0" stroke="#f9cb35" stroke-width="6.0" stroke-linecap="round" fill="none"/><path d="M1484.7 1424.4L1483.4 1412.3L1480.4 1395.1L1476.4 1386.2L1460.6 1383.2L1460.5 1383.2L1441.3 1379.0L1441.1 1378.9L1440.9 1378.9L1440.7 1378.8L1440.5 1378.7L1428.5 1370.2L1428.4 1370.1L1411.7 1357.6L1400.2 1351.4L1386.4 1348.4L1370.1 1351.5L1370.0 1351.5L1355.6 1353.7L1355.4 1353.7L1355.2 1353.7L1355.0 1353.7L1354.8 1353.6L1354.6 1353.6L1354.4 1353.5L1354.2 1353.4L1354.1 1353.3L1353.9 1353.2L1353.8 1353.1L1345.8 1345.0L1345.7 1344.9L1345.6 1344.8L1345.5 1344.6L1345.4 1344.4L1345.4 1344.3L1345.3 1344.1L1344.1 1334.3L1341.1 1334.3L1339.9 1344.0L1339.2 1358.3L1339.2 1358.4L1336.8 1377.1L1341.4 1387.2L1347.5 1400.0L1347.5 1400.1L1347.6 1400.3L1352.3 1421.4L1352.4 1421.5L1354.7 1438.2L1361.8 1452.9L1371.5 1471.9L1371.5 1472.0L1378.7 1488.8L1385.7 1501.1L1399.7 1511.4L1413.8 1519.8L1427.6 1524.9L1441.1 1522.8L1455.0 1516.7L1468.0 1503.7L1468.1 1503.5L1468.3 1503.4L1468.4 1503.3L1468.6 1503.2L1468.8 1503.1L1480.5 1499.7L1489.4 1495.0L1490.3 1482.1L1489.3 1464.7L1487.5 1448.8L1487.3 1450.0L1487.3 1450.2L1487.2 1450.3L1487.1 1450.5L1487.0 1450.6L1486.9 1450.7L1486.8 1450.9L1486.7 1451.0L1486.6 1451.1L1477.6 1457.2L1477.5 1457.3L1477.3 1457.4L1477.1 1457.5L1476.9 1457.5L1476.7 1457.6L1476.5 1457.6L1476.4 1457.6L1476.2 1457.6L1476.0 1457.5L1475.8 1457.5L1475.6 1457.4L1475.4 1457.4L1475.3 1457.3L1475.1 1457.2L1475.0 1457.0L1474.8 1456.9L1474.7 1456.8L1474.6 1456.6L1468.7 1446.1L1468.6 1446.0L1468.5 1445.8L1468.5 1445.7L1468.5 1445.5L1468.5 1445.3L1468.5 1424.3L1468.5 1424.2L1468.5 1424.0L1468.5 1423.8L1468.6 1423.7L1468.7 1423.5L1468.8 1423.4L1468.9 1423.2L1469.1 1423.1L1469.2 1423.0L1469.4 1422.9L1469.5 1422.8L1469.7 1422.7L1469.9 1422.7L1470.1 1422.6L1481.0 1420.9L1481.2 1420.9L1481.4 1420.9L1481.6 1420.9L1481.8 1420.9L1482.0 1420.9L1482.1 1421.0L1482.3 1421.1L1482.5 1421.2L1482.6 1421.3L1482.8 1421.4L1482.9 1421.5L1483.0 1421.6L1483.1 1421.8ZM1452.8 1432.1L1452.7 1432.0L1452.7 1431.8L1452.6 1431.7L1452.6 1431.5L1452.6 1431.3L1452.6 1431.2L1452.6 1431.0L1452.7 1430.9L1452.7 1430.7L1452.8 1430.5L1454.3 1428.1L1454.3 1427.9L1454.5 1427.8L1454.6 1427.7L1454.7 1427.5L1454.9 1427.4L1455.0 1427.3L1455.2 1427.3L1455.4 1427.2L1458.9 1426.2L1459.1 1426.1L1459.3 1426.1L1459.4 1426.1L1459.6 1426.1L1459.8 1426.1L1460.0 1426.1L1460.1 1426.2L1463.7 1427.2L1463.8 1427.3L1464.0 1427.3L1464.2 1427.4L1464.3 1427.5L1464.5 1427.7L1464.6 1427.8L1464.7 1427.9L1464.8 1428.1L1466.3 1430.5L1466.3 1430.7L1466.4 1430.9L1466.4 1431.0L1466.5 1431.2L1466.5 1431.3L1466.5 1431.5L1466.4 1431.7L1466.4 1431.8L1466.3 1432.0L1466.3 1432.1L1464.8 1434.6L1464.7 1434.8L1464.6 1434.9L1464.5 1435.0L1464.3 1435.1L1464.2 1435.3L1464.0 1435.3L1463.8 1435.4L1463.7 1435.5L1460.1 1436.5L1460.0 1436.5L1459.8 1436.6L1459.6 1436.6L1459.4 1436.6L1459.3 1436.6L1459.1 1436.5L1458.9 1436.5L1455.4 1435.5L1455.2 1435.4L1455.0 1435.3L1454.9 1435.3L1454.7 1435.1L1454.6 1435.0L1454.5 1434.9L1454.3 1434.8L1454.3 1434.6ZM1431.3 1463.7L1431.1 1463.7L1431.0 1463.6L1430.8 1463.5L1430.6 1463.4L1430.5 1463.3L1430.4 1463.2L1430.3 1463.0L1430.2 1462.9L1429.0 1461.0L1428.9 1460.9L1428.8 1460.7L1428.8 1460.6L1428.8 1460.4L1428.7 1460.2L1428.8 1460.0L1428.8 1459.9L1428.8 1459.7L1428.9 1459.5L1429.0 1459.4L1430.2 1457.5L1430.3 1457.4L1430.4 1457.2L1430.5 1457.1L1430.6 1457.0L1430.8 1456.9L1431.0 1456.8L1431.1 1456.7L1431.3 1456.7L1434.1 1455.9L1434.3 1455.9L1434.5 1455.8L1434.7 1455.8L1434.9 1455.8L1435.1 1455.9L1435.3 1455.9L1438.1 1456.7L1438.3 1456.7L1438.4 1456.8L1438.6 1456.9L1438.8 1457.0L1438.9 1457.1L1439.0 1457.2L1439.1 1457.4L1439.2 1457.5L1440.4 1459.4L1440.5 1459.5L1440.6 1459.7L1440.6 1459.9L1440.6 1460.0L1440.7 1460.2L1440.6 1460.4L1440.6 1460.6L1440.6 1460.7L1440.5 1460.9L1440.4 1461.0L1439.2 1462.9L1439.1 1463.0L1439.0 1463.2L1438.9 1463.3L1438.8 1463.4L1438.6 1463.5L1438.4 1463.6L1438.3 1463.7L1438.1 1463.7L1435.3 1464.5L1435.1 1464.5L1434.9 1464.6L1434.7 1464.6L1434.5 1464.6L1434.3 1464.5L1434.1 1464.5ZM1410.0 1415.4L1409.4 1415.6L1409.2 1415.6L1409.0 1415.6L1408.8 1415.6L1408.6 1415.6L1408.4 1415.6L1408.2 1415.5L1408.1 1415.4L1407.9 1415.4L1407.7 1415.3L1407.6 1415.2L1407.4 1415.1L1407.3 1414.9L1400.4 1407.1L1400.3 1406.9L1400.2 1406.8L1400.1 1406.6L1395.1 1395.2L1395.1 1395.1L1395.0 1394.9L1395.0 1394.8L1394.0 1384.3L1394.0 1384.1L1394.0 1383.9L1394.0 1383.8L1394.1 1383.6L1394.1 1383.4L1394.2 1383.3L1394.3 1383.2L1394.4 1383.0L1394.6 1382.9L1394.7 1382.8L1394.8 1382.7L1395.0 1382.6L1395.2 1382.5L1395.4 1382.5L1395.5 1382.4L1404.5 1380.7L1404.7 1380.6L1404.8 1380.6L1405.0 1380.6L1405.2 1380.6L1405.4 1380.7L1405.6 1380.7L1405.8 1380.8L1405.9 1380.9L1406.1 1381.0L1417.0 1388.0L1417.1 1388.1L1417.3 1388.2L1417.4 1388.3L1417.5 1388.4L1417.6 1388.6L1417.7 1388.7L1417.7 1388.9L1421.7 1401.1L1421.8 1401.3L1421.8 1401.5L1421.8 1401.7L1421.8 1401.9L1421.7 1402.0L1419.5 1409.9L1419.6 1409.9L1419.8 1409.9L1420.0 1409.9L1420.2 1409.9L1425.8 1410.8L1426.0 1410.9L1426.2 1410.9L1426.4 1411.0L1426.5 1411.1L1426.7 1411.2L1426.9 1411.4L1429.2 1413.5L1429.3 1413.7L1429.4 1413.8L1429.5 1414.0L1429.6 1414.1L1429.7 1414.3L1429.7 1414.5L1429.7 1414.6L1429.7 1414.8L1429.7 1415.0L1429.7 1415.2L1429.6 1415.3L1429.5 1415.5L1429.4 1415.7L1429.3 1415.8L1429.2 1415.9L1426.9 1418.1L1426.7 1418.2L1426.5 1418.3L1426.4 1418.4L1426.2 1418.5L1426.0 1418.6L1425.8 1418.6L1420.2 1419.5L1420.0 1419.5L1419.8 1419.5L1419.6 1419.5L1419.5 1419.5L1413.8 1418.6L1413.6 1418.6L1413.4 1418.5L1413.2 1418.4L1413.1 1418.3L1412.9 1418.2L1412.7 1418.1L1410.4 1415.9L1410.3 1415.8L1410.2 1415.7L1410.1 1415.5ZM1414.2 1481.7L1414.4 1481.7L1414.5 1481.6L1414.7 1481.6L1414.9 1481.6L1415.1 1481.6L1415.3 1481.7L1415.5 1481.7L1418.3 1482.6L1418.5 1482.7L1418.7 1482.8L1418.8 1482.9L1419.0 1483.0L1419.1 1483.1L1419.2 1483.2L1419.4 1483.4L1419.4 1483.5L1420.6 1485.7L1420.7 1485.8L1420.7 1486.0L1420.8 1486.2L1420.8 1486.4L1420.8 1486.5L1420.8 1486.7L1420.7 1486.9L1420.7 1487.0L1420.6 1487.2L1419.4 1489.4L1419.4 1489.5L1419.2 1489.6L1419.1 1489.8L1419.0 1489.9L1418.8 1490.0L1418.7 1490.1L1418.5 1490.2L1418.3 1490.2L1415.5 1491.1L1415.3 1491.2L1415.1 1491.2L1414.9 1491.2L1414.7 1491.2L1414.5 1491.2L1414.4 1491.2L1414.2 1491.1L1411.4 1490.2L1411.2 1490.2L1411.0 1490.1L1410.8 1490.0L1410.7 1489.9L1410.6 1489.8L1410.4 1489.6L1410.3 1489.5L1410.2 1489.4L1409.1 1487.2L1409.0 1487.0L1408.9 1486.9L1408.9 1486.7L1408.9 1486.5L1408.9 1486.4L1408.9 1486.2L1408.9 1486.0L1409.0 1485.8L1409.1 1485.7L1410.2 1483.5L1410.3 1483.4L1410.4 1483.2L1410.6 1483.1L1410.7 1483.0L1410.8 1482.9L1411.0 1482.8L1411.2 1482.7L1411.4 1482.6ZM1388.5 1442.4L1388.3 1442.4L1388.1 1442.3L1388.0 1442.3L1387.8 1442.2L1387.6 1442.2L1387.5 1442.1L1387.3 1442.0L1387.2 1441.9L1387.0 1441.8L1386.9 1441.6L1386.8 1441.5L1385.3 1439.2L1385.2 1439.1L1385.2 1438.9L1385.1 1438.8L1385.1 1438.6L1385.1 1438.4L1385.1 1438.3L1385.1 1438.1L1385.1 1437.9L1385.2 1437.8L1385.2 1437.6L1385.3 1437.5L1386.8 1435.2L1386.9 1435.1L1387.0 1434.9L1387.2 1434.8L1387.3 1434.7L1387.5 1434.6L1387.6 1434.5L1387.8 1434.4L1388.0 1434.4L1388.1 1434.4L1388.3 1434.3L1388.5 1434.3L1391.5 1434.3L1391.7 1434.3L1391.9 1434.4L1392.1 1434.4L1392.2 1434.4L1392.4 1434.5L1392.6 1434.6L1392.7 1434.7L1392.9 1434.8L1393.0 1434.9L1393.1 1435.1L1393.2 1435.2L1394.7 1437.5L1394.8 1437.6L1394.9 1437.8L1394.9 1437.9L1395.0 1438.1L1395.0 1438.3L1395.0 1438.4L1395.0 1438.6L1394.9 1438.8L1394.9 1438.9L1394.8 1439.1L1394.7 1439.2L1393.2 1441.5L1393.1 1441.6L1393.0 1441.8L1392.9 1441.9L1392.7 1442.0L1392.6 1442.1L1392.4 1442.2L1392.2 1442.2L1392.1 1442.3L1391.9 1442.3L1391.7 1442.4L1391.5 1442.4ZM1385.3 1408.3L1385.5 1408.4L1385.6 1408.5L1385.8 1408.6L1385.9 1408.7L1386.1 1408.8L1386.2 1409.0L1386.3 1409.1L1386.4 1409.3L1387.4 1411.4L1387.4 1411.6L1387.5 1411.8L1387.5 1411.9L1387.5 1412.1L1387.5 1412.3L1387.5 1412.4L1387.4 1412.6L1387.4 1412.8L1386.4 1414.9L1386.3 1415.1L1386.2 1415.2L1386.1 1415.4L1385.9 1415.5L1385.8 1415.6L1385.6 1415.7L1385.5 1415.8L1385.3 1415.9L1382.8 1416.8L1382.6 1416.8L1382.5 1416.9L1382.3 1416.9L1382.1 1416.9L1381.9 1416.9L1381.7 1416.9L1381.5 1416.8L1381.3 1416.8L1378.9 1415.9L1378.7 1415.8L1378.5 1415.7L1378.4 1415.6L1378.2 1415.5L1378.1 1415.4L1378.0 1415.2L1377.9 1415.1L1377.8 1414.9L1376.8 1412.8L1376.7 1412.6L1376.6 1412.4L1376.6 1412.3L1376.6 1412.1L1376.6 1411.9L1376.6 1411.8L1376.7 1411.6L1376.8 1411.4L1377.8 1409.3L1377.9 1409.1L1378.0 1409.0L1378.1 1408.8L1378.2 1408.7L1378.4 1408.6L1378.5 1408.5L1378.7 1408.4L1378.9 1408.3L1381.3 1407.4L1381.5 1407.4L1381.7 1407.3L1381.9 1407.3L1382.1 1407.3L1382.3 1407.3L1382.5 1407.3L1382.6 1407.4L1382.8 1407.4ZM1373.4 1378.5L1373.3 1378.7L1373.1 1378.8L1373.0 1378.9L1372.9 1379.0L1372.7 1379.1L1372.6 1379.2L1372.4 1379.3L1372.2 1379.3L1372.0 1379.4L1371.8 1379.4L1371.6 1379.4L1368.7 1379.4L1368.5 1379.4L1368.3 1379.4L1368.1 1379.3L1367.9 1379.3L1367.8 1379.2L1367.6 1379.1L1367.4 1379.0L1367.3 1378.9L1367.2 1378.8L1367.0 1378.7L1366.9 1378.5L1365.5 1376.3L1365.4 1376.1L1365.3 1375.9L1365.2 1375.8L1365.2 1375.6L1365.2 1375.5L1365.2 1375.3L1365.2 1375.1L1365.2 1375.0L1365.3 1374.8L1365.4 1374.7L1365.5 1374.5L1366.9 1372.2L1367.0 1372.1L1367.2 1372.0L1367.3 1371.8L1367.4 1371.7L1367.6 1371.6L1367.8 1371.6L1367.9 1371.5L1368.1 1371.4L1368.3 1371.4L1368.5 1371.4L1368.7 1371.4L1371.6 1371.4L1371.8 1371.4L1372.0 1371.4L1372.2 1371.4L1372.4 1371.5L1372.6 1371.6L1372.7 1371.6L1372.9 1371.7L1373.0 1371.8L1373.1 1372.0L1373.3 1372.1L1373.4 1372.2L1374.9 1374.5L1374.9 1374.7L1375.0 1374.8L1375.1 1375.0L1375.1 1375.1L1375.1 1375.3L1375.1 1375.5L1375.1 1375.6L1375.1 1375.8L1375.0 1375.9L1374.9 1376.1L1374.9 1376.3Z" fill="#8a226a" fill-rule="evenodd"/><path d="M1613.6 1471.7L1621.9 1463.4L1622.0 1463.3L1622.1 1463.2L1627.2 1459.7L1626.2 1459.3L1626.0 1459.3L1625.9 1459.2L1625.7 1459.1L1625.5 1459.0L1625.4 1458.9L1625.3 1458.7L1625.2 1458.6L1625.1 1458.4L1624.1 1456.6L1624.0 1456.4L1623.9 1456.3L1623.9 1456.1L1623.9 1455.9L1623.9 1455.7L1623.9 1455.6L1623.9 1455.4L1624.0 1455.2L1624.1 1455.1L1625.1 1453.2L1625.2 1453.1L1625.3 1452.9L1625.4 1452.8L1625.5 1452.7L1625.7 1452.6L1625.9 1452.5L1626.0 1452.4L1626.2 1452.3L1628.7 1451.6L1628.8 1451.5L1629.0 1451.5L1629.2 1451.5L1629.4 1451.5L1629.6 1451.5L1629.8 1451.5L1630.0 1451.6L1632.4 1452.3L1632.6 1452.4L1632.8 1452.5L1633.0 1452.6L1633.1 1452.7L1633.2 1452.8L1633.4 1452.9L1633.5 1453.1L1633.6 1453.2L1634.4 1454.7L1638.4 1451.9L1647.4 1437.6L1654.2 1420.4L1658.1 1403.5L1650.3 1382.1L1640.4 1360.3L1640.3 1360.1L1640.3 1360.0L1640.3 1359.8L1640.3 1359.6L1640.3 1359.5L1640.3 1359.3L1640.3 1359.1L1640.4 1359.0L1649.3 1339.7L1649.4 1339.6L1649.5 1339.5L1659.3 1325.6L1665.1 1311.1L1671.8 1281.6L1669.5 1280.0L1664.9 1286.0L1661.1 1300.6L1661.0 1300.7L1656.0 1314.7L1656.0 1314.9L1655.9 1315.0L1647.9 1327.3L1647.8 1327.4L1640.3 1336.5L1640.1 1336.6L1630.5 1345.1L1630.4 1345.2L1630.2 1345.4L1615.7 1353.8L1615.6 1353.9L1615.4 1354.0L1603.4 1358.6L1603.3 1358.7L1603.1 1358.7L1602.9 1358.7L1590.9 1360.5L1590.8 1360.5L1574.5 1362.2L1563.0 1369.7L1562.8 1369.8L1548.3 1377.2L1548.1 1377.2L1524.1 1386.8L1523.9 1386.8L1499.9 1394.3L1499.7 1394.3L1499.5 1394.3L1499.3 1394.4L1499.1 1394.3L1498.9 1394.3L1498.7 1394.3L1498.5 1394.2L1481.5 1388.0L1484.2 1394.0L1484.3 1394.2L1484.3 1394.4L1487.3 1411.8L1487.3 1411.9L1489.3 1429.4L1489.6 1432.5L1490.1 1433.1L1490.2 1433.3L1490.2 1433.4L1490.3 1433.6L1490.3 1433.8L1490.3 1433.9L1490.3 1434.1L1490.3 1434.3L1490.0 1435.7L1493.3 1464.4L1493.3 1464.5L1494.3 1482.0L1494.3 1482.2L1493.3 1495.6L1496.7 1500.0L1505.2 1505.1L1518.9 1511.5L1534.8 1510.5L1546.3 1505.5L1563.0 1494.9L1563.1 1494.9L1577.5 1486.5L1594.3 1475.9L1594.5 1475.8L1594.6 1475.8L1594.8 1475.7L1595.0 1475.6ZM1640.0 1402.1L1640.1 1401.9L1640.2 1401.8L1640.3 1401.7L1640.5 1401.6L1640.6 1401.5L1640.8 1401.4L1641.0 1401.3L1641.2 1401.3L1644.7 1400.4L1644.8 1400.3L1645.0 1400.3L1645.2 1400.3L1645.4 1400.3L1645.6 1400.3L1645.8 1400.4L1649.3 1401.3L1649.5 1401.3L1649.6 1401.4L1649.8 1401.5L1649.9 1401.6L1650.1 1401.7L1650.2 1401.8L1650.3 1401.9L1650.4 1402.1L1651.9 1404.2L1652.0 1404.4L1652.1 1404.5L1652.1 1404.7L1652.1 1404.9L1652.2 1405.0L1652.2 1405.2L1652.1 1405.4L1652.1 1405.5L1652.1 1405.7L1652.0 1405.9L1651.9 1406.0L1650.4 1408.2L1650.3 1408.3L1650.2 1408.4L1650.1 1408.6L1649.9 1408.7L1649.8 1408.8L1649.6 1408.8L1649.5 1408.9L1649.3 1409.0L1645.8 1409.9L1645.6 1409.9L1645.4 1409.9L1645.2 1409.9L1645.0 1409.9L1644.8 1409.9L1644.7 1409.9L1641.2 1409.0L1641.0 1408.9L1640.8 1408.8L1640.6 1408.8L1640.5 1408.7L1640.3 1408.6L1640.2 1408.4L1640.1 1408.3L1640.0 1408.2L1638.5 1406.0L1638.5 1405.9L1638.4 1405.7L1638.3 1405.5L1638.3 1405.4L1638.3 1405.2L1638.3 1405.0L1638.3 1404.9L1638.3 1404.7L1638.4 1404.5L1638.5 1404.4L1638.5 1404.2ZM1630.8 1417.8L1631.0 1417.8L1631.2 1417.8L1631.4 1417.8L1631.6 1417.8L1631.8 1417.8L1636.0 1418.7L1636.2 1418.8L1636.4 1418.9L1636.6 1418.9L1636.7 1419.0L1636.9 1419.2L1637.0 1419.3L1637.1 1419.4L1638.9 1421.6L1639.0 1421.7L1639.1 1421.9L1639.1 1422.0L1639.2 1422.2L1639.2 1422.4L1639.3 1422.5L1639.3 1422.7L1639.2 1422.8L1639.2 1423.0L1639.1 1423.2L1639.1 1423.3L1639.0 1423.5L1638.9 1423.6L1637.1 1425.8L1637.0 1425.9L1636.9 1426.0L1636.7 1426.2L1636.6 1426.3L1636.4 1426.3L1636.2 1426.4L1636.0 1426.5L1631.8 1427.4L1631.6 1427.4L1631.4 1427.4L1631.2 1427.4L1631.0 1427.4L1630.8 1427.4L1626.6 1426.5L1626.4 1426.4L1626.3 1426.3L1626.1 1426.3L1625.9 1426.2L1625.7 1426.0L1625.6 1425.9L1625.5 1425.8L1623.7 1423.6L1623.6 1423.5L1623.5 1423.3L1623.5 1423.2L1623.4 1423.0L1623.4 1422.8L1623.4 1422.7L1623.4 1422.5L1623.4 1422.4L1623.4 1422.2L1623.5 1422.0L1623.5 1421.9L1623.6 1421.7L1623.7 1421.6L1625.5 1419.4L1625.6 1419.3L1625.7 1419.2L1625.9 1419.0L1626.1 1418.9L1626.3 1418.9L1626.4 1418.8L1626.6 1418.7ZM1614.5 1427.8L1614.6 1427.8L1614.8 1427.9L1615.0 1428.0L1615.2 1428.1L1615.3 1428.2L1615.5 1428.4L1615.6 1428.5L1617.1 1430.4L1617.2 1430.5L1617.3 1430.7L1617.3 1430.8L1617.4 1431.0L1617.4 1431.2L1617.4 1431.3L1617.4 1431.5L1617.4 1431.7L1617.3 1431.9L1617.3 1432.0L1617.2 1432.2L1617.1 1432.3L1615.6 1434.2L1615.5 1434.3L1615.3 1434.5L1615.2 1434.6L1615.0 1434.7L1614.8 1434.8L1614.6 1434.8L1614.5 1434.9L1610.9 1435.7L1610.8 1435.7L1610.6 1435.7L1610.4 1435.7L1610.2 1435.7L1610.0 1435.7L1608.9 1435.4L1608.1 1435.6L1607.9 1435.7L1607.7 1435.7L1607.5 1435.7L1607.3 1435.7L1607.1 1435.7L1606.9 1435.6L1604.1 1434.9L1603.9 1434.8L1603.7 1434.7L1603.6 1434.7L1603.4 1434.6L1603.3 1434.4L1603.1 1434.3L1603.0 1434.2L1602.9 1434.0L1601.8 1432.2L1601.7 1432.0L1601.6 1431.9L1601.6 1431.7L1601.5 1431.5L1601.5 1431.3L1601.5 1431.2L1601.6 1431.0L1601.6 1430.8L1601.7 1430.7L1601.8 1430.5L1602.9 1428.6L1603.0 1428.5L1603.1 1428.4L1603.3 1428.2L1603.4 1428.1L1603.6 1428.0L1603.7 1427.9L1603.9 1427.9L1604.1 1427.8L1606.9 1427.1L1607.1 1427.0L1607.3 1427.0L1607.5 1427.0L1607.7 1427.0L1607.9 1427.0L1608.1 1427.1L1608.9 1427.3L1610.0 1427.0L1610.2 1427.0L1610.4 1427.0L1610.6 1427.0L1610.8 1427.0L1610.9 1427.0ZM1600.8 1451.1L1601.0 1451.2L1601.2 1451.3L1601.3 1451.4L1601.5 1451.5L1601.6 1451.6L1601.7 1451.8L1601.8 1451.9L1601.9 1452.1L1603.4 1455.2L1603.4 1455.3L1603.5 1455.5L1603.5 1455.7L1603.5 1455.8L1603.5 1456.0L1603.5 1456.2L1603.4 1456.3L1603.4 1456.5L1601.9 1459.6L1601.8 1459.7L1601.7 1459.9L1601.6 1460.0L1601.5 1460.2L1601.3 1460.3L1601.2 1460.4L1601.0 1460.5L1600.8 1460.5L1597.3 1461.8L1597.1 1461.9L1596.9 1461.9L1596.8 1461.9L1596.6 1462.0L1596.4 1461.9L1596.2 1461.9L1596.0 1461.9L1595.8 1461.8L1592.3 1460.5L1592.1 1460.5L1591.9 1460.4L1591.8 1460.3L1591.6 1460.2L1591.5 1460.0L1591.4 1459.9L1591.3 1459.7L1591.2 1459.6L1589.8 1456.5L1589.7 1456.3L1589.6 1456.2L1589.6 1456.0L1589.6 1455.8L1589.6 1455.7L1589.6 1455.5L1589.7 1455.3L1589.8 1455.2L1591.2 1452.1L1591.3 1451.9L1591.4 1451.8L1591.5 1451.6L1591.6 1451.5L1591.8 1451.4L1591.9 1451.3L1592.1 1451.2L1592.3 1451.1L1595.8 1449.8L1596.0 1449.8L1596.2 1449.7L1596.4 1449.7L1596.6 1449.7L1596.8 1449.7L1596.9 1449.7L1597.1 1449.8L1597.3 1449.8ZM1589.9 1407.3L1589.8 1407.4L1589.6 1407.6L1589.5 1407.7L1589.4 1407.8L1589.2 1407.9L1589.1 1408.0L1588.9 1408.0L1588.7 1408.1L1585.2 1409.0L1585.0 1409.0L1584.8 1409.0L1584.6 1409.0L1584.5 1409.0L1584.3 1409.0L1584.1 1409.0L1580.6 1408.1L1580.4 1408.0L1580.2 1408.0L1580.1 1407.9L1579.9 1407.8L1579.8 1407.7L1579.6 1407.6L1579.5 1407.4L1579.4 1407.3L1578.0 1405.1L1577.9 1405.0L1577.8 1404.8L1577.8 1404.7L1577.7 1404.5L1577.7 1404.3L1577.7 1404.2L1577.7 1404.0L1577.8 1403.8L1577.8 1403.7L1577.9 1403.5L1578.0 1403.3L1579.4 1401.2L1579.5 1401.0L1579.6 1400.9L1579.8 1400.8L1579.9 1400.7L1580.1 1400.6L1580.2 1400.5L1580.4 1400.4L1580.6 1400.4L1584.1 1399.5L1584.3 1399.5L1584.5 1399.4L1584.6 1399.4L1584.8 1399.4L1585.0 1399.5L1585.2 1399.5L1588.7 1400.4L1588.9 1400.4L1589.1 1400.5L1589.2 1400.6L1589.4 1400.7L1589.5 1400.8L1589.6 1400.9L1589.8 1401.0L1589.9 1401.2L1591.3 1403.3L1591.4 1403.5L1591.5 1403.7L1591.5 1403.8L1591.6 1404.0L1591.6 1404.2L1591.6 1404.3L1591.6 1404.5L1591.5 1404.7L1591.5 1404.8L1591.4 1405.0L1591.3 1405.1ZM1567.2 1441.6L1567.1 1441.7L1566.9 1441.9L1566.8 1442.0L1566.6 1442.1L1566.5 1442.2L1566.3 1442.2L1566.1 1442.3L1565.9 1442.3L1565.7 1442.4L1565.5 1442.4L1562.1 1442.4L1561.9 1442.4L1561.7 1442.3L1561.5 1442.3L1561.3 1442.2L1561.1 1442.2L1561.0 1442.1L1560.8 1442.0L1560.7 1441.9L1560.5 1441.7L1560.4 1441.6L1558.7 1439.3L1558.6 1439.2L1558.5 1439.0L1558.4 1438.9L1558.4 1438.7L1558.3 1438.5L1558.3 1438.3L1558.3 1438.2L1558.4 1438.0L1558.4 1437.8L1558.5 1437.7L1558.6 1437.5L1558.7 1437.4L1560.4 1435.1L1560.5 1435.0L1560.7 1434.8L1560.8 1434.7L1561.0 1434.6L1561.1 1434.5L1561.3 1434.5L1561.5 1434.4L1561.7 1434.4L1561.9 1434.3L1562.1 1434.3L1565.5 1434.3L1565.7 1434.3L1565.9 1434.4L1566.1 1434.4L1566.3 1434.5L1566.5 1434.5L1566.6 1434.6L1566.8 1434.7L1566.9 1434.8L1567.1 1435.0L1567.2 1435.1L1568.9 1437.4L1569.0 1437.5L1569.1 1437.7L1569.2 1437.8L1569.2 1438.0L1569.2 1438.2L1569.3 1438.3L1569.2 1438.5L1569.2 1438.7L1569.2 1438.9L1569.1 1439.0L1569.0 1439.2L1568.9 1439.3ZM1547.4 1420.8L1547.2 1420.8L1547.0 1420.8L1546.8 1420.8L1546.6 1420.8L1546.4 1420.8L1542.9 1420.0L1542.7 1420.0L1542.5 1419.9L1542.4 1419.8L1542.2 1419.7L1542.0 1419.6L1541.9 1419.5L1541.8 1419.3L1540.3 1417.5L1540.2 1417.3L1540.1 1417.2L1540.0 1417.0L1540.0 1416.8L1540.0 1416.7L1540.0 1416.5L1540.0 1416.3L1540.0 1416.1L1540.0 1416.0L1540.1 1415.8L1540.2 1415.6L1540.3 1415.5L1541.8 1413.6L1541.9 1413.5L1542.0 1413.4L1542.2 1413.2L1542.4 1413.1L1542.5 1413.0L1542.7 1413.0L1542.9 1412.9L1546.4 1412.2L1546.6 1412.1L1546.8 1412.1L1547.0 1412.1L1547.2 1412.1L1547.4 1412.2L1550.9 1412.9L1551.1 1413.0L1551.3 1413.0L1551.5 1413.1L1551.6 1413.2L1551.8 1413.4L1551.9 1413.5L1552.1 1413.6L1553.5 1415.5L1553.6 1415.6L1553.7 1415.8L1553.8 1416.0L1553.8 1416.1L1553.8 1416.3L1553.9 1416.5L1553.8 1416.7L1553.8 1416.8L1553.8 1417.0L1553.7 1417.2L1553.6 1417.3L1553.5 1417.5L1552.1 1419.3L1551.9 1419.5L1551.8 1419.6L1551.6 1419.7L1551.5 1419.8L1551.3 1419.9L1551.1 1420.0L1550.9 1420.0ZM1519.3 1421.5L1519.2 1421.5L1519.0 1421.4L1518.8 1421.3L1518.7 1421.2L1518.5 1421.1L1518.4 1421.0L1518.3 1420.9L1518.2 1420.8L1516.4 1418.3L1516.3 1418.1L1516.2 1418.0L1516.2 1417.8L1516.1 1417.6L1516.1 1417.4L1516.1 1417.3L1516.1 1417.1L1516.2 1416.9L1516.2 1416.7L1516.3 1416.6L1516.4 1416.4L1518.2 1414.0L1518.3 1413.8L1518.4 1413.7L1518.5 1413.6L1518.7 1413.5L1518.8 1413.4L1519.0 1413.3L1519.2 1413.2L1519.3 1413.2L1523.5 1412.2L1523.8 1412.1L1524.0 1412.1L1524.2 1412.1L1524.4 1412.1L1524.6 1412.2L1528.8 1413.2L1529.0 1413.2L1529.2 1413.3L1529.3 1413.4L1529.5 1413.5L1529.6 1413.6L1529.7 1413.7L1529.9 1413.8L1530.0 1414.0L1531.7 1416.4L1531.8 1416.6L1531.9 1416.7L1532.0 1416.9L1532.0 1417.1L1532.0 1417.3L1532.0 1417.4L1532.0 1417.6L1532.0 1417.8L1531.9 1418.0L1531.8 1418.1L1531.7 1418.3L1530.0 1420.8L1529.9 1420.9L1529.7 1421.0L1529.6 1421.1L1529.5 1421.2L1529.3 1421.3L1529.2 1421.4L1529.0 1421.5L1528.8 1421.5L1524.6 1422.5L1524.4 1422.6L1524.2 1422.6L1524.0 1422.6L1523.8 1422.6L1523.5 1422.5ZM1514.3 1460.6L1514.1 1460.6L1513.8 1460.6L1513.6 1460.6L1513.4 1460.6L1513.2 1460.6L1508.3 1459.4L1508.1 1459.4L1508.0 1459.3L1507.8 1459.2L1507.7 1459.2L1507.5 1459.1L1507.4 1458.9L1507.3 1458.8L1507.2 1458.7L1505.1 1455.9L1505.0 1455.8L1504.9 1455.6L1504.9 1455.5L1504.8 1455.3L1504.8 1455.1L1504.8 1455.0L1504.8 1454.8L1504.8 1454.6L1504.9 1454.5L1504.9 1454.3L1505.0 1454.2L1505.1 1454.0L1507.2 1451.2L1507.3 1451.1L1507.4 1451.0L1507.5 1450.9L1507.7 1450.8L1507.8 1450.7L1508.0 1450.6L1508.1 1450.5L1508.3 1450.5L1513.2 1449.3L1513.4 1449.3L1513.6 1449.3L1513.8 1449.3L1514.1 1449.3L1514.3 1449.3L1519.2 1450.5L1519.3 1450.5L1519.5 1450.6L1519.7 1450.7L1519.8 1450.8L1520.0 1450.9L1520.1 1451.0L1520.2 1451.1L1520.3 1451.2L1522.4 1454.0L1522.5 1454.2L1522.5 1454.3L1522.6 1454.5L1522.6 1454.6L1522.7 1454.8L1522.7 1455.0L1522.7 1455.1L1522.6 1455.3L1522.6 1455.5L1522.5 1455.6L1522.5 1455.8L1522.4 1455.9L1520.3 1458.7L1520.2 1458.8L1520.1 1458.9L1520.0 1459.1L1519.8 1459.2L1519.7 1459.2L1519.5 1459.3L1519.3 1459.4L1519.2 1459.4Z" fill="#0e092b" fill-rule="evenodd"/><path d="M1341.9 1214.8L1334.7 1219.3L1327.2 1226.8L1323.6 1234.8L1325.3 1242.5L1331.7 1248.9L1338.9 1252.4L1347.8 1252.1L1353.2 1249.9L1352.3 1241.8L1350.7 1233.2L1347.4 1221.9L1347.4 1221.9L1346.2 1217.1Z" fill="#fb9906" fill-rule="evenodd"/><path d="M1720.9 1076.0L1702.5 1078.0L1688.7 1086.1L1676.9 1096.5L1665.0 1111.2L1664.9 1111.2L1655.5 1121.6L1652.1 1131.8L1649.7 1146.4L1648.5 1159.0L1648.5 1159.1L1644.7 1184.3L1648.4 1205.0L1655.6 1221.8L1655.7 1222.0L1655.7 1222.2L1658.1 1238.7L1665.1 1249.1L1665.1 1249.1L1672.2 1259.7L1672.4 1259.8L1672.4 1260.0L1676.9 1272.7L1677.0 1272.9L1679.1 1284.1L1691.0 1305.0L1691.0 1305.1L1691.1 1305.2L1698.7 1326.4L1698.8 1326.5L1703.1 1343.4L1709.7 1358.7L1724.5 1354.9L1738.7 1348.8L1752.8 1340.5L1759.4 1332.6L1761.7 1322.4L1761.8 1322.2L1761.8 1322.1L1761.9 1321.9L1762.0 1321.8L1762.1 1321.6L1771.8 1311.1L1771.9 1310.9L1772.0 1310.8L1772.1 1310.8L1781.6 1304.5L1791.0 1294.1L1798.2 1285.7L1807.6 1271.1L1813.0 1261.8L1822.6 1242.9L1822.7 1242.7L1822.8 1242.6L1823.0 1242.4L1823.1 1242.3L1823.3 1242.2L1823.4 1242.1L1834.3 1236.3L1832.1 1222.7L1832.1 1222.5L1832.1 1222.3L1834.5 1201.1L1835.7 1184.3L1834.5 1163.4L1831.0 1151.0L1825.1 1136.2L1819.1 1123.7L1813.2 1115.5L1805.0 1107.2L1794.2 1098.8L1794.1 1098.7L1794.0 1098.5L1793.9 1098.4L1793.8 1098.3L1787.0 1087.2L1778.0 1083.2L1769.0 1080.2L1757.9 1082.1L1751.0 1086.2L1750.8 1086.3L1750.6 1086.4L1750.5 1086.5L1750.3 1086.5L1750.1 1086.5L1749.9 1086.5L1749.7 1086.5L1749.5 1086.5L1749.3 1086.5L1749.2 1086.4L1749.0 1086.3L1739.5 1082.1L1727.7 1077.9Z" fill="#02020e" fill-rule="evenodd"/><path d="M1719 1075h0m-8 1h0m-11 1h0m4 1h0m13 0h0m-3 1h0m3 0h0m17 0h0m36 0h0m-60 1h0m14 0h0m7 0h0m-32 1h0m23 0h0m16 0h0m-27 1h0m5 0h0m3 0h0m18 0h0m38 0h0m3 0h0m-78 1h0m28 0h0m3 0h0m8 0h0m7 0h0m17 0h0m4 0h0m5 0h0m-77 1h0m12 0h0m24 0h0m29 0h0m5 0h0m-74 1h0m4 0h0m8 0h0m0 0h0m18 0h0m16 0h0m1 0h0m6 0h0m2 0h0m31 0h0m-70 1h0m12 0h0m10 0h0m28 0h0m5 0h0m8 0h0m1 0h0m-84 1h0m29 0h0m65 0h0m6 0h0m-89 1h0m10 0h0m4 0h0m4 0h0m1 0h0m7 0h0m10 0h0m6 0h0m2 0h0m10 0h0m6 0h0m5 0h0m3 0h0m6 0h0m-84 1h0m56 0h0m36 0h0m3 0h0m6 0h0m-103 1h0m41 0h0m23 0h0m4 0h0m20 0h0m6 0h0m-99 1h0m10 0h0m5 0h0m5 0h0m9 0h0m5 0h0m28 0h0m10 0h0m12 0h0m6 0h0m11 0h0m-98 1h0m4 0h0m6 0h0m8 0h0m4 0h0m23 0h0m7 0h0m3 0h0m16 0h0m7 0h0m12 0h0m13 0h0m-73 1h0m35 0h0m1 0h0m-70 1h0m1 0h0m3 0h0m18 0h0m26 0h0m5 0h0m26 0h0m18 0h0m-99 1h0m16 0h0m6 0h0m14 0h0m39 0h0m12 0h0m24 0h0m-112 1h0m33 0h0m4 0h0m3 0h0m2 0h0m20 0h0m28 0h0m3 0h0m12 0h0m9 0h0m-84 1h0m17 0h0m13 0h0m2 0h0m4 0h0m2 0h0m45 0h0m5 0h0m-120 1h0m10 0h0m21 0h0m4 0h0m21 0h0m5 0h0m18 0h0m5 0h0m11 0h0m5 0h0m9 0h0m2 0h0m-93 1h0m8 0h0m21 0h0m41 0h0m13 0h0m-98 1h0m9 0h0m9 0h0m52 0h0m1 0h0m9 0h0m4 0h0m10 0h0m-98 1h0m14 0h0m12 0h0m4 0h0m5 0h0m11 0h0m3 0h0m10 0h0m9 0h0m14 0h0m34 0h0m-111 1h0m32 0h0m18 0h0m58 0h0m14 0h0m-111 1h0m4 0h0m1 0h0m8 0h0m12 0h0m20 0h0m6 0h0m14 0h0m2 0h0m5 0h0m11 0h0m9 0h0m1 0h0m-70 1h0m53 0h0m11 0h0m-109 1h0m13 0h0m2 0h0m7 0h0m3 0h0m26 0h0m11 0h0m8 0h0m5 0h0m4 0h0m27 0h0m20 0h0m2 0h0m-126 1h0m3 0h0m32 0h0m5 0h0m12 0h0m4 0h0m9 0h0m17 0h0m0 0h0m13 0h0m4 0h0m2 0h0m11 0h0m4 0h0m13 0h0m3 0h0m-100 1h0m2 0h0m20 0h0m21 0h0m23 0h0m13 0h0m3 0h0m-112 1h0m13 0h0m16 0h0m9 0h0m6 0h0m5 0h0m27 0h0m10 0h0m6 0h0m13 0h0m18 0h0m5 0h0m6 0h0m-140 1h0m4 0h0m13 0h0m4 0h0m2 0h0m5 0h0m34 0h0m4 0h0m60 0h0m-115 1h0m23 0h0m15 0h0m21 0h0m22 0h0m16 0h0m13 0h0m-105 1h0m34 0h0m5 0h0m12 0h0m9 0h0m33 0h0m3 0h0m29 0h0m-187 1h0m48 0h0m4 0h0m6 0h0m28 0h0m3 0h0m10 0h0m7 0h0m24 0h0m1 0h0m11 0h0m5 0h0m0 0h0m18 0h0m13 0h0m4 0h0m11 0h0m-147 1h0m51 0h0m15 0h0m49 0h0m11 0h0m-130 1h0m16 0h0m18 0h0m5 0h0m31 0h0m6 0h0m6 0h0m5 0h0m4 0h0m7 0h0m0 0h0m10 0h0m20 0h0m2 0h0m2 0h0m1 0h0m4 0h0m-135 1h0m4 0h0m6 0h0m6 0h0m4 0h0m6 0h0m40 0h0m8 0h0m4 0h0m39 0h0m22 0h0m6 0h0m-142 1h0m26 0h0m6 0h0m8 0h0m0 0h0m68 0h0m6 0h0m15 0h0m-137 1h0m17 0h0m12 0h0m7 0h0m15 0h0m25 0h0m3 0h0m9 0h0m20 0h0m-102 1h0m6 0h0m8 0h0m19 0h0m26 0h0m8 0h0m19 0h0m19 0h0m17 0h0m15 0h0m1 0h0m7 0h0m-190 1h0m27 0h0m49 0h0m9 0h0m14 0h0m3 0h0m21 0h0m13 0h0m5 0h0m5 0h0m5 0h0m10 0h0m10 0h0m-118 1h0m3 0h0m9 0h0m5 0h0m23 0h0m12 0h0m33 0h0m14 0h0m4 0h0m12 0h0m7 0h0m12 0h0m6 0h0m3 0h0m-162 1h0m27 0h0m17 0h0m52 0h0m11 0h0m22 0h0m14 0h0m12 0h0m-141 1h0m18 0h0m9 0h0m12 0h0m4 0h0m6 0h0m7 0h0m13 0h0m4 0h0m4 0h0m58 0h0m-140 1h0m8 0h0m8 0h0m2 0h0m24 0h0m16 0h0m12 0h0m19 0h0m8 0h0m5 0h0m1 0h0m13 0h0m7 0h0m7 0h0m13 0h0m-146 1h0m15 0h0m17 0h0m24 0h0m5 0h0m7 0h0m3 0h0m9 0h0m9 0h0m8 0h0m21 0h0m5 0h0m32 0h0m-160 1h0m6 0h0m5 0h0m2 0h0m19 0h0m9 0h0m3 0h0m5 0h0m3 0h0m6 0h0m20 0h0m29 0h0m28 0h0m6 0h0m4 0h0m19 0h0m-156 1h0m9 0h0m70 0h0m9 0h0m23 0h0m32 0h0m5 0h0m6 0h0m-123 1h0m42 0h0m9 0h0m4 0h0m15 0h0m-112 1h0m6 0h0m4 0h0m18 0h0m0 0h0m8 0h0m10 0h0m9 0h0m26 0h0m41 0h0m14 0h0m6 0h0m12 0h0m17 0h0m-168 1h0m31 0h0m17 0h0m9 0h0m11 0h0m6 0h0m24 0h0m28 0h0m1 0h0m0 0h0m16 0h0m0 0h0m10 0h0m11 0h0m-166 1h0m23 0h0m9 0h0m4 0h0m9 0h0m11 0h0m43 0h0m4 0h0m1 0h0m8 0h0m6 0h0m4 0h0m16 0h0m2 0h0m29 0h0m-165 1h0m10 0h0m25 0h0m12 0h0m10 0h0m12 0h0m5 0h0m37 0h0m7 0h0m17 0h0m16 0h0m-184 1h0m37 0h0m18 0h0m55 0h0m9 0h0m18 0h0m25 0h0m25 0h0m-157 1h0m1 0h0m5 0h0m8 0h0m5 0h0m7 0h0m12 0h0m22 0h0m8 0h0m13 0h0m5 0h0m8 0h0m24 0h0m19 0h0m24 0h0m7 0h0m-129 1h0m5 0h0m3 0h0m8 0h0m8 0h0m11 0h0m39 0h0m22 0h0m9 0h0m10 0h0m6 0h0m-148 1h0m12 0h0m8 0h0m26 0h0m3 0h0m3 0h0m7 0h0m17 0h0m7 0h0m5 0h0m3 0h0m6 0h0m12 0h0m4 0h0m2 0h0m3 0h0m18 0h0m6 0h0m-159 1h0m40 0h0m16 0h0m29 0h0m12 0h0m49 0h0m24 0h0m-165 1h0m13 0h0m2 0h0m5 0h0m28 0h0m7 0h0m19 0h0m11 0h0m4 0h0m26 0h0m27 0h0m6 0h0m24 0h0m-176 1h0m8 0h0m14 0h0m9 0h0m3 0h0m6 0h0m11 0h0m17 0h0m12 0h0m5 0h0m18 0h0m5 0h0m5 0h0m10 0h0m4 0h0m8 0h0m7 0h0m14 0h0m5 0h0m5 0h0m4 0h0m-135 1h0m6 0h0m11 0h0m45 0h0m10 0h0m19 0h0m8 0h0m19 0h0m-144 1h0m6 0h0m4 0h0m13 0h0m12 0h0m1 0h0m10 0h0m24 0h0m31 0h0m38 0h0m14 0h0m-159 1h0m46 0h0m13 0h0m4 0h0m18 0h0m1 0h0m10 0h0m5 0h0m1 0h0m12 0h0m4 0h0m14 0h0m8 0h0m16 0h0m3 0h0m12 0h0m-101 1h0m0 0h0m22 0h0m13 0h0m20 0h0m19 0h0m18 0h0m5 0h0m-164 1h0m5 0h0m13 0h0m2 0h0m5 0h0m2 0h0m4 0h0m9 0h0m23 0h0m26 0h0m11 0h0m3 0h0m7 0h0m7 0h0m21 0h0m17 0h0m19 0h0m-168 1h0m10 0h0m18 0h0m9 0h0m31 0h0m0 0h0m3 0h0m14 0h0m35 0h0m9 0h0m17 0h0m14 0h0m1 0h0m5 0h0m-176 1h0m14 0h0m7 0h0m7 0h0m25 0h0m3 0h0m13 0h0m8 0h0m9 0h0m25 0h0m21 0h0m-123 1h0m22 0h0m1 0h0m30 0h0m28 0h0m36 0h0m-126 1h0m21 0h0m21 0h0m21 0h0m9 0h0m19 0h0m22 0h0m7 0h0m9 0h0m18 0h0m16 0h0m3 0h0m10 0h0m2 0h0m-175 1h0m12 0h0m3 0h0m23 0h0m13 0h0m3 0h0m29 0h0m6 0h0m6 0h0m10 0h0m4 0h0m12 0h0m9 0h0m2 0h0m6 0h0m0 0h0m8 0h0m7 0h0m13 0h0m-163 1h0m10 0h0m24 0h0m11 0h0m31 0h0m20 0h0m56 0h0m25 0h0m-160 1h0m27 0h0m1 0h0m14 0h0m15 0h0m7 0h0m32 0h0m23 0h0m10 0h0m24 0h0m-151 1h0m3 0h0m1 0h0m17 0h0m14 0h0m35 0h0m13 0h0m7 0h0m2 0h0m10 0h0m4 0h0m1 0h0m5 0h0m9 0h0m6 0h0m10 0h0m-161 1h0m8 0h0m6 0h0m20 0h0m23 0h0m13 0h0m12 0h0m15 0h0m56 0h0m12 0h0m6 0h0m-172 1h0m11 0h0m9 0h0m18 0h0m17 0h0m7 0h0m4 0h0m24 0h0m3 0h0m7 0h0m5 0h0m11 0h0m38 0h0m17 0h0m-166 1h0m9 0h0m22 0h0m12 0h0m8 0h0m21 0h0m2 0h0m7 0h0m23 0h0m19 0h0m14 0h0m8 0h0m3 0h0m12 0h0m-162 1h0m23 0h0m1 0h0m13 0h0m9 0h0m21 0h0m27 0h0m35 0h0m4 0h0m9 0h0m4 0h0m26 0h0m2 0h0m2 0h0m4 0h0m-165 1h0m14 0h0m15 0h0m38 0h0m22 0h0m16 0h0m20 0h0m7 0h0m17 0h0m6 0h0m-171 1h0m2 0h0m11 0h0m7 0h0m17 0h0m11 0h0m2 0h0m3 0h0m7 0h0m3 0h0m30 0h0m18 0h0m5 0h0m6 0h0m7 0h0m8 0h0m19 0h0m27 0h0m-152 1h0m42 0h0m8 0h0m14 0h0m7 0h0m20 0h0m8 0h0m-129 1h0m4 0h0m39 0h0m23 0h0m41 0h0m10 0h0m21 0h0m15 0h0m8 0h0m12 0h0m6 0h0m-161 1h0m3 0h0m32 0h0m25 0h0m9 0h0m3 0h0m5 0h0m4 0h0m12 0h0m7 0h0m6 0h0m18 0h0m5 0h0m3 0h0m10 0h0m6 0h0m10 0h0m6 0h0m1 0h0m-184 1h0m9 0h0m7 0h0m9 0h0m33 0h0m3 0h0m6 0h0m2 0h0m5 0h0m9 0h0m71 0h0m6 0h0m6 0h0m-140 1h0m5 0h0m6 0h0m5 0h0m6 0h0m18 0h0m13 0h0m4 0h0m6 0h0m6 0h0m25 0h0m9 0h0m6 0h0m35 0h0m14 0h0m-187 1h0m31 0h0m13 0h0m9 0h0m12 0h0m45 0h0m15 0h0m12 0h0m7 0h0m18 0h0m-153 1h0m8 0h0m4 0h0m29 0h0m9 0h0m1 0h0m19 0h0m2 0h0m18 0h0m7 0h0m9 0h0m3 0h0m13 0h0m23 0h0m1 0h0m4 0h0m9 0h0m9 0h0m-173 1h0m6 0h0m25 0h0m5 0h0m99 0h0m43 0h0m-178 1h0m27 0h0m21 0h0m33 0h0m11 0h0m7 0h0m13 0h0m5 0h0m4 0h0m16 0h0m8 0h0m33 0h0m-166 1h0m9 0h0m14 0h0m17 0h0m15 0h0m36 0h0m0 0h0m25 0h0m23 0h0m9 0h0m13 0h0m11 0h0m-174 1h0m6 0h0m24 0h0m3 0h0m20 0h0m24 0h0m1 0h0m4 0h0m32 0h0m1 0h0m7 0h0m10 0h0m3 0h0m23 0h0m4 0h0m-173 1h0m26 0h0m2 0h0m14 0h0m13 0h0m12 0h0m5 0h0m8 0h0m20 0h0m15 0h0m4 0h0m24 0h0m13 0h0m15 0h0m2 0h0m9 0h0m-185 1h0m10 0h0m24 0h0m4 0h0m1 0h0m14 0h0m5 0h0m8 0h0m36 0h0m14 0h0m8 0h0m22 0h0m7 0h0m3 0h0m3 0h0m11 0h0m11 0h0m-181 1h0m15 0h0m45 0h0m21 0h0m5 0h0m10 0h0m69 0h0m-156 1h0m14 0h0m26 0h0m46 0h0m12 0h0m4 0h0m23 0h0m4 0h0m6 0h0m12 0h0m22 0h0m-174 1h0m11 0h0m11 0h0m3 0h0m26 0h0m18 0h0m9 0h0m30 0h0m5 0h0m48 0h0m-146 1h0m3 0h0m12 0h0m7 0h0m4 0h0m0 0h0m4 0h0m18 0h0m24 0h0m29 0h0m9 0h0m2 0h0m25 0h0m9 0h0m5 0h0m12 0h0m4 0h0m-175 1h0m32 0h0m17 0h0m5 0h0m16 0h0m5 0h0m11 0h0m4 0h0m21 0h0m3 0h0m11 0h0m4 0h0m2 0h0m5 0h0m33 0h0m-182 1h0m4 0h0m5 0h0m17 0h0m18 0h0m8 0h0m3 0h0m4 0h0m5 0h0m9 0h0m14 0h0m3 0h0m5 0h0m7 0h0m3 0h0m24 0h0m21 0h0m4 0h0m14 0h0m11 0h0m0 0h0m9 0h0m-170 1h0m3 0h0m13 0h0m5 0h0m60 0h0m15 0h0m6 0h0m17 0h0m8 0h0m27 0h0m3 0h0m-156 1h0m49 0h0m2 0h0m6 0h0m36 0h0m21 0h0m26 0h0m2 0h0m-155 1h0m9 0h0m8 0h0m6 0h0m8 0h0m20 0h0m25 0h0m7 0h0m28 0h0m18 0h0m4 0h0m3 0h0m7 0h0m3 0h0m13 0h0m18 0h0m4 0h0m-155 1h0m0 0h0m9 0h0m12 0h0m10 0h0m1 0h0m28 0h0m3 0h0m8 0h0m10 0h0m30 0h0m12 0h0m7 0h0m8 0h0m8 0h0m-176 1h0m39 0h0m1 0h0m21 0h0m12 0h0m25 0h0m7 0h0m0 0h0m18 0h0m8 0h0m33 0h0m8 0h0m10 0h0m5 0h0m-191 1h0m12 0h0m17 0h0m11 0h0m12 0h0m1 0h0m14 0h0m11 0h0m9 0h0m10 0h0m32 0h0m10 0h0m16 0h0m-150 1h0m19 0h0m7 0h0m4 0h0m30 0h0m18 0h0m18 0h0m43 0h0m16 0h0m2 0h0m13 0h0m14 0h0m-187 1h0m8 0h0m10 0h0m37 0h0m18 0h0m15 0h0m20 0h0m3 0h0m4 0h0m13 0h0m7 0h0m14 0h0m24 0h0m19 0h0m-178 1h0m28 0h0m1 0h0m6 0h0m0 0h0m12 0h0m54 0h0m5 0h0m54 0h0m2 0h0m4 0h0m6 0h0m-171 1h0m10 0h0m12 0h0m29 0h0m21 0h0m16 0h0m9 0h0m22 0h0m9 0h0m3 0h0m19 0h0m5 0h0m14 0h0m6 0h0m-185 1h0m6 0h0m10 0h0m32 0h0m18 0h0m3 0h0m7 0h0m2 0h0m8 0h0m10 0h0m2 0h0m4 0h0m20 0h0m1 0h0m11 0h0m17 0h0m-152 1h0m21 0h0m3 0h0m6 0h0m21 0h0m7 0h0m36 0h0m23 0h0m8 0h0m3 0h0m20 0h0m1 0h0m9 0h0m26 0h0m-189 1h0m5 0h0m3 0h0m13 0h0m11 0h0m21 0h0m47 0h0m11 0h0m28 0h0m6 0h0m24 0h0m1 0h0m12 0h0m2 0h0m-169 1h0m20 0h0m13 0h0m8 0h0m16 0h0m4 0h0m17 0h0m23 0h0m4 0h0m32 0h0m6 0h0m6 0h0m13 0h0m-160 1h0m23 0h0m3 0h0m6 0h0m22 0h0m20 0h0m16 0h0m13 0h0m4 0h0m17 0h0m-139 1h0m9 0h0m10 0h0m50 0h0m14 0h0m2 0h0m15 0h0m2 0h0m11 0h0m14 0h0m-122 1h0m37 0h0m16 0h0m5 0h0m2 0h0m23 0h0m7 0h0m25 0h0m24 0h0m11 0h0m10 0h0m4 0h0m16 0h0m3 0h0m-175 1h0m17 0h0m3 0h0m41 0h0m18 0h0m17 0h0m16 0h0m14 0h0m12 0h0m9 0h0m5 0h0m11 0h0m-152 1h0m14 0h0m13 0h0m10 0h0m7 0h0m5 0h0m19 0h0m34 0h0m15 0h0m2 0h0m4 0h0m15 0h0m4 0h0m12 0h0m-168 1h0m6 0h0m21 0h0m10 0h0m2 0h0m32 0h0m3 0h0m34 0h0m8 0h0m7 0h0m25 0h0m22 0h0m2 0h0m4 0h0m-186 1h0m2 0h0m4 0h0m13 0h0m5 0h0m5 0h0m14 0h0m12 0h0m6 0h0m30 0h0m7 0h0m7 0h0m9 0h0m7 0h0m11 0h0m14 0h0m26 0h0m2 0h0m-171 1h0m5 0h0m19 0h0m48 0h0m26 0h0m8 0h0m9 0h0m35 0h0m4 0h0m-137 1h0m3 0h0m8 0h0m7 0h0m9 0h0m22 0h0m4 0h0m10 0h0m2 0h0m5 0h0m52 0h0m9 0h0m12 0h0m5 0h0m4 0h0m18 0h0m-181 1h0m3 0h0m24 0h0m6 0h0m9 0h0m5 0h0m5 0h0m36 0h0m3 0h0m4 0h0m5 0h0m16 0h0m5 0h0m4 0h0m5 0h0m12 0h0m25 0h0m9 0h0m-121 1h0m49 0h0m46 0h0m1 0h0m15 0h0m3 0h0m-161 1h0m26 0h0m19 0h0m7 0h0m4 0h0m9 0h0m8 0h0m6 0h0m7 0h0m1 0h0m8 0h0m11 0h0m4 0h0m30 0h0m9 0h0m4 0h0m17 0h0m-180 1h0m6 0h0m11 0h0m3 0h0m24 0h0m22 0h0m10 0h0m12 0h0m47 0h0m7 0h0m23 0h0m10 0h0m-149 1h0m3 0h0m10 0h0m9 0h0m5 0h0m44 0h0m5 0h0m9 0h0m12 0h0m5 0h0m4 0h0m14 0h0m25 0h0m-175 1h0m18 0h0m21 0h0m24 0h0m10 0h0m20 0h0m42 0h0m37 0h0m11 0h0m-172 1h0m11 0h0m1 0h0m14 0h0m3 0h0m5 0h0m7 0h0m32 0h0m3 0h0m8 0h0m17 0h0m6 0h0m4 0h0m8 0h0m10 0h0m7 0h0m3 0h0m14 0h0m21 0h0m-179 1h0m11 0h0m31 0h0m11 0h0m7 0h0m10 0h0m4 0h0m4 0h0m20 0h0m7 0h0m17 0h0m16 0h0m10 0h0m23 0h0m-178 1h0m17 0h0m11 0h0m3 0h0m4 0h0m3 0h0m9 0h0m17 0h0m36 0h0m2 0h0m8 0h0m3 0h0m49 0h0m22 0h0m-181 1h0m2 0h0m8 0h0m43 0h0m18 0h0m5 0h0m38 0h0m20 0h0m9 0h0m6 0h0m25 0h0m3 0h0m-157 1h0m8 0h0m14 0h0m8 0h0m13 0h0m5 0h0m16 0h0m5 0h0m2 0h0m20 0h0m9 0h0m9 0h0m10 0h0m22 0h0m5 0h0m-159 1h0m6 0h0m8 0h0m24 0h0m41 0h0m32 0h0m4 0h0m11 0h0m26 0h0m-158 1h0m2 0h0m4 0h0m20 0h0m10 0h0m8 0h0m13 0h0m6 0h0m6 0h0m24 0h0m30 0h0m18 0h0m11 0h0m5 0h0m5 0h0m8 0h0m-120 1h0m13 0h0m13 0h0m5 0h0m8 0h0m7 0h0m7 0h0m8 0h0m3 0h0m19 0h0m2 0h0m10 0h0m6 0h0m18 0h0m5 0h0m5 0h0m2 0h0m-159 1h0m6 0h0m6 0h0m23 0h0m23 0h0m49 0h0m13 0h0m9 0h0m14 0h0m-116 1h0m5 0h0m8 0h0m8 0h0m12 0h0m9 0h0m35 0h0m3 0h0m8 0h0m23 0h0m4 0h0m11 0h0m-169 1h0m6 0h0m5 0h0m2 0h0m11 0h0m8 0h0m1 0h0m3 0h0m23 0h0m9 0h0m14 0h0m47 0h0m4 0h0m18 0h0m23 0h0m-169 1h0m84 0h0m2 0h0m3 0h0m12 0h0m8 0h0m3 0h0m40 0h0m9 0h0m-170 1h0m24 0h0m2 0h0m5 0h0m58 0h0m14 0h0m3 0h0m4 0h0m2 0h0m24 0h0m8 0h0m20 0h0m4 0h0m7 0h0m-169 1h0m3 0h0m27 0h0m6 0h0m5 0h0m5 0h0m5 0h0m24 0h0m0 0h0m12 0h0m6 0h0m24 0h0m7 0h0m14 0h0m4 0h0m3 0h0m6 0h0m-155 1h0m26 0h0m18 0h0m29 0h0m22 0h0m7 0h0m10 0h0m7 0h0m51 0h0m-161 1h0m9 0h0m34 0h0m4 0h0m4 0h0m6 0h0m1 0h0m9 0h0m36 0h0m2 0h0m18 0h0m8 0h0m-140 1h0m6 0h0m8 0h0m26 0h0m1 0h0m10 0h0m16 0h0m2 0h0m13 0h0m8 0h0m10 0h0m25 0h0m29 0h0m6 0h0m16 0h0m-178 1h0m21 0h0m5 0h0m4 0h0m3 0h0m31 0h0m18 0h0m7 0h0m18 0h0m6 0h0m5 0h0m16 0h0m11 0h0m4 0h0m2 0h0m7 0h0m9 0h0m8 0h0m-138 1h0m87 0h0m21 0h0m10 0h0m5 0h0m14 0h0m-168 1h0m13 0h0m7 0h0m9 0h0m5 0h0m10 0h0m4 0h0m2 0h0m8 0h0m22 0h0m9 0h0m15 0h0m28 0h0m5 0h0m23 0h0m-156 1h0m7 0h0m5 0h0m10 0h0m12 0h0m18 0h0m13 0h0m3 0h0m11 0h0m9 0h0m23 0h0m4 0h0m5 0h0m45 0h0m-163 1h0m9 0h0m6 0h0m26 0h0m18 0h0m36 0h0m10 0h0m15 0h0m3 0h0m32 0h0m3 0h0m10 0h0m-131 1h0m26 0h0m6 0h0m9 0h0m3 0h0m23 0h0m57 0h0m7 0h0m-174 1h0m38 0h0m15 0h0m5 0h0m20 0h0m12 0h0m4 0h0m19 0h0m3 0h0m13 0h0m7 0h0m4 0h0m10 0h0m-148 1h0m4 0h0m6 0h0m16 0h0m4 0h0m10 0h0m5 0h0m24 0h0m9 0h0m16 0h0m11 0h0m3 0h0m12 0h0m20 0h0m5 0h0m6 0h0m7 0h0m-162 1h0m42 0h0m0 0h0m27 0h0m5 0h0m56 0h0m20 0h0m23 0h0m-166 1h0m5 0h0m14 0h0m6 0h0m27 0h0m37 0h0m7 0h0m1 0h0m12 0h0m45 0h0m2 0h0m-144 1h0m7 0h0m24 0h0m4 0h0m13 0h0m11 0h0m9 0h0m6 0h0m42 0h0m3 0h0m4 0h0m4 0h0m11 0h0m10 0h0m-157 1h0m7 0h0m3 0h0m15 0h0m0 0h0m27 0h0m12 0h0m7 0h0m17 0h0m10 0h0m1 0h0m43 0h0m-141 1h0m40 0h0m1 0h0m13 0h0m15 0h0m8 0h0m3 0h0m17 0h0m11 0h0m4 0h0m1 0h0m8 0h0m10 0h0m5 0h0m1 0h0m28 0h0m-178 1h0m8 0h0m20 0h0m15 0h0m18 0h0m11 0h0m17 0h0m3 0h0m13 0h0m12 0h0m3 0h0m18 0h0m14 0h0m9 0h0m4 0h0m4 0h0m-168 1h0m24 0h0m5 0h0m9 0h0m42 0h0m8 0h0m14 0h0m27 0h0m33 0h0m-150 1h0m1 0h0m14 0h0m12 0h0m6 0h0m3 0h0m9 0h0m6 0h0m35 0h0m5 0h0m6 0h0m4 0h0m16 0h0m14 0h0m14 0h0m9 0h0m7 0h0m0 0h0m-170 1h0m6 0h0m24 0h0m10 0h0m11 0h0m21 0h0m52 0h0m11 0h0m31 0h0m-159 1h0m9 0h0m7 0h0m13 0h0m31 0h0m16 0h0m49 0h0m5 0h0m9 0h0m24 0h0m-172 1h0m86 0h0m4 0h0m32 0h0m11 0h0m23 0h0m6 0h0m8 0h0m-160 1h0m6 0h0m7 0h0m7 0h0m14 0h0m5 0h0m5 0h0m10 0h0m17 0h0m12 0h0m21 0h0m4 0h0m1 0h0m9 0h0m21 0h0m8 0h0m-151 1h0m30 0h0m25 0h0m10 0h0m16 0h0m10 0h0m14 0h0m11 0h0m16 0h0m8 0h0m-141 1h0m16 0h0m6 0h0m5 0h0m17 0h0m1 0h0m13 0h0m3 0h0m8 0h0m3 0h0m23 0h0m2 0h0m1 0h0m28 0h0m15 0h0m20 0h0m-129 1h0m20 0h0m12 0h0m11 0h0m34 0h0m6 0h0m13 0h0m22 0h0m10 0h0m-162 1h0m7 0h0m13 0h0m18 0h0m2 0h0m3 0h0m64 0h0m6 0h0m8 0h0m8 0h0m10 0h0m-137 1h0m10 0h0m7 0h0m5 0h0m23 0h0m25 0h0m7 0h0m7 0h0m3 0h0m12 0h0m16 0h0m20 0h0m11 0h0m8 0h0m-147 1h0m1 0h0m22 0h0m3 0h0m2 0h0m17 0h0m2 0h0m10 0h0m6 0h0m6 0h0m4 0h0m8 0h0m3 0h0m50 0h0m3 0h0m8 0h0m5 0h0m-146 1h0m16 0h0m71 0h0m5 0h0m4 0h0m3 0h0m11 0h0m10 0h0m5 0h0m11 0h0m5 0h0m-85 1h0m24 0h0m20 0h0m8 0h0m0 0h0m-88 1h0m9 0h0m2 0h0m28 0h0m8 0h0m13 0h0m16 0h0m10 0h0m17 0h0m9 0h0m-138 1h0m4 0h0m9 0h0m5 0h0m4 0h0m8 0h0m14 0h0m1 0h0m37 0h0m7 0h0m5 0h0m31 0h0m9 0h0m12 0h0m-136 1h0m18 0h0m18 0h0m24 0h0m6 0h0m38 0h0m4 0h0m31 0h0m-98 1h0m12 0h0m11 0h0m6 0h0m6 0h0m11 0h0m21 0h0m4 0h0m9 0h0m15 0h0m1 0h0m-146 1h0m6 0h0m2 0h0m3 0h0m3 0h0m4 0h0m6 0h0m10 0h0m5 0h0m17 0h0m13 0h0m30 0h0m5 0h0m8 0h0m22 0h0m2 0h0m-136 1h0m29 0h0m28 0h0m8 0h0m24 0h0m18 0h0m19 0h0m-101 1h0m19 0h0m2 0h0m21 0h0m6 0h0m17 0h0m1 0h0m11 0h0m10 0h0m18 0h0m-115 1h0m18 0h0m31 0h0m16 0h0m17 0h0m17 0h0m14 0h0m15 0h0m5 0h0m-143 1h0m7 0h0m7 0h0m8 0h0m0 0h0m9 0h0m39 0h0m10 0h0m31 0h0m4 0h0m3 0h0m3 0h0m-75 1h0m4 0h0m3 0h0m45 0h0m30 0h0m12 0h0m-129 1h0m14 0h0m6 0h0m29 0h0m16 0h0m5 0h0m7 0h0m15 0h0m13 0h0m9 0h0m7 0h0m9 0h0m-138 1h0m4 0h0m10 0h0m19 0h0m20 0h0m9 0h0m3 0h0m10 0h0m14 0h0m5 0h0m8 0h0m3 0h0m7 0h0m3 0h0m20 0h0m-123 1h0m24 0h0m5 0h0m40 0h0m13 0h0m10 0h0m26 0h0m-134 1h0m12 0h0m19 0h0m40 0h0m11 0h0m9 0h0m33 0h0m4 0h0m-112 1h0m22 0h0m2 0h0m9 0h0m7 0h0m4 0h0m9 0h0m9 0h0m15 0h0m15 0h0m25 0h0m-131 1h0m19 0h0m2 0h0m5 0h0m9 0h0m2 0h0m25 0h0m0 0h0m8 0h0m8 0h0m2 0h0m21 0h0m11 0h0m-112 1h0m3 0h0m14 0h0m17 0h0m59 0h0m11 0h0m11 0h0m4 0h0m-109 1h0m5 0h0m8 0h0m8 0h0m11 0h0m13 0h0m19 0h0m25 0h0m25 0h0m11 0h0m-72 1h0m23 0h0m4 0h0m38 0h0m-152 1h0m43 0h0m9 0h0m39 0h0m2 0h0m33 0h0m16 0h0m-114 1h0m8 0h0m19 0h0m5 0h0m6 0h0m7 0h0m6 0h0m21 0h0m10 0h0m18 0h0m5 0h0m16 0h0m-124 1h0m15 0h0m7 0h0m24 0h0m11 0h0m4 0h0m16 0h0m2 0h0m17 0h0m3 0h0m23 0h0m-31 1h0m23 0h0m18 0h0m-104 1h0m6 0h0m26 0h0m10 0h0m10 0h0m4 0h0m5 0h0m-71 1h0m45 0h0m10 0h0m3 0h0m27 0h0m23 0h0m-137 1h0m32 0h0m14 0h0m19 0h0m5 0h0m34 0h0m9 0h0m7 0h0m1 0h0m4 0h0m5 0h0m-115 1h0m19 0h0m11 0h0m14 0h0m30 0h0m9 0h0m35 0h0m6 0h0m-118 1h0m24 0h0m35 0h0m6 0h0m8 0h0m13 0h0m8 0h0m-63 1h0m15 0h0m34 0h0m9 0h0m10 0h0m-90 1h0m20 0h0m28 0h0m14 0h0m21 0h0m4 0h0m9 0h0m3 0h0m2 0h0m5 0h0m3 0h0m-99 1h0m4 0h0m33 0h0m6 0h0m17 0h0m22 0h0m-100 1h0m37 0h0m8 0h0m1 0h0m7 0h0m10 0h0m11 0h0m2 0h0m6 0h0m3 0h0m-104 1h0m31 0h0m1 0h0m53 0h0m12 0h0m8 0h0m24 0h0m-134 1h0m51 0h0m24 0h0m21 0h0m22 0h0m10 0h0m-105 1h0m34 0h0m27 0h0m27 0h0m8 0h0m0 0h0m6 0h0m13 0h0m-122 1h0m26 0h0m45 0h0m2 0h0m-72 1h0m8 0h0m22 0h0m21 0h0m10 0h0m2 0h0m23 0h0m4 0h0m3 0h0m16 0h0m7 0h0m-131 1h0m7 0h0m42 0h0m4 0h0m17 0h0m4 0h0m10 0h0m8 0h0m4 0h0m16 0h0m-105 1h0m39 0h0m11 0h0m36 0h0m-76 1h0m40 0h0m10 0h0m6 0h0m2 0h0m6 0h0m5 0h0m3 0h0m13 0h0m16 0h0m4 0h0m-102 1h0m47 0h0m42 0h0m-110 1h0m44 0h0m47 0h0m7 0h0m14 0h0m4 0h0m12 0h0m-78 1h0m15 0h0m60 0h0m-97 1h0m10 0h0m3 0h0m5 0h0m7 0h0m5 0h0m11 0h0m3 0h0m2 0h0m8 0h0m7 0h0m7 0h0m5 0h0m3 0h0m6 0h0m4 0h0m5 0h0m2 0h0m-143 1h0m104 0h0m-77 1h0m44 0h0m28 0h0m23 0h0m5 0h0m11 0h0m-85 1h0m7 0h0m35 0h0m9 0h0m5 0h0m26 0h0m8 0h0m-80 1h0m0 0h0m24 0h0m27 0h0m10 0h0m6 0h0m17 0h0m-128 1h0m29 0h0m69 0h0m3 0h0m9 0h0m5 0h0m-115 1h0m34 0h0m23 0h0m17 0h0m12 0h0m10 0h0m-54 1h0m6 0h0m14 0h0m8 0h0m21 0h0m15 0h0m5 0h0m-105 1h0m46 0h0m14 0h0m5 0h0m7 0h0m5 0h0m1 0h0m17 0h0m13 0h0m4 0h0m1 0h0m-117 1h0m31 0h0m12 0h0m31 0h0m20 0h0m-98 1h0m6 0h0m51 0h0m24 0h0m8 0h0m6 0h0m-95 1h0m48 0h0m19 0h0m23 0h0m-86 1h0m28 0h0m16 0h0m24 0h0m8 0h0m5 0h0m19 0h0m1 0h0m11 0h0m1 0h0m-106 1h0m53 0h0m28 0h0m18 0h0m7 0h0m-71 1h0m40 0h0m33 0h0m1 0h0m-81 1h0m14 0h0m23 0h0m20 0h0m16 0h0m-69 1h0m13 0h0m5 0h0m9 0h0m48 0h0m-69 1h0m24 0h0m2 0h0m4 0h0m5 0h0m7 0h0m4 0h0m7 0h0m-37 1h0m27 0h0m6 0h0m9 0h0m6 0h0m-42 1h0m9 0h0m7 0h0m2 0h0m8 0h0m-62 1h0m23 0h0m42 0h0m6 0h0m-65 1h0m68 0h0m-113 1h0m3 0h0m2 0h0m1 0h0m60 0h0m9 0h0m23 0h0m5 0h0m7 0h0m-111 1h0m39 0h0m7 0h0m14 0h0m23 0h0m2 0h0m-82 1h0m49 0h0m31 0h0m10 0h0m3 0h0m1 0h0m13 0h0m-100 1h0m34 0h0m19 0h0m16 0h0m8 0h0m2 0h0m-69 1h0m35 0h0m39 0h0m7 0h0m7 0h0m-63 1h0m26 0h0m37 0h0m-106 1h0m9 0h0m42 0h0m6 0h0m29 0h0m20 0h0m-47 1h0m3 0h0m11 0h0m3 0h0m6 0h0m15 0h0m7 0h0m-14 1h0m-88 1h0m45 0h0m28 0h0m4 0h0m14 0h0m2 0h0m-50 1h0m16 0h0m6 0h0m20 0h0m7 0h0m11 0h0m-50 1h0m14 0h0m7 0h0m23 0h0m-14 1h0m-88 1h0m46 0h0m11 0h0m25 0h0m9 0h0m10 0h0m-106 1h0m6 0h0m53 0h0m8 0h0m7 0h0m20 0h0m9 0h0m-74 1h0m43 0h0m-69 1h0m60 0h0m46 0h0m-34 1h0m2 0h0m6 0h0m9 0h0m4 0h0m2 0h0m8 0h0m3 0h0m5 0h0m-118 1h0m115 0h0m-61 1h0m4 0h0m1 0h0m3 0h0m30 0h0m-26 1h0m32 0h0m3 0h0m14 0h0m-107 1h0m71 0h0m1 0h0m4 0h0m4 0h0m5 0h0m12 0h0m4 0h0m-109 1h0m97 0h0m13 0h0m-103 1h0m49 0h0m9 0h0m25 0h0m-96 1h0m10 0h0m57 0h0m26 0h0m13 0h0m-110 1h0m5 0h0m105 0h0m5 0h0m-114 1h0m58 0h0m19 0h0m24 0h0m13 0h0m4 0h0m-122 1h0m83 0h0m-83 1h0m10 0h0m59 0h0m6 0h0m8 0h0m6 0h0m11 0h0m4 0h0m5 0h0m0 0h0m17 0h0m-109 1h0m74 0h0m5 1h0m5 0h0m11 0h0m-40 1h0m6 0h0m-76 1h0m91 0h0m12 0h0m-388 1h0m326 0h0m31 0h0m4 0h0m-369 1h0m371 0h0m22 0h0m-93 1h0m84 0h0m6 0h0m-325 2h0m216 0h0m15 0h0m78 0h0m3 0h0m-91 1h0m16 0h0m54 0h0m-58 1h0m68 0h0m9 0h0m-60 1h0m36 0h0m12 0h0m6 0h0m10 0h0m-114 1h0m10 0h0m15 0h0m9 0h0m28 0h0m-48 1h0m5 0h0m11 0h0m0 0h0m79 0h0m-102 1h0m6 0h0m5 1h0m33 0h0m3 0h0m22 0h0m-99 1h0m4 0h0m20 0h0m32 0h0m-64 1h0m69 0h0m-72 1h0m9 0h0m19 0h0m2 0h0m-204 1h0m219 0h0m-194 1h0m199 0h0m8 0h0m21 0h0m37 0h0m-100 1h0m7 0h0m6 0h0m31 0h0m-253 1h0m199 0h0m18 0h0m18 0h0m5 0h0m-211 1h0m4 0h0m268 0h0m10 0h0m6 0h0m-122 1h0m7 0h0m22 0h0m23 0h0m15 0h0m-286 1h0m66 0h0m184 0h0m27 0h0m-74 1h0m1 0h0m4 0h0m26 0h0m14 0h0m-36 1h0m2 0h0m52 0h0m25 0h0m1 0h0m-90 1h0m17 0h0m14 0h0m11 0h0m2 0h0m31 0h0m4 0h0m-19 1h0m8 0h0m-188 1h0m144 0h0m73 0h0m12 0h0m19 0h0m-108 1h0m-3 1h0m7 0h0m7 0h0m2 0h0m18 0h0m8 0h0m5 0h0m9 0h0m9 0h0m8 0h0m-94 1h0m23 0h0m18 0h0m-213 1h0m218 0h0m24 0h0m-70 1h0m89 0h0m-107 1h0m7 0h0m55 0h0m6 0h0m7 0h0m13 0h0m12 0h0m-250 1h0m159 0h0m1 0h0m10 0h0m11 0h0m2 0h0m49 0h0m22 0h0m-241 1h0m176 0h0m13 0h0m26 0h0m5 0h0m-22 1h0m9 0h0m0 0h0m2 0h0m25 0h0m5 0h0m16 0h0m-225 1h0m52 0h0m103 0h0m13 0h0m46 0h0m-115 1h0m23 0h0m46 0h0m13 0h0m18 0h0m-160 1h0m16 0h0m76 0h0m5 0h0m7 0h0m63 0h0m10 0h0m-160 1h0m51 0h0m28 0h0m15 0h0m71 0h0m-176 1h0m13 0h0m43 0h0m16 0h0m8 0h0m7 0h0m16 0h0m12 0h0m10 0h0m18 0h0m9 0h0m16 0h0m12 0h0m-163 1h0m20 0h0m77 0h0m20 0h0m29 0h0m17 0h0m-74 1h0m46 0h0m40 0h0m-174 1h0m24 0h0m24 0h0m4 0h0m39 0h0m50 0h0m19 0h0m-165 1h0m12 0h0m14 0h0m55 0h0m5 0h0m11 0h0m12 0h0m6 0h0m33 0h0m-112 1h0m3 0h0m15 0h0m3 0h0m7 0h0m59 0h0m7 0h0m2 0h0m-106 1h0m23 0h0m0 0h0m11 0h0m43 0h0m12 0h0m5 0h0m-241 1h0m173 0h0m20 0h0m71 0h0m-141 1h0m12 0h0m13 0h0m40 0h0m5 0h0m12 0h0m25 0h0m24 0h0m10 0h0m-114 1h0m45 0h0m89 0h0m1 0h0m1 0h0m-166 1h0m56 0h0m35 0h0m13 0h0m56 0h0m10 0h0m-165 1h0m3 0h0m38 0h0m6 0h0m64 0h0m36 0h0m23 0h0m-162 1h0m49 0h0m33 0h0m58 0h0m4 0h0m7 0h0m-132 1h0m50 0h0m27 0h0m65 0h0m13 0h0m-182 1h0m6 0h0m4 0h0m73 0h0m30 0h0m3 0h0m18 0h0m4 0h0m35 0h0m2 0h0m-266 1h0m91 0h0m23 0h0m9 0h0m9 0h0m34 0h0m15 0h0m40 0h0m35 0h0m-141 1h0m20 0h0m84 0h0m10 0h0m24 0h0m-158 1h0m13 0h0m12 0h0m18 0h0m4 0h0m74 0h0m21 0h0m2 0h0m-127 1h0m38 0h0m11 0h0m13 0h0m2 0h0m-76 1h0m54 0h0m8 0h0m49 0h0m-84 1h0m8 0h0m5 0h0m11 0h0m42 0h0m67 0h0m10 0h0m-215 1h0m55 0h0m42 0h0m46 0h0m47 0h0m9 0h0m-110 1h0m44 0h0m21 0h0m12 0h0m1 0h0m14 0h0m14 0h0m-140 1h0m4 0h0m29 0h0m6 0h0m9 0h0m18 0h0m56 0h0m29 0h0m-157 1h0m17 0h0m3 0h0m14 0h0m65 0h0m18 0h0m14 0h0m5 0h0m4 0h0m11 0h0m-90 1h0m4 0h0m4 0h0m1 0h0m5 0h0m3 0h0m12 0h0m6 0h0m7 0h0m-209 1h0m112 0h0m53 0h0m24 0h0m24 0h0m44 0h0m-162 1h0m110 0h0m13 0h0m14 0h0m13 0h0m-207 1h0m58 0h0m6 0h0m14 0h0m119 0h0m-53 1h0m4 0h0m22 0h0m21 0h0m29 0h0m-258 1h0m40 0h0m58 0h0m2 0h0m6 0h0m16 0h0m26 0h0m17 0h0m8 0h0m17 0h0m13 0h0m31 0h0m17 0h0m19 0h0m-284 1h0m105 0h0m39 0h0m8 0h0m19 0h0m4 0h0m34 0h0m11 0h0m18 0h0m26 0h0m-119 1h0m64 0h0m21 0h0m-73 1h0m18 0h0m6 0h0m9 0h0m69 0h0m12 0h0m5 0h0m-274 1h0m104 0h0m16 0h0m11 0h0m29 0h0m36 0h0m43 0h0m20 0h0m6 0h0m-154 1h0m20 0h0m69 0h0m4 0h0m15 0h0m-140 1h0m38 0h0m19 0h0m2 0h0m11 0h0m3 0h0m20 0h0m12 0h0m23 0h0m39 0h0m9 0h0m-133 1h0m46 0h0m13 0h0m15 0h0m3 0h0m44 0h0m-199 1h0m89 0h0m56 0h0m24 0h0m20 0h0m11 0h0m5 0h0m-110 1h0m53 0h0m42 0h0m37 0h0m-167 1h0m12 0h0m28 0h0m14 0h0m7 0h0m62 0h0m-224 1h0m117 0h0m10 0h0m43 0h0m25 0h0m5 0h0m4 0h0m49 0h0m6 0h0m-95 1h0m12 0h0m54 0h0m-106 1h0m9 0h0m76 0h0m5 0h0m28 0h0m3 0h0m10 0h0m6 0h0m-282 1h0m165 0h0m0 0h0m6 0h0m3 0h0m3 0h0m-172 1h0m119 0h0m13 0h0m88 0h0m49 0h0m-140 1h0m3 0h0m35 0h0m19 0h0m81 0h0m-125 1h0m11 0h0m38 0h0m15 0h0m13 0h0m13 0h0m21 0h0m24 0h0m-291 1h0m95 0h0m68 0h0m3 0h0m18 0h0m42 0h0m19 0h0m7 0h0m37 0h0m-50 1h0m39 0h0m-233 1h0m5 0h0m86 0h0m51 0h0m3 0h0m26 0h0m15 0h0m29 0h0m15 0h0m5 0h0m-136 1h0m1 0h0m9 0h0m18 0h0m1 0h0m6 0h0m15 0h0m10 0h0m9 0h0m34 0h0m19 0h0m-217 1h0m12 0h0m48 0h0m24 0h0m18 0h0m22 0h0m7 0h0m70 0h0m33 0h0m-200 1h0m76 0h0m16 0h0m10 0h0m14 0h0m29 0h0m-22 1h0m41 0h0m-160 1h0m61 0h0m13 0h0m6 0h0m121 0h0m-285 1h0m134 0h0m3 0h0m14 0h0m73 0h0m3 0h0m36 0h0m2 0h0m-254 1h0m168 0h0m12 0h0m5 0h0m10 0h0m2 0h0m23 0h0m21 0h0m19 0h0m-120 1h0m12 0h0m37 0h0m20 0h0m6 0h0m25 0h0m7 0h0m4 0h0m-228 1h0m8 0h0m59 0h0m34 0h0m11 0h0m24 0h0m3 0h0m40 0h0m22 0h0m-75 1h0m13 0h0m57 0h0m28 0h0m7 0h0m-90 1h0m13 0h0m52 0h0m7 0h0m-203 1h0m165 0h0m7 0h0m38 0h0m19 0h0m-260 1h0m129 0h0m47 0h0m6 0h0m8 0h0m19 0h0m1 0h0m38 0h0m-123 1h0m33 0h0m2 0h0m6 0h0m41 0h0m12 0h0m19 0h0m26 0h0m-131 1h0m99 0h0m-157 1h0m55 0h0m20 0h0m36 0h0m6 0h0m3 0h0m21 0h0m32 0h0m-70 1h0m7 0h0m45 0h0m-99 1h0m23 0h0m34 0h0m6 0h0m15 0h0m-77 1h0m3 0h0m30 0h0m15 0h0m5 0h0m14 0h0m7 0h0m9 0h0m4 0h0m-150 1h0m84 0h0m74 0h0m17 0h0m-165 1h0m46 0h0m38 0h0m13 0h0m32 0h0m12 0h0m16 0h0m16 0h0m0 0h0m-121 1h0m59 0h0m22 0h0m-145 1h0m20 0h0m13 0h0m28 0h0m8 0h0m10 0h0m9 0h0m30 0h0m4 0h0m6 0h0m3 0h0m31 0h0m-136 1h0m48 0h0m5 0h0m59 0h0m-136 1h0m50 0h0m59 0h0m48 0h0m13 0h0m12 0h0m-187 1h0m64 0h0m70 0h0m23 0h0m-89 1h0m13 0h0m6 0h0m29 0h0m13 0h0m-96 1h0m72 0h0m33 0h0m-127 1h0m4 0h0m52 0h0m7 0h0m15 0h0m5 0h0m2 0h0m25 0h0m7 0h0m28 0h0m23 0h0m-99 1h0m33 0h0m25 0h0m23 0h0m8 0h0m5 0h0m-232 1h0m80 0h0m114 0h0m39 0h0m-125 1h0m22 0h0m24 0h0m64 0h0m8 0h0m-167 1h0m120 0h0m26 0h0m1 0h0m-95 1h0m3 0h0m9 0h0m38 0h0m-86 1h0m-22 1h0m0 0h0m24 0h0m90 0h0m21 0h0m6 0h0m20 0h0m5 0h0m-162 1h0m146 0h0m5 0h0m8 0h0m-115 1h0m22 0h0m24 0h0m-114 1h0m62 0h0m11 0h0m70 0h0m35 0h0m-23 1h0m-163 1h0m26 0h0m7 0h0m50 0h0m66 0h0m18 0h0m-74 1h0m17 0h0m32 0h0m18 0h0m-112 1h0m104 0h0m-170 1h0m65 0h0m120 0h0m4 0h0m8 0h0m-107 1h0m64 0h0m-102 1h0m5 0h0m107 0h0m30 0h0m-176 1h0m15 0h0m15 0h0m10 0h0m-4 1h0m23 0h0m-69 1h0m82 0h0m35 0h0m-112 1h0m44 0h0m13 0h0m85 0h0m-149 1h0m28 0h0m12 0h0m51 0h0m7 0h0m63 0h0m18 0h0m-65 1h0m48 0h0m-89 1h0m46 0h0m26 0h0m11 0h0m14 0h0m6 0h0m-157 1h0m12 0h0m9 0h0m9 0h0m8 0h0m-66 1h0m23 0h0m116 0h0m7 0h0m31 0h0m-140 1h0m22 0h0m26 0h0m79 0h0m4 0h0m12 0h0m-182 1h0m14 0h0m157 0h0m11 0h0m-163 1h0m16 0h0m56 0h0m3 0h0m70 0h0m2 0h0m15 0h0m-151 1h0m113 0h0m-50 1h0m84 0h0m-103 1h0m9 0h0m91 0h0m-136 1h0m80 0h0m39 0h0m-99 1h0m-37 1h0m27 0h0m23 0h0m16 0h0m42 0h0m9 0h0m26 0h0m3 0h0m-158 1h0m70 0h0m72 0h0m-119 1h0m133 0h0m-21 1h0m-84 2h0m-12 1h0m11 0h0m87 0h0m-128 1h0m8 1h0m36 1h0m-12 3h0m10 0h0m-6 1h0m-21 1h0m37 0h0m-3 2h0m-8 1h0m-9 1h0m3 0h0m-11 2h0" stroke="#02020e" stroke-width="6.0" stroke-linecap="round" fill="none"/><path d="M1649 1131h0m2 40h0m-10 19h0m28 91h0m1 4h0m0 8h0m-1 6h0m-8 7h0m6 2h0m-3 3h0m18 5h0m6 2h0m-36 4h0m6 0h0m-7 2h0m-1 1h0m10 0h0m36 2h0m-40 2h0m12 4h0m-23 1h0m37 3h0m-19 1h0m-26 9h0m5 0h0m3 0h0m-19 1h0m78 1h0m-320 1h0m239 0h0m3 1h0m18 0h0m-9 3h0m-298 1h0m277 0h0m2 1h0m68 0h0m-75 1h0m-210 2h0m199 2h0m103 0h0m-97 1h0m30 0h0m-267 1h0m208 0h0m17 0h0m19 0h0m-253 1h0m263 0h0m52 0h0m-90 1h0m25 1h0m-205 1h0m163 1h0m4 0h0m93 0h0m-51 1h0m17 0h0m7 1h0m-45 1h0m2 0h0m28 0h0m-60 1h0m83 0h0m-235 2h0m145 0h0m53 0h0m4 0h0m-18 2h0m-240 1h0m297 0h0m-48 1h0m8 0h0m49 1h0m-42 1h0m12 0h0m18 0h0m-115 2h0m49 0h0m-193 2h0m163 0h0m14 0h0m4 0h0m73 0h0m-249 1h0m141 0h0m26 0h0m15 0h0m69 0h0m-15 1h0m-108 1h0m101 0h0m-265 1h0m229 0h0m50 0h0m-191 1h0m70 1h0m4 0h0m93 0h0m7 0h0m8 0h0m-136 1h0m89 0h0m14 0h0m-74 1h0m6 0h0m118 0h0m4 0h0m7 0h0m-124 1h0m62 0h0m-92 1h0m56 0h0m74 0h0m-255 1h0m213 0h0m58 0h0m-204 1h0m52 0h0m27 0h0m40 0h0m48 0h0m-111 1h0m103 0h0m4 0h0m15 0h0m18 0h0m3 0h0m11 1h0m-204 1h0m24 0h0m50 0h0m55 0h0m19 0h0m9 0h0m-55 1h0m3 0h0m16 0h0m52 0h0m-180 1h0m118 0h0m-88 1h0m34 0h0m37 0h0m38 0h0m17 1h0m-232 1h0m230 0h0m-211 1h0m104 0h0m36 0h0m65 0h0m15 0h0m15 0h0m11 0h0m-185 1h0m50 0h0m31 1h0m40 1h0m26 0h0m13 0h0m16 0h0m-180 1h0m46 0h0m125 0h0m11 0h0m21 0h0m4 0h0m-146 1h0m12 0h0m6 0h0m10 0h0m80 0h0m-212 1h0m91 0h0m50 0h0m57 0h0m34 0h0m-163 1h0m29 0h0m149 0h0m-194 1h0m109 0h0m63 0h0m-120 1h0m23 1h0m7 0h0m-177 1h0m183 0h0m98 0h0m-270 1h0m135 0h0m37 0h0m112 1h0m-291 1h0m16 0h0m135 0h0m2 0h0m95 0h0m-61 1h0m-23 1h0m65 0h0m-24 1h0m49 0h0m4 0h0m-71 1h0m47 0h0m-45 1h0m-10 1h0m58 0h0m24 0h0m-95 1h0m32 0h0m83 0h0m-130 1h0m97 0h0m6 0h0m35 0h0m-160 1h0m21 0h0m54 0h0m58 0h0m8 0h0m-85 1h0m4 0h0m5 0h0m15 0h0m32 0h0m43 0h0m-113 1h0m38 0h0m5 0h0m5 0h0m7 0h0m6 0h0m41 0h0m-233 1h0m18 0h0m87 0h0m72 0h0m-83 1h0m127 0h0m-132 3h0m29 0h0m49 0h0m13 0h0m35 0h0m-97 1h0m11 0h0m43 0h0m38 0h0m6 0h0m11 1h0m2 0h0m15 1h0m-68 1h0m-70 1h0m2 0h0m5 0h0m11 0h0m43 0h0m72 0h0m-28 1h0m21 0h0m-43 1h0m24 0h0m-250 1h0m135 0h0m94 0h0m4 0h0m32 0h0m-200 2h0m97 0h0m23 0h0m50 0h0m1 0h0m5 0h0m28 0h0m-261 1h0m46 0h0m84 0h0m25 0h0m18 0h0m21 0h0m57 1h0m3 0h0m7 0h0m-142 1h0m52 0h0m92 0h0m-20 1h0m24 1h0m-148 1h0m6 1h0m32 0h0m3 1h0m8 0h0m3 0h0m81 0h0m-133 1h0m51 0h0m39 1h0m-169 1h0m173 0h0m30 0h0m-121 1h0m117 0h0m15 1h0m-86 1h0m65 0h0m-135 1h0m23 0h0m83 0h0m-151 1h0m24 0h0m58 0h0m39 0h0m59 0h0m15 0h0m-107 1h0m21 0h0m4 0h0m4 0h0m58 0h0m-118 1h0m-21 1h0m84 0h0m-16 1h0m11 0h0m47 0h0m4 0h0m17 1h0m12 0h0m1 0h0m-252 1h0m58 0h0m7 0h0m10 0h0m23 0h0m6 0h0m5 0h0m83 0h0m-100 1h0m29 0h0m71 0h0m30 0h0m-169 1h0m51 0h0m27 0h0m19 0h0m26 0h0m-175 1h0m106 0h0m7 0h0m17 0h0m35 0h0m14 0h0m40 0h0m-123 1h0m49 0h0m39 0h0m-129 1h0m133 0h0m42 0h0m-172 1h0m19 0h0m14 0h0m99 0h0m28 0h0m-124 1h0m5 0h0m13 0h0m25 0h0m8 0h0m35 0h0m30 0h0m-93 1h0m-1 1h0m44 0h0m46 0h0m-84 1h0m40 0h0m40 0h0m-147 1h0m34 0h0m49 1h0m12 0h0m15 0h0m33 0h0m2 0h0m16 0h0m-192 2h0m70 0h0m13 0h0m-83 1h0m44 0h0m36 0h0m114 0h0m-206 1h0m43 0h0m84 0h0m56 0h0m-117 1h0m136 0h0m-150 1h0m40 0h0m8 1h0m33 0h0m14 0h0m44 0h0m-145 1h0m10 0h0m13 0h0m5 0h0m-54 1h0m7 0h0m138 0h0m-162 1h0m20 0h0m24 0h0m59 0h0m2 0h0m73 0h0m-140 1h0m33 0h0m8 0h0m12 0h0m4 0h0m65 0h0m-131 1h0m56 0h0m57 0h0m-118 1h0m54 0h0m27 1h0m63 0h0m-154 1h0m15 0h0m15 0h0m39 0h0m45 0h0m-110 1h0m23 0h0m25 0h0m2 0h0m63 0h0m-125 1h0m71 0h0m-15 1h0m35 0h0m-89 1h0m119 0h0m45 0h0m-128 1h0m27 0h0m4 0h0m17 0h0m8 0h0m57 0h0m-152 1h0m6 0h0m26 0h0m8 0h0m29 0h0m64 0h0m27 1h0m-32 1h0m-102 2h0m41 0h0m51 0h0m-95 1h0m90 0h0m-106 1h0m12 0h0m9 0h0m22 0h0m82 0h0m-90 1h0m30 0h0m76 0h0m-83 1h0m3 0h0m-46 1h0m22 1h0m11 0h0m4 0h0m65 0h0m-93 1h0m-18 1h0m10 0h0m13 1h0m16 0h0m17 0h0m-47 6h0m6 0h0m14 0h0m-7 2h0m17 0h0m-5 3h0m-4 1h0" stroke="#0e092b" stroke-width="6.0" stroke-linecap="round" fill="none"/><path d="M1476 1412h0m-48 16h0m25 41h0m26 2h0m-13 1h0m-21 1h0m-25 1h0m29 5h0m20 1h0m-8 3h0m27 1h0m4 0h0m-27 2h0m-79 2h0m84 0h0m-29 3h0m-25 2h0m40 0h0m-21 1h0m52 0h0m-46 1h0m-6 4h0m15 0h0m30 2h0m-61 1h0m20 0h0m32 0h0m-76 2h0m0 2h0m33 0h0m34 2h0m-63 5h0m36 0h0m7 8h0m-21 1h0" stroke="#210c4a" stroke-width="6.0" stroke-linecap="round" fill="none"/><path d="M1681 1273h0m10 8h0m36 1h0m-34 2h0m34 0h0m-28 2h0m-7 1h0m-8 7h0m45 0h0m-70 14h0m6 3h0m13 31h0m-47 9h0m-1 10h0m13 0h0m-11 2h0m2 0h0m52 0h0m-62 3h0m13 0h0m-65 8h0m-17 3h0m138 0h0m-134 1h0m74 0h0m-55 2h0m92 4h0m-126 6h0m67 0h0m-105 3h0m60 1h0m8 0h0m62 0h0m-126 3h0m54 0h0m23 0h0m-58 1h0m96 0h0m-158 2h0m99 0h0m50 0h0m-7 1h0m5 1h0m-4 1h0m-49 1h0m-22 1h0m-58 1h0m31 3h0m17 2h0m37 0h0m-98 2h0m149 1h0m-157 2h0m36 0h0m21 1h0m17 5h0m72 0h0m-93 1h0m41 2h0m-47 4h0m54 1h0m65 0h0m25 0h0m-122 1h0m41 1h0m-61 1h0m53 1h0m-21 1h0m93 0h0m-77 1h0m75 0h0m-144 1h0m94 1h0m-146 3h0m209 0h0m-93 1h0m23 2h0m-75 3h0m14 0h0m50 1h0m31 0h0m-179 2h0m68 1h0m38 0h0m32 2h0m75 0h0m-140 2h0m147 0h0m-164 1h0m161 2h0m-213 1h0m56 0h0m110 4h0m-151 1h0m35 0h0m61 1h0m51 0h0m-98 4h0m-97 1h0m162 0h0m-114 1h0m146 2h0m-18 1h0m-152 1h0m59 0h0m89 0h0m-133 5h0m-1 1h0m152 0h0m-92 1h0m-86 3h0m147 0h0m20 1h0m-12 4h0m-152 1h0m48 0h0m-17 6h0m17 3h0m30 0h0m-96 1h0m26 0h0m2 0h0m56 1h0m-44 2h0m-1 2h0m24 8h0m-8 1h0m20 0h0" stroke="#360961" stroke-width="6.0" stroke-linecap="round" fill="none"/><path d="M1790 1104h0m-100 9h0m30 25h0m-25 8h0m45 11h0m-19 6h0m-3 9h0m7 7h0m77 30h0m-116 22h0m3 43h0m28 3h0m-26 1h0m-12 3h0m-8 1h0m25 7h0m1 2h0m-7 1h0m13 0h0m-7 1h0m-31 4h0m46 0h0m16 0h0m-8 6h0m9 2h0m-34 3h0m2 0h0m5 6h0m2 1h0m7 0h0m16 1h0m-5 5h0m7 0h0m-11 12h0m-77 5h0m-297 2h0m374 0h0m-44 2h0m41 0h0m-3 10h0m12 0h0m-10 4h0m-116 3h0m111 0h0m-104 1h0m19 4h0m-25 5h0m17 1h0m18 0h0m9 4h0m-61 1h0m59 1h0m-16 2h0m-76 1h0m76 0h0m-41 1h0m95 1h0m-228 1h0m126 0h0m-46 1h0m62 2h0m-150 1h0m92 1h0m83 0h0m-16 1h0m-75 3h0m75 0h0m73 0h0m-198 1h0m135 1h0m-148 1h0m29 1h0m13 0h0m-24 2h0m36 1h0m94 1h0m-156 1h0m25 1h0m150 0h0m-156 1h0m77 0h0m3 0h0m-45 1h0m26 0h0m98 1h0m-76 1h0m10 0h0m34 1h0m-116 2h0m114 0h0m-46 1h0m21 1h0m-102 2h0m109 0h0m-100 1h0m73 1h0m13 0h0m-88 1h0m53 0h0m114 0h0m-39 1h0m-178 1h0m153 0h0m7 0h0m-153 2h0m177 0h0m-139 1h0m90 0h0m15 1h0m21 0h0m-93 1h0m12 0h0m-70 2h0m158 4h0m-70 1h0m-111 3h0m-23 1h0m88 0h0m5 2h0m-46 1h0m96 0h0m-94 1h0m127 0h0m-112 1h0m126 0h0m-149 2h0m59 6h0m59 1h0m-109 1h0m149 1h0m-48 1h0m-88 1h0m21 1h0m-88 1h0m65 0h0m-29 3h0m175 1h0m-130 1h0m66 1h0m-102 2h0m108 0h0m-73 1h0m-26 1h0m28 0h0m9 1h0m-68 1h0m30 0h0m7 0h0m108 0h0m22 0h0m-181 1h0m16 0h0m5 0h0m38 0h0m40 2h0m-77 2h0m17 0h0m39 0h0m91 1h0m-155 2h0m23 0h0m-38 1h0m45 0h0m22 0h0m128 0h0m-24 1h0m-101 1h0m-27 1h0m15 0h0m-23 1h0m35 0h0m81 0h0m6 0h0m-119 1h0m-11 1h0m-25 1h0m6 2h0m-25 1h0m20 0h0m44 0h0m12 0h0m-37 1h0m-7 1h0m-41 2h0m23 0h0m85 2h0m71 0h0m-164 3h0m65 1h0m12 1h0m-64 2h0m-23 1h0m93 1h0m-79 1h0m10 2h0m32 0h0m7 0h0m-44 1h0m25 2h0m23 1h0m-52 1h0m49 0h0m17 0h0m-44 2h0m14 0h0m19 3h0m-3 1h0m-45 1h0m40 0h0m-33 2h0m-9 1h0m48 0h0m-28 1h0m2 1h0m5 0h0m1 3h0" stroke="#4c0c6b" stroke-width="6.0" stroke-linecap="round" fill="none"/><path d="M1726 1115h0m0 78h0m-55 1h0m67 32h0m87 2h0m-104 31h0m-36 15h0m36 1h0m-54 13h0m30 1h0m4 17h0m13 1h0m11 4h0m-68 2h0m66 1h0m-22 8h0m-42 3h0m-316 1h0m302 4h0m-303 1h0m387 0h0m-385 5h0m-3 5h0m2 0h0m13 0h0m373 2h0m-86 1h0m74 4h0m-130 16h0m-11 1h0m30 2h0m-187 3h0m159 2h0m-143 1h0m-38 1h0m243 0h0m-30 3h0m-167 1h0m-31 1h0m145 0h0m42 0h0m-12 1h0m-41 1h0m22 0h0m-116 1h0m-8 1h0m14 0h0m169 1h0m-87 1h0m48 0h0m-123 1h0m88 0h0m-119 3h0m106 0h0m26 0h0m-113 2h0m27 0h0m74 2h0m93 0h0m-101 2h0m31 1h0m4 1h0m-123 1h0m68 0h0m18 0h0m-78 3h0m-18 1h0m30 0h0m38 0h0m60 0h0m-219 3h0m165 0h0m-61 1h0m86 0h0m108 0h0m-194 1h0m36 0h0m82 2h0m11 0h0m-145 2h0m20 0h0m146 0h0m-123 2h0m136 0h0m-183 1h0m45 0h0m-28 1h0m44 0h0m137 0h0m-207 1h0m50 0h0m2 1h0m8 0h0m63 0h0m62 0h0m-87 1h0m-76 1h0m118 0h0m-30 2h0m-113 1h0m23 0h0m21 0h0m26 0h0m97 0h0m-99 4h0m55 0h0m-98 1h0m159 0h0m-55 2h0m-119 1h0m8 1h0m144 1h0m-147 2h0m7 0h0m157 0h0m-141 1h0m86 0h0m44 0h0m-220 2h0m243 1h0m-224 2h0m64 0h0m38 0h0m111 1h0m10 0h0m-198 1h0m34 0h0m117 0h0m-52 1h0m59 0h0m-43 2h0m17 0h0m24 0h0m33 1h0m29 0h0m-174 1h0m71 0h0m-72 1h0m6 0h0m46 1h0m99 0h0m-182 1h0m141 0h0m-142 1h0m15 0h0m148 0h0m8 0h0m6 0h0m-172 1h0m24 0h0m-7 1h0m-15 1h0m30 0h0m3 2h0m13 0h0m89 0h0m-40 1h0m-65 1h0m-62 1h0m57 0h0m49 0h0m57 0h0m55 0h0m-142 1h0m2 0h0m-62 1h0m74 0h0m103 0h0m15 0h0m-235 1h0m23 0h0m148 1h0m65 0h0m-208 1h0m19 0h0m20 0h0m30 0h0m73 2h0m-91 1h0m141 0h0m5 0h0m-164 1h0m138 1h0m-84 1h0m-91 1h0m32 0h0m83 0h0m-97 1h0m122 1h0m-155 1h0m1 0h0m-5 1h0m35 0h0m28 1h0m7 0h0m102 0h0m-8 1h0m-122 1h0m55 0h0m-27 1h0m64 0h0m-118 1h0m90 0h0m54 0h0m-127 1h0m44 0h0m-41 1h0m75 1h0m11 0h0m30 0h0m7 0h0m-167 1h0m119 0h0m25 0h0m30 0h0m9 0h0m-148 1h0m68 0h0m0 1h0m36 0h0m14 1h0m47 0h0m-128 1h0m18 0h0m36 0h0m-120 2h0m5 0h0m6 0h0m44 1h0m-28 1h0m-21 1h0m135 0h0m9 0h0m-137 1h0m86 0h0m-43 2h0m67 0h0m-77 3h0m16 1h0m59 0h0m39 1h0m-157 1h0m11 0h0m62 1h0m-1 1h0m78 0h0m4 0h0m-133 2h0m121 0h0m-22 1h0m10 0h0m-82 1h0m79 0h0m22 0h0m-118 1h0m-22 1h0m23 0h0m100 1h0m6 0h0m10 0h0m-131 1h0m16 0h0m106 1h0m-106 2h0m-6 1h0" stroke="#61136e" stroke-width="6.0" stroke-linecap="round" fill="none"/><path d="M1725 1079h0m-4 13h0m4 0h0m-35 4h0m-39 21h0m116 6h0m-45 28h0m-38 39h0m-15 29h0m57 27h0m-5 1h0m2 8h0m82 6h0m-83 7h0m4 1h0m62 1h0m-61 3h0m-25 2h0m27 2h0m-44 3h0m44 0h0m-40 2h0m-6 4h0m-16 1h0m59 1h0m-10 2h0m-50 4h0m23 1h0m0 2h0m-1 3h0m34 0h0m-9 2h0m-1 7h0m13 7h0m-24 2h0m-40 1h0m-291 1h0m335 0h0m-43 3h0m52 2h0m-7 2h0m-4 3h0m-360 7h0m381 0h0m-379 2h0m4 0h0m-3 3h0m356 0h0m15 5h0m2 0h0m-63 2h0m68 6h0m-98 2h0m-245 1h0m257 6h0m-50 1h0m54 3h0m-258 2h0m202 0h0m-162 4h0m7 1h0m136 1h0m-2 2h0m-144 1h0m140 2h0m-128 3h0m3 0h0m-21 1h0m41 1h0m1 0h0m97 2h0m-92 1h0m4 0h0m10 0h0m-6 1h0m-121 2h0m119 0h0m-43 1h0m35 0h0m-3 2h0m133 2h0m41 0h0m-183 1h0m-24 1h0m82 1h0m-78 2h0m8 0h0m21 0h0m-27 2h0m-55 2h0m1 0h0m43 0h0m32 0h0m-3 2h0m17 1h0m8 0h0m23 0h0m90 0h0m-105 1h0m-63 1h0m-43 1h0m50 0h0m68 0h0m-64 1h0m165 0h0m-156 1h0m16 0h0m126 0h0m65 1h0m-172 1h0m-67 1h0m63 1h0m-29 1h0m32 0h0m4 0h0m-33 2h0m6 0h0m13 1h0m-77 1h0m-25 1h0m77 0h0m32 0h0m19 0h0m-83 1h0m44 0h0m36 1h0m161 0h0m-270 2h0m43 0h0m11 0h0m91 0h0m-166 1h0m113 0h0m29 0h0m-82 2h0m108 0h0m-153 4h0m85 1h0m-29 1h0m-28 1h0m23 0h0m-27 2h0m8 1h0m57 0h0m102 1h0m-176 2h0m111 0h0m49 0h0m-128 1h0m38 0h0m-65 1h0m34 1h0m33 0h0m119 0h0m-166 1h0m31 0h0m-26 2h0m29 1h0m148 0h0m-183 1h0m46 0h0m112 0h0m-181 1h0m36 2h0m41 0h0m59 0h0m22 0h0m-117 1h0m-59 1h0m62 1h0m8 0h0m17 0h0m4 1h0m65 0h0m-110 1h0m4 0h0m-21 2h0m15 0h0m163 0h0m-76 1h0m-86 1h0m-16 2h0m20 0h0m-28 2h0m23 0h0m-6 1h0m162 2h0m-175 1h0m113 0h0m20 0h0m-27 2h0m5 0h0m22 0h0m-133 3h0m21 1h0m110 1h0m-124 1h0m14 0h0m94 0h0m26 0h0m-16 1h0m-6 1h0m7 2h0m-9 2h0m-10 1h0m2 1h0m34 0h0m-43 1h0m31 0h0m-26 1h0m19 0h0m49 1h0m-28 1h0m-46 1h0m30 0h0m-23 1h0m10 1h0m18 2h0m14 0h0m-21 1h0m9 0h0m13 1h0m-14 1h0m-5 1h0" stroke="#751b6e" stroke-width="6.0" stroke-linecap="round" fill="none"/><path d="M1726 1098h0m25 5h0m-25 55h0m42 24h0m-59 7h0m12 23h0m2 19h0m-27 9h0m24 12h0m0 11h0m-40 10h0m38 1h0m-1 3h0m-20 1h0m5 2h0m21 3h0m-20 1h0m4 0h0m5 1h0m80 5h0m-72 2h0m-27 5h0m7 0h0m20 1h0m-23 6h0m-3 6h0m18 3h0m-8 2h0m7 0h0m-368 3h0m0 15h0m3 0h0m353 0h0m16 0h0m-374 4h0m374 0h0m10 5h0m-383 3h0m384 3h0m-333 3h0m12 1h0m-15 1h0m12 3h0m-50 1h0m39 0h0m13 0h0m-43 2h0m49 3h0m-29 1h0m-43 1h0m66 0h0m-8 3h0m23 0h0m-41 2h0m47 0h0m-24 1h0m20 0h0m-12 4h0m-31 2h0m11 0h0m12 0h0m24 1h0m-41 1h0m-17 1h0m37 0h0m-66 4h0m113 1h0m-112 2h0m97 0h0m-94 1h0m75 0h0m55 1h0m-95 1h0m72 0h0m-55 1h0m24 0h0m27 1h0m-86 2h0m37 0h0m58 0h0m19 0h0m-29 1h0m-72 1h0m88 1h0m10 1h0m-42 1h0m50 0h0m-108 1h0m65 0h0m-81 1h0m45 0h0m33 0h0m33 0h0m-17 1h0m-51 1h0m56 0h0m-22 3h0m-37 1h0m61 0h0m-70 1h0m10 0h0m27 0h0m-55 1h0m71 0h0m32 0h0m0 2h0m-71 2h0m46 2h0m39 0h0m-90 2h0m33 1h0m-24 1h0m21 0h0m24 0h0m-57 1h0m-19 1h0m27 0h0m5 1h0m19 0h0m42 0h0m-41 1h0m-24 1h0m57 0h0m-46 1h0m-46 1h0m35 0h0m-5 1h0m18 0h0m19 0h0m13 1h0m2 0h0m-41 1h0m17 0h0m-64 2h0m49 0h0m-47 1h0m69 0h0m-74 1h0m57 0h0m51 0h0m-96 1h0m23 0h0m34 0h0m-43 1h0m32 2h0m-52 1h0m30 0h0m1 1h0m45 2h0m-30 1h0m5 1h0m-13 1h0m38 0h0m9 1h0m-91 1h0m78 0h0m33 0h0m-44 1h0m-57 2h0m17 0h0m22 0h0m42 0h0m-76 2h0m50 0h0m51 0h0m-30 1h0m7 0h0m-78 3h0m53 0h0m6 0h0m31 1h0m21 0h0m-102 1h0m22 0h0m26 0h0m30 0h0m-68 1h0m42 1h0m14 0h0m44 0h0m-126 1h0m51 0h0m-26 3h0m-7 6h0m156 1h0m-159 1h0m115 0h0m35 1h0m-114 1h0m-13 1h0m92 0h0m27 1h0m13 0h0m-19 1h0m-16 2h0m39 0h0m6 0h0m-155 2h0m-5 1h0m154 0h0m-12 1h0m4 0h0m13 0h0m-19 3h0m-27 1h0m3 0h0m36 2h0m-27 2h0m21 1h0m10 2h0m-38 1h0m11 3h0m-17 1h0m-1 2h0m43 0h0m-3 2h0m-38 1h0m13 1h0m32 4h0m-14 6h0" stroke="#8a226a" stroke-width="6.0" stroke-linecap="round" fill="none"/><path d="M1775 1117h0m-53 13h0m-7 1h0m-53 6h0m60 9h0m25 1h0m-88 9h0m65 9h0m-3 1h0m-55 3h0m61 17h0m55 10h0m-57 3h0m95 11h0m-94 29h0m-1 19h0m74 17h0m-457 20h0m10 8h0m13 1h0m-24 14h0m1 5h0m379 14h0m-382 12h0m35 1h0m30 2h0m-17 1h0m-6 4h0m7 0h0m8 0h0m13 0h0m-1 3h0m5 0h0m-73 1h0m45 3h0m6 2h0m25 2h0m-74 1h0m15 2h0m14 0h0m17 0h0m25 0h0m3 2h0m-77 1h0m65 1h0m-8 2h0m-31 1h0m52 0h0m27 1h0m-19 1h0m8 0h0m-21 2h0m19 0h0m-9 1h0m43 0h0m-88 1h0m3 0h0m50 0h0m-45 2h0m27 0h0m35 0h0m-95 2h0m1 2h0m14 0h0m57 0h0m33 0h0m-28 1h0m-61 2h0m26 0h0m44 0h0m-65 1h0m54 0h0m-9 1h0m-36 2h0m59 0h0m-67 1h0m46 0h0m35 0h0m24 2h0m-35 1h0m-5 1h0m-1 1h0m25 0h0m-38 3h0m-66 1h0m23 0h0m17 0h0m58 0h0m-24 1h0m27 1h0m-75 1h0m44 0h0m48 0h0m-90 1h0m4 0h0m36 0h0m9 2h0m-55 3h0m82 0h0m-112 1h0m15 1h0m8 1h0m33 1h0m72 0h0m-64 1h0m22 0h0m3 0h0m-53 1h0m37 1h0m-3 2h0m22 1h0m-55 1h0m14 2h0m-6 1h0m-14 2h0m27 0h0m28 0h0m-6 1h0m-78 1h0m6 0h0m16 0h0m25 0h0m29 1h0m-46 2h0m52 0h0m-71 1h0m7 0h0m33 0h0m41 0h0m18 0h0m-30 2h0m-3 1h0m31 0h0m-69 1h0m35 0h0m-69 1h0m48 0h0m37 2h0m-64 1h0m108 1h0m-66 1h0m14 0h0m-51 2h0m28 2h0m30 0h0m-78 1h0m69 0h0m-19 1h0m5 0h0m-14 1h0m84 0h0m-114 1h0m-11 2h0m32 0h0m2 0h0m14 0h0m-25 2h0m13 2h0m-26 2h0m16 0h0m2 1h0m5 0h0m5 0h0m-9 2h0m23 0h0m-35 5h0m25 0h0m132 1h0m-161 1h0m37 0h0m-25 2h0m10 1h0m111 0h0m-135 1h0m4 0h0m125 3h0m25 3h0m-37 9h0m10 3h0m5 1h0m6 6h0m11 1h0m4 1h0m3 5h0" stroke="#9d2964" stroke-width="6.0" stroke-linecap="round" fill="none"/><path d="M1742 1123h0m61 11h0m-3 12h0m-39 4h0m48 5h0m-143 6h0m89 0h0m24 71h0m-24 22h0m-73 11h0m-338 11h0m-4 7h0m3 20h0m10 48h0m12 1h0m18 1h0m-39 1h0m7 0h0m50 0h0m-39 1h0m33 0h0m-54 1h0m36 0h0m7 0h0m-32 1h0m2 3h0m4 0h0m6 2h0m5 0h0m23 0h0m2 0h0m-30 1h0m38 0h0m-40 1h0m25 1h0m26 0h0m-34 1h0m-35 1h0m13 0h0m51 0h0m17 0h0m-73 1h0m44 0h0m-32 1h0m17 3h0m-15 1h0m32 1h0m30 0h0m-36 1h0m27 0h0m-18 1h0m23 0h0m-30 3h0m35 0h0m8 0h0m-77 1h0m46 0h0m21 1h0m14 0h0m14 0h0m-97 1h0m17 1h0m22 0h0m19 0h0m31 1h0m-102 1h0m15 0h0m28 1h0m88 0h0m-131 1h0m75 0h0m-39 1h0m35 0h0m24 2h0m-96 1h0m3 0h0m17 0h0m19 0h0m45 0h0m-40 1h0m46 1h0m16 0h0m16 3h0m3 0h0m-33 1h0m-76 1h0m-11 1h0m35 1h0m-20 2h0m11 0h0m3 0h0m45 0h0m4 0h0m-37 2h0m-42 1h0m128 1h0m-128 2h0m34 0h0m75 0h0m-103 2h0m8 2h0m1 0h0m1 1h0m69 0h0m-66 1h0m-3 1h0m5 0h0m31 0h0m-45 1h0m55 0h0m37 0h0m1 1h0m-98 1h0m107 0h0m-66 2h0m-37 2h0m11 0h0m17 1h0m74 0h0m-101 1h0m22 1h0m83 0h0m-58 1h0m-22 1h0m35 0h0m1 0h0m19 1h0m32 0h0m-17 1h0m-64 1h0m-33 1h0m34 0h0m-13 1h0m69 1h0m5 0h0m-64 1h0m16 0h0m40 0h0m-26 1h0m3 0h0m-29 1h0m-28 1h0m52 2h0m7 1h0m10 0h0m-48 1h0m3 0h0m4 1h0m-11 1h0m27 1h0m-8 1h0m-19 1h0m-20 1h0m5 1h0m65 0h0m-39 1h0m-23 2h0m13 0h0m17 0h0m-9 1h0m6 1h0m-25 1h0m16 0h0m67 3h0m9 0h0m-87 2h0m0 2h0m13 1h0m-19 1h0m29 2h0m6 3h0m-9 1h0m7 1h0m13 1h0m-37 1h0m9 2h0m14 0h0m10 0h0m-29 1h0m5 2h0m-11 1h0m32 0h0m-23 1h0" stroke="#b1325a" stroke-width="6.0" stroke-linecap="round" fill="none"/><path d="M1336 1270h0m18 1h0m-15 4h0m2 13h0m7 21h0m31 40h0m-30 1h0m-11 1h0m9 0h0m33 0h0m10 1h0m-46 1h0m26 0h0m-23 1h0m26 0h0m-1 1h0m4 3h0m-33 2h0m35 0h0m-30 1h0m24 1h0m46 0h0m-55 4h0m26 0h0m-21 1h0m6 0h0m33 0h0m-61 1h0m13 2h0m22 0h0m-36 1h0m22 1h0m20 0h0m-43 1h0m31 0h0m-28 2h0m8 0h0m-14 1h0m34 0h0m-27 2h0m3 0h0m-7 1h0m13 0h0m30 0h0m-35 1h0m26 0h0m16 2h0m-36 3h0m12 0h0m5 0h0m-26 3h0m76 0h0m-84 2h0m41 2h0m37 0h0m-70 1h0m9 0h0m22 0h0m49 1h0m-73 1h0m27 0h0m-37 1h0m21 0h0m-1 1h0m-2 1h0m28 0h0m-37 1h0m32 0h0m-9 1h0m-31 2h0m47 0h0m-44 3h0m18 0h0m2 0h0m-16 2h0m35 0h0m4 0h0m48 0h0m27 0h0m-78 1h0m-18 3h0m39 2h0m-58 1h0m41 1h0m-21 1h0m15 1h0m74 1h0m-44 4h0m-54 1h0m-11 2h0m7 1h0m13 1h0m16 0h0m-12 4h0m32 4h0m34 1h0m-56 1h0m-17 4h0m78 0h0m-81 1h0m91 1h0m-94 1h0m49 1h0m-30 2h0m-4 2h0m17 1h0m-5 2h0m-7 6h0m-8 1h0m-5 3h0m22 0h0m10 0h0m-23 2h0m-10 1h0m8 3h0" stroke="#c43c4e" stroke-width="6.0" stroke-linecap="round" fill="none"/><path d="M1330 1253h0m7 5h0m1 5h0m4 85h0m22 3h0m0 3h0m4 2h0m35 2h0m-16 2h0m-37 4h0m-9 1h0m-4 2h0m60 1h0m-3 2h0m0 4h0m16 4h0m-72 1h0m44 0h0m-8 1h0m16 1h0m-27 1h0m6 0h0m2 0h0m-18 1h0m-4 2h0m12 2h0m12 2h0m12 4h0m-26 1h0m28 1h0m35 0h0m-74 1h0m43 2h0m1 0h0m-23 4h0m-11 2h0m1 1h0m35 8h0m57 1h0m-97 4h0m58 0h0m10 1h0m-36 1h0m-12 3h0m-7 3h0m26 1h0m-30 1h0m33 0h0m-23 19h0m23 8h0m-14 7h0m-15 4h0" stroke="#d54a41" stroke-width="6.0" stroke-linecap="round" fill="none"/><path d="M1398 1350h0m-42 3h0m-18 1h0m21 1h0m16 4h0m-21 2h0m-7 1h0m28 2h0m-24 2h0m-1 7h0m63 4h0m-51 1h0m-24 2h0m3 4h0m27 0h0m22 4h0m-37 11h0m23 10h0m-18 3h0m12 0h0m0 17h0m-2 9h0m-8 11h0" stroke="#e45a31" stroke-width="6.0" stroke-linecap="round" fill="none"/><path d="M1330 1222h0m4 1h0m-3 1h0m5 1h0m6 2h0m-14 2h0m10 6h0m-10 1h0m20 2h0m-15 2h0m-4 2h0m11 3h0m13 0h0m-4 4h0m-17 2h0m8 0h0m-3 8h0m52 101h0m-51 6h0m21 9h0m-14 1h0m53 2h0m-30 49h0m5 49h0" stroke="#ef6c23" stroke-width="6.0" stroke-linecap="round" fill="none"/><path d="M1340 1216h0m9 11h0m-8 3h0m3 0h0m-6 1h0m-10 1h0m-6 2h0m9 0h0m1 3h0m8 1h0m-17 1h0m1 0h0m27 2h0m-5 2h0m-12 1h0m14 0h0m-13 2h0m6 1h0m-1 1h0m-9 2h0m6 1h0m16 0h0" stroke="#f78212" stroke-width="6.0" stroke-linecap="round" fill="none"/><path d="M1344 1219h0m-4 3h0m-1 3h0m-5 1h0m3 0h0m13 0h0m1 6h0m-15 1h0m-10 1h0m17 0h0m5 0h0m-9 4h0m6 1h0m-13 1h0m11 1h0m-8 3h0m14 0h0m-17 2h0m5 8h0" stroke="#fb9906" stroke-width="6.0" stroke-linecap="round" fill="none"/><path d="M1343 1215h0m2 2h0m-8 1h0m9 1h0m-1 5h0m1 1h0m-18 2h0m-4 2h0m8 2h0m19 4h0m-25 1h0m10 3h0m16 7h0m-5 4h0m-4 3h0" stroke="#fcb216" stroke-width="6.0" stroke-linecap="round" fill="none"/><path d="M1484.7 1997.0L1483.4 1984.9L1480.4 1967.7L1476.4 1958.8L1460.6 1955.8L1460.5 1955.8L1441.3 1951.6L1441.1 1951.5L1440.9 1951.5L1440.7 1951.4L1440.5 1951.3L1428.5 1942.8L1428.4 1942.7L1411.7 1930.2L1400.2 1924.0L1386.4 1921.0L1370.1 1924.1L1370.0 1924.1L1355.6 1926.3L1355.4 1926.3L1355.2 1926.3L1355.0 1926.3L1354.8 1926.2L1354.6 1926.2L1354.4 1926.1L1354.2 1926.0L1354.1 1925.9L1353.9 1925.8L1353.8 1925.7L1345.8 1917.6L1345.7 1917.5L1345.6 1917.4L1345.5 1917.2L1345.4 1917.0L1345.4 1916.9L1345.3 1916.7L1344.1 1906.9L1341.1 1906.9L1339.9 1916.6L1339.2 1930.9L1339.2 1931.0L1336.8 1949.7L1341.4 1959.8L1347.5 1972.6L1347.5 1972.7L1347.6 1972.9L1352.3 1994.0L1352.4 1994.1L1354.7 2010.8L1361.8 2025.5L1371.5 2044.5L1371.5 2044.6L1378.7 2061.4L1385.7 2073.7L1399.7 2084.0L1413.8 2092.4L1427.6 2097.5L1441.1 2095.4L1455.0 2089.3L1468.0 2076.3L1468.1 2076.1L1468.3 2076.0L1468.4 2075.9L1468.6 2075.8L1468.8 2075.7L1480.5 2072.3L1489.4 2067.6L1490.3 2054.7L1489.3 2037.3L1487.5 2021.4L1487.3 2022.6L1487.3 2022.8L1487.2 2022.9L1487.1 2023.1L1487.0 2023.2L1486.9 2023.3L1486.8 2023.5L1486.7 2023.6L1486.6 2023.7L1477.6 2029.8L1477.5 2029.9L1477.3 2030.0L1477.1 2030.1L1476.9 2030.1L1476.7 2030.2L1476.5 2030.2L1476.4 2030.2L1476.2 2030.2L1476.0 2030.1L1475.8 2030.1L1475.6 2030.0L1475.4 2030.0L1475.3 2029.9L1475.1 2029.8L1475.0 2029.6L1474.8 2029.5L1474.7 2029.4L1474.6 2029.2L1468.7 2018.7L1468.6 2018.6L1468.5 2018.4L1468.5 2018.3L1468.5 2018.1L1468.5 2017.9L1468.5 1996.9L1468.5 1996.8L1468.5 1996.6L1468.5 1996.4L1468.6 1996.3L1468.7 1996.1L1468.8 1996.0L1468.9 1995.8L1469.1 1995.7L1469.2 1995.6L1469.4 1995.5L1469.5 1995.4L1469.7 1995.3L1469.9 1995.3L1470.1 1995.2L1481.0 1993.5L1481.2 1993.5L1481.4 1993.5L1481.6 1993.5L1481.8 1993.5L1482.0 1993.5L1482.1 1993.6L1482.3 1993.7L1482.5 1993.8L1482.6 1993.9L1482.8 1994.0L1482.9 1994.1L1483.0 1994.2L1483.1 1994.4ZM1452.8 2004.7L1452.7 2004.6L1452.7 2004.4L1452.6 2004.3L1452.6 2004.1L1452.6 2003.9L1452.6 2003.8L1452.6 2003.6L1452.7 2003.5L1452.7 2003.3L1452.8 2003.1L1454.3 2000.7L1454.3 2000.5L1454.5 2000.4L1454.6 2000.3L1454.7 2000.1L1454.9 2000.0L1455.0 1999.9L1455.2 1999.9L1455.4 1999.8L1458.9 1998.8L1459.1 1998.7L1459.3 1998.7L1459.4 1998.7L1459.6 1998.7L1459.8 1998.7L1460.0 1998.7L1460.1 1998.8L1463.7 1999.8L1463.8 1999.9L1464.0 1999.9L1464.2 2000.0L1464.3 2000.1L1464.5 2000.3L1464.6 2000.4L1464.7 2000.5L1464.8 2000.7L1466.3 2003.1L1466.3 2003.3L1466.4 2003.5L1466.4 2003.6L1466.5 2003.8L1466.5 2003.9L1466.5 2004.1L1466.4 2004.3L1466.4 2004.4L1466.3 2004.6L1466.3 2004.7L1464.8 2007.2L1464.7 2007.4L1464.6 2007.5L1464.5 2007.6L1464.3 2007.7L1464.2 2007.9L1464.0 2007.9L1463.8 2008.0L1463.7 2008.1L1460.1 2009.1L1460.0 2009.1L1459.8 2009.2L1459.6 2009.2L1459.4 2009.2L1459.3 2009.2L1459.1 2009.1L1458.9 2009.1L1455.4 2008.1L1455.2 2008.0L1455.0 2007.9L1454.9 2007.9L1454.7 2007.7L1454.6 2007.6L1454.5 2007.5L1454.3 2007.4L1454.3 2007.2ZM1431.3 2036.3L1431.1 2036.3L1431.0 2036.2L1430.8 2036.1L1430.6 2036.0L1430.5 2035.9L1430.4 2035.8L1430.3 2035.6L1430.2 2035.5L1429.0 2033.6L1428.9 2033.5L1428.8 2033.3L1428.8 2033.2L1428.8 2033.0L1428.7 2032.8L1428.8 2032.6L1428.8 2032.5L1428.8 2032.3L1428.9 2032.1L1429.0 2032.0L1430.2 2030.1L1430.3 2030.0L1430.4 2029.8L1430.5 2029.7L1430.6 2029.6L1430.8 2029.5L1431.0 2029.4L1431.1 2029.3L1431.3 2029.3L1434.1 2028.5L1434.3 2028.5L1434.5 2028.4L1434.7 2028.4L1434.9 2028.4L1435.1 2028.5L1435.3 2028.5L1438.1 2029.3L1438.3 2029.3L1438.4 2029.4L1438.6 2029.5L1438.8 2029.6L1438.9 2029.7L1439.0 2029.8L1439.1 2030.0L1439.2 2030.1L1440.4 2032.0L1440.5 2032.1L1440.6 2032.3L1440.6 2032.5L1440.6 2032.6L1440.7 2032.8L1440.6 2033.0L1440.6 2033.2L1440.6 2033.3L1440.5 2033.5L1440.4 2033.6L1439.2 2035.5L1439.1 2035.6L1439.0 2035.8L1438.9 2035.9L1438.8 2036.0L1438.6 2036.1L1438.4 2036.2L1438.3 2036.3L1438.1 2036.3L1435.3 2037.1L1435.1 2037.1L1434.9 2037.2L1434.7 2037.2L1434.5 2037.2L1434.3 2037.1L1434.1 2037.1ZM1410.0 1988.0L1409.4 1988.2L1409.2 1988.2L1409.0 1988.2L1408.8 1988.2L1408.6 1988.2L1408.4 1988.2L1408.2 1988.1L1408.1 1988.0L1407.9 1988.0L1407.7 1987.9L1407.6 1987.8L1407.4 1987.7L1407.3 1987.5L1400.4 1979.7L1400.3 1979.5L1400.2 1979.4L1400.1 1979.2L1395.1 1967.8L1395.1 1967.7L1395.0 1967.5L1395.0 1967.4L1394.0 1956.9L1394.0 1956.7L1394.0 1956.5L1394.0 1956.4L1394.1 1956.2L1394.1 1956.0L1394.2 1955.9L1394.3 1955.8L1394.4 1955.6L1394.6 1955.5L1394.7 1955.4L1394.8 1955.3L1395.0 1955.2L1395.2 1955.1L1395.4 1955.1L1395.5 1955.0L1404.5 1953.3L1404.7 1953.2L1404.8 1953.2L1405.0 1953.2L1405.2 1953.2L1405.4 1953.3L1405.6 1953.3L1405.8 1953.4L1405.9 1953.5L1406.1 1953.6L1417.0 1960.6L1417.1 1960.7L1417.3 1960.8L1417.4 1960.9L1417.5 1961.0L1417.6 1961.2L1417.7 1961.3L1417.7 1961.5L1421.7 1973.7L1421.8 1973.9L1421.8 1974.1L1421.8 1974.3L1421.8 1974.5L1421.7 1974.6L1419.5 1982.5L1419.6 1982.5L1419.8 1982.5L1420.0 1982.5L1420.2 1982.5L1425.8 1983.4L1426.0 1983.5L1426.2 1983.5L1426.4 1983.6L1426.5 1983.7L1426.7 1983.8L1426.9 1984.0L1429.2 1986.1L1429.3 1986.3L1429.4 1986.4L1429.5 1986.6L1429.6 1986.7L1429.7 1986.9L1429.7 1987.1L1429.7 1987.2L1429.7 1987.4L1429.7 1987.6L1429.7 1987.8L1429.6 1987.9L1429.5 1988.1L1429.4 1988.3L1429.3 1988.4L1429.2 1988.5L1426.9 1990.7L1426.7 1990.8L1426.5 1990.9L1426.4 1991.0L1426.2 1991.1L1426.0 1991.2L1425.8 1991.2L1420.2 1992.1L1420.0 1992.1L1419.8 1992.1L1419.6 1992.1L1419.5 1992.1L1413.8 1991.2L1413.6 1991.2L1413.4 1991.1L1413.2 1991.0L1413.1 1990.9L1412.9 1990.8L1412.7 1990.7L1410.4 1988.5L1410.3 1988.4L1410.2 1988.3L1410.1 1988.1ZM1414.2 2054.3L1414.4 2054.3L1414.5 2054.2L1414.7 2054.2L1414.9 2054.2L1415.1 2054.2L1415.3 2054.3L1415.5 2054.3L1418.3 2055.2L1418.5 2055.3L1418.7 2055.4L1418.8 2055.5L1419.0 2055.6L1419.1 2055.7L1419.2 2055.8L1419.4 2056.0L1419.4 2056.1L1420.6 2058.3L1420.7 2058.4L1420.7 2058.6L1420.8 2058.8L1420.8 2059.0L1420.8 2059.1L1420.8 2059.3L1420.7 2059.5L1420.7 2059.6L1420.6 2059.8L1419.4 2062.0L1419.4 2062.1L1419.2 2062.2L1419.1 2062.4L1419.0 2062.5L1418.8 2062.6L1418.7 2062.7L1418.5 2062.8L1418.3 2062.8L1415.5 2063.7L1415.3 2063.8L1415.1 2063.8L1414.9 2063.8L1414.7 2063.8L1414.5 2063.8L1414.4 2063.8L1414.2 2063.7L1411.4 2062.8L1411.2 2062.8L1411.0 2062.7L1410.8 2062.6L1410.7 2062.5L1410.6 2062.4L1410.4 2062.2L1410.3 2062.1L1410.2 2062.0L1409.1 2059.8L1409.0 2059.6L1408.9 2059.5L1408.9 2059.3L1408.9 2059.1L1408.9 2059.0L1408.9 2058.8L1408.9 2058.6L1409.0 2058.4L1409.1 2058.3L1410.2 2056.1L1410.3 2056.0L1410.4 2055.8L1410.6 2055.7L1410.7 2055.6L1410.8 2055.5L1411.0 2055.4L1411.2 2055.3L1411.4 2055.2ZM1388.5 2015.0L1388.3 2015.0L1388.1 2014.9L1388.0 2014.9L1387.8 2014.8L1387.6 2014.8L1387.5 2014.7L1387.3 2014.6L1387.2 2014.5L1387.0 2014.4L1386.9 2014.2L1386.8 2014.1L1385.3 2011.8L1385.2 2011.7L1385.2 2011.5L1385.1 2011.4L1385.1 2011.2L1385.1 2011.0L1385.1 2010.9L1385.1 2010.7L1385.1 2010.5L1385.2 2010.4L1385.2 2010.2L1385.3 2010.1L1386.8 2007.8L1386.9 2007.7L1387.0 2007.5L1387.2 2007.4L1387.3 2007.3L1387.5 2007.2L1387.6 2007.1L1387.8 2007.0L1388.0 2007.0L1388.1 2007.0L1388.3 2006.9L1388.5 2006.9L1391.5 2006.9L1391.7 2006.9L1391.9 2007.0L1392.1 2007.0L1392.2 2007.0L1392.4 2007.1L1392.6 2007.2L1392.7 2007.3L1392.9 2007.4L1393.0 2007.5L1393.1 2007.7L1393.2 2007.8L1394.7 2010.1L1394.8 2010.2L1394.9 2010.4L1394.9 2010.5L1395.0 2010.7L1395.0 2010.9L1395.0 2011.0L1395.0 2011.2L1394.9 2011.4L1394.9 2011.5L1394.8 2011.7L1394.7 2011.8L1393.2 2014.1L1393.1 2014.2L1393.0 2014.4L1392.9 2014.5L1392.7 2014.6L1392.6 2014.7L1392.4 2014.8L1392.2 2014.8L1392.1 2014.9L1391.9 2014.9L1391.7 2015.0L1391.5 2015.0ZM1385.3 1980.9L1385.5 1981.0L1385.6 1981.1L1385.8 1981.2L1385.9 1981.3L1386.1 1981.4L1386.2 1981.6L1386.3 1981.7L1386.4 1981.9L1387.4 1984.0L1387.4 1984.2L1387.5 1984.4L1387.5 1984.5L1387.5 1984.7L1387.5 1984.9L1387.5 1985.0L1387.4 1985.2L1387.4 1985.4L1386.4 1987.5L1386.3 1987.7L1386.2 1987.8L1386.1 1988.0L1385.9 1988.1L1385.8 1988.2L1385.6 1988.3L1385.5 1988.4L1385.3 1988.5L1382.8 1989.4L1382.6 1989.4L1382.5 1989.5L1382.3 1989.5L1382.1 1989.5L1381.9 1989.5L1381.7 1989.5L1381.5 1989.4L1381.3 1989.4L1378.9 1988.5L1378.7 1988.4L1378.5 1988.3L1378.4 1988.2L1378.2 1988.1L1378.1 1988.0L1378.0 1987.8L1377.9 1987.7L1377.8 1987.5L1376.8 1985.4L1376.7 1985.2L1376.6 1985.0L1376.6 1984.9L1376.6 1984.7L1376.6 1984.5L1376.6 1984.4L1376.7 1984.2L1376.8 1984.0L1377.8 1981.9L1377.9 1981.7L1378.0 1981.6L1378.1 1981.4L1378.2 1981.3L1378.4 1981.2L1378.5 1981.1L1378.7 1981.0L1378.9 1980.9L1381.3 1980.0L1381.5 1980.0L1381.7 1979.9L1381.9 1979.9L1382.1 1979.9L1382.3 1979.9L1382.5 1979.9L1382.6 1980.0L1382.8 1980.0ZM1373.4 1951.1L1373.3 1951.3L1373.1 1951.4L1373.0 1951.5L1372.9 1951.6L1372.7 1951.7L1372.6 1951.8L1372.4 1951.9L1372.2 1951.9L1372.0 1952.0L1371.8 1952.0L1371.6 1952.0L1368.7 1952.0L1368.5 1952.0L1368.3 1952.0L1368.1 1951.9L1367.9 1951.9L1367.8 1951.8L1367.6 1951.7L1367.4 1951.6L1367.3 1951.5L1367.2 1951.4L1367.0 1951.3L1366.9 1951.1L1365.5 1948.9L1365.4 1948.7L1365.3 1948.5L1365.2 1948.4L1365.2 1948.2L1365.2 1948.1L1365.2 1947.9L1365.2 1947.7L1365.2 1947.6L1365.3 1947.4L1365.4 1947.3L1365.5 1947.1L1366.9 1944.8L1367.0 1944.7L1367.2 1944.6L1367.3 1944.4L1367.4 1944.3L1367.6 1944.2L1367.8 1944.2L1367.9 1944.1L1368.1 1944.0L1368.3 1944.0L1368.5 1944.0L1368.7 1944.0L1371.6 1944.0L1371.8 1944.0L1372.0 1944.0L1372.2 1944.0L1372.4 1944.1L1372.6 1944.2L1372.7 1944.2L1372.9 1944.3L1373.0 1944.4L1373.1 1944.6L1373.3 1944.7L1373.4 1944.8L1374.9 1947.1L1374.9 1947.3L1375.0 1947.4L1375.1 1947.6L1375.1 1947.7L1375.1 1947.9L1375.1 1948.1L1375.1 1948.2L1375.1 1948.4L1375.0 1948.5L1374.9 1948.7L1374.9 1948.9Z" fill="#61136e" fill-rule="evenodd"/><path d="M1613.6 2044.3L1621.9 2036.0L1622.0 2035.9L1622.1 2035.8L1627.2 2032.3L1626.2 2031.9L1626.0 2031.9L1625.9 2031.8L1625.7 2031.7L1625.5 2031.6L1625.4 2031.5L1625.3 2031.3L1625.2 2031.2L1625.1 2031.0L1624.1 2029.2L1624.0 2029.0L1623.9 2028.9L1623.9 2028.7L1623.9 2028.5L1623.9 2028.3L1623.9 2028.2L1623.9 2028.0L1624.0 2027.8L1624.1 2027.7L1625.1 2025.8L1625.2 2025.7L1625.3 2025.5L1625.4 2025.4L1625.5 2025.3L1625.7 2025.2L1625.9 2025.1L1626.0 2025.0L1626.2 2024.9L1628.7 2024.2L1628.8 2024.1L1629.0 2024.1L1629.2 2024.1L1629.4 2024.1L1629.6 2024.1L1629.8 2024.1L1630.0 2024.2L1632.4 2024.9L1632.6 2025.0L1632.8 2025.1L1633.0 2025.2L1633.1 2025.3L1633.2 2025.4L1633.4 2025.5L1633.5 2025.7L1633.6 2025.8L1634.4 2027.3L1638.4 2024.5L1647.4 2010.2L1654.2 1993.0L1658.1 1976.1L1650.3 1954.7L1640.4 1932.9L1640.3 1932.7L1640.3 1932.6L1640.3 1932.4L1640.3 1932.2L1640.3 1932.1L1640.3 1931.9L1640.3 1931.7L1640.4 1931.6L1649.3 1912.3L1649.4 1912.2L1649.5 1912.1L1659.3 1898.2L1665.1 1883.7L1671.8 1854.2L1669.5 1852.6L1664.9 1858.6L1661.1 1873.2L1661.0 1873.3L1656.0 1887.3L1656.0 1887.5L1655.9 1887.6L1647.9 1899.9L1647.8 1900.0L1640.3 1909.1L1640.1 1909.2L1630.5 1917.7L1630.4 1917.8L1630.2 1918.0L1615.7 1926.4L1615.6 1926.5L1615.4 1926.6L1603.4 1931.2L1603.3 1931.3L1603.1 1931.3L1602.9 1931.3L1590.9 1933.1L1590.8 1933.1L1574.5 1934.8L1563.0 1942.3L1562.8 1942.4L1548.3 1949.8L1548.1 1949.8L1524.1 1959.4L1523.9 1959.4L1499.9 1966.9L1499.7 1966.9L1499.5 1966.9L1499.3 1967.0L1499.1 1966.9L1498.9 1966.9L1498.7 1966.9L1498.5 1966.8L1481.5 1960.6L1484.2 1966.6L1484.3 1966.8L1484.3 1967.0L1487.3 1984.4L1487.3 1984.5L1489.3 2002.0L1489.6 2005.1L1490.1 2005.7L1490.2 2005.9L1490.2 2006.0L1490.3 2006.2L1490.3 2006.4L1490.3 2006.5L1490.3 2006.7L1490.3 2006.9L1490.0 2008.3L1493.3 2037.0L1493.3 2037.1L1494.3 2054.6L1494.3 2054.8L1493.3 2068.2L1496.7 2072.6L1505.2 2077.7L1518.9 2084.1L1534.8 2083.1L1546.3 2078.1L1563.0 2067.5L1563.1 2067.5L1577.5 2059.1L1594.3 2048.5L1594.5 2048.4L1594.6 2048.4L1594.8 2048.3L1595.0 2048.2ZM1640.0 1974.7L1640.1 1974.5L1640.2 1974.4L1640.3 1974.3L1640.5 1974.2L1640.6 1974.1L1640.8 1974.0L1641.0 1973.9L1641.2 1973.9L1644.7 1973.0L1644.8 1972.9L1645.0 1972.9L1645.2 1972.9L1645.4 1972.9L1645.6 1972.9L1645.8 1973.0L1649.3 1973.9L1649.5 1973.9L1649.6 1974.0L1649.8 1974.1L1649.9 1974.2L1650.1 1974.3L1650.2 1974.4L1650.3 1974.5L1650.4 1974.7L1651.9 1976.8L1652.0 1977.0L1652.1 1977.1L1652.1 1977.3L1652.1 1977.5L1652.2 1977.6L1652.2 1977.8L1652.1 1978.0L1652.1 1978.1L1652.1 1978.3L1652.0 1978.5L1651.9 1978.6L1650.4 1980.8L1650.3 1980.9L1650.2 1981.0L1650.1 1981.2L1649.9 1981.3L1649.8 1981.4L1649.6 1981.4L1649.5 1981.5L1649.3 1981.6L1645.8 1982.5L1645.6 1982.5L1645.4 1982.5L1645.2 1982.5L1645.0 1982.5L1644.8 1982.5L1644.7 1982.5L1641.2 1981.6L1641.0 1981.5L1640.8 1981.4L1640.6 1981.4L1640.5 1981.3L1640.3 1981.2L1640.2 1981.0L1640.1 1980.9L1640.0 1980.8L1638.5 1978.6L1638.5 1978.5L1638.4 1978.3L1638.3 1978.1L1638.3 1978.0L1638.3 1977.8L1638.3 1977.6L1638.3 1977.5L1638.3 1977.3L1638.4 1977.1L1638.5 1977.0L1638.5 1976.8ZM1630.8 1990.4L1631.0 1990.4L1631.2 1990.4L1631.4 1990.4L1631.6 1990.4L1631.8 1990.4L1636.0 1991.3L1636.2 1991.4L1636.4 1991.5L1636.6 1991.5L1636.7 1991.6L1636.9 1991.8L1637.0 1991.9L1637.1 1992.0L1638.9 1994.2L1639.0 1994.3L1639.1 1994.5L1639.1 1994.6L1639.2 1994.8L1639.2 1995.0L1639.3 1995.1L1639.3 1995.3L1639.2 1995.4L1639.2 1995.6L1639.1 1995.8L1639.1 1995.9L1639.0 1996.1L1638.9 1996.2L1637.1 1998.4L1637.0 1998.5L1636.9 1998.6L1636.7 1998.8L1636.6 1998.9L1636.4 1998.9L1636.2 1999.0L1636.0 1999.1L1631.8 2000.0L1631.6 2000.0L1631.4 2000.0L1631.2 2000.0L1631.0 2000.0L1630.8 2000.0L1626.6 1999.1L1626.4 1999.0L1626.3 1998.9L1626.1 1998.9L1625.9 1998.8L1625.7 1998.6L1625.6 1998.5L1625.5 1998.4L1623.7 1996.2L1623.6 1996.1L1623.5 1995.9L1623.5 1995.8L1623.4 1995.6L1623.4 1995.4L1623.4 1995.3L1623.4 1995.1L1623.4 1995.0L1623.4 1994.8L1623.5 1994.6L1623.5 1994.5L1623.6 1994.3L1623.7 1994.2L1625.5 1992.0L1625.6 1991.9L1625.7 1991.8L1625.9 1991.6L1626.1 1991.5L1626.3 1991.5L1626.4 1991.4L1626.6 1991.3ZM1614.5 2000.4L1614.6 2000.4L1614.8 2000.5L1615.0 2000.6L1615.2 2000.7L1615.3 2000.8L1615.5 2001.0L1615.6 2001.1L1617.1 2003.0L1617.2 2003.1L1617.3 2003.3L1617.3 2003.4L1617.4 2003.6L1617.4 2003.8L1617.4 2003.9L1617.4 2004.1L1617.4 2004.3L1617.3 2004.5L1617.3 2004.6L1617.2 2004.8L1617.1 2004.9L1615.6 2006.8L1615.5 2006.9L1615.3 2007.1L1615.2 2007.2L1615.0 2007.3L1614.8 2007.4L1614.6 2007.4L1614.5 2007.5L1610.9 2008.3L1610.8 2008.3L1610.6 2008.3L1610.4 2008.3L1610.2 2008.3L1610.0 2008.3L1608.9 2008.0L1608.1 2008.2L1607.9 2008.3L1607.7 2008.3L1607.5 2008.3L1607.3 2008.3L1607.1 2008.3L1606.9 2008.2L1604.1 2007.5L1603.9 2007.4L1603.7 2007.3L1603.6 2007.3L1603.4 2007.2L1603.3 2007.0L1603.1 2006.9L1603.0 2006.8L1602.9 2006.6L1601.8 2004.8L1601.7 2004.6L1601.6 2004.5L1601.6 2004.3L1601.5 2004.1L1601.5 2003.9L1601.5 2003.8L1601.6 2003.6L1601.6 2003.4L1601.7 2003.3L1601.8 2003.1L1602.9 2001.2L1603.0 2001.1L1603.1 2001.0L1603.3 2000.8L1603.4 2000.7L1603.6 2000.6L1603.7 2000.5L1603.9 2000.5L1604.1 2000.4L1606.9 1999.7L1607.1 1999.6L1607.3 1999.6L1607.5 1999.6L1607.7 1999.6L1607.9 1999.6L1608.1 1999.7L1608.9 1999.9L1610.0 1999.6L1610.2 1999.6L1610.4 1999.6L1610.6 1999.6L1610.8 1999.6L1610.9 1999.6ZM1600.8 2023.7L1601.0 2023.8L1601.2 2023.9L1601.3 2024.0L1601.5 2024.1L1601.6 2024.2L1601.7 2024.4L1601.8 2024.5L1601.9 2024.7L1603.4 2027.8L1603.4 2027.9L1603.5 2028.1L1603.5 2028.3L1603.5 2028.4L1603.5 2028.6L1603.5 2028.8L1603.4 2028.9L1603.4 2029.1L1601.9 2032.2L1601.8 2032.3L1601.7 2032.5L1601.6 2032.6L1601.5 2032.8L1601.3 2032.9L1601.2 2033.0L1601.0 2033.1L1600.8 2033.1L1597.3 2034.4L1597.1 2034.5L1596.9 2034.5L1596.8 2034.5L1596.6 2034.6L1596.4 2034.5L1596.2 2034.5L1596.0 2034.5L1595.8 2034.4L1592.3 2033.1L1592.1 2033.1L1591.9 2033.0L1591.8 2032.9L1591.6 2032.8L1591.5 2032.6L1591.4 2032.5L1591.3 2032.3L1591.2 2032.2L1589.8 2029.1L1589.7 2028.9L1589.6 2028.8L1589.6 2028.6L1589.6 2028.4L1589.6 2028.3L1589.6 2028.1L1589.7 2027.9L1589.8 2027.8L1591.2 2024.7L1591.3 2024.5L1591.4 2024.4L1591.5 2024.2L1591.6 2024.1L1591.8 2024.0L1591.9 2023.9L1592.1 2023.8L1592.3 2023.7L1595.8 2022.4L1596.0 2022.4L1596.2 2022.3L1596.4 2022.3L1596.6 2022.3L1596.8 2022.3L1596.9 2022.3L1597.1 2022.4L1597.3 2022.4ZM1589.9 1979.9L1589.8 1980.0L1589.6 1980.2L1589.5 1980.3L1589.4 1980.4L1589.2 1980.5L1589.1 1980.6L1588.9 1980.6L1588.7 1980.7L1585.2 1981.6L1585.0 1981.6L1584.8 1981.6L1584.6 1981.6L1584.5 1981.6L1584.3 1981.6L1584.1 1981.6L1580.6 1980.7L1580.4 1980.6L1580.2 1980.6L1580.1 1980.5L1579.9 1980.4L1579.8 1980.3L1579.6 1980.2L1579.5 1980.0L1579.4 1979.9L1578.0 1977.7L1577.9 1977.6L1577.8 1977.4L1577.8 1977.3L1577.7 1977.1L1577.7 1976.9L1577.7 1976.8L1577.7 1976.6L1577.8 1976.4L1577.8 1976.3L1577.9 1976.1L1578.0 1975.9L1579.4 1973.8L1579.5 1973.6L1579.6 1973.5L1579.8 1973.4L1579.9 1973.3L1580.1 1973.2L1580.2 1973.1L1580.4 1973.0L1580.6 1973.0L1584.1 1972.1L1584.3 1972.1L1584.5 1972.0L1584.6 1972.0L1584.8 1972.0L1585.0 1972.1L1585.2 1972.1L1588.7 1973.0L1588.9 1973.0L1589.1 1973.1L1589.2 1973.2L1589.4 1973.3L1589.5 1973.4L1589.6 1973.5L1589.8 1973.6L1589.9 1973.8L1591.3 1975.9L1591.4 1976.1L1591.5 1976.3L1591.5 1976.4L1591.6 1976.6L1591.6 1976.8L1591.6 1976.9L1591.6 1977.1L1591.5 1977.3L1591.5 1977.4L1591.4 1977.6L1591.3 1977.7ZM1567.2 2014.2L1567.1 2014.3L1566.9 2014.5L1566.8 2014.6L1566.6 2014.7L1566.5 2014.8L1566.3 2014.8L1566.1 2014.9L1565.9 2014.9L1565.7 2015.0L1565.5 2015.0L1562.1 2015.0L1561.9 2015.0L1561.7 2014.9L1561.5 2014.9L1561.3 2014.8L1561.1 2014.8L1561.0 2014.7L1560.8 2014.6L1560.7 2014.5L1560.5 2014.3L1560.4 2014.2L1558.7 2011.9L1558.6 2011.8L1558.5 2011.6L1558.4 2011.5L1558.4 2011.3L1558.3 2011.1L1558.3 2010.9L1558.3 2010.8L1558.4 2010.6L1558.4 2010.4L1558.5 2010.3L1558.6 2010.1L1558.7 2010.0L1560.4 2007.7L1560.5 2007.6L1560.7 2007.4L1560.8 2007.3L1561.0 2007.2L1561.1 2007.1L1561.3 2007.1L1561.5 2007.0L1561.7 2007.0L1561.9 2006.9L1562.1 2006.9L1565.5 2006.9L1565.7 2006.9L1565.9 2007.0L1566.1 2007.0L1566.3 2007.1L1566.5 2007.1L1566.6 2007.2L1566.8 2007.3L1566.9 2007.4L1567.1 2007.6L1567.2 2007.7L1568.9 2010.0L1569.0 2010.1L1569.1 2010.3L1569.2 2010.4L1569.2 2010.6L1569.2 2010.8L1569.3 2010.9L1569.2 2011.1L1569.2 2011.3L1569.2 2011.5L1569.1 2011.6L1569.0 2011.8L1568.9 2011.9ZM1547.4 1993.4L1547.2 1993.4L1547.0 1993.4L1546.8 1993.4L1546.6 1993.4L1546.4 1993.4L1542.9 1992.6L1542.7 1992.6L1542.5 1992.5L1542.4 1992.4L1542.2 1992.3L1542.0 1992.2L1541.9 1992.1L1541.8 1991.9L1540.3 1990.1L1540.2 1989.9L1540.1 1989.8L1540.0 1989.6L1540.0 1989.4L1540.0 1989.3L1540.0 1989.1L1540.0 1988.9L1540.0 1988.7L1540.0 1988.6L1540.1 1988.4L1540.2 1988.2L1540.3 1988.1L1541.8 1986.2L1541.9 1986.1L1542.0 1986.0L1542.2 1985.8L1542.4 1985.7L1542.5 1985.6L1542.7 1985.6L1542.9 1985.5L1546.4 1984.8L1546.6 1984.7L1546.8 1984.7L1547.0 1984.7L1547.2 1984.7L1547.4 1984.8L1550.9 1985.5L1551.1 1985.6L1551.3 1985.6L1551.5 1985.7L1551.6 1985.8L1551.8 1986.0L1551.9 1986.1L1552.1 1986.2L1553.5 1988.1L1553.6 1988.2L1553.7 1988.4L1553.8 1988.6L1553.8 1988.7L1553.8 1988.9L1553.9 1989.1L1553.8 1989.3L1553.8 1989.4L1553.8 1989.6L1553.7 1989.8L1553.6 1989.9L1553.5 1990.1L1552.1 1991.9L1551.9 1992.1L1551.8 1992.2L1551.6 1992.3L1551.5 1992.4L1551.3 1992.5L1551.1 1992.6L1550.9 1992.6ZM1519.3 1994.1L1519.2 1994.1L1519.0 1994.0L1518.8 1993.9L1518.7 1993.8L1518.5 1993.7L1518.4 1993.6L1518.3 1993.5L1518.2 1993.4L1516.4 1990.9L1516.3 1990.7L1516.2 1990.6L1516.2 1990.4L1516.1 1990.2L1516.1 1990.0L1516.1 1989.9L1516.1 1989.7L1516.2 1989.5L1516.2 1989.3L1516.3 1989.2L1516.4 1989.0L1518.2 1986.6L1518.3 1986.4L1518.4 1986.3L1518.5 1986.2L1518.7 1986.1L1518.8 1986.0L1519.0 1985.9L1519.2 1985.8L1519.3 1985.8L1523.5 1984.8L1523.8 1984.7L1524.0 1984.7L1524.2 1984.7L1524.4 1984.7L1524.6 1984.8L1528.8 1985.8L1529.0 1985.8L1529.2 1985.9L1529.3 1986.0L1529.5 1986.1L1529.6 1986.2L1529.7 1986.3L1529.9 1986.4L1530.0 1986.6L1531.7 1989.0L1531.8 1989.2L1531.9 1989.3L1532.0 1989.5L1532.0 1989.7L1532.0 1989.9L1532.0 1990.0L1532.0 1990.2L1532.0 1990.4L1531.9 1990.6L1531.8 1990.7L1531.7 1990.9L1530.0 1993.4L1529.9 1993.5L1529.7 1993.6L1529.6 1993.7L1529.5 1993.8L1529.3 1993.9L1529.2 1994.0L1529.0 1994.1L1528.8 1994.1L1524.6 1995.1L1524.4 1995.2L1524.2 1995.2L1524.0 1995.2L1523.8 1995.2L1523.5 1995.1ZM1514.3 2033.2L1514.1 2033.2L1513.8 2033.2L1513.6 2033.2L1513.4 2033.2L1513.2 2033.2L1508.3 2032.0L1508.1 2032.0L1508.0 2031.9L1507.8 2031.8L1507.7 2031.8L1507.5 2031.7L1507.4 2031.5L1507.3 2031.4L1507.2 2031.3L1505.1 2028.5L1505.0 2028.4L1504.9 2028.2L1504.9 2028.1L1504.8 2027.9L1504.8 2027.7L1504.8 2027.6L1504.8 2027.4L1504.8 2027.2L1504.9 2027.1L1504.9 2026.9L1505.0 2026.8L1505.1 2026.6L1507.2 2023.8L1507.3 2023.7L1507.4 2023.6L1507.5 2023.5L1507.7 2023.4L1507.8 2023.3L1508.0 2023.2L1508.1 2023.1L1508.3 2023.1L1513.2 2021.9L1513.4 2021.9L1513.6 2021.9L1513.8 2021.9L1514.1 2021.9L1514.3 2021.9L1519.2 2023.1L1519.3 2023.1L1519.5 2023.2L1519.7 2023.3L1519.8 2023.4L1520.0 2023.5L1520.1 2023.6L1520.2 2023.7L1520.3 2023.8L1522.4 2026.6L1522.5 2026.8L1522.5 2026.9L1522.6 2027.1L1522.6 2027.2L1522.7 2027.4L1522.7 2027.6L1522.7 2027.7L1522.6 2027.9L1522.6 2028.1L1522.5 2028.2L1522.5 2028.4L1522.4 2028.5L1520.3 2031.3L1520.2 2031.4L1520.1 2031.5L1520.0 2031.7L1519.8 2031.8L1519.7 2031.8L1519.5 2031.9L1519.3 2032.0L1519.2 2032.0Z" fill="#4c0c6b" fill-rule="evenodd"/><path d="M1341.9 1787.4L1334.7 1791.9L1327.2 1799.4L1323.6 1807.4L1325.3 1815.1L1331.7 1821.5L1338.9 1825.0L1347.8 1824.7L1353.2 1822.5L1352.3 1814.4L1350.7 1805.8L1347.4 1794.5L1347.4 1794.5L1346.2 1789.7Z" fill="#f3e35a" fill-rule="evenodd"/><path d="M1720.9 1648.6L1702.5 1650.6L1688.7 1658.7L1676.9 1669.1L1665.0 1683.8L1664.9 1683.8L1655.5 1694.2L1652.1 1704.4L1649.7 1719.0L1648.5 1731.6L1648.5 1731.7L1644.7 1756.9L1648.4 1777.6L1655.6 1794.4L1655.7 1794.6L1655.7 1794.8L1658.1 1811.3L1665.1 1821.7L1665.1 1821.7L1672.2 1832.3L1672.4 1832.4L1672.4 1832.6L1676.9 1845.3L1677.0 1845.5L1679.1 1856.7L1691.0 1877.6L1691.0 1877.7L1691.1 1877.8L1698.7 1899.0L1698.8 1899.1L1703.1 1916.0L1709.7 1931.3L1724.5 1927.5L1738.7 1921.4L1752.8 1913.1L1759.4 1905.2L1761.7 1895.0L1761.8 1894.8L1761.8 1894.7L1761.9 1894.5L1762.0 1894.4L1762.1 1894.2L1771.8 1883.7L1771.9 1883.5L1772.0 1883.4L1772.1 1883.4L1781.6 1877.1L1791.0 1866.7L1798.2 1858.3L1807.6 1843.7L1813.0 1834.4L1822.6 1815.5L1822.7 1815.3L1822.8 1815.2L1823.0 1815.0L1823.1 1814.9L1823.3 1814.8L1823.4 1814.7L1834.3 1808.9L1832.1 1795.3L1832.1 1795.1L1832.1 1794.9L1834.5 1773.7L1835.7 1756.9L1834.5 1736.0L1831.0 1723.6L1825.1 1708.8L1819.1 1696.3L1813.2 1688.1L1805.0 1679.8L1794.2 1671.4L1794.1 1671.3L1794.0 1671.1L1793.9 1671.0L1793.8 1670.9L1787.0 1659.8L1778.0 1655.8L1769.0 1652.8L1757.9 1654.7L1751.0 1658.8L1750.8 1658.9L1750.6 1659.0L1750.5 1659.1L1750.3 1659.1L1750.1 1659.1L1749.9 1659.1L1749.7 1659.1L1749.5 1659.1L1749.3 1659.1L1749.2 1659.0L1749.0 1658.9L1739.5 1654.7L1727.7 1650.5Z" fill="#4c0c6b" fill-rule="evenodd"/><path d="M1786 1666h0m-25 39h0m31 33h0m-102 2h0m43 19h0m37 63h0m-106 59h0m-79 55h0m2 21h0m39 27h0m-158 26h0m37 45h0" stroke="#210c4a" stroke-width="6.0" stroke-linecap="round" fill="none"/><path d="M1717 1648h0m6 1h0m-23 4h0m60 0h0m11 0h0m-2 1h0m-1 2h0m-25 1h0m14 0h0m-69 1h0m47 0h0m25 0h0m-31 1h0m18 2h0m4 0h0m24 1h0m-31 2h0m3 1h0m38 0h0m-79 2h0m12 0h0m17 0h0m44 0h0m-28 1h0m-53 1h0m91 2h0m6 0h0m-103 1h0m17 0h0m56 0h0m11 0h0m-18 2h0m-80 1h0m39 0h0m57 0h0m-79 1h0m35 1h0m9 0h0m4 0h0m-75 1h0m110 0h0m1 0h0m-98 1h0m4 0h0m9 0h0m5 0h0m-14 1h0m122 0h0m-115 1h0m32 0h0m4 0h0m18 0h0m-34 1h0m8 0h0m37 0h0m39 3h0m-33 1h0m-74 1h0m31 0h0m-52 1h0m8 0h0m17 0h0m57 0h0m-90 1h0m77 0h0m10 0h0m-58 1h0m64 0h0m36 0h0m19 0h0m-116 1h0m35 1h0m26 0h0m38 1h0m-119 1h0m100 0h0m-86 1h0m30 0h0m2 0h0m-50 1h0m55 0h0m70 1h0m-67 1h0m31 0h0m45 0h0m7 0h0m-116 1h0m-16 1h0m37 0h0m102 0h0m-155 1h0m38 0h0m-9 1h0m48 0h0m63 0h0m-110 1h0m27 0h0m70 0h0m-139 1h0m78 0h0m21 0h0m24 0h0m4 0h0m32 0h0m-101 2h0m-40 1h0m4 0h0m11 0h0m5 0h0m84 0h0m8 0h0m38 0h0m-118 1h0m97 0h0m-47 1h0m-97 1h0m9 0h0m5 0h0m12 0h0m23 0h0m13 0h0m22 0h0m-72 1h0m63 0h0m4 0h0m-52 1h0m5 0h0m10 1h0m21 0h0m57 0h0m24 0h0m-57 1h0m-70 1h0m12 0h0m17 0h0m103 0h0m3 0h0m-112 1h0m3 0h0m100 0h0m-138 1h0m93 1h0m26 0h0m-59 1h0m29 0h0m34 0h0m-128 1h0m55 0h0m116 0h0m-101 1h0m38 0h0m21 0h0m13 0h0m-97 1h0m24 0h0m-44 1h0m26 0h0m17 0h0m30 0h0m77 0h0m2 0h0m-174 1h0m36 0h0m111 0h0m11 0h0m-97 1h0m29 0h0m-38 1h0m4 0h0m73 0h0m40 0h0m-99 1h0m48 0h0m28 0h0m-121 1h0m9 0h0m47 0h0m-43 1h0m68 1h0m38 0h0m34 1h0m-129 1h0m41 0h0m63 0h0m-71 1h0m93 0h0m-97 2h0m21 0h0m67 0h0m-154 1h0m97 0h0m48 0h0m-116 1h0m18 0h0m77 0h0m27 0h0m-160 1h0m109 0h0m8 0h0m-128 1h0m41 0h0m18 0h0m18 0h0m35 0h0m12 0h0m57 0h0m-134 3h0m23 0h0m115 0h0m-185 1h0m78 0h0m55 0h0m-94 1h0m-9 1h0m110 1h0m10 0h0m-59 1h0m38 0h0m18 0h0m-107 1h0m-21 1h0m38 0h0m-44 1h0m23 0h0m10 0h0m22 0h0m49 0h0m48 0h0m8 1h0m-169 1h0m164 0h0m-69 1h0m28 0h0m11 0h0m7 0h0m18 0h0m-154 1h0m97 0h0m-95 1h0m10 0h0m25 0h0m132 0h0m-173 1h0m36 0h0m12 0h0m35 0h0m39 0h0m28 0h0m-106 1h0m30 0h0m10 0h0m-91 1h0m22 1h0m25 0h0m33 0h0m34 0h0m-93 1h0m47 0h0m40 0h0m46 1h0m-134 1h0m164 0h0m-70 1h0m-15 1h0m27 0h0m33 0h0m-114 1h0m8 0h0m12 0h0m84 0h0m-129 1h0m36 0h0m78 0h0m47 0h0m-114 1h0m33 0h0m20 0h0m-23 1h0m48 0h0m18 0h0m-108 1h0m8 1h0m31 1h0m8 0h0m-101 1h0m19 0h0m7 0h0m129 1h0m-64 1h0m62 0h0m14 0h0m-154 1h0m90 0h0m-95 1h0m30 0h0m83 0h0m-12 1h0m13 0h0m7 0h0m15 0h0m-48 2h0m59 0h0m18 0h0m-165 1h0m4 1h0m37 0h0m95 0h0m-136 1h0m115 0h0m17 0h0m-75 1h0m69 0h0m-94 1h0m56 0h0m-49 1h0m134 0h0m5 0h0m-59 1h0m37 0h0m-108 1h0m-48 1h0m15 0h0m22 0h0m69 0h0m4 0h0m39 0h0m-49 1h0m64 0h0m-152 1h0m52 0h0m62 0h0m9 0h0m-133 1h0m13 0h0m164 0h0m-143 1h0m105 0h0m-94 1h0m6 0h0m12 1h0m13 1h0m44 0h0m-108 1h0m121 0h0m31 0h0m-114 1h0m14 0h0m15 0h0m69 0h0m-4 1h0m-145 1h0m16 0h0m73 1h0m58 0h0m8 0h0m6 0h0m-158 1h0m21 0h0m52 0h0m3 0h0m59 0h0m-130 1h0m13 0h0m84 0h0m65 0h0m3 0h0m-75 1h0m60 0h0m-145 1h0m14 0h0m31 0h0m41 0h0m5 0h0m3 0h0m-102 2h0m139 0h0m-124 1h0m52 0h0m-25 1h0m48 0h0m54 0h0m20 0h0m-114 1h0m14 1h0m32 0h0m-77 1h0m18 0h0m80 0h0m16 0h0m29 0h0m-5 1h0m14 0h0m-141 1h0m83 0h0m41 0h0m-143 1h0m3 0h0m26 0h0m116 1h0m2 0h0m-155 1h0m54 0h0m-35 1h0m16 0h0m9 1h0m10 0h0m24 0h0m37 2h0m24 0h0m16 0h0m-152 1h0m12 0h0m11 0h0m40 0h0m-24 1h0m47 0h0m-20 1h0m13 0h0m-71 1h0m13 0h0m97 0h0m33 0h0m-80 1h0m9 0h0m64 0h0m-81 2h0m29 0h0m33 0h0m-66 1h0m9 2h0m36 0h0m3 0h0m35 0h0m6 1h0m-105 2h0m107 0h0m-31 1h0m-81 1h0m60 1h0m-87 1h0m21 0h0m9 0h0m9 0h0m70 0h0m14 0h0m-6 2h0m-107 1h0m6 0h0m35 0h0m57 0h0m-54 1h0m-19 1h0m49 0h0m3 0h0m11 0h0m-89 1h0m103 0h0m-110 1h0m30 0h0m49 3h0m-65 1h0m70 0h0m-98 1h0m102 0h0m-87 1h0m17 0h0m58 0h0m4 0h0m36 0h0m-65 1h0m54 0h0m-82 1h0m45 0h0m25 1h0m0 0h0m-59 1h0m-43 1h0m15 0h0m116 0h0m-79 2h0m23 0h0m3 0h0m-4 3h0m-22 1h0m-58 1h0m30 0h0m17 0h0m66 1h0m-112 1h0m81 0h0m29 0h0m-105 1h0m30 0h0m-29 1h0m119 0h0m-105 1h0m46 0h0m29 0h0m8 0h0m-21 1h0m32 0h0m-61 1h0m-29 1h0m37 0h0m7 0h0m9 0h0m14 0h0m-11 1h0m-20 1h0m44 1h0m5 0h0m-113 1h0m5 0h0m44 0h0m20 0h0m50 0h0m-35 1h0m-32 1h0m47 0h0m-37 1h0m9 0h0m41 1h0m-46 2h0m44 1h0m-29 1h0m-48 1h0m63 0h0m-100 1h0m8 0h0m63 4h0m-46 1h0m25 0h0m45 2h0m-88 1h0m-9 1h0m69 0h0m11 1h0m26 0h0m3 0h0m-112 1h0m8 0h0m43 0h0m20 0h0m14 1h0m8 0h0m12 0h0m-107 1h0m99 0h0m-35 2h0m21 1h0m-84 1h0m69 0h0m36 0h0m4 0h0m-11 1h0m-72 1h0m78 0h0m-101 1h0m103 0h0m-34 2h0m39 0h0m-41 1h0m-70 1h0m61 1h0m27 2h0m-36 1h0m11 0h0m3 0h0m17 0h0m-99 1h0m75 0h0m-71 1h0m82 2h0m1 0h0m11 2h0m-93 1h0m16 3h0m57 0h0m-74 1h0m7 0h0m-20 1h0m111 0h0m-104 1h0m10 0h0m-27 1h0m114 0h0m-109 2h0m70 1h0m12 0h0m-67 1h0m79 0h0m3 0h0m-120 1h0m6 1h0m5 0h0m-22 1h0m40 1h0m2 0h0m11 0h0m-62 2h0m34 0h0m-19 1h0m14 0h0m4 0h0m62 0h0m-52 1h0m-55 1h0m13 0h0m53 0h0m-37 1h0m6 1h0m11 1h0m-49 1h0m18 0h0m34 0h0m18 0h0m12 0h0m-6 2h0m-83 1h0m67 0h0m12 0h0m-203 1h0m164 0h0m48 1h0m-95 2h0m5 0h0m57 0h0m28 0h0m54 0h0m-116 1h0m82 0h0m-208 1h0m152 0h0m31 0h0m17 0h0m-96 1h0m7 0h0m26 0h0m10 0h0m-63 1h0m66 1h0m40 0h0m-76 1h0m10 0h0m17 0h0m35 0h0m-162 1h0m97 0h0m31 0h0m21 0h0m-183 1h0m120 1h0m18 0h0m68 0h0m-115 1h0m6 0h0m56 0h0m28 0h0m1 0h0m-65 1h0m-23 1h0m5 0h0m18 0h0m49 0h0m22 0h0m-160 1h0m24 0h0m112 0h0m-123 1h0m99 0h0m-121 1h0m24 0h0m57 0h0m40 0h0m15 0h0m25 0h0m44 0h0m-140 1h0m7 0h0m2 0h0m72 0h0m10 0h0m-57 1h0m46 1h0m35 1h0m-152 1h0m31 0h0m6 0h0m91 0h0m-71 1h0m5 0h0m34 0h0m46 0h0m28 0h0m-149 1h0m7 0h0m20 0h0m124 0h0m5 0h0m-163 1h0m41 0h0m15 0h0m95 0h0m-97 1h0m64 0h0m20 0h0m1 0h0m-183 1h0m19 0h0m71 0h0m5 0h0m21 0h0m28 0h0m27 0h0m11 0h0m11 0h0m-95 1h0m8 0h0m-111 1h0m28 0h0m52 0h0m3 0h0m32 0h0m41 0h0m-71 1h0m61 0h0m-53 1h0m89 0h0m12 0h0m-170 1h0m152 0h0m2 0h0m-152 1h0m35 0h0m30 0h0m12 0h0m48 0h0m36 0h0m22 0h0m-142 1h0m7 0h0m13 0h0m-5 1h0m76 0h0m54 0h0m-200 1h0m102 0h0m4 0h0m5 0h0m73 0h0m-154 1h0m53 0h0m33 0h0m22 0h0m4 0h0m16 0h0m15 0h0m-146 1h0m16 0h0m54 0h0m-96 1h0m55 0h0m53 0h0m88 0h0m-136 1h0m20 0h0m5 0h0m39 0h0m67 0h0m-186 1h0m72 0h0m43 0h0m10 0h0m-109 1h0m122 0h0m-87 1h0m126 0h0m-158 1h0m13 0h0m94 0h0m29 0h0m-152 1h0m3 0h0m6 0h0m12 0h0m119 0h0m-134 1h0m4 0h0m31 0h0m45 0h0m14 0h0m27 0h0m20 0h0m34 0h0m-149 1h0m105 0h0m14 0h0m5 0h0m-176 1h0m78 0h0m11 0h0m-48 1h0m78 0h0m-56 1h0m80 0h0m25 0h0m-168 1h0m150 0h0m-145 1h0m115 0h0m10 0h0m-111 1h0m44 0h0m48 0h0m88 0h0m-24 1h0m19 0h0m-87 1h0m-50 1h0m48 0h0m85 0h0m-182 1h0m88 0h0m-103 1h0m27 0h0m5 0h0m58 0h0m6 0h0m5 0h0m37 0h0m15 0h0m2 0h0m-167 1h0m65 0h0m116 0h0m-165 1h0m10 0h0m43 0h0m5 0h0m77 0h0m5 0h0m-60 1h0m78 0h0m0 0h0m38 0h0m4 0h0m-123 1h0m17 0h0m-106 1h0m102 0h0m25 0h0m63 0h0m13 0h0m-121 1h0m74 0h0m19 0h0m44 0h0m-118 1h0m9 1h0m43 0h0m35 0h0m-92 1h0m27 0h0m-89 1h0m44 0h0m77 0h0m-33 1h0m66 0h0m20 0h0m-109 1h0m5 0h0m14 0h0m53 0h0m-63 1h0m-47 1h0m30 0h0m26 0h0m32 0h0m47 0h0m11 0h0m-185 1h0m144 0h0m-59 1h0m104 0h0m-84 1h0m-114 1h0m86 0h0m11 0h0m47 0h0m15 1h0m-57 2h0m-60 1h0m43 0h0m39 0h0m41 0h0m-173 1h0m46 0h0m107 0h0m30 0h0m-184 1h0m37 0h0m35 0h0m40 0h0m-96 1h0m26 1h0m142 0h0m-118 1h0m23 0h0m28 0h0m32 0h0m-73 1h0m28 0h0m7 0h0m20 0h0m13 0h0m-150 1h0m85 0h0m17 0h0m5 0h0m89 0h0m-40 1h0m-94 1h0m31 0h0m81 0h0m1 0h0m-115 1h0m57 0h0m53 0h0m21 0h0m-140 1h0m75 0h0m-58 1h0m73 0h0m25 0h0m-157 1h0m55 0h0m39 0h0m22 0h0m31 0h0m-24 1h0m-176 2h0m4 0h0m90 0h0m42 0h0m20 0h0m28 0h0m-129 1h0m55 0h0m89 0h0m7 0h0m15 0h0m-79 1h0m16 0h0m17 0h0m-22 1h0m-85 1h0m18 0h0m31 0h0m2 0h0m-40 1h0m73 0h0m-57 1h0m63 0h0m9 0h0m16 0h0m-118 1h0m41 0h0m23 0h0m80 0h0m-147 1h0m62 0h0m49 0h0m9 0h0m10 0h0m-147 1h0m65 0h0m28 0h0m41 0h0m25 0h0m-166 1h0m123 0h0m-15 1h0m30 1h0m-133 1h0m8 0h0m50 0h0m9 0h0m73 0h0m7 0h0m-130 1h0m58 0h0m-51 1h0m67 0h0m20 0h0m-48 1h0m15 1h0m9 0h0m10 0h0m50 0h0m-111 1h0m57 0h0m33 0h0m-52 1h0m1 0h0m58 0h0m-129 1h0m51 0h0m41 0h0m37 1h0m-80 1h0m38 0h0m-102 1h0m109 0h0m11 0h0m2 0h0m-10 1h0m-90 1h0m25 0h0m52 0h0m6 0h0m-69 1h0m14 0h0m5 0h0m68 0h0m-76 1h0m62 0h0m6 0h0m-78 2h0m9 0h0m12 0h0m39 0h0m-79 1h0m69 0h0m48 0h0m-43 1h0m-86 2h0m100 0h0m18 0h0m-102 2h0m99 0h0m-96 1h0m15 0h0m86 0h0m-94 1h0m67 1h0m9 0h0m17 0h0m-9 1h0m-130 1h0m119 0h0m10 1h0m-93 4h0m20 0h0m-25 3h0m15 2h0m-15 1h0m3 2h0" stroke="#360961" stroke-width="6.0" stroke-linecap="round" fill="none"/><path d="M1714 1649h0m-8 1h0m3 1h0m2 0h0m17 1h0m3 0h0m35 0h0m-63 2h0m9 0h0m4 0h0m3 0h0m6 0h0m8 0h0m4 0h0m5 0h0m-36 1h0m19 0h0m4 0h0m36 0h0m-66 1h0m9 0h0m71 0h0m-74 1h0m21 0h0m25 0h0m12 0h0m2 0h0m9 0h0m7 0h0m-81 1h0m49 0h0m3 0h0m26 0h0m-86 1h0m4 0h0m21 0h0m3 0h0m20 0h0m15 0h0m13 0h0m-67 1h0m14 0h0m8 0h0m12 0h0m6 0h0m35 0h0m-68 1h0m15 0h0m46 0h0m17 0h0m-101 1h0m4 0h0m22 0h0m18 0h0m4 0h0m22 0h0m7 0h0m-63 1h0m60 0h0m-58 1h0m30 0h0m2 0h0m18 0h0m5 0h0m12 0h0m5 0h0m-94 1h0m5 0h0m5 0h0m1 0h0m17 0h0m3 0h0m2 0h0m8 0h0m7 0h0m12 0h0m25 0h0m13 0h0m5 0h0m-84 1h0m45 0h0m-8 1h0m14 0h0m38 0h0m5 0h0m-111 1h0m8 0h0m5 0h0m8 0h0m10 0h0m12 0h0m46 0h0m-93 1h0m64 0h0m13 0h0m-77 1h0m38 0h0m12 0h0m14 0h0m21 0h0m12 0h0m-94 1h0m9 0h0m8 0h0m4 0h0m21 0h0m14 0h0m11 0h0m20 0h0m16 0h0m4 0h0m-104 1h0m22 0h0m11 0h0m24 0h0m9 0h0m6 0h0m-65 1h0m21 0h0m2 0h0m47 0h0m11 0h0m9 0h0m11 0h0m-107 1h0m18 0h0m17 0h0m6 0h0m3 0h0m10 0h0m17 0h0m10 0h0m3 0h0m18 0h0m-59 1h0m4 0h0m14 0h0m50 0h0m-96 1h0m44 0h0m4 0h0m26 0h0m-102 1h0m3 0h0m7 0h0m13 0h0m22 0h0m6 0h0m37 0h0m4 0h0m28 0h0m5 0h0m8 0h0m-110 1h0m9 0h0m6 0h0m3 0h0m24 0h0m15 0h0m34 0h0m-99 1h0m12 0h0m59 0h0m14 0h0m1 0h0m17 0h0m-120 1h0m31 0h0m16 0h0m7 0h0m12 0h0m16 0h0m29 0h0m12 0h0m6 0h0m-44 1h0m12 0h0m7 0h0m-101 1h0m36 0h0m35 0h0m20 0h0m16 0h0m21 0h0m-135 1h0m6 0h0m91 0h0m6 0h0m11 0h0m-74 1h0m5 0h0m1 0h0m29 0h0m17 0h0m7 0h0m43 0h0m-187 1h0m47 0h0m12 0h0m9 0h0m37 0h0m1 0h0m6 0h0m66 0h0m4 0h0m10 0h0m-152 1h0m23 0h0m7 0h0m0 0h0m27 0h0m17 0h0m39 0h0m15 0h0m6 0h0m-87 1h0m19 0h0m32 0h0m7 0h0m-82 1h0m15 0h0m7 0h0m7 0h0m13 0h0m15 0h0m5 0h0m11 0h0m14 0h0m11 0h0m8 0h0m16 0h0m-154 1h0m19 0h0m34 0h0m4 0h0m10 0h0m62 0h0m30 0h0m5 0h0m-140 1h0m8 0h0m48 0h0m5 0h0m60 0h0m5 0h0m11 0h0m-165 1h0m14 0h0m13 0h0m24 0h0m30 0h0m15 0h0m16 0h0m4 0h0m10 0h0m11 0h0m3 0h0m16 0h0m-183 1h0m49 0h0m27 0h0m2 0h0m4 0h0m50 0h0m16 0h0m8 0h0m21 0h0m3 0h0m-146 1h0m10 0h0m13 0h0m84 0h0m15 0h0m13 0h0m11 0h0m-135 1h0m13 0h0m3 0h0m22 0h0m8 0h0m33 0h0m12 0h0m28 0h0m33 0h0m-157 1h0m65 0h0m36 0h0m9 0h0m34 0h0m5 0h0m4 0h0m-130 1h0m8 0h0m10 0h0m5 0h0m32 0h0m3 0h0m4 0h0m5 0h0m31 0h0m1 0h0m-107 1h0m17 0h0m12 0h0m7 0h0m32 0h0m26 0h0m5 0h0m10 0h0m15 0h0m-128 1h0m21 0h0m17 0h0m10 0h0m15 0h0m12 0h0m71 0h0m-155 1h0m20 0h0m25 0h0m21 0h0m25 0h0m9 0h0m13 0h0m14 0h0m22 0h0m11 0h0m-170 1h0m71 0h0m18 0h0m25 0h0m48 0h0m-158 1h0m12 0h0m33 0h0m31 0h0m2 0h0m16 0h0m7 0h0m27 0h0m11 0h0m2 0h0m-143 1h0m16 0h0m3 0h0m36 0h0m1 0h0m12 0h0m60 0h0m21 0h0m3 0h0m3 0h0m-152 1h0m8 0h0m31 0h0m9 0h0m38 0h0m9 0h0m12 0h0m4 0h0m5 0h0m12 0h0m31 0h0m-136 1h0m7 0h0m47 0h0m20 0h0m0 0h0m30 0h0m-123 1h0m138 0h0m24 0h0m-164 1h0m34 0h0m7 0h0m37 0h0m3 0h0m0 0h0m30 0h0m16 0h0m6 0h0m3 0h0m4 0h0m22 0h0m-170 1h0m58 0h0m5 0h0m18 0h0m27 0h0m1 0h0m52 0h0m-155 1h0m8 0h0m26 0h0m35 0h0m85 0h0m-134 1h0m8 0h0m12 0h0m7 0h0m14 0h0m43 0h0m26 0h0m18 0h0m1 0h0m-148 1h0m17 0h0m32 0h0m17 0h0m21 0h0m5 0h0m14 0h0m18 0h0m8 0h0m21 0h0m11 0h0m-134 1h0m4 0h0m15 0h0m49 0h0m13 0h0m3 0h0m6 0h0m12 0h0m2 0h0m3 0h0m22 0h0m11 0h0m-160 1h0m55 0h0m11 0h0m70 0h0m-131 1h0m17 0h0m16 0h0m3 0h0m31 0h0m16 0h0m6 0h0m59 0h0m-170 1h0m11 0h0m64 0h0m13 0h0m4 0h0m9 0h0m1 0h0m21 0h0m36 0h0m-137 1h0m42 0h0m20 0h0m12 0h0m34 0h0m4 0h0m23 0h0m3 0h0m7 0h0m-164 1h0m10 0h0m55 0h0m2 0h0m46 0h0m2 0h0m4 0h0m9 0h0m11 0h0m7 0h0m3 0h0m12 0h0m14 0h0m-171 1h0m12 0h0m29 0h0m5 0h0m4 0h0m17 0h0m7 0h0m12 0h0m-81 1h0m8 0h0m9 0h0m13 0h0m64 0h0m2 0h0m21 0h0m47 0h0m3 0h0m-149 1h0m3 0h0m7 0h0m6 0h0m56 0h0m10 0h0m9 0h0m39 0h0m-163 1h0m6 0h0m5 0h0m8 0h0m8 0h0m13 0h0m51 0h0m25 0h0m50 0h0m-136 1h0m53 0h0m33 0h0m4 0h0m3 0h0m19 0h0m9 0h0m1 0h0m18 0h0m-130 1h0m37 0h0m5 0h0m3 0h0m6 0h0m2 0h0m34 0h0m1 0h0m-116 1h0m25 0h0m18 0h0m8 0h0m73 0h0m11 0h0m13 0h0m5 0h0m19 0h0m-166 1h0m13 0h0m35 0h0m15 0h0m2 0h0m9 0h0m8 0h0m41 0h0m7 0h0m25 0h0m5 0h0m-167 1h0m15 0h0m26 0h0m30 0h0m36 0h0m22 0h0m-128 1h0m4 0h0m3 0h0m26 0h0m10 0h0m16 0h0m20 0h0m75 0h0m-158 1h0m76 0h0m9 0h0m11 0h0m2 0h0m14 0h0m9 0h0m16 0h0m-111 1h0m0 0h0m17 0h0m2 0h0m54 0h0m2 0h0m4 0h0m9 0h0m27 0h0m9 0h0m26 0h0m1 0h0m-175 1h0m12 0h0m43 0h0m101 0h0m-164 1h0m2 0h0m21 0h0m24 0h0m8 0h0m2 0h0m10 0h0m8 0h0m6 0h0m5 0h0m28 0h0m6 0h0m11 0h0m14 0h0m10 0h0m4 0h0m13 0h0m2 0h0m-160 1h0m67 0h0m8 0h0m7 0h0m13 0h0m32 0h0m-130 1h0m8 0h0m16 0h0m5 0h0m33 0h0m51 0h0m4 0h0m20 0h0m10 0h0m-161 1h0m11 0h0m2 0h0m18 0h0m20 0h0m18 0h0m3 0h0m20 0h0m13 0h0m7 0h0m24 0h0m9 0h0m22 0h0m4 0h0m11 0h0m-160 1h0m5 0h0m5 0h0m74 0h0m25 0h0m-126 1h0m43 0h0m13 0h0m17 0h0m4 0h0m30 0h0m14 0h0m22 0h0m6 0h0m25 0h0m4 0h0m-173 1h0m18 0h0m65 0h0m29 0h0m33 0h0m-149 1h0m29 0h0m2 0h0m3 0h0m15 0h0m41 0h0m4 0h0m50 0h0m-134 1h0m17 0h0m36 0h0m3 0h0m3 0h0m11 0h0m18 0h0m34 0h0m3 0h0m20 0h0m4 0h0m21 0h0m-187 1h0m3 0h0m27 0h0m15 0h0m9 0h0m27 0h0m9 0h0m10 0h0m8 0h0m30 0h0m23 0h0m12 0h0m6 0h0m-169 1h0m19 0h0m18 0h0m4 0h0m8 0h0m6 0h0m29 0h0m9 0h0m11 0h0m13 0h0m4 0h0m20 0h0m5 0h0m-137 1h0m122 0h0m23 0h0m-158 1h0m11 0h0m18 0h0m1 0h0m38 0h0m30 0h0m5 0h0m35 0h0m7 0h0m12 0h0m20 0h0m-161 1h0m7 0h0m14 0h0m12 0h0m4 0h0m7 0h0m17 0h0m12 0h0m4 0h0m24 0h0m35 0h0m15 0h0m-167 1h0m30 0h0m8 0h0m55 0h0m0 0h0m31 0h0m20 0h0m7 0h0m13 0h0m6 0h0m14 0h0m-175 1h0m32 0h0m22 0h0m19 0h0m6 0h0m27 0h0m2 0h0m11 0h0m29 0h0m9 0h0m12 0h0m-180 1h0m0 0h0m7 0h0m3 0h0m46 0h0m7 0h0m9 0h0m29 0h0m70 0h0m14 0h0m-166 1h0m1 0h0m19 0h0m14 0h0m24 0h0m26 0h0m35 0h0m5 0h0m27 0h0m10 0h0m-180 1h0m18 0h0m12 0h0m19 0h0m22 0h0m40 0h0m21 0h0m21 0h0m29 0h0m-187 1h0m11 0h0m11 0h0m8 0h0m20 0h0m5 0h0m8 0h0m12 0h0m12 0h0m4 0h0m2 0h0m31 0h0m2 0h0m34 0h0m8 0h0m-166 1h0m79 0h0m22 0h0m27 0h0m9 0h0m16 0h0m7 0h0m20 0h0m-172 1h0m54 0h0m8 0h0m33 0h0m9 0h0m23 0h0m26 0h0m21 0h0m-170 1h0m23 0h0m22 0h0m13 0h0m2 0h0m22 0h0m21 0h0m9 0h0m63 0h0m-169 1h0m20 0h0m6 0h0m21 0h0m16 0h0m8 0h0m26 0h0m4 0h0m25 0h0m9 0h0m27 0h0m4 0h0m-188 1h0m6 0h0m24 0h0m3 0h0m17 0h0m4 0h0m27 0h0m9 0h0m13 0h0m45 0h0m7 0h0m11 0h0m19 0h0m-154 1h0m43 0h0m44 0h0m56 0h0m2 0h0m-148 1h0m19 0h0m18 0h0m15 0h0m6 0h0m25 0h0m16 0h0m6 0h0m1 0h0m29 0h0m15 0h0m10 0h0m-185 1h0m15 0h0m44 0h0m7 0h0m68 0h0m8 0h0m-86 1h0m27 0h0m10 0h0m12 0h0m31 0h0m9 0h0m37 0h0m-174 1h0m3 0h0m22 0h0m34 0h0m6 0h0m60 0h0m23 0h0m2 0h0m5 0h0m4 0h0m5 0h0m-160 1h0m18 0h0m4 0h0m28 0h0m55 0h0m31 0h0m28 0h0m8 0h0m6 0h0m-191 1h0m36 0h0m2 0h0m3 0h0m24 0h0m36 0h0m12 0h0m53 0h0m-154 1h0m59 0h0m3 0h0m16 0h0m7 0h0m22 0h0m6 0h0m2 0h0m11 0h0m7 0h0m44 0h0m-193 1h0m44 0h0m16 0h0m84 0h0m31 0h0m16 0h0m3 0h0m-179 1h0m40 0h0m27 0h0m3 0h0m5 0h0m2 0h0m8 0h0m4 0h0m0 0h0m32 0h0m11 0h0m16 0h0m6 0h0m9 0h0m1 0h0m-169 1h0m18 0h0m41 0h0m5 0h0m7 0h0m3 0h0m31 0h0m4 0h0m10 0h0m7 0h0m18 0h0m7 0h0m13 0h0m-169 1h0m12 0h0m14 0h0m16 0h0m6 0h0m44 0h0m21 0h0m61 0h0m-137 1h0m49 0h0m101 0h0m0 0h0m-175 1h0m3 0h0m28 0h0m4 0h0m10 0h0m15 0h0m9 0h0m34 0h0m3 0h0m14 0h0m3 0h0m21 0h0m28 0h0m2 0h0m-147 1h0m89 0h0m13 0h0m35 0h0m2 0h0m-150 1h0m37 0h0m8 0h0m3 0h0m32 0h0m3 0h0m23 0h0m13 0h0m42 0h0m-154 1h0m9 0h0m3 0h0m19 0h0m21 0h0m34 0h0m2 0h0m13 0h0m17 0h0m14 0h0m4 0h0m-161 1h0m13 0h0m13 0h0m18 0h0m3 0h0m21 0h0m13 0h0m18 0h0m19 0h0m13 0h0m6 0h0m11 0h0m5 0h0m13 0h0m11 0h0m-148 1h0m31 0h0m-43 1h0m3 0h0m15 0h0m27 0h0m11 0h0m14 0h0m13 0h0m62 0h0m15 0h0m-166 1h0m12 0h0m21 0h0m11 0h0m19 0h0m6 0h0m45 0h0m8 0h0m0 0h0m6 0h0m9 0h0m22 0h0m-176 1h0m38 0h0m9 0h0m16 0h0m10 0h0m3 0h0m12 0h0m17 0h0m7 0h0m46 0h0m12 0h0m10 0h0m-166 1h0m0 0h0m5 0h0m23 0h0m12 0h0m7 0h0m18 0h0m54 0h0m8 0h0m-144 1h0m13 0h0m27 0h0m1 0h0m14 0h0m14 0h0m3 0h0m6 0h0m46 0h0m25 0h0m9 0h0m12 0h0m10 0h0m9 0h0m-185 1h0m26 0h0m4 0h0m17 0h0m59 0h0m6 0h0m5 0h0m45 0h0m-146 1h0m45 0h0m11 0h0m6 0h0m50 0h0m2 0h0m29 0h0m22 0h0m-97 1h0m18 0h0m18 0h0m44 0h0m2 0h0m16 0h0m-164 1h0m9 0h0m12 0h0m73 0h0m14 0h0m26 0h0m10 0h0m6 0h0m9 0h0m-165 1h0m12 0h0m8 0h0m43 0h0m9 0h0m5 0h0m30 0h0m29 0h0m15 0h0m10 0h0m-147 1h0m23 0h0m11 0h0m25 0h0m14 0h0m5 0h0m43 0h0m24 0h0m-172 1h0m6 0h0m12 0h0m20 0h0m10 0h0m19 0h0m3 0h0m9 0h0m16 0h0m11 0h0m3 0h0m29 0h0m3 0h0m8 0h0m3 0h0m-143 1h0m7 0h0m40 0h0m36 0h0m7 0h0m68 0h0m-137 1h0m42 0h0m10 0h0m100 0h0m-165 1h0m20 0h0m38 0h0m11 0h0m35 0h0m5 0h0m6 0h0m17 0h0m28 0h0m-168 1h0m16 0h0m6 0h0m27 0h0m1 0h0m4 0h0m25 0h0m5 0h0m32 0h0m8 0h0m15 0h0m12 0h0m5 0h0m11 0h0m-141 1h0m14 0h0m8 0h0m23 0h0m15 0h0m28 0h0m-91 1h0m40 0h0m14 0h0m23 0h0m32 0h0m-133 1h0m17 0h0m20 0h0m3 0h0m5 0h0m21 0h0m18 0h0m12 0h0m9 0h0m8 0h0m28 0h0m7 0h0m3 0h0m3 0h0m19 0h0m-157 1h0m5 0h0m3 0h0m12 0h0m44 0h0m11 0h0m34 0h0m1 0h0m37 0h0m4 0h0m-93 1h0m-77 1h0m17 0h0m7 0h0m48 0h0m18 0h0m25 0h0m6 0h0m31 0h0m3 0h0m-153 1h0m76 0h0m19 0h0m1 0h0m7 0h0m10 0h0m14 0h0m10 0h0m1 0h0m26 0h0m-162 1h0m13 0h0m2 0h0m22 0h0m11 0h0m1 0h0m33 0h0m12 0h0m14 0h0m8 0h0m3 0h0m4 0h0m26 0h0m19 0h0m3 0h0m-148 1h0m27 0h0m20 0h0m7 0h0m23 0h0m28 0h0m8 0h0m-131 1h0m5 0h0m17 0h0m14 0h0m2 0h0m45 0h0m12 0h0m12 0h0m39 0h0m3 0h0m-103 1h0m13 0h0m-56 1h0m24 0h0m6 0h0m4 0h0m3 0h0m34 0h0m8 0h0m10 0h0m13 0h0m51 0h0m-137 1h0m39 0h0m4 0h0m47 0h0m12 0h0m9 0h0m5 0h0m34 0h0m-146 1h0m28 0h0m3 0h0m100 0h0m-160 1h0m19 0h0m10 0h0m2 0h0m6 0h0m13 0h0m21 0h0m6 0h0m6 0h0m5 0h0m20 0h0m14 0h0m1 0h0m2 0h0m16 0h0m5 0h0m27 0h0m-175 1h0m8 0h0m34 0h0m4 0h0m13 0h0m61 0h0m12 0h0m-133 1h0m46 0h0m25 0h0m11 0h0m62 0h0m9 0h0m2 0h0m10 0h0m-155 1h0m8 0h0m39 0h0m7 0h0m1 0h0m42 0h0m11 0h0m4 0h0m17 0h0m1 0h0m34 0h0m-149 1h0m8 0h0m3 0h0m29 0h0m19 0h0m31 0h0m14 0h0m6 0h0m28 0h0m14 0h0m2 0h0m-172 1h0m69 0h0m8 0h0m25 0h0m2 0h0m17 0h0m-103 1h0m92 0h0m55 0h0m-154 1h0m20 0h0m18 0h0m9 0h0m7 0h0m6 0h0m12 0h0m-81 1h0m20 0h0m23 0h0m60 0h0m5 0h0m5 0h0m7 0h0m5 0h0m18 0h0m5 0h0m-146 1h0m16 0h0m34 0h0m34 0h0m2 0h0m3 0h0m31 0h0m4 0h0m5 0h0m5 0h0m8 0h0m16 0h0m-138 1h0m10 0h0m34 0h0m5 0h0m8 0h0m18 0h0m-71 1h0m13 0h0m4 0h0m7 0h0m34 0h0m16 0h0m13 0h0m17 0h0m-122 1h0m21 0h0m24 0h0m14 0h0m14 0h0m26 0h0m11 0h0m17 0h0m4 0h0m12 0h0m-146 1h0m8 0h0m25 0h0m9 0h0m40 0h0m6 0h0m7 0h0m13 0h0m17 0h0m11 0h0m-140 1h0m55 0h0m18 0h0m45 0h0m40 0h0m-102 1h0m3 0h0m23 0h0m19 0h0m14 0h0m9 0h0m-100 1h0m43 0h0m84 0h0m6 0h0m-151 1h0m20 0h0m17 0h0m7 0h0m25 0h0m50 0h0m5 0h0m5 0h0m1 0h0m-127 1h0m8 0h0m34 0h0m19 0h0m6 0h0m22 0h0m46 0h0m4 0h0m-138 1h0m42 0h0m54 0h0m18 0h0m10 0h0m-108 1h0m7 0h0m3 0h0m11 0h0m19 0h0m18 0h0m9 0h0m4 0h0m6 0h0m15 0h0m8 0h0m-123 1h0m14 0h0m42 0h0m81 0h0m-87 1h0m29 0h0m5 0h0m25 0h0m2 0h0m18 0h0m12 0h0m4 0h0m2 0h0m-140 1h0m5 0h0m9 0h0m21 0h0m4 0h0m7 0h0m60 0h0m4 0h0m-92 1h0m3 0h0m5 0h0m33 0h0m23 0h0m11 0h0m1 0h0m24 0h0m16 0h0m-137 1h0m70 0h0m8 0h0m4 0h0m50 0h0m-131 1h0m8 0h0m27 0h0m18 0h0m9 0h0m7 0h0m-56 1h0m25 0h0m34 0h0m13 0h0m5 0h0m16 0h0m6 0h0m1 0h0m10 0h0m20 0h0m-144 1h0m6 0h0m7 0h0m4 0h0m5 0h0m36 0h0m20 0h0m13 0h0m7 0h0m11 0h0m17 0h0m5 0h0m-90 1h0m6 0h0m6 0h0m7 0h0m40 0h0m42 0h0m-135 1h0m12 0h0m53 0h0m10 0h0m10 0h0m36 0h0m2 0h0m-36 1h0m12 0h0m10 0h0m4 0h0m16 0h0m-106 1h0m20 0h0m2 0h0m12 0h0m5 0h0m11 0h0m6 0h0m12 0h0m-91 1h0m40 0h0m27 0h0m23 0h0m7 0h0m3 0h0m25 0h0m10 0h0m-128 1h0m64 0h0m46 0h0m3 0h0m-85 1h0m34 0h0m2 0h0m34 0h0m6 0h0m-110 1h0m15 0h0m32 0h0m7 0h0m8 0h0m19 0h0m7 0h0m12 0h0m30 0h0m-126 1h0m24 0h0m9 0h0m21 0h0m20 0h0m50 0h0m-157 1h0m26 0h0m29 0h0m22 0h0m40 0h0m10 0h0m1 0h0m15 0h0m2 0h0m6 0h0m-126 1h0m1 0h0m23 0h0m14 0h0m18 0h0m7 0h0m9 0h0m4 0h0m-41 1h0m9 0h0m17 0h0m60 0h0m10 0h0m0 0h0m-84 1h0m17 0h0m10 0h0m10 0h0m0 0h0m40 0h0m-79 1h0m79 0h0m-86 1h0m9 0h0m9 0h0m1 0h0m34 0h0m17 0h0m-108 1h0m6 0h0m7 0h0m7 0h0m13 0h0m8 0h0m28 0h0m5 0h0m21 0h0m19 0h0m4 0h0m10 0h0m-125 1h0m7 0h0m13 0h0m64 0h0m13 0h0m22 0h0m8 0h0m-107 1h0m6 0h0m1 0h0m11 0h0m3 0h0m5 0h0m24 0h0m26 0h0m17 0h0m-81 1h0m22 0h0m6 0h0m2 0h0m6 0h0m36 0h0m-76 1h0m11 0h0m6 0h0m6 0h0m36 0h0m15 0h0m-113 1h0m11 0h0m4 0h0m57 0h0m2 0h0m10 0h0m4 0h0m20 0h0m11 0h0m4 0h0m7 0h0m-101 1h0m14 0h0m15 0h0m67 0h0m8 0h0m-114 1h0m46 0h0m27 0h0m1 0h0m-90 1h0m44 0h0m13 0h0m59 0h0m-124 1h0m17 0h0m10 0h0m51 0h0m11 0h0m18 0h0m4 0h0m6 0h0m3 0h0m15 0h0m-132 1h0m29 0h0m7 0h0m8 0h0m9 0h0m11 0h0m29 0h0m11 0h0m23 0h0m-112 1h0m12 0h0m4 0h0m3 0h0m23 0h0m14 0h0m53 0h0m-110 1h0m6 0h0m29 0h0m4 0h0m30 0h0m7 0h0m4 0h0m11 0h0m24 0h0m-123 1h0m107 0h0m4 0h0m-72 1h0m46 0h0m17 0h0m7 0h0m2 0h0m-52 1h0m35 0h0m25 0h0m-110 1h0m5 0h0m20 0h0m11 0h0m12 0h0m27 0h0m8 0h0m-74 1h0m27 0h0m6 0h0m18 0h0m39 0h0m-85 1h0m6 0h0m9 0h0m4 0h0m21 0h0m8 0h0m40 0h0m-120 1h0m41 0h0m18 0h0m6 0h0m18 0h0m10 0h0m2 0h0m5 0h0m24 0h0m5 0h0m-150 1h0m43 0h0m44 0h0m46 0h0m-105 1h0m21 0h0m25 0h0m44 0h0m28 0h0m-95 1h0m5 0h0m11 0h0m65 0h0m-114 1h0m41 0h0m10 0h0m34 0h0m38 0h0m-117 1h0m20 0h0m8 1h0m2 0h0m8 0h0m30 0h0m4 0h0m19 0h0m-69 1h0m15 0h0m46 0h0m2 0h0m10 0h0m2 0h0m-96 1h0m62 0h0m25 0h0m28 0h0m-88 1h0m13 0h0m30 0h0m6 0h0m11 0h0m14 0h0m8 0h0m-115 1h0m30 0h0m13 0h0m16 0h0m-22 1h0m1 0h0m1 0h0m21 0h0m10 0h0m16 0h0m3 0h0m-83 1h0m72 0h0m30 0h0m8 0h0m-116 1h0m9 0h0m22 0h0m13 0h0m4 0h0m5 0h0m3 0h0m16 0h0m10 0h0m9 0h0m6 0h0m3 0h0m-25 1h0m14 0h0m-60 1h0m38 0h0m19 0h0m8 0h0m6 0h0m-63 1h0m6 0h0m15 0h0m45 0h0m10 0h0m-65 1h0m5 0h0m7 0h0m22 0h0m-82 1h0m55 0h0m8 0h0m11 0h0m12 0h0m3 0h0m10 0h0m9 0h0m-103 1h0m28 0h0m-36 1h0m45 0h0m4 0h0m1 0h0m15 0h0m4 0h0m29 0h0m9 0h0m2 0h0m-31 1h0m2 0h0m-83 1h0m44 0h0m4 0h0m7 0h0m20 0h0m29 0h0m-43 1h0m4 0h0m9 0h0m12 0h0m1 0h0m24 0h0m-114 1h0m5 0h0m6 0h0m62 0h0m1 0h0m24 0h0m-53 1h0m42 0h0m-25 1h0m2 0h0m25 0h0m-39 1h0m55 0h0m-92 1h0m34 0h0m17 0h0m16 0h0m13 0h0m16 0h0m-56 1h0m5 0h0m19 0h0m25 0h0m-35 1h0m-22 1h0m40 0h0m8 0h0m-88 1h0m46 0h0m16 0h0m8 0h0m18 0h0m3 0h0m-42 1h0m2 0h0m-54 1h0m45 0h0m5 0h0m22 0h0m-82 1h0m72 0h0m19 0h0m11 0h0m15 0h0m-50 1h0m11 0h0m12 0h0m-28 1h0m23 0h0m-83 1h0m3 0h0m5 0h0m47 0h0m29 0h0m18 0h0m-80 1h0m36 0h0m22 0h0m11 0h0m8 0h0m6 0h0m7 0h0m-55 1h0m2 0h0m3 0h0m10 0h0m15 0h0m23 0h0m-115 1h0m57 0h0m22 0h0m17 0h0m6 0h0m-99 1h0m38 0h0m47 0h0m7 0h0m10 0h0m9 0h0m-112 1h0m20 0h0m38 0h0m27 0h0m21 0h0m6 1h0m-119 1h0m12 0h0m94 0h0m-16 1h0m21 0h0m-107 1h0m68 0h0m-35 1h0m5 0h0m15 0h0m29 0h0m7 0h0m13 0h0m-110 1h0m4 0h0m13 0h0m51 0h0m12 0h0m23 0h0m11 0h0m1 0h0m10 0h0m-116 2h0m2 0h0m71 0h0m8 0h0m-88 1h0m86 0h0m7 0h0m6 0h0m1 0h0m-107 1h0m1 0h0m16 0h0m3 0h0m59 0h0m5 0h0m31 0h0m-38 1h0m14 0h0m6 0h0m-50 1h0m30 0h0m23 0h0m14 0h0m-35 1h0m-88 1h0m3 0h0m6 0h0m1 0h0m9 1h0m72 0h0m7 0h0m-76 1h0m74 0h0m7 0h0m-25 1h0m-76 1h0m103 0h0m5 0h0m-113 1h0m9 0h0m31 0h0m29 0h0m-78 1h0m4 0h0m17 0h0m5 0h0m35 0h0m45 0h0m-110 1h0m107 0h0m-76 1h0m7 0h0m16 0h0m25 0h0m-100 1h0m10 0h0m22 0h0m3 0h0m1 0h0m21 0h0m63 1h0m-129 1h0m4 0h0m20 0h0m4 0h0m-20 1h0m19 0h0m34 0h0m53 0h0m-103 1h0m9 0h0m28 0h0m30 0h0m37 0h0m-112 1h0m28 0h0m33 0h0m-66 1h0m39 0h0m2 0h0m11 0h0m-33 1h0m11 0h0m27 0h0m6 0h0m5 0h0m6 0h0m-73 1h0m21 0h0m71 0h0m16 0h0m10 0h0m6 0h0m-89 1h0m36 0h0m-84 1h0m7 0h0m2 0h0m17 0h0m14 0h0m-23 1h0m18 0h0m34 0h0m8 0h0m-81 1h0m35 0h0m22 0h0m8 0h0m4 0h0m24 0h0m-235 1h0m147 0h0m17 0h0m8 0h0m27 0h0m30 0h0m-76 1h0m12 0h0m8 0h0m4 0h0m12 0h0m18 0h0m46 0h0m-84 1h0m10 0h0m11 0h0m19 0h0m8 0h0m24 0h0m31 0h0m-76 1h0m6 0h0m17 0h0m-207 1h0m122 0h0m22 0h0m29 0h0m27 0h0m12 0h0m13 0h0m-210 1h0m118 0h0m15 0h0m23 0h0m-182 1h0m11 0h0m122 0h0m22 0h0m22 0h0m18 0h0m18 0h0m21 0h0m-204 1h0m93 0h0m2 0h0m35 0h0m7 0h0m21 0h0m5 0h0m9 0h0m9 0h0m6 0h0m10 0h0m-186 1h0m3 0h0m104 0h0m23 0h0m94 0h0m-252 1h0m11 0h0m7 0h0m23 0h0m111 0h0m36 0h0m10 0h0m23 0h0m-239 1h0m32 0h0m31 0h0m68 0h0m20 0h0m20 0h0m11 0h0m10 0h0m11 0h0m33 0h0m-184 1h0m85 0h0m9 0h0m13 0h0m15 0h0m11 0h0m27 0h0m11 0h0m3 0h0m16 0h0m-173 1h0m0 0h0m140 0h0m3 0h0m-191 1h0m9 0h0m7 0h0m25 0h0m62 0h0m13 0h0m34 0h0m24 0h0m23 0h0m3 0h0m14 0h0m-160 1h0m51 0h0m3 0h0m19 0h0m9 0h0m35 0h0m46 0h0m-219 1h0m19 0h0m15 0h0m6 0h0m11 0h0m70 0h0m8 0h0m8 0h0m46 0h0m12 0h0m8 0h0m4 0h0m-215 1h0m39 0h0m29 0h0m29 0h0m21 0h0m5 0h0m16 0h0m20 0h0m9 0h0m16 0h0m4 0h0m7 0h0m22 0h0m5 0h0m7 0h0m-173 1h0m38 0h0m63 0h0m68 0h0m8 0h0m-222 1h0m26 0h0m31 0h0m21 0h0m3 0h0m42 0h0m8 0h0m45 0h0m58 0h0m10 0h0m-243 1h0m32 0h0m3 0h0m38 0h0m70 0h0m5 0h0m47 0h0m8 0h0m9 0h0m-213 1h0m10 0h0m50 0h0m49 0h0m19 0h0m12 0h0m30 0h0m30 0h0m8 0h0m10 0h0m-164 1h0m19 0h0m35 0h0m7 0h0m15 0h0m3 0h0m19 0h0m38 0h0m-162 1h0m3 0h0m50 0h0m8 0h0m15 0h0m6 0h0m50 0h0m25 0h0m22 0h0m13 0h0m-214 1h0m7 0h0m10 0h0m0 0h0m11 0h0m23 0h0m7 0h0m5 0h0m21 0h0m26 0h0m9 0h0m7 0h0m11 0h0m3 0h0m9 0h0m4 0h0m13 0h0m23 0h0m2 0h0m-169 1h0m6 0h0m8 0h0m5 0h0m36 0h0m8 0h0m8 0h0m8 0h0m31 0h0m29 0h0m14 0h0m23 0h0m5 0h0m6 0h0m-211 1h0m47 0h0m72 0h0m24 0h0m16 0h0m14 0h0m9 0h0m-170 1h0m13 0h0m25 0h0m21 0h0m3 0h0m8 0h0m41 0h0m29 0h0m11 0h0m62 0h0m-217 1h0m61 0h0m48 0h0m11 0h0m40 0h0m15 0h0m2 0h0m6 0h0m-172 1h0m3 0h0m6 0h0m24 0h0m5 0h0m7 0h0m31 0h0m47 0h0m7 0h0m2 0h0m10 0h0m8 0h0m9 0h0m47 0h0m12 0h0m-238 1h0m5 0h0m39 0h0m8 0h0m4 0h0m6 0h0m16 0h0m41 0h0m15 0h0m13 0h0m20 0h0m36 0h0m-213 1h0m5 0h0m14 0h0m11 0h0m22 0h0m7 0h0m52 0h0m22 0h0m11 0h0m6 0h0m50 0h0m28 0h0m3 0h0m8 0h0m2 0h0m-215 1h0m43 0h0m7 0h0m19 0h0m41 0h0m16 0h0m42 0h0m-196 1h0m14 0h0m11 0h0m57 0h0m6 0h0m8 0h0m7 0h0m67 0h0m37 0h0m-87 1h0m7 0h0m23 0h0m7 0h0m18 0h0m40 0h0m21 0h0m-232 1h0m22 0h0m13 0h0m12 0h0m2 0h0m6 0h0m9 0h0m61 0h0m10 0h0m38 0h0m8 0h0m-205 1h0m36 0h0m39 0h0m22 0h0m9 0h0m13 0h0m27 0h0m19 0h0m83 0h0m19 0h0m-225 1h0m3 0h0m52 0h0m70 0h0m6 0h0m7 0h0m23 0h0m2 0h0m8 0h0m8 0h0m6 0h0m11 0h0m16 0h0m-204 1h0m4 0h0m9 0h0m1 0h0m73 0h0m4 0h0m16 0h0m6 0h0m13 0h0m7 0h0m6 0h0m22 0h0m-185 1h0m45 0h0m17 0h0m31 0h0m29 0h0m54 0h0m16 0h0m16 0h0m7 0h0m-181 1h0m6 0h0m38 0h0m5 0h0m5 0h0m14 0h0m89 0h0m16 0h0m25 0h0m-215 1h0m12 0h0m21 0h0m11 0h0m13 0h0m25 0h0m48 0h0m7 0h0m2 0h0m26 0h0m38 0h0m3 0h0m-179 1h0m16 0h0m4 0h0m4 0h0m59 0h0m36 0h0m7 0h0m17 0h0m8 0h0m13 0h0m4 0h0m-204 1h0m12 0h0m8 0h0m11 0h0m7 0h0m7 0h0m18 0h0m62 0h0m8 0h0m26 0h0m33 0h0m21 0h0m-236 1h0m66 0h0m27 0h0m98 0h0m9 0h0m20 0h0m-196 1h0m10 0h0m57 0h0m10 0h0m27 0h0m87 0h0m16 0h0m-230 1h0m29 0h0m13 0h0m4 0h0m5 0h0m24 0h0m1 0h0m42 0h0m25 0h0m8 0h0m2 0h0m29 0h0m14 0h0m24 0h0m14 0h0m-194 1h0m44 0h0m6 0h0m34 0h0m9 0h0m8 0h0m21 0h0m1 0h0m6 0h0m38 0h0m31 0h0m3 0h0m1 0h0m11 0h0m-237 1h0m33 0h0m73 0h0m13 0h0m9 0h0m1 0h0m12 0h0m11 0h0m12 0h0m-170 1h0m92 0h0m31 0h0m51 0h0m25 0h0m18 0h0m18 0h0m-261 1h0m88 0h0m6 0h0m13 0h0m8 0h0m14 0h0m67 0h0m15 0h0m-175 1h0m23 0h0m45 0h0m8 0h0m2 0h0m3 0h0m20 0h0m7 0h0m27 0h0m5 0h0m31 0h0m41 0h0m-246 1h0m28 0h0m70 0h0m23 0h0m21 0h0m27 0h0m24 0h0m50 0h0m7 0h0m-239 1h0m7 0h0m21 0h0m22 0h0m7 0h0m22 0h0m33 0h0m22 0h0m21 0h0m55 0h0m5 0h0m8 0h0m6 0h0m-253 1h0m44 0h0m23 0h0m42 0h0m0 0h0m7 0h0m35 0h0m1 0h0m9 0h0m5 0h0m25 0h0m25 0h0m5 0h0m24 0h0m-187 1h0m71 0h0m2 0h0m10 0h0m3 0h0m3 0h0m10 0h0m45 0h0m5 0h0m21 0h0m10 0h0m31 0h0m-278 1h0m37 0h0m3 0h0m36 0h0m53 0h0m19 0h0m47 0h0m9 0h0m6 0h0m16 0h0m-193 1h0m111 0h0m37 0h0m11 0h0m30 0h0m5 0h0m29 0h0m6 0h0m-279 1h0m47 0h0m6 0h0m92 0h0m40 0h0m10 0h0m4 0h0m3 0h0m63 0h0m4 0h0m10 0h0m6 0h0m4 0h0m-264 1h0m31 0h0m16 0h0m22 0h0m12 0h0m24 0h0m19 0h0m5 0h0m9 0h0m5 0h0m7 0h0m35 0h0m16 0h0m36 0h0m28 0h0m-206 1h0m48 0h0m5 0h0m22 0h0m46 0h0m28 0h0m7 0h0m4 0h0m15 0h0m-87 1h0m60 0h0m37 0h0m-210 1h0m8 0h0m9 0h0m12 0h0m9 0h0m84 0h0m32 0h0m-175 1h0m36 0h0m28 0h0m49 0h0m5 0h0m10 0h0m24 0h0m6 0h0m59 0h0m11 0h0m5 0h0m12 0h0m-199 1h0m59 0h0m8 0h0m35 0h0m13 0h0m-172 1h0m20 0h0m28 0h0m11 0h0m13 0h0m43 0h0m12 0h0m7 0h0m47 0h0m3 0h0m-198 1h0m43 0h0m4 0h0m4 0h0m8 0h0m60 0h0m49 0h0m8 0h0m12 0h0m35 0h0m4 0h0m7 0h0m6 0h0m24 0h0m-211 1h0m71 0h0m32 0h0m26 0h0m25 0h0m40 0h0m23 0h0m-204 1h0m15 0h0m5 0h0m95 0h0m16 0h0m57 0h0m14 0h0m-244 1h0m51 0h0m18 0h0m27 0h0m23 0h0m6 0h0m20 0h0m5 0h0m11 0h0m9 0h0m8 0h0m11 0h0m3 0h0m4 0h0m15 0h0m27 0h0m-247 1h0m45 0h0m1 0h0m55 0h0m9 0h0m11 0h0m2 0h0m23 0h0m0 0h0m51 0h0m29 0h0m-198 1h0m40 0h0m35 0h0m31 0h0m76 0h0m8 0h0m7 0h0m-194 1h0m27 0h0m13 0h0m48 0h0m32 0h0m25 0h0m14 0h0m17 0h0m31 0h0m-160 1h0m37 0h0m14 0h0m27 0h0m12 0h0m32 0h0m16 0h0m17 0h0m13 0h0m7 0h0m-199 1h0m23 0h0m29 0h0m4 0h0m3 0h0m17 0h0m43 0h0m4 0h0m4 0h0m5 0h0m10 0h0m6 0h0m18 0h0m23 0h0m-245 1h0m32 0h0m46 0h0m6 0h0m25 0h0m4 0h0m6 0h0m20 0h0m20 0h0m13 0h0m12 0h0m24 0h0m-193 1h0m3 0h0m19 0h0m25 0h0m67 0h0m3 0h0m8 0h0m24 0h0m15 0h0m67 0h0m6 0h0m-224 1h0m140 0h0m35 0h0m12 0h0m10 0h0m6 0h0m-194 1h0m35 0h0m51 0h0m23 0h0m45 0h0m10 0h0m38 0h0m-154 1h0m25 0h0m5 0h0m5 0h0m14 0h0m14 0h0m42 0h0m5 0h0m24 0h0m12 0h0m18 0h0m-229 1h0m25 0h0m19 0h0m10 0h0m24 0h0m12 0h0m25 0h0m22 0h0m16 0h0m8 0h0m13 0h0m27 0h0m6 0h0m-196 1h0m4 0h0m43 0h0m8 0h0m57 0h0m7 0h0m9 0h0m22 0h0m8 0h0m0 0h0m47 0h0m3 0h0m-228 1h0m29 0h0m19 0h0m7 0h0m4 0h0m7 0h0m23 0h0m19 0h0m56 0h0m2 0h0m55 0h0m-217 1h0m76 0h0m14 0h0m5 0h0m50 0h0m4 0h0m53 0h0m-161 1h0m13 0h0m133 0h0m2 0h0m29 0h0m-252 1h0m45 0h0m17 0h0m16 0h0m45 0h0m29 0h0m12 0h0m10 0h0m12 0h0m1 0h0m8 0h0m5 0h0m7 0h0m3 0h0m38 0h0m8 0h0m-254 1h0m36 0h0m10 0h0m45 0h0m8 0h0m26 0h0m2 0h0m5 0h0m27 0h0m42 0h0m20 0h0m17 0h0m12 0h0m-242 1h0m49 0h0m30 0h0m19 0h0m46 0h0m14 0h0m20 0h0m47 0h0m-200 1h0m28 0h0m18 0h0m3 0h0m17 0h0m15 0h0m3 0h0m9 0h0m27 0h0m40 0h0m-145 1h0m48 0h0m13 0h0m34 0h0m6 0h0m87 0h0m5 0h0m5 0h0m-210 1h0m49 0h0m6 0h0m43 0h0m26 0h0m26 0h0m16 0h0m15 0h0m2 0h0m5 0h0m7 0h0m2 0h0m-174 1h0m17 0h0m67 0h0m47 0h0m53 0h0m-207 1h0m11 0h0m21 0h0m36 0h0m6 0h0m14 0h0m5 0h0m37 0h0m5 0h0m21 0h0m4 0h0m20 0h0m4 0h0m-205 1h0m15 0h0m43 0h0m9 0h0m9 0h0m0 0h0m20 0h0m20 0h0m49 0h0m21 0h0m1 0h0m3 0h0m5 0h0m31 0h0m7 0h0m-198 1h0m88 0h0m6 0h0m8 0h0m5 0h0m4 0h0m22 0h0m10 0h0m45 0h0m-164 1h0m22 0h0m10 0h0m28 0h0m15 0h0m16 0h0m11 0h0m19 0h0m13 0h0m12 0h0m12 0h0m19 0h0m-246 1h0m83 0h0m2 0h0m8 0h0m20 0h0m14 0h0m18 0h0m17 0h0m7 0h0m68 0h0m-181 1h0m29 0h0m50 0h0m18 0h0m22 0h0m25 0h0m4 0h0m7 0h0m10 0h0m5 0h0m14 0h0m0 0h0m-224 1h0m56 0h0m32 0h0m4 0h0m41 0h0m13 0h0m24 0h0m-164 1h0m59 0h0m13 0h0m23 0h0m6 0h0m77 0h0m14 0h0m5 0h0m-194 1h0m6 0h0m0 0h0m26 0h0m3 0h0m6 0h0m9 0h0m22 0h0m11 0h0m7 0h0m8 0h0m3 0h0m4 0h0m27 0h0m13 0h0m7 0h0m44 0h0m11 0h0m-227 1h0m65 0h0m3 0h0m30 0h0m32 0h0m6 0h0m3 0h0m31 0h0m15 0h0m21 0h0m20 0h0m-191 1h0m19 0h0m12 0h0m87 0h0m11 0h0m13 0h0m12 0h0m5 0h0m1 0h0m27 0h0m-201 1h0m26 0h0m37 0h0m28 0h0m14 0h0m15 0h0m24 0h0m37 0h0m11 0h0m-153 1h0m4 0h0m13 0h0m16 0h0m35 0h0m7 0h0m5 0h0m13 0h0m29 0h0m21 0h0m-163 1h0m51 0h0m13 0h0m14 0h0m8 0h0m34 0h0m39 0h0m-200 1h0m18 0h0m8 0h0m5 0h0m24 0h0m23 0h0m25 0h0m8 0h0m34 0h0m4 0h0m24 0h0m19 0h0m16 0h0m-171 1h0m68 0h0m28 0h0m13 0h0m61 0h0m-184 1h0m9 0h0m4 0h0m34 0h0m7 0h0m15 0h0m8 0h0m21 0h0m33 0h0m11 0h0m7 0h0m17 0h0m12 0h0m-204 1h0m17 0h0m4 0h0m10 0h0m31 0h0m1 0h0m24 0h0m53 0h0m0 0h0m24 0h0m18 0h0m13 0h0m-106 1h0m69 0h0m15 0h0m24 0h0m13 0h0m-207 1h0m38 0h0m5 0h0m38 0h0m11 0h0m19 0h0m52 0h0m11 0h0m6 0h0m21 0h0m-149 1h0m15 0h0m5 0h0m45 0h0m15 0h0m18 0h0m7 0h0m29 0h0m-100 1h0m16 0h0m22 0h0m2 0h0m-114 1h0m19 0h0m30 0h0m57 0h0m12 0h0m17 0h0m8 0h0m22 0h0m-156 1h0m6 0h0m18 0h0m13 0h0m21 0h0m10 0h0m4 0h0m2 0h0m10 0h0m2 0h0m30 0h0m3 0h0m28 0h0m23 0h0m-190 1h0m66 0h0m33 0h0m82 0h0m-142 1h0m11 0h0m7 0h0m52 0h0m40 0h0m1 0h0m4 0h0m4 0h0m13 0h0m-161 1h0m32 0h0m4 0h0m7 0h0m14 0h0m8 0h0m5 0h0m53 0h0m29 0h0m0 0h0m8 0h0m13 0h0m8 0h0m-190 1h0m29 0h0m15 0h0m91 0h0m26 0h0m23 0h0m-170 1h0m69 0h0m6 0h0m38 0h0m-68 1h0m9 0h0m16 0h0m18 0h0m4 0h0m3 0h0m4 0h0m13 0h0m60 0h0m2 0h0m-179 1h0m13 0h0m6 0h0m32 0h0m18 0h0m18 0h0m21 0h0m50 0h0m3 0h0m-133 1h0m36 0h0m-49 1h0m3 0h0m18 0h0m0 0h0m5 0h0m11 0h0m55 0h0m6 0h0m6 0h0m1 0h0m11 0h0m13 0h0m13 0h0m7 0h0m4 0h0m-159 1h0m17 0h0m19 0h0m51 0h0m9 0h0m40 0h0m15 0h0m-68 1h0m27 0h0m24 0h0m15 0h0m-141 1h0m17 0h0m77 0h0m16 0h0m11 0h0m13 0h0m-153 1h0m27 0h0m25 0h0m9 0h0m22 0h0m3 0h0m48 0h0m20 0h0m-140 1h0m7 0h0m43 0h0m26 0h0m26 0h0m33 0h0m9 0h0m-152 1h0m7 0h0m62 0h0m7 0h0m47 0h0m14 0h0m-105 1h0m29 0h0m3 0h0m67 0h0m11 0h0m13 0h0m5 0h0m-125 1h0m3 0h0m40 0h0m-66 1h0m14 0h0m22 0h0m69 0h0m-117 1h0m21 0h0m29 0h0m68 0h0m8 0h0m1 0h0m6 0h0m11 0h0m-143 1h0m25 0h0m7 0h0m34 0h0m49 0h0m16 0h0m3 0h0m-117 1h0m52 0h0m-51 1h0m16 0h0m18 0h0m-27 1h0m38 0h0m67 0h0m-110 1h0m29 0h0m11 0h0m81 0h0m-124 1h0m8 0h0m6 0h0m96 0h0m-120 1h0m5 0h0m22 0h0m16 0h0m6 0h0m-19 1h0m5 0h0m13 0h0m-19 1h0m3 0h0m19 0h0m2 0h0m-43 1h0m9 0h0m6 0h0m26 0h0m-33 2h0m-8 1h0m4 0h0m19 0h0m6 0h0m3 0h0m-5 1h0m-12 1h0m2 0h0m5 0h0m7 1h0m-18 1h0" stroke="#4c0c6b" stroke-width="6.0" stroke-linecap="round" fill="none"/><path d="M1708 1649h0m3 0h0m5 4h0m45 3h0m-64 3h0m17 0h0m52 1h0m13 0h0m-20 3h0m30 2h0m-70 1h0m59 0h0m-13 1h0m-79 1h0m39 0h0m35 1h0m-29 2h0m-59 3h0m35 2h0m83 0h0m-112 2h0m0 2h0m56 1h0m54 0h0m-38 2h0m-30 1h0m25 0h0m46 0h0m-42 1h0m34 0h0m9 0h0m-120 1h0m23 0h0m-22 1h0m104 1h0m-57 2h0m-7 1h0m27 0h0m15 0h0m-22 4h0m-4 1h0m-67 1h0m-6 1h0m31 0h0m119 0h0m-125 1h0m61 0h0m35 0h0m-57 1h0m43 1h0m-78 1h0m0 1h0m-61 1h0m53 0h0m33 1h0m71 0h0m-35 1h0m30 0h0m-29 1h0m-24 1h0m76 0h0m-80 1h0m66 0h0m39 0h0m-84 1h0m-91 3h0m69 1h0m-13 1h0m108 0h0m-129 1h0m102 0h0m40 0h0m-73 1h0m65 0h0m-107 1h0m94 3h0m-51 2h0m6 0h0m-91 1h0m-19 2h0m25 0h0m105 0h0m31 1h0m5 0h0m-149 1h0m14 0h0m40 1h0m96 0h0m-130 1h0m97 0h0m-34 1h0m18 0h0m60 0h0m-41 1h0m-84 1h0m9 0h0m60 1h0m9 0h0m-52 1h0m-78 3h0m65 0h0m104 0h0m-59 1h0m67 0h0m-164 1h0m5 0h0m109 0h0m-14 2h0m43 0h0m-156 1h0m59 1h0m-45 2h0m92 0h0m-14 1h0m18 0h0m-114 4h0m103 0h0m4 0h0m28 1h0m32 1h0m-170 1h0m108 0h0m-83 1h0m10 0h0m7 0h0m109 0h0m5 0h0m-154 1h0m94 0h0m3 1h0m44 0h0m-21 1h0m32 0h0m-99 1h0m-49 1h0m3 1h0m10 1h0m10 0h0m17 0h0m15 0h0m103 0h0m17 0h0m-76 2h0m3 1h0m-24 1h0m56 0h0m-117 1h0m5 0h0m4 0h0m-23 1h0m-2 1h0m86 0h0m62 0h0m-103 1h0m39 0h0m-74 1h0m-8 1h0m119 0h0m41 0h0m15 0h0m-151 1h0m72 0h0m13 0h0m-11 2h0m22 0h0m5 0h0m-105 2h0m72 0h0m6 1h0m-44 2h0m-19 1h0m17 0h0m44 0h0m10 0h0m22 0h0m16 0h0m10 1h0m-89 1h0m14 0h0m29 0h0m16 0h0m-53 1h0m-50 1h0m23 2h0m-15 1h0m109 0h0m17 0h0m-51 1h0m-92 1h0m50 0h0m107 0h0m-19 3h0m-141 1h0m50 0h0m37 0h0m17 0h0m50 0h0m2 0h0m5 0h0m-133 1h0m-3 1h0m35 0h0m106 0h0m-138 1h0m59 0h0m-34 3h0m50 1h0m13 1h0m46 0h0m-73 2h0m61 0h0m-142 3h0m8 0h0m57 0h0m20 0h0m-96 1h0m40 0h0m43 0h0m78 0h0m-68 1h0m8 1h0m-89 1h0m67 0h0m73 0h0m-111 1h0m69 0h0m32 1h0m-81 1h0m7 1h0m13 0h0m-59 1h0m129 0h0m-125 1h0m117 0h0m-72 1h0m22 1h0m5 0h0m15 1h0m-72 1h0m86 0h0m-27 1h0m-65 1h0m1 0h0m11 0h0m50 2h0m19 1h0m-92 1h0m21 0h0m-5 2h0m39 0h0m-16 1h0m-18 1h0m11 0h0m25 0h0m-67 1h0m27 0h0m46 0h0m32 0h0m-94 1h0m52 0h0m56 0h0m-95 1h0m36 2h0m-39 1h0m-4 1h0m75 1h0m-66 1h0m74 0h0m-49 1h0m85 1h0m-112 1h0m5 0h0m-13 1h0m96 0h0m23 0h0m-60 3h0m35 0h0m-10 1h0m-83 2h0m-14 1h0m109 1h0m-95 1h0m13 0h0m3 3h0m32 0h0m27 0h0m-97 2h0m31 0h0m38 0h0m-31 1h0m-37 1h0m3 0h0m55 0h0m25 0h0m-20 2h0m-31 1h0m49 0h0m17 0h0m-30 2h0m2 1h0m15 1h0m-17 2h0m34 0h0m-5 1h0m-47 1h0m4 0h0m63 2h0m-73 1h0m63 0h0m6 2h0m-67 1h0m50 0h0m-1 4h0m-29 1h0m-28 1h0m24 3h0m24 3h0m-67 1h0m-14 3h0m30 0h0m-52 1h0m57 1h0m43 2h0m-28 1h0m-77 2h0m49 0h0m45 1h0m-17 4h0m-14 2h0m-6 8h0m12 0h0m-9 3h0m34 1h0m-349 4h0m341 0h0m-336 1h0m328 0h0m-112 2h0m-221 1h0m8 0h0m230 0h0m-228 1h0m205 0h0m100 0h0m-297 1h0m4 3h0m245 0h0m55 0h0m-300 3h0m-3 1h0m233 0h0m-244 1h0m2 0h0m17 0h0m149 0h0m61 0h0m-218 1h0m160 0h0m-168 1h0m13 0h0m1 0h0m200 0h0m-257 2h0m37 0h0m1 0h0m-30 1h0m12 0h0m27 1h0m13 0h0m-20 1h0m220 0h0m-210 1h0m6 0h0m145 0h0m40 0h0m-211 1h0m39 0h0m162 0h0m37 0h0m-247 1h0m40 0h0m151 0h0m-221 1h0m45 0h0m32 0h0m10 0h0m-8 1h0m-16 1h0m5 0h0m21 0h0m-45 1h0m4 1h0m21 0h0m14 0h0m-5 1h0m17 0h0m98 0h0m99 0h0m-268 1h0m31 0h0m148 0h0m-156 1h0m18 0h0m2 0h0m5 0h0m162 0h0m-136 1h0m-20 1h0m11 0h0m17 0h0m94 0h0m119 0h0m-124 1h0m-168 1h0m8 0h0m6 0h0m29 0h0m46 0h0m14 0h0m57 0h0m37 0h0m-150 1h0m12 0h0m12 0h0m-62 1h0m62 0h0m-68 1h0m40 0h0m20 0h0m11 0h0m13 0h0m161 0h0m-240 1h0m2 0h0m138 0h0m-36 1h0m16 0h0m146 0h0m-205 1h0m171 0h0m-226 1h0m45 0h0m-13 1h0m1 0h0m45 0h0m110 0h0m-207 2h0m7 0h0m4 0h0m36 0h0m18 0h0m213 0h0m-276 1h0m56 0h0m16 0h0m43 0h0m150 0h0m15 0h0m-261 1h0m35 0h0m8 0h0m13 0h0m119 0h0m-145 1h0m42 0h0m5 0h0m123 0h0m-209 2h0m204 1h0m-191 1h0m112 0h0m5 0h0m-79 1h0m42 0h0m125 0h0m-222 1h0m7 0h0m42 0h0m33 0h0m151 0h0m42 0h0m-305 1h0m20 0h0m31 0h0m35 0h0m93 0h0m-54 1h0m28 0h0m-124 1h0m18 0h0m28 0h0m-52 1h0m50 0h0m5 0h0m56 0h0m70 0h0m89 0h0m-224 1h0m34 0h0m-55 1h0m24 0h0m12 0h0m6 0h0m-48 1h0m11 0h0m34 0h0m85 0h0m21 0h0m43 0h0m-155 1h0m140 1h0m28 0h0m-231 1h0m130 0h0m118 0h0m-261 1h0m49 0h0m23 0h0m-70 1h0m10 0h0m76 0h0m-67 1h0m14 0h0m36 0h0m11 0h0m78 0h0m-156 1h0m34 0h0m6 0h0m6 0h0m11 0h0m8 0h0m115 0h0m73 0h0m-224 1h0m92 0h0m94 0h0m51 0h0m23 0h0m-240 1h0m32 0h0m8 0h0m-65 1h0m28 0h0m6 0h0m17 0h0m16 0h0m25 0h0m52 0h0m58 0h0m-223 1h0m2 0h0m37 0h0m31 0h0m25 0h0m-46 1h0m36 0h0m109 0h0m-168 1h0m5 0h0m8 0h0m21 0h0m161 0h0m-8 1h0m40 0h0m-238 1h0m-14 1h0m20 0h0m38 0h0m3 0h0m64 0h0m11 0h0m49 0h0m-197 1h0m39 0h0m6 0h0m35 0h0m2 0h0m5 0h0m-62 1h0m196 0h0m75 0h0m-293 1h0m27 0h0m49 0h0m149 0h0m5 0h0m-220 1h0m33 0h0m44 0h0m-51 1h0m2 0h0m28 0h0m-16 1h0m8 0h0m-17 1h0m2 0h0m251 0h0m-286 1h0m45 0h0m46 0h0m-98 1h0m55 0h0m132 0h0m31 0h0m9 0h0m27 0h0m-244 1h0m17 0h0m19 0h0m20 0h0m14 0h0m6 0h0m8 0h0m13 0h0m42 0h0m111 0h0m7 0h0m11 0h0m-265 1h0m255 0h0m-257 1h0m14 0h0m32 0h0m219 0h0m-248 1h0m120 0h0m121 0h0m21 0h0m-271 1h0m19 0h0m5 0h0m7 0h0m17 0h0m20 0h0m14 0h0m146 1h0m-231 1h0m10 0h0m8 0h0m5 0h0m-28 1h0m32 0h0m13 0h0m12 0h0m5 0h0m14 0h0m-51 1h0m9 0h0m29 0h0m6 0h0m14 0h0m-41 1h0m15 0h0m10 0h0m8 0h0m15 0h0m111 0h0m-201 1h0m8 0h0m21 0h0m185 0h0m-211 1h0m23 0h0m4 0h0m35 0h0m177 0h0m-249 1h0m55 0h0m21 0h0m19 0h0m161 0h0m14 0h0m-255 1h0m8 0h0m12 0h0m17 0h0m56 0h0m156 0h0m-248 1h0m25 0h0m153 0h0m-162 1h0m49 0h0m-53 1h0m27 0h0m18 0h0m37 0h0m30 0h0m34 0h0m-150 1h0m21 0h0m4 0h0m-21 1h0m32 1h0m130 0h0m61 0h0m-244 1h0m37 0h0m10 0h0m71 0h0m-108 1h0m6 0h0m-3 1h0m5 0h0m2 0h0m39 0h0m15 0h0m13 0h0m87 0h0m25 1h0m15 0h0m-208 1h0m18 0h0m31 0h0m11 0h0m34 0h0m-96 1h0m7 0h0m10 1h0m31 0h0m-45 1h0m16 0h0m-2 1h0m4 0h0m39 0h0m8 0h0m-42 1h0m6 0h0m0 0h0m8 0h0m12 0h0m2 0h0m27 0h0m-49 1h0m10 0h0m22 0h0m46 0h0m-98 1h0m37 0h0m26 0h0m-73 1h0m29 0h0m14 0h0m49 0h0m20 0h0m-61 1h0m-45 1h0m18 0h0m-23 1h0m35 0h0m-15 1h0m22 0h0m8 0h0m42 0h0m-93 1h0m14 0h0m2 0h0m0 0h0m209 0h0m-145 1h0m-26 1h0m2 0h0m-42 1h0m10 0h0m14 0h0m-31 1h0m77 0h0m-27 1h0m8 0h0m28 0h0m-80 1h0m38 0h0m50 0h0m101 0h0m-193 1h0m19 0h0m73 0h0m11 0h0m-90 1h0m13 0h0m2 0h0m24 0h0m19 0h0m63 0h0m27 0h0m-140 1h0m64 1h0m25 0h0m-110 1h0m6 1h0m154 0h0m33 0h0m-156 1h0m42 0h0m11 0h0m-31 1h0m35 0h0m-93 1h0m5 0h0m12 0h0m12 0h0m36 0h0m65 0h0m-30 1h0m-94 1h0m14 0h0m-7 1h0m27 0h0m133 0h0m-172 1h0m36 0h0m54 0h0m-54 1h0m27 0h0m-64 1h0m7 0h0m64 0h0m-66 1h0m7 1h0m22 0h0m17 0h0m127 0h0m-163 1h0m29 1h0m39 0h0m88 0h0m-141 1h0m30 0h0m37 0h0m24 0h0m-115 1h0m1 0h0m18 0h0m40 0h0m-46 1h0m-5 2h0m35 1h0m3 0h0m19 0h0m11 0h0m-62 2h0m5 0h0m17 0h0m1 0h0m-26 2h0m37 0h0m13 0h0m76 0h0m-91 1h0m26 0h0m-22 1h0m17 1h0m-53 2h0m13 1h0m-7 1h0m13 2h0m27 0h0m-11 4h0" stroke="#61136e" stroke-width="6.0" stroke-linecap="round" fill="none"/><path d="M1701 1683h0m33 60h0m65 52h0m-460 118h0m8 6h0m33 3h0m9 1h0m-22 1h0m33 0h0m1 0h0m-46 1h0m31 0h0m-11 1h0m20 0h0m13 0h0m-17 1h0m-24 3h0m29 0h0m9 0h0m-49 1h0m22 0h0m8 0h0m3 0h0m-14 1h0m-9 1h0m15 0h0m15 0h0m5 1h0m3 0h0m0 0h0m-31 1h0m15 0h0m17 0h0m-54 1h0m16 0h0m55 0h0m-44 1h0m5 0h0m9 0h0m6 0h0m-37 2h0m10 0h0m21 0h0m17 0h0m16 0h0m-69 3h0m32 0h0m22 0h0m4 0h0m-56 1h0m6 0h0m6 0h0m16 0h0m13 1h0m22 0h0m7 0h0m-77 1h0m1 0h0m22 0h0m19 0h0m-33 1h0m27 0h0m-50 1h0m37 0h0m29 0h0m20 0h0m-15 1h0m-61 1h0m11 0h0m28 0h0m3 0h0m18 0h0m-53 1h0m26 1h0m-28 1h0m8 0h0m11 0h0m35 0h0m-59 1h0m42 0h0m2 0h0m-47 1h0m23 0h0m32 0h0m6 0h0m-28 1h0m10 0h0m-30 1h0m6 0h0m30 0h0m23 1h0m-76 2h0m8 0h0m7 0h0m11 0h0m2 0h0m22 0h0m-14 1h0m6 0h0m-9 1h0m21 1h0m-30 1h0m8 0h0m-4 1h0m-23 1h0m5 0h0m31 0h0m9 0h0m-15 1h0m5 0h0m39 0h0m-72 1h0m80 0h0m-66 1h0m13 0h0m15 1h0m2 1h0m1 0h0m-36 1h0m9 0h0m21 0h0m34 0h0m-74 1h0m13 0h0m12 0h0m8 0h0m-13 1h0m5 0h0m-22 2h0m30 0h0m13 1h0m-19 1h0m18 0h0m5 0h0m-33 1h0m31 0h0m-42 1h0m10 0h0m4 1h0m11 0h0m-14 1h0m3 0h0m4 0h0m4 1h0m22 0h0m-8 1h0m-34 2h0m14 0h0m22 0h0m-25 1h0m20 0h0m4 1h0m6 0h0m43 0h0m-89 1h0m27 0h0m3 0h0m13 0h0m-30 1h0m11 0h0m28 1h0m-17 1h0m-11 1h0m14 0h0m17 0h0m-46 2h0m14 0h0m3 0h0m-21 1h0m24 0h0m16 0h0m12 0h0m-34 2h0m11 1h0m-20 1h0m37 0h0m-11 1h0m-15 1h0m32 0h0m-51 1h0m14 0h0m-6 1h0m-10 1h0m52 0h0m-35 1h0m4 0h0m-6 1h0m14 0h0m6 0h0m6 0h0m-23 1h0m-16 1h0m4 0h0m26 0h0m-26 3h0m17 1h0m25 0h0m-41 2h0m4 0h0m52 0h0m-12 1h0m5 0h0m-52 1h0m14 0h0m6 0h0m-15 2h0m6 1h0m17 0h0m-24 1h0m20 0h0m-16 2h0m4 0h0m17 0h0m-1 1h0m35 0h0m-59 2h0m14 1h0m4 0h0m68 0h0m2 1h0m-79 1h0m25 2h0m-22 1h0m25 0h0m-11 1h0m9 1h0m14 1h0m2 2h0m-39 1h0m22 0h0m-28 3h0m17 0h0m-1 1h0m30 2h0m75 1h0m-109 5h0m10 7h0m-3 1h0m17 1h0m49 3h0m-45 5h0m28 2h0m-41 4h0m63 1h0m-45 15h0" stroke="#751b6e" stroke-width="6.0" stroke-linecap="round" fill="none"/><path d="M1342 1903h0m-1 4h0m0 2h0m3 0h0m2 1h0m3 1h0m-7 6h0m-4 1h0m6 3h0m-3 2h0m29 0h0m5 0h0m-24 1h0m13 1h0m4 0h0m14 0h0m-34 1h0m-6 1h0m18 0h0m13 0h0m12 0h0m-12 1h0m-32 1h0m11 1h0m8 0h0m24 0h0m-37 1h0m9 0h0m18 0h0m-32 1h0m14 0h0m5 0h0m7 0h0m7 0h0m-21 2h0m25 0h0m11 0h0m-45 2h0m13 0h0m19 0h0m-39 1h0m36 1h0m-31 1h0m22 0h0m19 0h0m-38 2h0m4 0h0m31 0h0m-43 1h0m10 0h0m28 0h0m-36 1h0m6 1h0m-7 2h0m10 0h0m-6 1h0m0 0h0m34 0h0m22 1h0m-38 1h0m4 0h0m-28 2h0m37 0h0m10 0h0m9 0h0m-36 1h0m10 0h0m11 2h0m-34 1h0m34 1h0m36 0h0m-66 1h0m5 0h0m33 0h0m-42 1h0m11 0h0m5 0h0m-12 2h0m13 0h0m-18 1h0m6 0h0m4 2h0m11 1h0m-12 1h0m8 0h0m-10 2h0m2 1h0m0 0h0m6 0h0m10 1h0m-17 2h0m33 1h0m-30 2h0m24 0h0m-20 1h0m31 0h0m-41 2h0m6 1h0m4 2h0m-3 2h0m-3 3h0m8 0h0m23 4h0m-20 1h0m1 1h0m-13 5h0m5 1h0m13 1h0m11 1h0m-23 4h0m19 4h0m-10 19h0" stroke="#8a226a" stroke-width="6.0" stroke-linecap="round" fill="none"/><path d="M1343 1890h0m27 2h0m-28 4h0m1 2h0m-3 9h0m1 1h0m4 4h0m-2 2h0m13 0h0m-11 2h0m-6 3h0m0 1h0m4 3h0m-3 3h0m11 1h0m-7 3h0m7 1h0m-13 1h0m26 3h0m-24 2h0m0 2h0m50 2h0m-48 14h0m25 5h0m-13 31h0" stroke="#9d2964" stroke-width="6.0" stroke-linecap="round" fill="none"/><path d="M1340 1855h0m12 21h0m-4 6h0m-7 8h0" stroke="#b1325a" stroke-width="6.0" stroke-linecap="round" fill="none"/><path d="M1342 1868h0m23 9h0" stroke="#c43c4e" stroke-width="6.0" stroke-linecap="round" fill="none"/><path d="M1339 1847h0m2 14h0m2 15h0" stroke="#d54a41" stroke-width="6.0" stroke-linecap="round" fill="none"/><path d="M1337 1831h0m1 5h0m-2 7h0m18 1h0m-10 4h0" stroke="#e45a31" stroke-width="6.0" stroke-linecap="round" fill="none"/><path d="M1330 1825h0" stroke="#ef6c23" stroke-width="6.0" stroke-linecap="round" fill="none"/><path d="M1337 1832h0" stroke="#f78212" stroke-width="6.0" stroke-linecap="round" fill="none"/><path d="M1340 1794h0m-3 3h0m8 5h0m-19 4h0m16 6h0m10 4h0m-3 1h0m-6 2h0m-6 5h0" stroke="#fcb216" stroke-width="6.0" stroke-linecap="round" fill="none"/><path d="M1343 1788h0m0 3h0m2 6h0m-14 3h0m-7 3h0m0 3h0m7 0h0m3 0h0m8 1h0m6 1h0m-13 1h0m-1 2h0m-3 3h0m21 2h0m-17 2h0m3 0h0m14 1h0m-17 1h0m3 7h0" stroke="#f9cb35" stroke-width="6.0" stroke-linecap="round" fill="none"/><path d="M1339 1790h0m6 3h0m-14 4h0m0 0h0m4 1h0m5 0h0m-1 2h0m5 0h0m-7 2h0m-10 2h0m11 3h0m9 2h0m-23 1h0m4 0h0m25 0h0m0 2h0m-14 1h0m7 0h0m0 4h0m-8 2h0m2 2h0m5 2h0m7 1h0m-9 1h0" stroke="#f3e35a" stroke-width="6.0" stroke-linecap="round" fill="none"/><path d="M1340 1789h0m-4 4h0m14 4h0m-3 3h0m-9 3h0m13 0h0m-21 3h0m13 1h0m-12 3h0m20 0h0m-25 2h0m3 4h0m10 0h0m-8 4h0m18 2h0" stroke="#f4f88e" stroke-width="6.0" stroke-linecap="round" fill="none"/><rect x="1297.2" y="437.1" width="564.7" height="564.8" fill="none" stroke="#000" stroke-width="3.9"/><rect x="1297.2" y="1008.0" width="564.7" height="564.7" fill="none" stroke="#000" stroke-width="3.9"/><rect x="1297.2" y="1580.6" width="564.7" height="564.3" fill="none" stroke="#000" stroke-width="3.9"/><path d="M1283.2 564.8L1297.2 564.8" stroke="#1a1a1a" stroke-width="3.6"/><text x="1270.5" y="578.6" font-size="32" text-anchor="end">3</text><path d="M1283.2 710.6L1297.2 710.6" stroke="#1a1a1a" stroke-width="3.6"/><text x="1270.5" y="724.4" font-size="32" text-anchor="end">0</text><path d="M1283.2 857.5L1297.2 857.5" stroke="#1a1a1a" stroke-width="3.6"/><text x="1270.5" y="871.3" font-size="32" text-anchor="end">−3</text><path d="M1283.2 1033.0L1297.2 1033.0" stroke="#1a1a1a" stroke-width="3.6"/><text x="1270.5" y="1046.8" font-size="32" text-anchor="end">6</text><path d="M1283.2 1161.7L1297.2 1161.7" stroke="#1a1a1a" stroke-width="3.6"/><text x="1270.5" y="1175.5" font-size="32" text-anchor="end">3</text><path d="M1283.2 1290.1L1297.2 1290.1" stroke="#1a1a1a" stroke-width="3.6"/><text x="1270.5" y="1303.9" font-size="32" text-anchor="end">0</text><path d="M1283.2 1418.5L1297.2 1418.5" stroke="#1a1a1a" stroke-width="3.6"/><text x="1270.5" y="1432.3" font-size="32" text-anchor="end">−3</text><path d="M1283.2 1546.9L1297.2 1546.9" stroke="#1a1a1a" stroke-width="3.6"/><text x="1270.5" y="1560.7" font-size="32" text-anchor="end">−6</text><path d="M1283.2 1604.9L1297.2 1604.9" stroke="#1a1a1a" stroke-width="3.6"/><text x="1270.5" y="1618.7" font-size="32" text-anchor="end">6</text><path d="M1283.2 1733.3L1297.2 1733.3" stroke="#1a1a1a" stroke-width="3.6"/><text x="1270.5" y="1747.1" font-size="32" text-anchor="end">3</text><path d="M1283.2 1861.7L1297.2 1861.7" stroke="#1a1a1a" stroke-width="3.6"/><text x="1270.5" y="1875.5" font-size="32" text-anchor="end">0</text><path d="M1283.2 1990.0L1297.2 1990.0" stroke="#1a1a1a" stroke-width="3.6"/><text x="1270.5" y="2003.8" font-size="32" text-anchor="end">−3</text><path d="M1283.2 2118.4L1297.2 2118.4" stroke="#1a1a1a" stroke-width="3.6"/><text x="1270.5" y="2132.2" font-size="32" text-anchor="end">−6</text><path d="M1351.2 2144.9L1351.2 2158.5" stroke="#000" stroke-width="3.6"/><path d="M1493.6 2144.9L1493.6 2158.5" stroke="#000" stroke-width="3.6"/><path d="M1636.6 2144.9L1636.6 2158.5" stroke="#000" stroke-width="3.6"/><path d="M1779.0 2144.9L1779.0 2158.5" stroke="#000" stroke-width="3.6"/><text x="1341.7" y="2204.0" font-size="32" text-anchor="middle">−10</text><text x="1488.3" y="2204.0" font-size="32" text-anchor="middle">−5</text><text x="1636.0" y="2204.0" font-size="32" text-anchor="middle">0</text><text x="1778.2" y="2204.0" font-size="32" text-anchor="middle">5</text><text x="1574.7" y="2240.5" font-size="32" text-anchor="middle">UMAP 1</text><text x="1238.0" y="723.3" font-size="32" text-anchor="middle" transform="rotate(-90 1238.0 723.3)">UMAP 2</text><text x="1238.0" y="1294.0" font-size="32" text-anchor="middle" transform="rotate(-90 1238.0 1294.0)">UMAP 2</text><text x="1238.0" y="1866.2" font-size="32" text-anchor="middle" transform="rotate(-90 1238.0 1866.2)">UMAP 2</text><text x="1191.5" y="469.6" font-size="40" font-weight="bold">f</text><text x="1192.0" y="1042.3" font-size="40" font-weight="bold">g</text><text x="1191.5" y="1613.5" font-size="40" font-weight="bold">h</text><text x="1306.0" y="475.9" font-size="32">G2M cell cycle score</text><text x="1315.0" y="1042.3" font-size="32">Percent features in top 500 features</text><text x="1314.5" y="1617.8" font-size="32">preNeu score</text><path d="M1405.9 613.4L1375.2 643.0" stroke="#e5097f" stroke-width="3.2"/><path d="M1365.1 652.7L1371.4 636.2L1381.8 647.0Z" fill="#e5097f"/><path d="M1405.5 1180.6L1375.4 1209.3" stroke="#e5097f" stroke-width="3.2"/><path d="M1365.3 1219.0L1371.7 1202.5L1382.1 1213.4Z" fill="#e5097f"/><path d="M1405.5 1756.8L1375.4 1785.6" stroke="#e5097f" stroke-width="3.2"/><path d="M1365.3 1795.3L1371.7 1778.8L1382.0 1789.6Z" fill="#e5097f"/><rect x="1764.2" y="832.0" width="32.0" height="156.6" fill="#231f20"/><rect x="1768.2" y="836.0" width="24.0" height="7.8" fill="#f4f88e"/><rect x="1768.2" y="843.4" width="24.0" height="7.8" fill="#f3e35a"/><rect x="1768.2" y="850.9" width="24.0" height="7.8" fill="#f9cb35"/><rect x="1768.2" y="858.3" width="24.0" height="7.8" fill="#fcb216"/><rect x="1768.2" y="865.7" width="24.0" height="7.8" fill="#fb9906"/><rect x="1768.2" y="873.1" width="24.0" height="7.8" fill="#f78212"/><rect x="1768.2" y="880.6" width="24.0" height="7.8" fill="#ef6c23"/><rect x="1768.2" y="888.0" width="24.0" height="7.8" fill="#e45a31"/><rect x="1768.2" y="895.4" width="24.0" height="7.8" fill="#d54a41"/><rect x="1768.2" y="902.9" width="24.0" height="7.8" fill="#c43c4e"/><rect x="1768.2" y="910.3" width="24.0" height="7.8" fill="#b1325a"/><rect x="1768.2" y="917.7" width="24.0" height="7.8" fill="#9d2964"/><rect x="1768.2" y="925.2" width="24.0" height="7.8" fill="#8a226a"/><rect x="1768.2" y="932.6" width="24.0" height="7.8" fill="#751b6e"/><rect x="1768.2" y="940.0" width="24.0" height="7.8" fill="#61136e"/><rect x="1768.2" y="947.5" width="24.0" height="7.8" fill="#4c0c6b"/><rect x="1768.2" y="954.9" width="24.0" height="7.8" fill="#360961"/><rect x="1768.2" y="962.3" width="24.0" height="7.8" fill="#210c4a"/><rect x="1768.2" y="969.7" width="24.0" height="7.8" fill="#0e092b"/><rect x="1768.2" y="977.2" width="24.0" height="7.8" fill="#02020e"/><rect x="1768.2" y="871.2" width="5.5" height="3.4" fill="#231f20"/><rect x="1786.7" y="871.2" width="5.5" height="3.4" fill="#231f20"/><rect x="1768.2" y="907.7" width="5.5" height="3.4" fill="#231f20"/><rect x="1786.7" y="907.7" width="5.5" height="3.4" fill="#231f20"/><rect x="1768.2" y="944.2" width="5.5" height="3.4" fill="#231f20"/><rect x="1786.7" y="944.2" width="5.5" height="3.4" fill="#231f20"/><text x="1806.0" y="844.5" font-size="22.2">1.00</text><text x="1806.0" y="881.4" font-size="22.2">0.75</text><text x="1806.0" y="917.9" font-size="22.2">0.50</text><text x="1806.0" y="954.8" font-size="22.2">0.25</text><text x="1806.0" y="991.3" font-size="22.2">0.00</text><rect x="1773.1" y="1404.1" width="35.2" height="159.8" fill="#000"/><rect x="1777.1" y="1408.1" width="27.2" height="8.0" fill="#f4f88e"/><rect x="1777.1" y="1415.7" width="27.2" height="8.0" fill="#f3e35a"/><rect x="1777.1" y="1423.3" width="27.2" height="8.0" fill="#f9cb35"/><rect x="1777.1" y="1430.9" width="27.2" height="8.0" fill="#fcb216"/><rect x="1777.1" y="1438.5" width="27.2" height="8.0" fill="#fb9906"/><rect x="1777.1" y="1446.0" width="27.2" height="8.0" fill="#f78212"/><rect x="1777.1" y="1453.6" width="27.2" height="8.0" fill="#ef6c23"/><rect x="1777.1" y="1461.2" width="27.2" height="8.0" fill="#e45a31"/><rect x="1777.1" y="1468.8" width="27.2" height="8.0" fill="#d54a41"/><rect x="1777.1" y="1476.4" width="27.2" height="8.0" fill="#c43c4e"/><rect x="1777.1" y="1484.0" width="27.2" height="8.0" fill="#b1325a"/><rect x="1777.1" y="1491.6" width="27.2" height="8.0" fill="#9d2964"/><rect x="1777.1" y="1499.2" width="27.2" height="8.0" fill="#8a226a"/><rect x="1777.1" y="1506.8" width="27.2" height="8.0" fill="#751b6e"/><rect x="1777.1" y="1514.4" width="27.2" height="8.0" fill="#61136e"/><rect x="1777.1" y="1522.0" width="27.2" height="8.0" fill="#4c0c6b"/><rect x="1777.1" y="1529.5" width="27.2" height="8.0" fill="#360961"/><rect x="1777.1" y="1537.1" width="27.2" height="8.0" fill="#210c4a"/><rect x="1777.1" y="1544.7" width="27.2" height="8.0" fill="#0e092b"/><rect x="1777.1" y="1552.3" width="27.2" height="8.0" fill="#02020e"/><rect x="1777.1" y="1423.9" width="5.5" height="3.4" fill="#000"/><rect x="1798.8" y="1423.9" width="5.5" height="3.4" fill="#000"/><rect x="1777.1" y="1456.6" width="5.5" height="3.4" fill="#000"/><rect x="1798.8" y="1456.6" width="5.5" height="3.4" fill="#000"/><rect x="1777.1" y="1489.3" width="5.5" height="3.4" fill="#000"/><rect x="1798.8" y="1489.3" width="5.5" height="3.4" fill="#000"/><rect x="1777.1" y="1522.0" width="5.5" height="3.4" fill="#000"/><rect x="1798.8" y="1522.0" width="5.5" height="3.4" fill="#000"/><text x="1813.5" y="1433.1" font-size="22.2">80</text><text x="1813.5" y="1465.8" font-size="22.2">85</text><text x="1813.5" y="1498.5" font-size="22.2">90</text><text x="1813.5" y="1531.2" font-size="22.2">95</text><text x="1813.5" y="1564.4" font-size="22.2">100</text><rect x="1779.2" y="1970.9" width="35.4" height="155.8" fill="#000"/><rect x="1782.8" y="1974.5" width="28.2" height="7.8" fill="#f4f88e"/><rect x="1782.8" y="1981.9" width="28.2" height="7.8" fill="#f3e35a"/><rect x="1782.8" y="1989.4" width="28.2" height="7.8" fill="#f9cb35"/><rect x="1782.8" y="1996.8" width="28.2" height="7.8" fill="#fcb216"/><rect x="1782.8" y="2004.2" width="28.2" height="7.8" fill="#fb9906"/><rect x="1782.8" y="2011.7" width="28.2" height="7.8" fill="#f78212"/><rect x="1782.8" y="2019.1" width="28.2" height="7.8" fill="#ef6c23"/><rect x="1782.8" y="2026.5" width="28.2" height="7.8" fill="#e45a31"/><rect x="1782.8" y="2033.9" width="28.2" height="7.8" fill="#d54a41"/><rect x="1782.8" y="2041.4" width="28.2" height="7.8" fill="#c43c4e"/><rect x="1782.8" y="2048.8" width="28.2" height="7.8" fill="#b1325a"/><rect x="1782.8" y="2056.2" width="28.2" height="7.8" fill="#9d2964"/><rect x="1782.8" y="2063.7" width="28.2" height="7.8" fill="#8a226a"/><rect x="1782.8" y="2071.1" width="28.2" height="7.8" fill="#751b6e"/><rect x="1782.8" y="2078.5" width="28.2" height="7.8" fill="#61136e"/><rect x="1782.8" y="2085.9" width="28.2" height="7.8" fill="#4c0c6b"/><rect x="1782.8" y="2093.4" width="28.2" height="7.8" fill="#360961"/><rect x="1782.8" y="2100.8" width="28.2" height="7.8" fill="#210c4a"/><rect x="1782.8" y="2108.2" width="28.2" height="7.8" fill="#0e092b"/><rect x="1782.8" y="2115.7" width="28.2" height="7.8" fill="#02020e"/><rect x="1782.8" y="1979.2" width="5.5" height="3.4" fill="#000"/><rect x="1805.5" y="1979.2" width="5.5" height="3.4" fill="#000"/><rect x="1782.8" y="2014.3" width="5.5" height="3.4" fill="#000"/><rect x="1805.5" y="2014.3" width="5.5" height="3.4" fill="#000"/><rect x="1782.8" y="2050.3" width="5.5" height="3.4" fill="#000"/><rect x="1805.5" y="2050.3" width="5.5" height="3.4" fill="#000"/><rect x="1782.8" y="2085.8" width="5.5" height="3.4" fill="#000"/><rect x="1805.5" y="2085.8" width="5.5" height="3.4" fill="#000"/><text x="1819.5" y="1988.3" font-size="22.2">0.3</text><text x="1819.5" y="2023.5" font-size="22.2">0.2</text><text x="1819.5" y="2059.5" font-size="22.2">0.1</text><text x="1819.5" y="2095.0" font-size="22.2">0.0</text><text x="21.5" y="2279.4" font-size="40" font-weight="bold">i</text><rect x="131.6" y="2264.5" width="168.8" height="225.3" fill="none" stroke="#000" stroke-width="3.7"/><path d="M119.0 2274.6L131.6 2274.6" stroke="#000" stroke-width="3.7"/><text x="112.5" y="2286.1" font-size="22.5" text-anchor="end">100 %</text><path d="M119.0 2326.0L131.6 2326.0" stroke="#000" stroke-width="3.7"/><text x="112.5" y="2337.5" font-size="22.5" text-anchor="end">75 %</text><path d="M119.0 2376.6L131.6 2376.6" stroke="#000" stroke-width="3.7"/><text x="112.5" y="2388.1" font-size="22.5" text-anchor="end">50 %</text><path d="M119.0 2428.3L131.6 2428.3" stroke="#000" stroke-width="3.7"/><text x="112.5" y="2439.8" font-size="22.5" text-anchor="end">25 %</text><path d="M119.0 2479.7L131.6 2479.7" stroke="#000" stroke-width="3.7"/><text x="112.5" y="2491.2" font-size="22.5" text-anchor="end">0 %</text><rect x="139.3" y="2274.6" width="47.7" height="197.8" fill="#80b1d3"/><rect x="139.3" y="2472.4" width="47.7" height="7.3" fill="#fb8072"/><text x="161.1" y="2467.1" font-size="19.5" text-anchor="middle">3.55</text><rect x="192.3" y="2274.6" width="47.4" height="203.0" fill="#80b1d3"/><rect x="192.3" y="2477.6" width="47.4" height="2.1" fill="#fb8072"/><text x="215.2" y="2467.1" font-size="19.5" text-anchor="middle">1.01</text><rect x="245.0" y="2274.6" width="48.0" height="204.9" fill="#80b1d3"/><rect x="245.0" y="2479.5" width="48.0" height="0.2" fill="#fb8072"/><text x="269.8" y="2467.1" font-size="19.5" text-anchor="middle">0.10</text><text x="161.1" y="2515.6" font-size="22.5" text-anchor="middle">BM</text><text x="215.2" y="2515.6" font-size="22.5" text-anchor="middle">SP</text><text x="271.7" y="2515.6" font-size="22.5" text-anchor="middle">PB</text><text x="33.0" y="2376.5" font-size="32" text-anchor="middle" transform="rotate(-90 33.0 2376.5)">Frequency</text><rect x="315.6" y="2432.5" width="22.7" height="22.7" fill="#80b1d3"/><rect x="315.6" y="2461.6" width="22.7" height="22.6" fill="#fb8072"/><text x="347.0" y="2450.4" font-size="22.5">control</text><text x="347.0" y="2479.7" font-size="22.5">preNeu</text><text x="451.0" y="2277.0" font-size="40" font-weight="bold">j</text><path d="M514.4 2350.6C515.4 2339.8 517.8 2299.3 520.5 2285.5C523.2 2271.7 526.3 2269.2 530.6 2268.0C535.0 2266.8 541.6 2273.8 546.6 2278.5C551.5 2283.2 555.0 2289.5 560.3 2296.0C565.7 2302.6 574.3 2314.5 578.7 2317.7C583.1 2321.0 584.2 2314.0 587.0 2315.6C589.8 2317.3 591.8 2319.7 595.5 2327.5C599.3 2335.4 604.6 2352.9 609.3 2362.6C614.1 2372.2 618.7 2377.5 624.0 2385.7C629.3 2393.8 636.4 2405.3 641.2 2411.6C646.0 2417.9 648.0 2417.6 652.8 2423.5C657.6 2429.3 664.2 2440.1 669.9 2446.6C675.7 2453.1 680.4 2458.8 687.1 2462.7C693.8 2466.5 701.7 2467.9 710.4 2469.7C719.0 2471.4 728.1 2472.4 738.8 2473.2C749.6 2474.0 761.0 2474.0 774.7 2474.2C788.3 2474.5 812.9 2474.5 820.6 2474.6L820.6 2474.6L514.4 2474.6Z" fill="#bdd5e9" fill-opacity="0.97"/><path d="M514.4 2350.6C515.4 2339.8 517.8 2299.3 520.5 2285.5C523.2 2271.7 526.3 2269.2 530.6 2268.0C535.0 2266.8 541.6 2273.8 546.6 2278.5C551.5 2283.2 555.0 2289.5 560.3 2296.0C565.7 2302.6 574.3 2314.5 578.7 2317.7C583.1 2321.0 584.2 2314.0 587.0 2315.6C589.8 2317.3 591.8 2319.7 595.5 2327.5C599.3 2335.4 604.6 2352.9 609.3 2362.6C614.1 2372.2 618.7 2377.5 624.0 2385.7C629.3 2393.8 636.4 2405.3 641.2 2411.6C646.0 2417.9 648.0 2417.6 652.8 2423.5C657.6 2429.3 664.2 2440.1 669.9 2446.6C675.7 2453.1 680.4 2458.8 687.1 2462.7C693.8 2466.5 701.7 2467.9 710.4 2469.7C719.0 2471.4 728.1 2472.4 738.8 2473.2C749.6 2474.0 761.0 2474.0 774.7 2474.2C788.3 2474.5 812.9 2474.5 820.6 2474.6" fill="none" stroke="#7eaed3" stroke-width="3.4"/><path d="M514.4 2464.8C517.0 2464.4 522.1 2462.0 529.7 2462.7C537.4 2463.4 549.4 2468.6 560.3 2469.0C571.3 2469.3 582.7 2466.1 595.2 2464.8C607.7 2463.5 625.8 2463.3 635.3 2461.3C644.9 2459.3 647.0 2456.0 652.8 2452.9C658.6 2449.7 664.2 2446.2 669.9 2442.4C675.7 2438.5 681.4 2435.4 687.1 2429.8C692.8 2424.2 698.5 2416.1 704.2 2408.8C710.0 2401.4 716.4 2393.1 721.7 2385.7C727.0 2378.2 731.0 2372.2 735.8 2364.0C740.5 2355.7 745.4 2346.9 750.2 2335.9C755.0 2325.0 759.3 2307.0 764.6 2298.1C769.8 2289.3 776.5 2284.6 781.7 2282.7C787.0 2280.9 791.8 2282.4 796.1 2286.9C800.4 2291.5 804.0 2297.7 807.7 2310.0C811.5 2322.4 816.7 2352.6 818.5 2361.2L818.5 2474.6L514.4 2474.6Z" fill="#fbbab3" fill-opacity="0.82"/><path d="M514.4 2464.8C517.0 2464.4 522.1 2462.0 529.7 2462.7C537.4 2463.4 549.4 2468.6 560.3 2469.0C571.3 2469.3 582.7 2466.1 595.2 2464.8C607.7 2463.5 625.8 2463.3 635.3 2461.3C644.9 2459.3 647.0 2456.0 652.8 2452.9C658.6 2449.7 664.2 2446.2 669.9 2442.4C675.7 2438.5 681.4 2435.4 687.1 2429.8C692.8 2424.2 698.5 2416.1 704.2 2408.8C710.0 2401.4 716.4 2393.1 721.7 2385.7C727.0 2378.2 731.0 2372.2 735.8 2364.0C740.5 2355.7 745.4 2346.9 750.2 2335.9C755.0 2325.0 759.3 2307.0 764.6 2298.1C769.8 2289.3 776.5 2284.6 781.7 2282.7C787.0 2280.9 791.8 2282.4 796.1 2286.9C800.4 2291.5 804.0 2297.7 807.7 2310.0C811.5 2322.4 816.7 2352.6 818.5 2361.2" fill="none" stroke="#f7806f" stroke-width="3.4"/><rect x="512.5" y="2264.3" width="310.0" height="210.0" fill="none" stroke="#000" stroke-width="3.8"/><path d="M514.4 2476.0L514.4 2488.0" stroke="#000" stroke-width="3.6"/><path d="M591.0 2476.0L591.0 2488.0" stroke="#000" stroke-width="3.6"/><path d="M667.5 2476.0L667.5 2488.0" stroke="#000" stroke-width="3.6"/><path d="M744.0 2476.0L744.0 2488.0" stroke="#000" stroke-width="3.6"/><path d="M820.6 2476.0L820.6 2488.0" stroke="#000" stroke-width="3.6"/><text x="514.7" y="2506.5" font-size="23">0</text><text x="667.5" y="2506.5" font-size="23" text-anchor="middle">0.5</text><text x="817.1" y="2506.5" font-size="23" text-anchor="end">1</text><text x="667.0" y="2287.2" font-size="24" text-anchor="middle" fill="#1a1a1a">Bone marrow</text><text x="668.0" y="2316.2" font-size="23.5" text-anchor="middle" fill="#1a1a1a"><tspan font-style="italic">P</tspan> = 4.3 × 10<tspan dy="-10" font-size="15.5">−88</tspan></text><path d="M835.7 2403.2C838.3 2394.5 845.1 2364.3 851.6 2351.3C858.1 2338.4 868.3 2329.5 874.5 2325.4C880.7 2321.4 883.2 2327.8 888.9 2326.8C894.6 2325.9 903.5 2320.7 908.7 2319.8C914.0 2319.0 915.6 2317.6 920.4 2321.9C925.1 2326.3 932.7 2339.7 937.5 2345.7C942.3 2351.8 944.7 2354.5 949.1 2358.4C953.4 2362.2 958.7 2362.8 963.4 2368.9C968.2 2374.9 973.5 2386.8 977.8 2394.8C982.1 2402.7 984.6 2408.8 989.4 2416.5C994.2 2424.2 999.9 2434.0 1006.5 2441.0C1013.2 2448.0 1021.8 2453.8 1029.5 2458.5C1037.1 2463.2 1043.8 2466.5 1052.4 2469.0C1061.0 2471.4 1066.3 2472.3 1081.1 2473.2C1095.9 2474.1 1131.3 2474.4 1141.3 2474.6L1141.3 2474.6L835.7 2474.6Z" fill="#bdd5e9" fill-opacity="0.97"/><path d="M835.7 2403.2C838.3 2394.5 845.1 2364.3 851.6 2351.3C858.1 2338.4 868.3 2329.5 874.5 2325.4C880.7 2321.4 883.2 2327.8 888.9 2326.8C894.6 2325.9 903.5 2320.7 908.7 2319.8C914.0 2319.0 915.6 2317.6 920.4 2321.9C925.1 2326.3 932.7 2339.7 937.5 2345.7C942.3 2351.8 944.7 2354.5 949.1 2358.4C953.4 2362.2 958.7 2362.8 963.4 2368.9C968.2 2374.9 973.5 2386.8 977.8 2394.8C982.1 2402.7 984.6 2408.8 989.4 2416.5C994.2 2424.2 999.9 2434.0 1006.5 2441.0C1013.2 2448.0 1021.8 2453.8 1029.5 2458.5C1037.1 2463.2 1043.8 2466.5 1052.4 2469.0C1061.0 2471.4 1066.3 2472.3 1081.1 2473.2C1095.9 2474.1 1131.3 2474.4 1141.3 2474.6" fill="none" stroke="#7eaed3" stroke-width="3.4"/><path d="M835.7 2455.7C838.3 2455.9 846.1 2455.9 851.6 2457.1C857.1 2458.3 862.0 2460.9 868.7 2462.7C875.4 2464.4 885.0 2467.4 891.6 2467.6C898.3 2467.8 902.0 2466.5 908.7 2464.1C915.5 2461.6 924.3 2457.2 932.0 2452.9C939.7 2448.6 946.8 2443.1 954.9 2438.2C963.0 2433.3 972.9 2428.3 980.6 2423.5C988.2 2418.7 993.5 2415.7 1000.7 2409.5C1007.9 2403.3 1016.0 2393.2 1023.6 2386.4C1031.3 2379.5 1039.4 2373.1 1046.6 2368.2C1053.7 2363.3 1060.0 2359.5 1066.7 2356.9C1073.5 2354.4 1080.7 2352.7 1086.9 2352.7C1093.1 2352.7 1097.8 2353.8 1104.0 2356.9C1110.2 2360.1 1118.1 2365.8 1124.2 2371.7C1130.3 2377.5 1137.9 2388.6 1140.7 2392.0L1140.7 2474.6L835.7 2474.6Z" fill="#fbbab3" fill-opacity="0.82"/><path d="M835.7 2455.7C838.3 2455.9 846.1 2455.9 851.6 2457.1C857.1 2458.3 862.0 2460.9 868.7 2462.7C875.4 2464.4 885.0 2467.4 891.6 2467.6C898.3 2467.8 902.0 2466.5 908.7 2464.1C915.5 2461.6 924.3 2457.2 932.0 2452.9C939.7 2448.6 946.8 2443.1 954.9 2438.2C963.0 2433.3 972.9 2428.3 980.6 2423.5C988.2 2418.7 993.5 2415.7 1000.7 2409.5C1007.9 2403.3 1016.0 2393.2 1023.6 2386.4C1031.3 2379.5 1039.4 2373.1 1046.6 2368.2C1053.7 2363.3 1060.0 2359.5 1066.7 2356.9C1073.5 2354.4 1080.7 2352.7 1086.9 2352.7C1093.1 2352.7 1097.8 2353.8 1104.0 2356.9C1110.2 2360.1 1118.1 2365.8 1124.2 2371.7C1130.3 2377.5 1137.9 2388.6 1140.7 2392.0" fill="none" stroke="#f7806f" stroke-width="3.4"/><rect x="833.8" y="2264.3" width="309.4" height="210.0" fill="none" stroke="#000" stroke-width="3.8"/><path d="M835.7 2476.0L835.7 2488.0" stroke="#000" stroke-width="3.6"/><path d="M912.1 2476.0L912.1 2488.0" stroke="#000" stroke-width="3.6"/><path d="M988.5 2476.0L988.5 2488.0" stroke="#000" stroke-width="3.6"/><path d="M1064.9 2476.0L1064.9 2488.0" stroke="#000" stroke-width="3.6"/><path d="M1141.3 2476.0L1141.3 2488.0" stroke="#000" stroke-width="3.6"/><text x="836.0" y="2506.5" font-size="23">0</text><text x="988.5" y="2506.5" font-size="23" text-anchor="middle">0.5</text><text x="1137.8" y="2506.5" font-size="23" text-anchor="end">1</text><text x="988.5" y="2287.2" font-size="24" text-anchor="middle" fill="#1a1a1a">Spleen</text><text x="989.5" y="2316.2" font-size="23.5" text-anchor="middle" fill="#1a1a1a"><tspan font-style="italic">P</tspan> = 4.4 × 10<tspan dy="-10" font-size="15.5">−15</tspan></text><path d="M1156.9 2448.0C1158.3 2442.6 1162.1 2427.9 1165.5 2415.8C1168.8 2403.6 1172.7 2385.8 1177.1 2375.2C1181.4 2364.5 1186.2 2360.7 1191.4 2352.0C1196.7 2343.4 1202.3 2328.9 1208.5 2323.3C1214.8 2317.7 1223.5 2318.4 1228.7 2318.4C1234.0 2318.4 1235.7 2320.7 1240.0 2323.3C1244.3 2326.0 1250.1 2332.9 1254.4 2334.5C1258.7 2336.2 1261.2 2331.2 1266.0 2333.1C1270.8 2335.1 1277.9 2339.0 1283.1 2346.4C1288.4 2353.9 1292.2 2367.3 1297.5 2378.0C1302.7 2388.6 1308.8 2399.4 1314.6 2410.2C1320.3 2420.9 1326.3 2434.6 1332.0 2442.4C1337.8 2450.2 1343.4 2453.5 1349.1 2457.1C1354.8 2460.7 1360.0 2461.8 1366.2 2464.1C1372.4 2466.4 1375.9 2469.5 1386.4 2471.1C1396.9 2472.7 1416.8 2473.3 1429.5 2473.9C1442.2 2474.5 1457.0 2474.5 1462.5 2474.6L1462.5 2474.6L1156.9 2474.6Z" fill="#bdd5e9" fill-opacity="0.97"/><path d="M1156.9 2448.0C1158.3 2442.6 1162.1 2427.9 1165.5 2415.8C1168.8 2403.6 1172.7 2385.8 1177.1 2375.2C1181.4 2364.5 1186.2 2360.7 1191.4 2352.0C1196.7 2343.4 1202.3 2328.9 1208.5 2323.3C1214.8 2317.7 1223.5 2318.4 1228.7 2318.4C1234.0 2318.4 1235.7 2320.7 1240.0 2323.3C1244.3 2326.0 1250.1 2332.9 1254.4 2334.5C1258.7 2336.2 1261.2 2331.2 1266.0 2333.1C1270.8 2335.1 1277.9 2339.0 1283.1 2346.4C1288.4 2353.9 1292.2 2367.3 1297.5 2378.0C1302.7 2388.6 1308.8 2399.4 1314.6 2410.2C1320.3 2420.9 1326.3 2434.6 1332.0 2442.4C1337.8 2450.2 1343.4 2453.5 1349.1 2457.1C1354.8 2460.7 1360.0 2461.8 1366.2 2464.1C1372.4 2466.4 1375.9 2469.5 1386.4 2471.1C1396.9 2472.7 1416.8 2473.3 1429.5 2473.9C1442.2 2474.5 1457.0 2474.5 1462.5 2474.6" fill="none" stroke="#7eaed3" stroke-width="3.4"/><path d="M1156.9 2474.6C1168.9 2474.5 1212.0 2474.7 1228.7 2473.9C1245.5 2473.1 1249.3 2473.1 1257.4 2469.7C1265.5 2466.3 1271.1 2461.1 1277.3 2453.6C1283.5 2446.1 1289.4 2435.0 1294.7 2424.9C1300.0 2414.7 1303.8 2404.3 1309.1 2392.7C1314.3 2381.0 1320.5 2365.0 1326.2 2354.8C1331.9 2344.7 1339.0 2335.8 1343.3 2331.7C1347.6 2327.7 1348.5 2329.4 1351.9 2330.3C1355.2 2331.3 1358.7 2331.7 1363.5 2337.3C1368.3 2342.9 1374.4 2356.1 1380.6 2364.0C1386.8 2371.8 1395.5 2380.5 1400.8 2384.3C1406.1 2388.0 1407.6 2387.2 1412.4 2386.4C1417.2 2385.5 1424.7 2381.2 1429.5 2379.4C1434.3 2377.5 1437.3 2375.2 1441.1 2375.2C1444.9 2375.2 1448.8 2377.4 1452.4 2379.4C1456.0 2381.3 1460.8 2385.8 1462.5 2387.1L1462.5 2474.6L1156.9 2474.6Z" fill="#fbbab3" fill-opacity="0.82"/><path d="M1156.9 2474.6C1168.9 2474.5 1212.0 2474.7 1228.7 2473.9C1245.5 2473.1 1249.3 2473.1 1257.4 2469.7C1265.5 2466.3 1271.1 2461.1 1277.3 2453.6C1283.5 2446.1 1289.4 2435.0 1294.7 2424.9C1300.0 2414.7 1303.8 2404.3 1309.1 2392.7C1314.3 2381.0 1320.5 2365.0 1326.2 2354.8C1331.9 2344.7 1339.0 2335.8 1343.3 2331.7C1347.6 2327.7 1348.5 2329.4 1351.9 2330.3C1355.2 2331.3 1358.7 2331.7 1363.5 2337.3C1368.3 2342.9 1374.4 2356.1 1380.6 2364.0C1386.8 2371.8 1395.5 2380.5 1400.8 2384.3C1406.1 2388.0 1407.6 2387.2 1412.4 2386.4C1417.2 2385.5 1424.7 2381.2 1429.5 2379.4C1434.3 2377.5 1437.3 2375.2 1441.1 2375.2C1444.9 2375.2 1448.8 2377.4 1452.4 2379.4C1456.0 2381.3 1460.8 2385.8 1462.5 2387.1" fill="none" stroke="#f7806f" stroke-width="3.4"/><rect x="1155.0" y="2264.3" width="309.4" height="210.0" fill="none" stroke="#000" stroke-width="3.8"/><path d="M1156.9 2476.0L1156.9 2488.0" stroke="#000" stroke-width="3.6"/><path d="M1233.3 2476.0L1233.3 2488.0" stroke="#000" stroke-width="3.6"/><path d="M1309.7 2476.0L1309.7 2488.0" stroke="#000" stroke-width="3.6"/><path d="M1386.1 2476.0L1386.1 2488.0" stroke="#000" stroke-width="3.6"/><path d="M1462.5 2476.0L1462.5 2488.0" stroke="#000" stroke-width="3.6"/><text x="1157.2" y="2506.5" font-size="23">0</text><text x="1309.7" y="2506.5" font-size="23" text-anchor="middle">0.5</text><text x="1459.0" y="2506.5" font-size="23" text-anchor="end">1</text><text x="1309.7" y="2287.2" font-size="24" text-anchor="middle" fill="#1a1a1a">Peripheral blood</text><text x="1310.7" y="2316.2" font-size="23.5" text-anchor="middle" fill="#1a1a1a"><tspan font-style="italic">P</tspan> = 1.6 × 10<tspan dy="-10" font-size="15.5">−4</tspan></text><path d="M501.4 2264.5L512.5 2264.5" stroke="#000" stroke-width="3.6"/><text x="493.0" y="2273.3" font-size="22.5" text-anchor="end">3</text><path d="M501.4 2334.2L512.5 2334.2" stroke="#000" stroke-width="3.6"/><text x="493.0" y="2343.0" font-size="22.5" text-anchor="end">2</text><path d="M501.4 2404.8L512.5 2404.8" stroke="#000" stroke-width="3.6"/><text x="493.0" y="2413.6" font-size="22.5" text-anchor="end">1</text><path d="M501.4 2474.6L512.5 2474.6" stroke="#000" stroke-width="3.6"/><text x="493.0" y="2483.4" font-size="22.5" text-anchor="end">0</text><text x="466.0" y="2369.0" font-size="32" text-anchor="middle" transform="rotate(-90 466.0 2369.0)">Density</text><text x="840.3" y="2531.2" font-size="32">G2M cell cycle score</text><rect x="1480" y="2410.1" width="22.3" height="21.4" fill="#bdd5e9" stroke="#7eaed3" stroke-width="3"/><rect x="1480" y="2445" width="22.3" height="22.3" fill="#fbbab3" stroke="#f7806f" stroke-width="3"/><text x="1511.5" y="2428.0" font-size="22.5">control</text><text x="1511.5" y="2464.4" font-size="22.5">preNeu</text><text x="1571.0" y="2279.4" font-size="40" font-weight="bold">k</text><rect x="1692.0" y="2272.0" width="170.3" height="226.6" fill="none" stroke="#000" stroke-width="2.9"/><path d="M1679.8 2322.0L1692.0 2322.0" stroke="#000" stroke-width="3.4"/><text x="1675.5" y="2330.0" font-size="20.5" text-anchor="end">1.0</text><path d="M1679.8 2387.3L1692.0 2387.3" stroke="#000" stroke-width="3.4"/><text x="1675.5" y="2395.3" font-size="20.5" text-anchor="end">0.5</text><path d="M1679.8 2452.6L1692.0 2452.6" stroke="#000" stroke-width="3.4"/><text x="1675.5" y="2460.6" font-size="20.5" text-anchor="end">0.0</text><text x="1630.5" y="2385.0" font-size="23.4" text-anchor="middle" transform="rotate(-90 1630.5 2385.0)">G2M cell cycle score</text><text x="1723.9" y="2522.8" font-size="22.5" text-anchor="middle">BM</text><text x="1776.7" y="2522.8" font-size="22.5" text-anchor="middle">SP</text><text x="1830.2" y="2522.8" font-size="22.5" text-anchor="middle">PB</text><path d="M1720.4 2351.4h0M1717.9 2351.2h0M1703.8 2339.8h0M1726.2 2375.9h0M1735.1 2351.6h0M1730.4 2327.7h0M1713.8 2344.8h0M1730.9 2353.8h0M1711.6 2345.4h0M1738.8 2328.2h0M1728.5 2380.8h0M1715.3 2331.4h0M1725.7 2370.1h0M1722.1 2349.7h0M1718.2 2354.5h0M1731.6 2366.7h0M1715.1 2322.5h0M1733.9 2354.1h0M1733.2 2352.1h0M1708.6 2350.0h0M1739.5 2321.4h0M1718.0 2322.1h0M1719.4 2354.1h0M1721.9 2351.8h0M1719.3 2343.7h0M1720.0 2329.1h0M1735.2 2345.7h0M1720.1 2366.4h0M1719.3 2376.2h0M1727.9 2372.5h0M1720.5 2321.5h0M1725.6 2344.0h0M1712.7 2354.1h0M1726.3 2375.8h0M1727.1 2359.1h0M1725.8 2375.0h0M1732.1 2367.5h0M1703.3 2326.2h0M1724.0 2387.0h0M1710.8 2358.6h0M1720.5 2361.7h0M1731.0 2338.7h0M1727.0 2381.8h0M1722.6 2388.1h0M1741.9 2344.3h0M1738.3 2354.1h0M1744.2 2325.6h0M1722.9 2372.4h0M1726.7 2364.4h0M1722.7 2337.0h0M1718.3 2376.9h0M1717.2 2358.0h0M1726.9 2383.5h0M1719.7 2376.2h0M1721.2 2328.1h0M1732.6 2337.2h0M1722.8 2378.1h0M1727.9 2323.5h0M1727.1 2330.1h0M1720.5 2382.9h0M1717.6 2375.6h0M1725.1 2338.4h0M1730.0 2344.0h0M1726.6 2323.9h0M1747.3 2329.8h0M1707.4 2322.1h0M1712.9 2360.6h0M1732.2 2362.2h0M1743.3 2331.0h0M1729.9 2377.1h0M1737.4 2354.0h0M1721.3 2361.4h0M1725.3 2365.7h0M1730.7 2335.1h0M1724.9 2375.1h0M1720.6 2348.8h0M1734.9 2354.7h0M1737.3 2329.8h0M1700.5 2338.4h0M1739.3 2351.8h0M1722.5 2369.8h0M1732.4 2352.0h0M1737.4 2358.8h0M1726.3 2372.0h0M1714.1 2348.3h0M1729.0 2322.4h0M1721.9 2358.9h0M1721.3 2384.5h0M1707.3 2323.9h0M1733.6 2352.3h0M1722.4 2365.1h0M1721.8 2354.1h0M1716.9 2328.3h0M1727.5 2355.7h0M1730.0 2326.7h0M1738.1 2326.0h0M1714.9 2344.0h0M1729.0 2333.2h0M1724.2 2355.1h0M1720.6 2384.5h0M1741.9 2335.7h0M1724.6 2387.5h0M1723.1 2344.7h0M1724.1 2377.3h0M1724.6 2356.3h0M1722.5 2373.6h0M1724.0 2379.2h0M1727.9 2377.7h0M1717.8 2331.2h0M1726.6 2381.0h0M1699.9 2329.4h0M1720.8 2370.5h0M1735.6 2324.4h0M1731.3 2341.4h0M1704.0 2330.2h0M1720.5 2362.9h0M1721.2 2342.4h0M1732.8 2359.2h0M1704.5 2336.0h0M1709.4 2348.1h0M1721.9 2381.7h0M1721.5 2361.3h0M1731.0 2353.9h0M1722.0 2369.9h0M1725.3 2387.7h0M1711.4 2343.7h0M1717.1 2328.7h0M1737.5 2337.5h0M1720.6 2331.8h0M1724.3 2348.5h0M1722.6 2371.0h0M1717.5 2372.6h0M1724.3 2328.6h0M1701.4 2332.2h0M1708.7 2345.4h0M1726.8 2377.8h0M1732.4 2353.7h0M1738.2 2357.4h0M1735.9 2340.8h0M1720.9 2358.1h0M1716.5 2361.8h0M1710.5 2343.8h0M1717.6 2361.6h0M1730.6 2371.8h0M1720.7 2345.0h0M1724.9 2351.9h0M1724.7 2330.1h0M1704.7 2338.7h0M1728.9 2324.1h0M1700.0 2325.1h0M1730.6 2327.0h0M1721.2 2381.4h0M1731.8 2370.3h0M1727.4 2360.5h0M1723.8 2374.8h0M1704.9 2333.1h0M1713.7 2344.9h0M1717.9 2360.3h0M1729.0 2378.6h0M1724.4 2357.5h0M1724.4 2329.7h0M1722.6 2324.3h0M1716.9 2323.7h0M1726.6 2371.9h0M1723.6 2381.2h0M1726.9 2331.1h0M1726.8 2375.5h0M1730.9 2324.1h0M1719.8 2377.2h0M1731.5 2368.3h0M1712.2 2353.0h0M1726.2 2353.3h0M1744.7 2336.0h0M1728.1 2383.6h0M1716.8 2339.6h0M1726.6 2339.1h0M1726.2 2372.9h0M1716.6 2359.9h0M1721.1 2355.9h0M1726.8 2359.5h0M1709.6 2328.7h0M1736.5 2328.6h0M1727.3 2386.8h0M1714.7 2368.4h0M1736.0 2362.5h0M1723.6 2358.9h0M1738.4 2337.1h0M1723.7 2331.8h0M1723.0 2360.4h0M1703.9 2322.0h0M1712.9 2323.2h0M1702.9 2344.3h0M1725.0 2360.5h0M1725.3 2383.5h0M1720.3 2351.6h0M1742.8 2341.8h0M1727.4 2385.2h0M1711.6 2341.2h0M1717.9 2353.5h0M1713.3 2353.3h0M1710.3 2324.3h0M1732.6 2328.4h0M1736.5 2321.9h0M1730.7 2374.5h0M1724.7 2346.7h0M1722.0 2366.9h0M1740.9 2351.2h0M1708.7 2354.5h0M1724.2 2379.1h0M1715.4 2347.7h0M1735.2 2328.2h0M1720.4 2366.1h0M1706.2 2323.3h0M1738.5 2355.8h0M1744.2 2346.0h0M1740.9 2349.9h0M1718.0 2370.0h0M1721.7 2377.5h0M1723.0 2385.7h0M1722.5 2373.5h0M1724.2 2376.2h0M1726.6 2384.0h0M1745.3 2347.1h0M1735.5 2344.3h0M1736.6 2323.2h0M1722.8 2351.7h0M1714.2 2325.1h0M1747.4 2335.7h0M1719.6 2349.0h0M1742.8 2348.9h0M1727.7 2372.5h0M1717.7 2352.4h0M1718.5 2368.6h0M1734.4 2322.9h0M1726.9 2369.6h0M1725.1 2372.3h0M1725.9 2322.2h0M1713.8 2344.8h0M1733.3 2363.9h0M1724.4 2330.5h0M1729.7 2375.3h0M1726.0 2386.4h0M1727.6 2373.8h0M1715.8 2362.8h0M1718.5 2373.8h0M1722.8 2384.1h0M1727.4 2385.3h0M1706.9 2343.6h0M1714.2 2364.7h0M1709.3 2327.7h0M1721.6 2382.6h0M1728.3 2325.2h0M1705.6 2340.6h0M1731.1 2359.7h0M1728.0 2336.3h0M1727.9 2349.5h0M1738.5 2344.8h0M1720.6 2365.9h0M1738.2 2356.0h0M1723.4 2376.9h0M1727.7 2362.9h0M1729.0 2369.6h0M1717.9 2322.4h0M1730.3 2366.6h0M1719.5 2382.2h0M1725.6 2330.4h0M1724.3 2373.8h0M1717.8 2373.8h0M1727.3 2326.9h0M1735.7 2362.5h0M1732.9 2342.2h0M1716.0 2346.1h0M1724.5 2387.9h0M1731.7 2359.5h0M1732.8 2353.3h0M1727.4 2374.7h0M1736.8 2347.5h0M1719.2 2330.0h0M1725.6 2386.9h0M1723.3 2332.1h0M1722.4 2381.6h0M1723.5 2386.7h0M1741.0 2352.7h0M1735.2 2329.4h0M1723.7 2352.2h0M1738.5 2357.7h0M1726.1 2374.0h0M1724.3 2388.2h0M1731.4 2337.7h0M1720.6 2323.6h0M1720.8 2387.0h0M1720.7 2321.5h0M1722.0 2385.8h0M1728.4 2381.1h0M1726.2 2381.5h0M1708.0 2348.3h0M1708.0 2334.8h0M1712.0 2361.4h0M1735.3 2350.3h0M1728.3 2368.8h0M1715.5 2334.2h0M1712.1 2352.8h0M1721.6 2382.4h0M1726.4 2360.8h0M1720.7 2383.4h0M1716.3 2371.5h0M1713.4 2330.3h0M1734.9 2364.5h0M1705.9 2333.7h0M1732.1 2326.1h0M1734.9 2361.7h0M1742.3 2321.9h0M1730.9 2324.9h0M1722.5 2347.5h0M1735.6 2333.4h0M1731.6 2365.8h0M1718.2 2339.9h0M1726.7 2337.5h0M1724.9 2358.2h0M1708.5 2356.5h0M1728.4 2377.9h0M1728.5 2376.3h0M1727.1 2383.8h0M1707.7 2328.8h0M1711.2 2325.1h0M1723.8 2371.6h0M1715.5 2348.1h0M1707.5 2324.9h0M1708.6 2356.8h0M1708.6 2342.8h0M1707.5 2335.7h0M1724.0 2365.8h0M1730.6 2370.5h0M1701.7 2338.8h0M1714.6 2365.9h0M1747.5 2336.5h0M1718.7 2380.6h0M1711.2 2348.0h0M1732.7 2353.0h0M1728.6 2332.6h0M1720.9 2352.4h0M1746.2 2339.9h0M1718.1 2373.8h0M1728.1 2330.4h0M1734.4 2357.1h0M1740.3 2348.4h0M1720.1 2382.4h0M1725.4 2365.1h0M1716.5 2359.0h0M1717.0 2331.1h0M1705.1 2328.3h0M1713.5 2361.8h0M1728.3 2382.9h0M1716.6 2326.8h0M1722.7 2349.6h0M1732.0 2346.1h0M1743.2 2322.8h0M1731.8 2363.1h0M1728.3 2352.3h0M1739.6 2353.6h0M1720.9 2376.9h0M1731.6 2363.0h0M1703.1 2337.4h0M1725.6 2385.6h0M1726.2 2383.2h0M1727.8 2367.7h0M1731.5 2329.5h0M1734.8 2363.7h0M1709.1 2321.5h0M1723.8 2340.5h0M1716.3 2350.5h0M1722.9 2352.2h0M1727.8 2374.1h0M1732.5 2358.7h0M1722.9 2364.7h0M1708.4 2351.4h0M1718.5 2370.3h0M1730.5 2333.9h0M1725.5 2381.4h0M1727.5 2377.5h0M1722.8 2382.4h0M1724.7 2385.0h0M1720.8 2373.7h0M1735.9 2340.8h0M1720.4 2382.5h0M1722.6 2375.6h0M1737.7 2352.9h0M1732.8 2327.9h0M1724.0 2386.5h0M1723.4 2335.6h0M1704.7 2332.9h0M1710.8 2358.4h0M1728.3 2378.9h0M1710.2 2339.4h0M1728.5 2335.3h0M1719.7 2373.8h0M1736.7 2359.2h0M1725.6 2359.3h0M1718.0 2361.2h0M1725.6 2375.5h0M1721.6 2373.6h0M1709.1 2339.1h0M1707.5 2345.6h0M1722.8 2388.1h0M1729.9 2377.4h0M1723.0 2357.5h0M1720.0 2342.8h0M1723.4 2381.6h0M1703.4 2340.3h0M1737.6 2352.3h0M1727.5 2361.1h0M1721.8 2372.7h0M1722.3 2368.6h0M1730.9 2367.3h0M1728.9 2335.2h0M1716.0 2344.0h0M1718.0 2371.5h0M1737.1 2360.0h0M1724.4 2382.4h0M1733.0 2326.1h0M1723.3 2387.2h0M1719.4 2354.4h0M1710.9 2341.1h0M1723.8 2328.0h0M1740.2 2325.9h0M1721.0 2387.7h0M1724.6 2374.0h0M1724.3 2386.8h0M1719.8 2378.0h0M1706.2 2350.2h0M1726.4 2334.2h0M1721.8 2357.3h0M1736.2 2337.4h0M1727.9 2332.0h0M1720.6 2358.5h0M1727.1 2359.5h0M1724.7 2387.2h0M1721.0 2375.1h0M1711.5 2322.6h0M1742.8 2332.8h0M1725.0 2358.7h0M1719.9 2368.7h0M1726.3 2387.5h0M1720.2 2358.1h0M1711.9 2352.7h0M1710.4 2322.1h0M1715.5 2350.5h0M1726.6 2379.1h0M1713.0 2325.3h0M1737.2 2356.5h0M1720.9 2385.0h0M1723.3 2385.8h0M1733.9 2322.5h0M1746.5 2341.9h0M1740.1 2334.4h0M1723.0 2387.0h0M1721.3 2374.8h0M1700.3 2339.3h0M1710.0 2347.2h0M1716.2 2366.5h0M1731.6 2323.0h0M1701.7 2332.5h0M1717.2 2374.1h0M1736.5 2341.8h0M1701.3 2337.2h0M1724.7 2382.3h0M1715.8 2369.6h0M1723.2 2378.7h0M1731.3 2373.7h0M1717.5 2355.7h0M1748.0 2333.7h0M1725.7 2367.9h0M1732.3 2358.0h0M1720.1 2370.1h0M1725.1 2366.5h0M1721.8 2374.2h0M1707.5 2325.1h0M1744.1 2332.4h0M1729.2 2380.4h0M1721.6 2367.2h0M1721.4 2379.4h0M1733.8 2325.1h0M1710.2 2356.2h0M1706.9 2322.2h0M1701.3 2331.9h0M1729.8 2324.5h0M1745.6 2334.0h0M1725.9 2338.5h0M1701.7 2326.2h0M1724.5 2364.8h0M1732.1 2360.5h0M1717.2 2367.2h0M1723.0 2386.7h0M1721.1 2340.2h0M1718.1 2337.6h0M1747.0 2341.7h0M1726.7 2375.8h0M1726.1 2365.1h0M1717.2 2371.5h0M1712.8 2337.1h0M1717.8 2330.3h0M1724.2 2353.0h0M1724.0 2381.8h0M1722.2 2338.7h0M1727.0 2372.4h0M1723.1 2368.3h0M1720.3 2345.9h0M1716.6 2368.2h0M1727.7 2382.9h0M1728.5 2335.5h0M1703.7 2338.8h0M1714.0 2347.4h0M1729.3 2334.6h0M1728.4 2348.2h0M1715.5 2370.3h0M1728.8 2378.6h0M1719.7 2365.8h0M1735.7 2357.6h0M1727.1 2383.0h0M1744.9 2333.9h0M1717.9 2368.0h0M1728.5 2346.7h0M1721.5 2384.0h0M1733.4 2334.4h0M1739.8 2338.4h0M1720.1 2329.0h0M1715.3 2351.8h0M1714.6 2367.4h0M1745.6 2340.9h0M1719.2 2381.4h0M1726.3 2374.9h0M1741.3 2339.5h0M1720.0 2361.7h0M1717.2 2365.3h0M1716.7 2330.5h0M1727.8 2364.8h0M1733.4 2363.2h0M1721.7 2379.6h0M1722.5 2341.2h0M1723.0 2330.6h0M1714.2 2357.7h0M1719.2 2378.7h0M1733.8 2329.4h0M1714.7 2335.2h0M1701.7 2328.4h0M1722.9 2387.4h0M1718.8 2372.2h0M1711.7 2327.5h0M1720.3 2378.1h0M1729.1 2350.6h0M1716.3 2323.0h0M1715.6 2325.4h0M1735.2 2338.0h0M1720.6 2323.9h0M1730.7 2332.6h0M1736.4 2325.6h0M1701.4 2330.8h0M1738.3 2328.0h0M1733.1 2349.8h0M1729.0 2376.6h0M1723.9 2373.8h0M1728.6 2356.8h0M1709.8 2325.5h0M1722.2 2384.8h0M1703.3 2325.8h0M1701.0 2322.2h0M1719.3 2371.4h0M1718.1 2363.2h0M1719.7 2372.0h0M1699.7 2339.7h0M1718.9 2381.1h0M1729.2 2379.7h0M1735.1 2324.3h0M1722.4 2385.3h0M1718.8 2372.8h0M1720.8 2378.5h0M1716.4 2353.4h0M1716.8 2374.5h0M1725.0 2382.3h0M1722.2 2381.4h0M1705.7 2339.9h0M1742.1 2332.8h0M1730.5 2364.7h0M1726.0 2351.1h0M1727.1 2378.8h0M1724.9 2351.5h0M1709.4 2332.0h0M1744.8 2346.4h0M1724.2 2385.7h0M1715.7 2368.1h0M1705.6 2332.6h0M1717.6 2333.9h0M1735.5 2347.2h0M1727.0 2384.3h0M1739.8 2355.9h0M1732.0 2339.4h0M1742.8 2335.5h0M1731.8 2337.9h0M1737.0 2357.2h0M1747.5 2335.6h0M1722.6 2328.4h0M1721.0 2376.4h0M1723.2 2365.2h0M1722.9 2361.2h0M1710.0 2338.4h0M1738.5 2349.4h0M1728.1 2380.2h0M1708.4 2338.9h0M1718.9 2350.3h0M1723.6 2327.9h0M1705.4 2347.4h0M1700.0 2327.0h0M1725.2 2372.9h0M1722.6 2388.1h0M1737.0 2326.4h0M1734.2 2345.5h0M1722.6 2385.0h0M1725.5 2329.4h0M1723.3 2375.6h0M1736.9 2328.7h0M1717.5 2352.2h0M1728.8 2373.8h0M1726.7 2374.1h0M1723.5 2375.1h0M1715.5 2343.0h0M1726.4 2357.4h0M1741.5 2330.0h0M1721.4 2387.8h0M1731.0 2370.4h0M1735.0 2347.6h0M1714.7 2354.4h0M1710.8 2360.4h0M1725.6 2345.3h0M1703.7 2343.5h0M1728.1 2382.1h0M1721.6 2332.0h0M1723.0 2384.9h0M1709.4 2358.1h0M1724.2 2352.2h0M1730.7 2352.8h0M1727.0 2322.3h0M1744.9 2343.1h0M1732.9 2352.2h0M1733.2 2324.5h0M1721.4 2322.2h0M1723.5 2321.8h0M1725.3 2362.7h0M1746.1 2321.8h0M1726.7 2385.1h0M1715.1 2363.2h0M1717.3 2369.4h0M1735.2 2324.1h0M1717.2 2355.3h0M1717.1 2335.2h0M1720.9 2382.9h0M1703.6 2345.1h0M1709.3 2334.7h0M1733.7 2350.1h0M1728.9 2342.9h0M1721.8 2331.0h0M1727.3 2373.5h0M1732.4 2335.9h0M1721.0 2382.1h0M1716.1 2370.6h0M1718.4 2379.0h0M1715.7 2370.1h0M1724.6 2380.6h0M1721.4 2385.4h0M1732.5 2322.1h0M1701.3 2338.6h0M1725.0 2381.9h0M1720.2 2357.8h0M1722.3 2383.0h0M1736.4 2352.3h0M1735.8 2344.2h0M1725.1 2377.1h0M1748.0 2339.0h0M1735.8 2348.6h0M1717.4 2376.6h0M1724.5 2347.5h0M1724.5 2365.2h0M1724.8 2331.5h0M1738.5 2335.4h0M1722.2 2386.9h0M1731.9 2334.3h0M1747.4 2332.4h0M1706.0 2322.4h0M1734.3 2326.5h0M1730.7 2348.1h0M1721.8 2362.6h0M1728.4 2380.3h0M1721.2 2387.4h0M1714.3 2345.1h0M1733.5 2354.6h0M1739.8 2348.3h0M1735.3 2352.3h0M1721.9 2378.5h0M1722.6 2349.0h0M1719.8 2371.1h0M1727.6 2378.6h0M1727.6 2442.7h0M1726.7 2446.6h0M1725.2 2450.6h0M1726.7 2451.6h0M1775.8 2374.0h0M1779.9 2375.9h0M1774.9 2351.9h0M1776.3 2365.4h0M1778.3 2366.8h0M1775.1 2340.9h0M1778.0 2364.5h0M1778.6 2355.6h0M1777.1 2353.8h0M1780.0 2345.5h0M1776.9 2348.6h0M1777.0 2346.5h0M1779.7 2362.5h0M1779.7 2354.9h0M1780.6 2356.9h0M1775.1 2335.4h0M1778.2 2364.6h0M1774.6 2349.3h0M1777.4 2327.7h0M1779.0 2345.5h0M1779.6 2335.0h0M1775.9 2365.7h0M1777.6 2329.5h0M1775.4 2326.1h0M1778.0 2343.5h0M1777.7 2327.5h0M1780.9 2359.4h0M1778.5 2324.4h0M1779.1 2326.2h0M1775.1 2341.6h0M1778.3 2342.0h0M1776.8 2329.8h0M1778.2 2367.0h0M1776.4 2372.6h0M1776.4 2349.1h0M1778.7 2359.0h0M1777.3 2393.2h0M1778.2 2394.2h0M1779.5 2409.0h0M1774.9 2451.6h0M1830.2 2328.9h0M1829.6 2367.5h0M1829.6 2371.4h0M1829.6 2374.4h0M1830.8 2327.9h0" stroke="#f8766d" stroke-width="4.4" stroke-linecap="round" stroke-opacity="0.92"/><path d="M1723.9 2301.2C1723.8 2302.5 1724.8 2306.8 1723.5 2309.1C1722.2 2311.4 1719.2 2312.7 1716.4 2315.0C1713.5 2317.3 1709.3 2320.0 1706.5 2322.9C1703.7 2325.9 1700.8 2330.2 1699.5 2332.8C1698.3 2335.5 1698.4 2336.5 1698.8 2338.8C1699.1 2341.1 1700.3 2344.0 1701.7 2346.7C1703.2 2349.3 1705.4 2351.3 1707.5 2354.6C1709.6 2357.9 1712.6 2362.5 1714.4 2366.5C1716.2 2370.4 1717.2 2373.7 1718.4 2378.4C1719.5 2383.0 1720.6 2387.6 1721.3 2394.2C1722.0 2400.8 1722.4 2410.7 1722.7 2417.9C1723.0 2425.2 1723.2 2429.5 1723.3 2437.7C1723.4 2446.0 1723.4 2461.3 1723.5 2467.4C1723.6 2473.5 1723.8 2474.4 1723.9 2474.4C1724.0 2474.4 1724.2 2473.5 1724.3 2467.4C1724.4 2461.3 1724.4 2446.0 1724.5 2437.7C1724.6 2429.5 1724.8 2425.2 1725.1 2417.9C1725.4 2410.7 1725.7 2400.8 1726.5 2394.2C1727.2 2387.6 1728.3 2383.0 1729.4 2378.4C1730.6 2373.7 1731.6 2370.4 1733.4 2366.5C1735.2 2362.5 1738.2 2357.9 1740.3 2354.6C1742.4 2351.3 1744.6 2349.3 1746.1 2346.7C1747.5 2344.0 1748.7 2341.1 1749.0 2338.8C1749.4 2336.5 1749.5 2335.5 1748.2 2332.8C1747.0 2330.2 1744.1 2325.9 1741.3 2322.9C1738.5 2320.0 1734.3 2317.3 1731.4 2315.0C1728.6 2312.7 1725.5 2311.4 1724.3 2309.1C1723.0 2306.8 1724.0 2302.5 1723.9 2301.2" fill="none" stroke="#333" stroke-width="3.9" stroke-linejoin="round"/><path d="M1776.7 2286.3C1776.7 2288.5 1777.5 2295.7 1776.3 2299.2C1775.2 2302.6 1772.6 2303.8 1769.8 2307.1C1767.1 2310.4 1762.6 2315.0 1759.9 2319.0C1757.2 2322.9 1754.9 2326.9 1753.6 2330.8C1752.3 2334.8 1752.0 2338.1 1752.0 2342.7C1752.0 2347.3 1752.6 2353.9 1753.6 2358.6C1754.6 2363.2 1756.2 2366.1 1757.9 2370.4C1759.7 2374.7 1761.9 2379.0 1763.9 2384.3C1765.9 2389.6 1768.2 2396.8 1769.8 2402.1C1771.5 2407.4 1772.7 2411.7 1773.8 2416.0C1774.9 2420.3 1776.5 2424.2 1776.3 2427.8C1776.2 2431.5 1773.5 2433.8 1772.8 2437.7C1772.0 2441.7 1771.6 2447.3 1771.8 2451.6C1772.0 2455.9 1773.1 2459.5 1773.8 2463.5C1774.5 2467.4 1775.7 2471.1 1776.2 2475.3C1776.6 2479.6 1776.5 2489.2 1776.7 2489.2C1776.9 2489.2 1776.8 2479.6 1777.3 2475.3C1777.8 2471.1 1779.0 2467.4 1779.7 2463.5C1780.4 2459.5 1781.5 2455.9 1781.7 2451.6C1781.9 2447.3 1781.5 2441.7 1780.7 2437.7C1779.9 2433.8 1777.3 2431.5 1777.1 2427.8C1777.0 2424.2 1778.6 2420.3 1779.7 2416.0C1780.8 2411.7 1782.0 2407.4 1783.7 2402.1C1785.3 2396.8 1787.6 2389.6 1789.6 2384.3C1791.6 2379.0 1793.8 2374.7 1795.6 2370.4C1797.3 2366.1 1798.9 2363.2 1799.9 2358.6C1800.9 2353.9 1801.5 2347.3 1801.5 2342.7C1801.5 2338.1 1801.2 2334.8 1799.9 2330.8C1798.6 2326.9 1796.3 2322.9 1793.6 2319.0C1790.9 2315.0 1786.4 2310.4 1783.7 2307.1C1780.9 2303.8 1778.3 2302.6 1777.1 2299.2C1776.0 2295.7 1776.8 2288.5 1776.7 2286.3" fill="none" stroke="#333" stroke-width="3.9" stroke-linejoin="round"/><path d="M1829.8 2282.4C1829.7 2284.8 1830.5 2293.1 1829.4 2297.2C1828.3 2301.3 1825.6 2303.5 1823.3 2307.1C1820.9 2310.7 1817.2 2315.0 1815.3 2319.0C1813.5 2322.9 1812.5 2326.9 1812.4 2330.8C1812.2 2334.8 1813.9 2338.8 1814.4 2342.7C1814.8 2346.7 1816.0 2351.3 1815.3 2354.6C1814.7 2357.9 1812.0 2359.9 1810.4 2362.5C1808.7 2365.2 1805.9 2367.8 1805.4 2370.4C1805.0 2373.1 1805.9 2375.4 1807.4 2378.4C1808.9 2381.3 1811.7 2384.6 1814.4 2388.3C1817.0 2391.9 1821.0 2396.5 1823.3 2400.1C1825.6 2403.8 1827.1 2406.6 1828.2 2410.0C1829.3 2413.5 1829.3 2420.9 1829.8 2420.9C1830.3 2420.9 1830.3 2413.5 1831.4 2410.0C1832.5 2406.6 1834.0 2403.8 1836.3 2400.1C1838.6 2396.5 1842.6 2391.9 1845.2 2388.3C1847.9 2384.6 1850.7 2381.3 1852.2 2378.4C1853.6 2375.4 1854.6 2373.1 1854.1 2370.4C1853.6 2367.8 1850.8 2365.2 1849.2 2362.5C1847.5 2359.9 1844.9 2357.9 1844.2 2354.6C1843.6 2351.3 1844.7 2346.7 1845.2 2342.7C1845.7 2338.8 1847.4 2334.8 1847.2 2330.8C1847.0 2326.9 1846.1 2322.9 1844.2 2319.0C1842.4 2315.0 1838.7 2310.7 1836.3 2307.1C1834.0 2303.5 1831.3 2301.3 1830.2 2297.2C1829.1 2293.1 1829.9 2284.8 1829.8 2282.4" fill="none" stroke="#333" stroke-width="3.9" stroke-linejoin="round"/><path d="M1700.9 2344.3L1747.1 2344.3" stroke="#333" stroke-width="3.9"/><path d="M1753.0 2355.6L1800.5 2355.6" stroke="#333" stroke-width="3.9"/><path d="M1809.4 2357.2L1847.0 2357.2" stroke="#333" stroke-width="3.9"/></svg></body></html>
